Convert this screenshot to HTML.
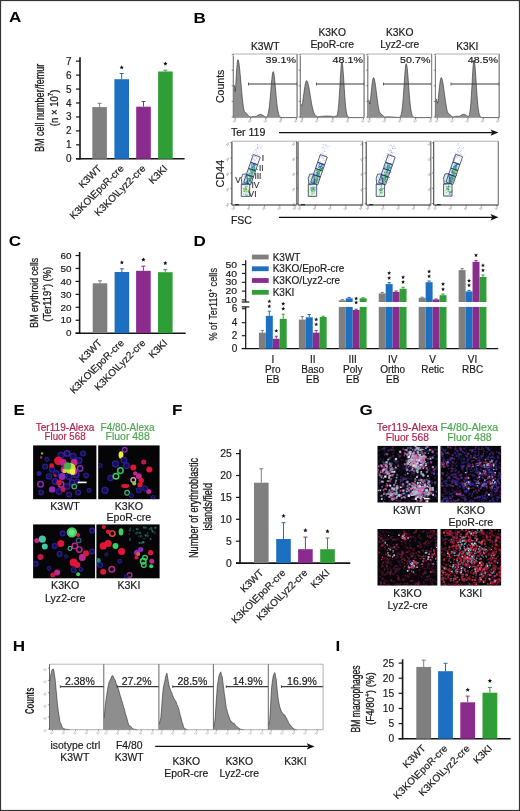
<!DOCTYPE html>
<html><head><meta charset="utf-8"><title>Figure</title>
<style>html,body{margin:0;padding:0;background:#fff;} body{width:520px;height:811px;overflow:hidden;font-family:"Liberation Sans", sans-serif;} svg{display:block;filter:blur(0.25px);}</style>
</head><body>
<svg width="520" height="811" viewBox="0 0 520 811" font-family='"Liberation Sans", sans-serif'><text transform="translate(8.90 22.30) scale(1.1 1)" font-size="15.5" font-weight="bold" fill="#000">A</text>
<text transform="translate(193.60 22.60) scale(1.1 1)" font-size="15.5" font-weight="bold" fill="#000">B</text>
<text transform="translate(8.70 245.80) scale(1.1 1)" font-size="15.5" font-weight="bold" fill="#000">C</text>
<text transform="translate(193.60 245.70) scale(1.1 1)" font-size="15.5" font-weight="bold" fill="#000">D</text>
<text transform="translate(13.60 414.90) scale(1.1 1)" font-size="15.5" font-weight="bold" fill="#000">E</text>
<text transform="translate(172.00 414.90) scale(1.1 1)" font-size="15.5" font-weight="bold" fill="#000">F</text>
<text transform="translate(359.60 414.90) scale(1.1 1)" font-size="15.5" font-weight="bold" fill="#000">G</text>
<text transform="translate(12.70 650.80) scale(1.1 1)" font-size="15.5" font-weight="bold" fill="#000">H</text>
<text transform="translate(335.60 650.80) scale(1.1 1)" font-size="15.5" font-weight="bold" fill="#000">I</text>
<line x1="80.00" y1="57.30" x2="80.00" y2="159.50" stroke="#151515" stroke-width="1.6"/>
<line x1="76.00" y1="158.80" x2="184.60" y2="158.80" stroke="#151515" stroke-width="1.6"/>
<line x1="76.00" y1="158.80" x2="80.00" y2="158.80" stroke="#151515" stroke-width="1.2"/>
<text x="71.60" y="162.30" font-size="10" fill="#1a1a1a" text-anchor="end" stroke="#1a1a1a" stroke-width="0.18">0</text>
<line x1="76.00" y1="144.85" x2="80.00" y2="144.85" stroke="#151515" stroke-width="1.2"/>
<text x="71.60" y="148.35" font-size="10" fill="#1a1a1a" text-anchor="end" stroke="#1a1a1a" stroke-width="0.18">1</text>
<line x1="76.00" y1="130.90" x2="80.00" y2="130.90" stroke="#151515" stroke-width="1.2"/>
<text x="71.60" y="134.40" font-size="10" fill="#1a1a1a" text-anchor="end" stroke="#1a1a1a" stroke-width="0.18">2</text>
<line x1="76.00" y1="116.95" x2="80.00" y2="116.95" stroke="#151515" stroke-width="1.2"/>
<text x="71.60" y="120.45" font-size="10" fill="#1a1a1a" text-anchor="end" stroke="#1a1a1a" stroke-width="0.18">3</text>
<line x1="76.00" y1="103.00" x2="80.00" y2="103.00" stroke="#151515" stroke-width="1.2"/>
<text x="71.60" y="106.50" font-size="10" fill="#1a1a1a" text-anchor="end" stroke="#1a1a1a" stroke-width="0.18">4</text>
<line x1="76.00" y1="89.05" x2="80.00" y2="89.05" stroke="#151515" stroke-width="1.2"/>
<text x="71.60" y="92.55" font-size="10" fill="#1a1a1a" text-anchor="end" stroke="#1a1a1a" stroke-width="0.18">5</text>
<line x1="76.00" y1="75.10" x2="80.00" y2="75.10" stroke="#151515" stroke-width="1.2"/>
<text x="71.60" y="78.60" font-size="10" fill="#1a1a1a" text-anchor="end" stroke="#1a1a1a" stroke-width="0.18">6</text>
<line x1="76.00" y1="61.15" x2="80.00" y2="61.15" stroke="#151515" stroke-width="1.2"/>
<text x="71.60" y="64.65" font-size="10" fill="#1a1a1a" text-anchor="end" stroke="#1a1a1a" stroke-width="0.18">7</text>
<rect x="92.30" y="107.10" width="14.60" height="51.70" fill="#7f7f7f"/>
<line x1="99.60" y1="107.10" x2="99.60" y2="103.30" stroke="#7f7f7f" stroke-width="1"/>
<line x1="97.60" y1="103.30" x2="101.60" y2="103.30" stroke="#7f7f7f" stroke-width="1"/>
<rect x="114.40" y="79.20" width="14.60" height="79.60" fill="#1d6fc1"/>
<line x1="121.70" y1="79.20" x2="121.70" y2="73.50" stroke="#1d6fc1" stroke-width="1"/>
<line x1="119.70" y1="73.50" x2="123.70" y2="73.50" stroke="#1d6fc1" stroke-width="1"/>
<rect x="136.20" y="106.70" width="14.60" height="52.10" fill="#8c2b8e"/>
<line x1="143.50" y1="106.70" x2="143.50" y2="101.50" stroke="#8c2b8e" stroke-width="1"/>
<line x1="141.50" y1="101.50" x2="145.50" y2="101.50" stroke="#8c2b8e" stroke-width="1"/>
<rect x="158.10" y="71.50" width="14.60" height="87.30" fill="#2f9e37"/>
<line x1="165.40" y1="71.50" x2="165.40" y2="70.20" stroke="#2f9e37" stroke-width="1"/>
<line x1="163.40" y1="70.20" x2="167.40" y2="70.20" stroke="#2f9e37" stroke-width="1"/>
<polygon points="121.70,65.20 122.31,66.66 123.89,66.79 122.68,67.82 123.05,69.36 121.70,68.53 120.35,69.36 120.72,67.82 119.51,66.79 121.09,66.66" fill="#111"/>
<polygon points="165.40,61.40 166.01,62.86 167.59,62.99 166.38,64.02 166.75,65.56 165.40,64.73 164.05,65.56 164.42,64.02 163.21,62.99 164.79,62.86" fill="#111"/>
<text x="102.30" y="169.10" font-size="10.0" fill="#1a1a1a" text-anchor="end" transform="rotate(-45 102.30 169.10)" stroke="#1a1a1a" stroke-width="0.18">K3WT</text>
<text x="124.40" y="169.10" font-size="10.0" fill="#1a1a1a" text-anchor="end" transform="rotate(-45 124.40 169.10)" stroke="#1a1a1a" stroke-width="0.18">K3KO\EpoR-cre</text>
<text x="146.20" y="169.10" font-size="10.0" fill="#1a1a1a" text-anchor="end" transform="rotate(-45 146.20 169.10)" stroke="#1a1a1a" stroke-width="0.18">K3KO\Lyz2-cre</text>
<text x="168.10" y="169.10" font-size="10.0" fill="#1a1a1a" text-anchor="end" transform="rotate(-45 168.10 169.10)" stroke="#1a1a1a" stroke-width="0.18">K3KI</text>
<text x="44.10" y="107.90" font-size="12.5" fill="#1a1a1a" text-anchor="middle" textLength="88.20" lengthAdjust="spacingAndGlyphs" transform="rotate(-90 44.10 107.90)" stroke="#1a1a1a" stroke-width="0.3">BM cell number/femur</text>
<text x="58.00" y="107.90" font-size="11.5" fill="#1a1a1a" text-anchor="middle" textLength="36.50" lengthAdjust="spacingAndGlyphs" transform="rotate(-90 58.00 107.90)" stroke="#1a1a1a" stroke-width="0.3">(n × 10<tspan font-size="7.5" dy="-4.5">7</tspan><tspan dy="4.5">)</tspan></text>
<line x1="79.60" y1="252.00" x2="79.60" y2="333.90" stroke="#151515" stroke-width="1.6"/>
<line x1="75.60" y1="333.20" x2="185.70" y2="333.20" stroke="#151515" stroke-width="1.6"/>
<line x1="75.60" y1="333.20" x2="79.60" y2="333.20" stroke="#151515" stroke-width="1.2"/>
<text x="71.40" y="336.40" font-size="9" fill="#1a1a1a" text-anchor="end" textLength="5.50" lengthAdjust="spacingAndGlyphs" stroke="#1a1a1a" stroke-width="0.18">0</text>
<line x1="75.60" y1="320.25" x2="79.60" y2="320.25" stroke="#151515" stroke-width="1.2"/>
<text x="71.40" y="323.45" font-size="9" fill="#1a1a1a" text-anchor="end" textLength="11.00" lengthAdjust="spacingAndGlyphs" stroke="#1a1a1a" stroke-width="0.18">10</text>
<line x1="75.60" y1="307.30" x2="79.60" y2="307.30" stroke="#151515" stroke-width="1.2"/>
<text x="71.40" y="310.50" font-size="9" fill="#1a1a1a" text-anchor="end" textLength="11.00" lengthAdjust="spacingAndGlyphs" stroke="#1a1a1a" stroke-width="0.18">20</text>
<line x1="75.60" y1="294.35" x2="79.60" y2="294.35" stroke="#151515" stroke-width="1.2"/>
<text x="71.40" y="297.55" font-size="9" fill="#1a1a1a" text-anchor="end" textLength="11.00" lengthAdjust="spacingAndGlyphs" stroke="#1a1a1a" stroke-width="0.18">30</text>
<line x1="75.60" y1="281.40" x2="79.60" y2="281.40" stroke="#151515" stroke-width="1.2"/>
<text x="71.40" y="284.60" font-size="9" fill="#1a1a1a" text-anchor="end" textLength="11.00" lengthAdjust="spacingAndGlyphs" stroke="#1a1a1a" stroke-width="0.18">40</text>
<line x1="75.60" y1="268.45" x2="79.60" y2="268.45" stroke="#151515" stroke-width="1.2"/>
<text x="71.40" y="271.65" font-size="9" fill="#1a1a1a" text-anchor="end" textLength="11.00" lengthAdjust="spacingAndGlyphs" stroke="#1a1a1a" stroke-width="0.18">50</text>
<line x1="75.60" y1="255.50" x2="79.60" y2="255.50" stroke="#151515" stroke-width="1.2"/>
<text x="71.40" y="258.70" font-size="9" fill="#1a1a1a" text-anchor="end" textLength="11.00" lengthAdjust="spacingAndGlyphs" stroke="#1a1a1a" stroke-width="0.18">60</text>
<rect x="92.70" y="283.30" width="14.60" height="49.90" fill="#7f7f7f"/>
<line x1="100.00" y1="283.30" x2="100.00" y2="280.80" stroke="#7f7f7f" stroke-width="1"/>
<line x1="98.00" y1="280.80" x2="102.00" y2="280.80" stroke="#7f7f7f" stroke-width="1"/>
<rect x="114.60" y="272.00" width="14.60" height="61.20" fill="#1d6fc1"/>
<line x1="121.90" y1="272.00" x2="121.90" y2="268.80" stroke="#1d6fc1" stroke-width="1"/>
<line x1="119.90" y1="268.80" x2="123.90" y2="268.80" stroke="#1d6fc1" stroke-width="1"/>
<rect x="136.10" y="270.80" width="14.60" height="62.40" fill="#8c2b8e"/>
<line x1="143.40" y1="270.80" x2="143.40" y2="266.20" stroke="#8c2b8e" stroke-width="1"/>
<line x1="141.40" y1="266.20" x2="145.40" y2="266.20" stroke="#8c2b8e" stroke-width="1"/>
<rect x="158.00" y="272.20" width="14.60" height="61.00" fill="#2f9e37"/>
<line x1="165.30" y1="272.20" x2="165.30" y2="269.70" stroke="#2f9e37" stroke-width="1"/>
<line x1="163.30" y1="269.70" x2="167.30" y2="269.70" stroke="#2f9e37" stroke-width="1"/>
<polygon points="121.90,260.20 122.51,261.66 124.09,261.79 122.88,262.82 123.25,264.36 121.90,263.54 120.55,264.36 120.92,262.82 119.71,261.79 121.29,261.66" fill="#111"/>
<polygon points="143.40,257.40 144.01,258.86 145.59,258.99 144.38,260.02 144.75,261.56 143.40,260.74 142.05,261.56 142.42,260.02 141.21,258.99 142.79,258.86" fill="#111"/>
<polygon points="165.30,260.90 165.91,262.36 167.49,262.49 166.28,263.52 166.65,265.06 165.30,264.24 163.95,265.06 164.32,263.52 163.11,262.49 164.69,262.36" fill="#111"/>
<text x="102.70" y="343.50" font-size="10.0" fill="#1a1a1a" text-anchor="end" transform="rotate(-45 102.70 343.50)" stroke="#1a1a1a" stroke-width="0.18">K3WT</text>
<text x="124.60" y="343.50" font-size="10.0" fill="#1a1a1a" text-anchor="end" transform="rotate(-45 124.60 343.50)" stroke="#1a1a1a" stroke-width="0.18">K3KO\EpoR-cre</text>
<text x="146.10" y="343.50" font-size="10.0" fill="#1a1a1a" text-anchor="end" transform="rotate(-45 146.10 343.50)" stroke="#1a1a1a" stroke-width="0.18">K3KO\Lyz2-cre</text>
<text x="168.00" y="343.50" font-size="10.0" fill="#1a1a1a" text-anchor="end" transform="rotate(-45 168.00 343.50)" stroke="#1a1a1a" stroke-width="0.18">K3KI</text>
<text x="37.50" y="292.75" font-size="11.8" fill="#1a1a1a" text-anchor="middle" textLength="69.90" lengthAdjust="spacingAndGlyphs" transform="rotate(-90 37.50 292.75)" stroke="#1a1a1a" stroke-width="0.3">BM erythroid cells</text>
<text x="51.40" y="294.30" font-size="10.8" fill="#1a1a1a" text-anchor="middle" textLength="54.70" lengthAdjust="spacingAndGlyphs" transform="rotate(-90 51.40 294.30)" stroke="#1a1a1a" stroke-width="0.3">(Ter119<tspan font-size="7.5" dy="-4">+</tspan><tspan dy="4">) (%)</tspan></text>
<line x1="240.00" y1="449.60" x2="240.00" y2="563.80" stroke="#151515" stroke-width="1.6"/>
<line x1="236.00" y1="563.10" x2="350.30" y2="563.10" stroke="#151515" stroke-width="1.6"/>
<line x1="236.00" y1="563.10" x2="240.00" y2="563.10" stroke="#151515" stroke-width="1.2"/>
<text x="231.70" y="566.60" font-size="10.4" fill="#1a1a1a" text-anchor="end" stroke="#1a1a1a" stroke-width="0.18">0</text>
<line x1="236.00" y1="541.20" x2="240.00" y2="541.20" stroke="#151515" stroke-width="1.2"/>
<text x="231.70" y="544.70" font-size="10.4" fill="#1a1a1a" text-anchor="end" stroke="#1a1a1a" stroke-width="0.18">5</text>
<line x1="236.00" y1="519.30" x2="240.00" y2="519.30" stroke="#151515" stroke-width="1.2"/>
<text x="231.70" y="522.80" font-size="10.4" fill="#1a1a1a" text-anchor="end" stroke="#1a1a1a" stroke-width="0.18">10</text>
<line x1="236.00" y1="497.40" x2="240.00" y2="497.40" stroke="#151515" stroke-width="1.2"/>
<text x="231.70" y="500.90" font-size="10.4" fill="#1a1a1a" text-anchor="end" stroke="#1a1a1a" stroke-width="0.18">15</text>
<line x1="236.00" y1="475.50" x2="240.00" y2="475.50" stroke="#151515" stroke-width="1.2"/>
<text x="231.70" y="479.00" font-size="10.4" fill="#1a1a1a" text-anchor="end" stroke="#1a1a1a" stroke-width="0.18">20</text>
<line x1="236.00" y1="453.60" x2="240.00" y2="453.60" stroke="#151515" stroke-width="1.2"/>
<text x="231.70" y="457.10" font-size="10.4" fill="#1a1a1a" text-anchor="end" stroke="#1a1a1a" stroke-width="0.18">25</text>
<rect x="254.00" y="482.70" width="14.60" height="80.40" fill="#7f7f7f"/>
<line x1="261.30" y1="482.70" x2="261.30" y2="468.80" stroke="#7f7f7f" stroke-width="1"/>
<line x1="259.30" y1="468.80" x2="263.30" y2="468.80" stroke="#7f7f7f" stroke-width="1"/>
<rect x="276.20" y="539.00" width="14.60" height="24.10" fill="#1d6fc1"/>
<line x1="283.50" y1="539.00" x2="283.50" y2="522.70" stroke="#1d6fc1" stroke-width="1"/>
<line x1="281.50" y1="522.70" x2="285.50" y2="522.70" stroke="#1d6fc1" stroke-width="1"/>
<rect x="298.10" y="549.20" width="14.60" height="13.90" fill="#8c2b8e"/>
<line x1="305.40" y1="549.20" x2="305.40" y2="537.10" stroke="#8c2b8e" stroke-width="1"/>
<line x1="303.40" y1="537.10" x2="307.40" y2="537.10" stroke="#8c2b8e" stroke-width="1"/>
<rect x="320.20" y="549.20" width="14.60" height="13.90" fill="#2f9e37"/>
<line x1="327.50" y1="549.20" x2="327.50" y2="538.00" stroke="#2f9e37" stroke-width="1"/>
<line x1="325.50" y1="538.00" x2="329.50" y2="538.00" stroke="#2f9e37" stroke-width="1"/>
<polygon points="283.50,513.70 284.11,515.16 285.69,515.29 284.48,516.32 284.85,517.86 283.50,517.03 282.15,517.86 282.52,516.32 281.31,515.29 282.89,515.16" fill="#111"/>
<polygon points="305.40,528.10 306.01,529.56 307.59,529.69 306.38,530.72 306.75,532.26 305.40,531.44 304.05,532.26 304.42,530.72 303.21,529.69 304.79,529.56" fill="#111"/>
<polygon points="327.50,529.10 328.11,530.56 329.69,530.69 328.48,531.72 328.85,533.26 327.50,532.44 326.15,533.26 326.52,531.72 325.31,530.69 326.89,530.56" fill="#111"/>
<text x="264.00" y="573.40" font-size="10.0" fill="#1a1a1a" text-anchor="end" transform="rotate(-45 264.00 573.40)" stroke="#1a1a1a" stroke-width="0.18">K3WT</text>
<text x="286.20" y="573.40" font-size="10.0" fill="#1a1a1a" text-anchor="end" transform="rotate(-45 286.20 573.40)" stroke="#1a1a1a" stroke-width="0.18">K3KO\EpoR-cre</text>
<text x="308.10" y="573.40" font-size="10.0" fill="#1a1a1a" text-anchor="end" transform="rotate(-45 308.10 573.40)" stroke="#1a1a1a" stroke-width="0.18">K3KO\Lyz2-cre</text>
<text x="330.20" y="573.40" font-size="10.0" fill="#1a1a1a" text-anchor="end" transform="rotate(-45 330.20 573.40)" stroke="#1a1a1a" stroke-width="0.18">K3KI</text>
<text x="198.10" y="508.00" font-size="12.5" fill="#1a1a1a" text-anchor="middle" textLength="100.20" lengthAdjust="spacingAndGlyphs" transform="rotate(-90 198.10 508.00)" stroke="#1a1a1a" stroke-width="0.3">Number of erythroblastic</text>
<text x="212.00" y="506.80" font-size="12.5" fill="#1a1a1a" text-anchor="middle" textLength="47.50" lengthAdjust="spacingAndGlyphs" transform="rotate(-90 212.00 506.80)" stroke="#1a1a1a" stroke-width="0.3">islands/field</text>
<line x1="402.60" y1="659.30" x2="402.60" y2="739.40" stroke="#151515" stroke-width="1.6"/>
<line x1="398.60" y1="738.70" x2="510.60" y2="738.70" stroke="#151515" stroke-width="1.6"/>
<line x1="398.60" y1="738.70" x2="402.60" y2="738.70" stroke="#151515" stroke-width="1.2"/>
<text x="394.10" y="742.10" font-size="10.2" fill="#1a1a1a" text-anchor="end" stroke="#1a1a1a" stroke-width="0.18">0</text>
<line x1="398.60" y1="723.58" x2="402.60" y2="723.58" stroke="#151515" stroke-width="1.2"/>
<text x="394.10" y="726.98" font-size="10.2" fill="#1a1a1a" text-anchor="end" stroke="#1a1a1a" stroke-width="0.18">5</text>
<line x1="398.60" y1="708.46" x2="402.60" y2="708.46" stroke="#151515" stroke-width="1.2"/>
<text x="394.10" y="711.86" font-size="10.2" fill="#1a1a1a" text-anchor="end" stroke="#1a1a1a" stroke-width="0.18">10</text>
<line x1="398.60" y1="693.34" x2="402.60" y2="693.34" stroke="#151515" stroke-width="1.2"/>
<text x="394.10" y="696.74" font-size="10.2" fill="#1a1a1a" text-anchor="end" stroke="#1a1a1a" stroke-width="0.18">15</text>
<line x1="398.60" y1="678.22" x2="402.60" y2="678.22" stroke="#151515" stroke-width="1.2"/>
<text x="394.10" y="681.62" font-size="10.2" fill="#1a1a1a" text-anchor="end" stroke="#1a1a1a" stroke-width="0.18">20</text>
<line x1="398.60" y1="663.10" x2="402.60" y2="663.10" stroke="#151515" stroke-width="1.2"/>
<text x="394.10" y="666.50" font-size="10.2" fill="#1a1a1a" text-anchor="end" stroke="#1a1a1a" stroke-width="0.18">25</text>
<rect x="416.30" y="666.90" width="14.80" height="71.80" fill="#7f7f7f"/>
<line x1="423.70" y1="666.90" x2="423.70" y2="660.20" stroke="#7f7f7f" stroke-width="1"/>
<line x1="421.70" y1="660.20" x2="425.70" y2="660.20" stroke="#7f7f7f" stroke-width="1"/>
<rect x="438.10" y="671.20" width="14.80" height="67.50" fill="#1d6fc1"/>
<line x1="445.50" y1="671.20" x2="445.50" y2="663.30" stroke="#1d6fc1" stroke-width="1"/>
<line x1="443.50" y1="663.30" x2="447.50" y2="663.30" stroke="#1d6fc1" stroke-width="1"/>
<rect x="460.30" y="702.30" width="14.80" height="36.40" fill="#8c2b8e"/>
<line x1="467.70" y1="702.30" x2="467.70" y2="696.10" stroke="#8c2b8e" stroke-width="1"/>
<line x1="465.70" y1="696.10" x2="469.70" y2="696.10" stroke="#8c2b8e" stroke-width="1"/>
<rect x="482.50" y="692.70" width="14.80" height="46.00" fill="#2f9e37"/>
<line x1="489.90" y1="692.70" x2="489.90" y2="687.40" stroke="#2f9e37" stroke-width="1"/>
<line x1="487.90" y1="687.40" x2="491.90" y2="687.40" stroke="#2f9e37" stroke-width="1"/>
<polygon points="467.70,687.50 468.31,688.96 469.89,689.09 468.68,690.12 469.05,691.66 467.70,690.84 466.35,691.66 466.72,690.12 465.51,689.09 467.09,688.96" fill="#111"/>
<polygon points="489.90,678.60 490.51,680.06 492.09,680.19 490.88,681.22 491.25,682.76 489.90,681.94 488.55,682.76 488.92,681.22 487.71,680.19 489.29,680.06" fill="#111"/>
<text x="426.40" y="749.00" font-size="10.0" fill="#1a1a1a" text-anchor="end" transform="rotate(-45 426.40 749.00)" stroke="#1a1a1a" stroke-width="0.18">K3WT</text>
<text x="448.20" y="749.00" font-size="10.0" fill="#1a1a1a" text-anchor="end" transform="rotate(-45 448.20 749.00)" stroke="#1a1a1a" stroke-width="0.18">K3KO\EpoR-cre</text>
<text x="470.40" y="749.00" font-size="10.0" fill="#1a1a1a" text-anchor="end" transform="rotate(-45 470.40 749.00)" stroke="#1a1a1a" stroke-width="0.18">K3KO\Lyz2-cre</text>
<text x="492.60" y="749.00" font-size="10.0" fill="#1a1a1a" text-anchor="end" transform="rotate(-45 492.60 749.00)" stroke="#1a1a1a" stroke-width="0.18">K3KI</text>
<text x="360.30" y="698.90" font-size="12.3" fill="#1a1a1a" text-anchor="middle" textLength="67.00" lengthAdjust="spacingAndGlyphs" transform="rotate(-90 360.30 698.90)" stroke="#1a1a1a" stroke-width="0.3">BM macrophages</text>
<text x="373.80" y="698.60" font-size="10.8" fill="#1a1a1a" text-anchor="middle" textLength="52.70" lengthAdjust="spacingAndGlyphs" transform="rotate(-90 373.80 698.60)" stroke="#1a1a1a" stroke-width="0.3">(F4/80<tspan font-size="7.5" dy="-4">+</tspan><tspan dy="4">) (%)</tspan></text>
<line x1="245.70" y1="260.30" x2="245.70" y2="302.00" stroke="#111" stroke-width="1.2"/>
<line x1="241.70" y1="302.00" x2="249.30" y2="302.00" stroke="#111" stroke-width="1.2"/>
<line x1="241.70" y1="306.90" x2="249.30" y2="306.90" stroke="#111" stroke-width="1.2"/>
<line x1="245.70" y1="306.90" x2="245.70" y2="348.70" stroke="#111" stroke-width="1.2"/>
<line x1="241.70" y1="348.70" x2="498.20" y2="348.70" stroke="#111" stroke-width="1.3"/>
<line x1="241.90" y1="264.60" x2="245.70" y2="264.60" stroke="#111" stroke-width="1.1"/>
<text x="237.00" y="267.70" font-size="9" fill="#1a1a1a" text-anchor="end" textLength="11.60" lengthAdjust="spacingAndGlyphs" stroke="#1a1a1a" stroke-width="0.18">50</text>
<line x1="241.90" y1="273.40" x2="245.70" y2="273.40" stroke="#111" stroke-width="1.1"/>
<text x="237.00" y="276.50" font-size="9" fill="#1a1a1a" text-anchor="end" textLength="11.60" lengthAdjust="spacingAndGlyphs" stroke="#1a1a1a" stroke-width="0.18">40</text>
<line x1="241.90" y1="282.30" x2="245.70" y2="282.30" stroke="#111" stroke-width="1.1"/>
<text x="237.00" y="285.40" font-size="9" fill="#1a1a1a" text-anchor="end" textLength="11.60" lengthAdjust="spacingAndGlyphs" stroke="#1a1a1a" stroke-width="0.18">30</text>
<line x1="241.90" y1="291.10" x2="245.70" y2="291.10" stroke="#111" stroke-width="1.1"/>
<text x="237.00" y="294.20" font-size="9" fill="#1a1a1a" text-anchor="end" textLength="11.60" lengthAdjust="spacingAndGlyphs" stroke="#1a1a1a" stroke-width="0.18">20</text>
<line x1="241.90" y1="299.90" x2="245.70" y2="299.90" stroke="#111" stroke-width="1.1"/>
<text x="237.00" y="303.00" font-size="9" fill="#1a1a1a" text-anchor="end" textLength="11.60" lengthAdjust="spacingAndGlyphs" stroke="#1a1a1a" stroke-width="0.18">10</text>
<line x1="241.90" y1="308.75" x2="245.70" y2="308.75" stroke="#111" stroke-width="1.1"/>
<text x="237.20" y="312.15" font-size="10" fill="#1a1a1a" text-anchor="end" stroke="#1a1a1a" stroke-width="0.18">6</text>
<line x1="241.90" y1="322.70" x2="245.70" y2="322.70" stroke="#111" stroke-width="1.1"/>
<text x="237.20" y="326.10" font-size="10" fill="#1a1a1a" text-anchor="end" stroke="#1a1a1a" stroke-width="0.18">4</text>
<line x1="241.90" y1="335.70" x2="245.70" y2="335.70" stroke="#111" stroke-width="1.1"/>
<text x="237.20" y="339.10" font-size="10" fill="#1a1a1a" text-anchor="end" stroke="#1a1a1a" stroke-width="0.18">2</text>
<text x="237.20" y="352.10" font-size="10" fill="#1a1a1a" text-anchor="end" stroke="#1a1a1a" stroke-width="0.18">0</text>
<rect x="251.90" y="254.60" width="16.80" height="4.80" fill="#7f7f7f"/>
<text x="272.70" y="260.60" font-size="10" fill="#1a1a1a" stroke="#1a1a1a" stroke-width="0.18">K3WT</text>
<rect x="251.90" y="266.35" width="16.80" height="4.80" fill="#1d6fc1"/>
<text x="272.70" y="272.35" font-size="10" fill="#1a1a1a" stroke="#1a1a1a" stroke-width="0.18">K3KO/EpoR-cre</text>
<rect x="251.90" y="278.10" width="16.80" height="4.80" fill="#8c2b8e"/>
<text x="272.70" y="284.10" font-size="10" fill="#1a1a1a" stroke="#1a1a1a" stroke-width="0.18">K3KO/Lyz2-cre</text>
<rect x="251.90" y="289.90" width="16.80" height="4.80" fill="#2f9e37"/>
<text x="272.70" y="295.90" font-size="10" fill="#1a1a1a" stroke="#1a1a1a" stroke-width="0.18">K3KI</text>
<rect x="258.90" y="332.70" width="6.95" height="16.00" fill="#7f7f7f"/>
<line x1="262.38" y1="332.70" x2="262.38" y2="330.40" stroke="#7f7f7f" stroke-width="1"/>
<line x1="260.77" y1="330.40" x2="263.98" y2="330.40" stroke="#7f7f7f" stroke-width="1"/>
<rect x="265.85" y="315.80" width="6.95" height="32.90" fill="#1d6fc1"/>
<line x1="269.32" y1="315.80" x2="269.32" y2="311.20" stroke="#1d6fc1" stroke-width="1"/>
<line x1="267.72" y1="311.20" x2="270.93" y2="311.20" stroke="#1d6fc1" stroke-width="1"/>
<polygon points="269.32,299.30 269.88,300.64 271.32,300.75 270.22,301.69 270.56,303.10 269.32,302.34 268.09,303.10 268.43,301.69 267.33,300.75 268.77,300.64" fill="#111"/>
<polygon points="269.32,304.20 269.88,305.54 271.32,305.65 270.22,306.59 270.56,308.00 269.32,307.25 268.09,308.00 268.43,306.59 267.33,305.65 268.77,305.54" fill="#111"/>
<rect x="272.80" y="338.80" width="6.95" height="9.90" fill="#8c2b8e"/>
<line x1="276.27" y1="338.80" x2="276.27" y2="336.20" stroke="#8c2b8e" stroke-width="1"/>
<line x1="274.67" y1="336.20" x2="277.88" y2="336.20" stroke="#8c2b8e" stroke-width="1"/>
<polygon points="276.27,328.80 276.83,330.14 278.27,330.25 277.17,331.19 277.51,332.60 276.27,331.84 275.04,332.60 275.38,331.19 274.28,330.25 275.72,330.14" fill="#111"/>
<rect x="279.75" y="318.80" width="6.95" height="29.90" fill="#2f9e37"/>
<line x1="283.23" y1="318.80" x2="283.23" y2="314.20" stroke="#2f9e37" stroke-width="1"/>
<line x1="281.62" y1="314.20" x2="284.83" y2="314.20" stroke="#2f9e37" stroke-width="1"/>
<polygon points="283.23,301.60 283.78,302.94 285.22,303.05 284.12,303.99 284.46,305.40 283.23,304.64 281.99,305.40 282.33,303.99 281.23,303.05 282.67,302.94" fill="#111"/>
<polygon points="283.23,306.60 283.78,307.94 285.22,308.05 284.12,308.99 284.46,310.40 283.23,309.64 281.99,310.40 282.33,308.99 281.23,308.05 282.67,307.94" fill="#111"/>
<rect x="298.85" y="319.60" width="6.95" height="29.10" fill="#7f7f7f"/>
<line x1="302.32" y1="319.60" x2="302.32" y2="316.50" stroke="#7f7f7f" stroke-width="1"/>
<line x1="300.72" y1="316.50" x2="303.93" y2="316.50" stroke="#7f7f7f" stroke-width="1"/>
<rect x="305.80" y="317.30" width="6.95" height="31.40" fill="#1d6fc1"/>
<line x1="309.27" y1="317.30" x2="309.27" y2="314.50" stroke="#1d6fc1" stroke-width="1"/>
<line x1="307.67" y1="314.50" x2="310.88" y2="314.50" stroke="#1d6fc1" stroke-width="1"/>
<rect x="312.75" y="332.70" width="6.95" height="16.00" fill="#8c2b8e"/>
<line x1="316.22" y1="332.70" x2="316.22" y2="330.40" stroke="#8c2b8e" stroke-width="1"/>
<line x1="314.62" y1="330.40" x2="317.82" y2="330.40" stroke="#8c2b8e" stroke-width="1"/>
<polygon points="316.22,317.40 316.78,318.74 318.22,318.85 317.12,319.79 317.46,321.20 316.22,320.44 314.99,321.20 315.33,319.79 314.23,318.85 315.67,318.74" fill="#111"/>
<polygon points="316.22,322.30 316.78,323.64 318.22,323.75 317.12,324.69 317.46,326.10 316.22,325.34 314.99,326.10 315.33,324.69 314.23,323.75 315.67,323.64" fill="#111"/>
<rect x="319.70" y="317.00" width="6.95" height="31.70" fill="#2f9e37"/>
<line x1="323.18" y1="317.00" x2="323.18" y2="316.20" stroke="#2f9e37" stroke-width="1"/>
<line x1="321.57" y1="316.20" x2="324.78" y2="316.20" stroke="#2f9e37" stroke-width="1"/>
<rect x="338.80" y="300.30" width="6.95" height="1.70" fill="#7f7f7f"/>
<rect x="338.80" y="306.90" width="6.95" height="41.80" fill="#7f7f7f"/>
<line x1="342.27" y1="300.30" x2="342.27" y2="299.60" stroke="#7f7f7f" stroke-width="1"/>
<line x1="340.67" y1="299.60" x2="343.88" y2="299.60" stroke="#7f7f7f" stroke-width="1"/>
<rect x="345.75" y="298.30" width="6.95" height="3.70" fill="#1d6fc1"/>
<rect x="345.75" y="306.90" width="6.95" height="41.80" fill="#1d6fc1"/>
<line x1="349.22" y1="298.30" x2="349.22" y2="297.40" stroke="#1d6fc1" stroke-width="1"/>
<line x1="347.62" y1="297.40" x2="350.82" y2="297.40" stroke="#1d6fc1" stroke-width="1"/>
<rect x="352.70" y="310.00" width="6.95" height="38.70" fill="#8c2b8e"/>
<line x1="356.17" y1="310.00" x2="356.17" y2="309.20" stroke="#8c2b8e" stroke-width="1"/>
<line x1="354.57" y1="309.20" x2="357.77" y2="309.20" stroke="#8c2b8e" stroke-width="1"/>
<polygon points="356.17,296.40 356.73,297.74 358.17,297.85 357.07,298.79 357.41,300.20 356.17,299.44 354.94,300.20 355.28,298.79 354.18,297.85 355.62,297.74" fill="#111"/>
<polygon points="356.17,300.40 356.73,301.74 358.17,301.85 357.07,302.79 357.41,304.20 356.17,303.44 354.94,304.20 355.28,302.79 354.18,301.85 355.62,301.74" fill="#111"/>
<rect x="359.65" y="298.30" width="6.95" height="3.70" fill="#2f9e37"/>
<rect x="359.65" y="306.90" width="6.95" height="41.80" fill="#2f9e37"/>
<line x1="363.12" y1="298.30" x2="363.12" y2="297.80" stroke="#2f9e37" stroke-width="1"/>
<line x1="361.52" y1="297.80" x2="364.73" y2="297.80" stroke="#2f9e37" stroke-width="1"/>
<rect x="378.75" y="293.40" width="6.95" height="8.60" fill="#7f7f7f"/>
<rect x="378.75" y="306.90" width="6.95" height="41.80" fill="#7f7f7f"/>
<line x1="382.23" y1="293.40" x2="382.23" y2="292.50" stroke="#7f7f7f" stroke-width="1"/>
<line x1="380.62" y1="292.50" x2="383.83" y2="292.50" stroke="#7f7f7f" stroke-width="1"/>
<rect x="385.70" y="284.10" width="6.95" height="17.90" fill="#1d6fc1"/>
<rect x="385.70" y="306.90" width="6.95" height="41.80" fill="#1d6fc1"/>
<line x1="389.18" y1="284.10" x2="389.18" y2="282.60" stroke="#1d6fc1" stroke-width="1"/>
<line x1="387.57" y1="282.60" x2="390.78" y2="282.60" stroke="#1d6fc1" stroke-width="1"/>
<polygon points="389.18,270.90 389.73,272.24 391.17,272.35 390.07,273.29 390.41,274.70 389.18,273.94 387.94,274.70 388.28,273.29 387.18,272.35 388.62,272.24" fill="#111"/>
<polygon points="389.18,275.90 389.73,277.24 391.17,277.35 390.07,278.29 390.41,279.70 389.18,278.94 387.94,279.70 388.28,278.29 387.18,277.35 388.62,277.24" fill="#111"/>
<rect x="392.65" y="291.90" width="6.95" height="10.10" fill="#8c2b8e"/>
<rect x="392.65" y="306.90" width="6.95" height="41.80" fill="#8c2b8e"/>
<line x1="396.12" y1="291.90" x2="396.12" y2="291.00" stroke="#8c2b8e" stroke-width="1"/>
<line x1="394.52" y1="291.00" x2="397.73" y2="291.00" stroke="#8c2b8e" stroke-width="1"/>
<rect x="399.60" y="288.70" width="6.95" height="13.30" fill="#2f9e37"/>
<rect x="399.60" y="306.90" width="6.95" height="41.80" fill="#2f9e37"/>
<line x1="403.08" y1="288.70" x2="403.08" y2="287.30" stroke="#2f9e37" stroke-width="1"/>
<line x1="401.48" y1="287.30" x2="404.68" y2="287.30" stroke="#2f9e37" stroke-width="1"/>
<polygon points="403.08,275.10 403.63,276.44 405.07,276.55 403.97,277.49 404.31,278.90 403.08,278.14 401.84,278.90 402.18,277.49 401.08,276.55 402.52,276.44" fill="#111"/>
<polygon points="403.08,279.90 403.63,281.24 405.07,281.35 403.97,282.29 404.31,283.70 403.08,282.94 401.84,283.70 402.18,282.29 401.08,281.35 402.52,281.24" fill="#111"/>
<rect x="418.70" y="297.80" width="6.95" height="4.20" fill="#7f7f7f"/>
<rect x="418.70" y="306.90" width="6.95" height="41.80" fill="#7f7f7f"/>
<line x1="422.18" y1="297.80" x2="422.18" y2="297.20" stroke="#7f7f7f" stroke-width="1"/>
<line x1="420.57" y1="297.20" x2="423.78" y2="297.20" stroke="#7f7f7f" stroke-width="1"/>
<rect x="425.65" y="282.20" width="6.95" height="19.80" fill="#1d6fc1"/>
<rect x="425.65" y="306.90" width="6.95" height="41.80" fill="#1d6fc1"/>
<line x1="429.12" y1="282.20" x2="429.12" y2="281.00" stroke="#1d6fc1" stroke-width="1"/>
<line x1="427.52" y1="281.00" x2="430.73" y2="281.00" stroke="#1d6fc1" stroke-width="1"/>
<polygon points="429.12,269.40 429.68,270.74 431.12,270.85 430.02,271.79 430.36,273.20 429.12,272.44 427.89,273.20 428.23,271.79 427.13,270.85 428.57,270.74" fill="#111"/>
<polygon points="429.12,274.20 429.68,275.54 431.12,275.65 430.02,276.59 430.36,278.00 429.12,277.25 427.89,278.00 428.23,276.59 427.13,275.65 428.57,275.54" fill="#111"/>
<rect x="432.60" y="299.50" width="6.95" height="2.50" fill="#8c2b8e"/>
<rect x="432.60" y="306.90" width="6.95" height="41.80" fill="#8c2b8e"/>
<line x1="436.07" y1="299.50" x2="436.07" y2="299.00" stroke="#8c2b8e" stroke-width="1"/>
<line x1="434.47" y1="299.00" x2="437.68" y2="299.00" stroke="#8c2b8e" stroke-width="1"/>
<rect x="439.55" y="295.20" width="6.95" height="6.80" fill="#2f9e37"/>
<rect x="439.55" y="306.90" width="6.95" height="41.80" fill="#2f9e37"/>
<line x1="443.03" y1="295.20" x2="443.03" y2="294.00" stroke="#2f9e37" stroke-width="1"/>
<line x1="441.43" y1="294.00" x2="444.63" y2="294.00" stroke="#2f9e37" stroke-width="1"/>
<polygon points="443.03,282.00 443.58,283.34 445.02,283.45 443.92,284.39 444.26,285.80 443.03,285.04 441.79,285.80 442.13,284.39 441.03,283.45 442.47,283.34" fill="#111"/>
<polygon points="443.03,287.20 443.58,288.54 445.02,288.65 443.92,289.59 444.26,291.00 443.03,290.25 441.79,291.00 442.13,289.59 441.03,288.65 442.47,288.54" fill="#111"/>
<rect x="458.65" y="270.10" width="6.95" height="31.90" fill="#7f7f7f"/>
<rect x="458.65" y="306.90" width="6.95" height="41.80" fill="#7f7f7f"/>
<line x1="462.12" y1="270.10" x2="462.12" y2="268.60" stroke="#7f7f7f" stroke-width="1"/>
<line x1="460.52" y1="268.60" x2="463.73" y2="268.60" stroke="#7f7f7f" stroke-width="1"/>
<rect x="465.60" y="291.40" width="6.95" height="10.60" fill="#1d6fc1"/>
<rect x="465.60" y="306.90" width="6.95" height="41.80" fill="#1d6fc1"/>
<line x1="469.07" y1="291.40" x2="469.07" y2="290.40" stroke="#1d6fc1" stroke-width="1"/>
<line x1="467.47" y1="290.40" x2="470.68" y2="290.40" stroke="#1d6fc1" stroke-width="1"/>
<polygon points="469.07,278.60 469.63,279.94 471.07,280.05 469.97,280.99 470.31,282.40 469.07,281.64 467.84,282.40 468.18,280.99 467.08,280.05 468.52,279.94" fill="#111"/>
<polygon points="469.07,283.20 469.63,284.54 471.07,284.65 469.97,285.59 470.31,287.00 469.07,286.25 467.84,287.00 468.18,285.59 467.08,284.65 468.52,284.54" fill="#111"/>
<rect x="472.55" y="261.80" width="6.95" height="40.20" fill="#8c2b8e"/>
<rect x="472.55" y="306.90" width="6.95" height="41.80" fill="#8c2b8e"/>
<line x1="476.02" y1="261.80" x2="476.02" y2="260.40" stroke="#8c2b8e" stroke-width="1"/>
<line x1="474.42" y1="260.40" x2="477.62" y2="260.40" stroke="#8c2b8e" stroke-width="1"/>
<polygon points="476.02,253.10 476.58,254.44 478.02,254.55 476.92,255.49 477.26,256.90 476.02,256.14 474.79,256.90 475.13,255.49 474.03,254.55 475.47,254.44" fill="#111"/>
<rect x="479.50" y="277.00" width="6.95" height="25.00" fill="#2f9e37"/>
<rect x="479.50" y="306.90" width="6.95" height="41.80" fill="#2f9e37"/>
<line x1="482.98" y1="277.00" x2="482.98" y2="275.00" stroke="#2f9e37" stroke-width="1"/>
<line x1="481.38" y1="275.00" x2="484.58" y2="275.00" stroke="#2f9e37" stroke-width="1"/>
<polygon points="482.98,263.30 483.53,264.64 484.97,264.75 483.87,265.69 484.21,267.10 482.98,266.34 481.74,267.10 482.08,265.69 480.98,264.75 482.42,264.64" fill="#111"/>
<polygon points="482.98,268.20 483.53,269.54 484.97,269.65 483.87,270.59 484.21,272.00 482.98,271.25 481.74,272.00 482.08,270.59 480.98,269.65 482.42,269.54" fill="#111"/>
<text x="272.80" y="363.00" font-size="10" fill="#1a1a1a" text-anchor="middle" stroke="#1a1a1a" stroke-width="0.18">I</text>
<text x="272.80" y="373.10" font-size="10" fill="#1a1a1a" text-anchor="middle" stroke="#1a1a1a" stroke-width="0.18">Pro</text>
<text x="272.80" y="383.20" font-size="10" fill="#1a1a1a" text-anchor="middle" stroke="#1a1a1a" stroke-width="0.18">EB</text>
<text x="312.75" y="363.00" font-size="10" fill="#1a1a1a" text-anchor="middle" stroke="#1a1a1a" stroke-width="0.18">II</text>
<text x="312.75" y="373.10" font-size="10" fill="#1a1a1a" text-anchor="middle" stroke="#1a1a1a" stroke-width="0.18">Baso</text>
<text x="312.75" y="383.20" font-size="10" fill="#1a1a1a" text-anchor="middle" stroke="#1a1a1a" stroke-width="0.18">EB</text>
<text x="352.70" y="363.00" font-size="10" fill="#1a1a1a" text-anchor="middle" stroke="#1a1a1a" stroke-width="0.18">III</text>
<text x="352.70" y="373.10" font-size="10" fill="#1a1a1a" text-anchor="middle" stroke="#1a1a1a" stroke-width="0.18">Poly</text>
<text x="352.70" y="383.20" font-size="10" fill="#1a1a1a" text-anchor="middle" stroke="#1a1a1a" stroke-width="0.18">EB</text>
<text x="392.65" y="363.00" font-size="10" fill="#1a1a1a" text-anchor="middle" stroke="#1a1a1a" stroke-width="0.18">IV</text>
<text x="392.65" y="373.10" font-size="10" fill="#1a1a1a" text-anchor="middle" stroke="#1a1a1a" stroke-width="0.18">Ortho</text>
<text x="392.65" y="383.20" font-size="10" fill="#1a1a1a" text-anchor="middle" stroke="#1a1a1a" stroke-width="0.18">EB</text>
<text x="432.60" y="363.00" font-size="10" fill="#1a1a1a" text-anchor="middle" stroke="#1a1a1a" stroke-width="0.18">V</text>
<text x="432.60" y="373.10" font-size="10" fill="#1a1a1a" text-anchor="middle" stroke="#1a1a1a" stroke-width="0.18">Retic</text>
<text x="472.55" y="363.00" font-size="10" fill="#1a1a1a" text-anchor="middle" stroke="#1a1a1a" stroke-width="0.18">VI</text>
<text x="472.55" y="373.10" font-size="10" fill="#1a1a1a" text-anchor="middle" stroke="#1a1a1a" stroke-width="0.18">RBC</text>
<text x="217.20" y="304.30" font-size="11" fill="#1a1a1a" text-anchor="middle" textLength="72.60" lengthAdjust="spacingAndGlyphs" transform="rotate(-90 217.20 304.30)" stroke="#1a1a1a" stroke-width="0.18">% of Ter119<tspan font-size="7" dy="-4">+</tspan><tspan dy="4"> cells</tspan></text>
<text x="265.20" y="50.20" font-size="10.3" fill="#1a1a1a" text-anchor="middle" stroke="#1a1a1a" stroke-width="0.18">K3WT</text>
<text x="332.20" y="35.60" font-size="10.3" fill="#1a1a1a" text-anchor="middle" stroke="#1a1a1a" stroke-width="0.18">K3KO</text>
<text x="332.20" y="47.50" font-size="10.3" fill="#1a1a1a" text-anchor="middle" stroke="#1a1a1a" stroke-width="0.18">EpoR-cre</text>
<text x="399.70" y="35.60" font-size="10.3" fill="#1a1a1a" text-anchor="middle" stroke="#1a1a1a" stroke-width="0.18">K3KO</text>
<text x="399.70" y="47.50" font-size="10.3" fill="#1a1a1a" text-anchor="middle" stroke="#1a1a1a" stroke-width="0.18">Lyz2-cre</text>
<text x="467.30" y="50.20" font-size="10.3" fill="#1a1a1a" text-anchor="middle" stroke="#1a1a1a" stroke-width="0.18">K3KI</text>
<rect x="233.30" y="54.00" width="63.80" height="63.60" fill="none" stroke="#a8a8a8" stroke-width="0.9"/>
<path d="M233.80,117.60 L233.80,84.60 L234.30,85.44 L234.80,87.84 L235.30,91.44 L235.80,84.18 L236.30,75.48 L236.80,67.74 L237.30,62.15 L237.80,59.67 L238.30,60.11 L238.80,62.15 L239.30,65.58 L239.80,70.14 L240.30,75.48 L240.80,81.25 L241.30,87.08 L241.80,92.69 L242.30,97.82 L242.80,102.32 L243.30,106.12 L243.80,109.21 L244.30,111.21 L244.80,111.65 L245.30,112.18 L245.80,112.75 L246.30,113.35 L246.80,113.96 L247.30,114.54 L247.80,115.08 L248.30,115.56 L248.80,115.99 L249.30,116.35 L249.80,116.65 L250.30,116.90 L250.80,116.87 L251.30,116.78 L251.80,116.69 L252.30,116.61 L252.80,116.54 L253.30,116.48 L253.80,116.44 L254.30,116.41 L254.80,116.40 L255.30,116.41 L255.80,116.44 L256.30,116.34 L256.80,116.04 L257.30,115.72 L257.80,115.40 L258.30,115.10 L258.80,114.82 L259.30,114.61 L259.80,114.46 L260.30,114.40 L260.80,114.43 L261.30,114.54 L261.80,114.73 L262.30,114.98 L262.80,115.28 L263.30,115.59 L263.80,115.92 L264.30,116.23 L264.80,116.51 L265.30,116.76 L265.80,116.97 L266.30,117.09 L266.80,116.64 L267.30,115.89 L267.80,114.68 L268.30,112.84 L268.80,110.22 L269.30,106.68 L269.80,102.17 L270.30,96.83 L270.80,90.91 L271.30,84.90 L271.80,79.38 L272.30,74.99 L272.80,72.29 L273.30,71.64 L273.80,73.02 L274.30,76.19 L274.80,80.77 L275.30,86.23 L275.80,92.02 L276.30,97.63 L276.80,102.67 L277.30,106.91 L277.80,110.27 L278.30,112.79 L278.80,114.58 L279.30,115.78 L279.80,116.55 L280.30,117.02 L280.80,117.29 L281.30,117.45 L281.80,117.53 L282.30,117.57 L282.80,117.58 L283.30,117.59 L283.80,117.60 L284.30,117.60 L284.80,117.60 L285.30,117.60 L285.80,117.60 L286.30,117.60 L286.80,117.60 L287.30,117.60 L287.80,117.60 L288.30,117.60 L288.80,117.60 L289.30,117.60 L289.80,117.60 L290.30,117.60 L290.80,117.60 L291.30,117.60 L291.80,117.60 L292.30,117.60 L292.80,117.60 L293.30,117.60 L293.80,117.60 L294.30,117.60 L294.80,117.60 L295.30,117.60 L295.80,117.60 L296.30,117.60 L296.30,117.60 Z" fill="#8e8e8e" stroke="none"/>
<path d="M233.80,84.60 L234.30,85.44 L234.80,87.84 L235.30,91.44 L235.80,84.18 L236.30,75.48 L236.80,67.74 L237.30,62.15 L237.80,59.67 L238.30,60.11 L238.80,62.15 L239.30,65.58 L239.80,70.14 L240.30,75.48 L240.80,81.25 L241.30,87.08 L241.80,92.69 L242.30,97.82 L242.80,102.32 L243.30,106.12 L243.80,109.21 L244.30,111.21 L244.80,111.65 L245.30,112.18 L245.80,112.75 L246.30,113.35 L246.80,113.96 L247.30,114.54 L247.80,115.08 L248.30,115.56 L248.80,115.99 L249.30,116.35 L249.80,116.65 L250.30,116.90 L250.80,116.87 L251.30,116.78 L251.80,116.69 L252.30,116.61 L252.80,116.54 L253.30,116.48 L253.80,116.44 L254.30,116.41 L254.80,116.40 L255.30,116.41 L255.80,116.44 L256.30,116.34 L256.80,116.04 L257.30,115.72 L257.80,115.40 L258.30,115.10 L258.80,114.82 L259.30,114.61 L259.80,114.46 L260.30,114.40 L260.80,114.43 L261.30,114.54 L261.80,114.73 L262.30,114.98 L262.80,115.28 L263.30,115.59 L263.80,115.92 L264.30,116.23 L264.80,116.51 L265.30,116.76 L265.80,116.97 L266.30,117.09 L266.80,116.64 L267.30,115.89 L267.80,114.68 L268.30,112.84 L268.80,110.22 L269.30,106.68 L269.80,102.17 L270.30,96.83 L270.80,90.91 L271.30,84.90 L271.80,79.38 L272.30,74.99 L272.80,72.29 L273.30,71.64 L273.80,73.02 L274.30,76.19 L274.80,80.77 L275.30,86.23 L275.80,92.02 L276.30,97.63 L276.80,102.67 L277.30,106.91 L277.80,110.27 L278.30,112.79 L278.80,114.58 L279.30,115.78 L279.80,116.55 L280.30,117.02 L280.80,117.29 L281.30,117.45 L281.80,117.53 L282.30,117.57 L282.80,117.58 L283.30,117.59 L283.80,117.60 L284.30,117.60 L284.80,117.60 L285.30,117.60 L285.80,117.60 L286.30,117.60 L286.80,117.60 L287.30,117.60 L287.80,117.60 L288.30,117.60 L288.80,117.60 L289.30,117.60 L289.80,117.60 L290.30,117.60 L290.80,117.60 L291.30,117.60 L291.80,117.60 L292.30,117.60 L292.80,117.60 L293.30,117.60 L293.80,117.60 L294.30,117.60 L294.80,117.60 L295.30,117.60 L295.80,117.60 L296.30,117.60" fill="none" stroke="#2a2a2a" stroke-width="0.6"/>
<line x1="233.30" y1="56.00" x2="233.30" y2="117.60" stroke="#666" stroke-width="0.8"/>
<line x1="231.70" y1="117.00" x2="233.30" y2="117.00" stroke="#555" stroke-width="0.7"/>
<line x1="231.70" y1="101.40" x2="233.30" y2="101.40" stroke="#555" stroke-width="0.7"/>
<line x1="231.70" y1="85.80" x2="233.30" y2="85.80" stroke="#555" stroke-width="0.7"/>
<line x1="231.70" y1="70.20" x2="233.30" y2="70.20" stroke="#555" stroke-width="0.7"/>
<line x1="231.70" y1="54.60" x2="233.30" y2="54.60" stroke="#555" stroke-width="0.7"/>
<line x1="235.30" y1="117.60" x2="235.30" y2="119.20" stroke="#555" stroke-width="0.7"/>
<text x="235.30" y="121.80" font-size="3.2" fill="#666" text-anchor="middle" transform="rotate(-45 235.30 121.80)">10</text>
<line x1="250.60" y1="117.60" x2="250.60" y2="119.20" stroke="#555" stroke-width="0.7"/>
<text x="250.60" y="121.80" font-size="3.2" fill="#666" text-anchor="middle" transform="rotate(-45 250.60 121.80)">10</text>
<line x1="265.90" y1="117.60" x2="265.90" y2="119.20" stroke="#555" stroke-width="0.7"/>
<text x="265.90" y="121.80" font-size="3.2" fill="#666" text-anchor="middle" transform="rotate(-45 265.90 121.80)">10</text>
<line x1="281.20" y1="117.60" x2="281.20" y2="119.20" stroke="#555" stroke-width="0.7"/>
<text x="281.20" y="121.80" font-size="3.2" fill="#666" text-anchor="middle" transform="rotate(-45 281.20 121.80)">10</text>
<line x1="296.50" y1="117.60" x2="296.50" y2="119.20" stroke="#555" stroke-width="0.7"/>
<text x="296.50" y="121.80" font-size="3.2" fill="#666" text-anchor="middle" transform="rotate(-45 296.50 121.80)">10</text>
<line x1="248.50" y1="84.00" x2="297.10" y2="84.00" stroke="#3c3c3c" stroke-width="1.1"/>
<line x1="248.50" y1="82.50" x2="248.50" y2="85.50" stroke="#3c3c3c" stroke-width="0.8"/>
<line x1="296.80" y1="82.50" x2="296.80" y2="85.50" stroke="#3c3c3c" stroke-width="0.8"/>
<text x="295.90" y="63.00" font-size="9.6" fill="#1a1a1a" text-anchor="end" textLength="30.30" lengthAdjust="spacingAndGlyphs" stroke="#1a1a1a" stroke-width="0.18">39.1%</text>
<line x1="297.10" y1="54.00" x2="297.10" y2="117.60" stroke="#8a8a8a" stroke-width="1.2"/>
<rect x="300.30" y="54.00" width="63.80" height="63.60" fill="none" stroke="#a8a8a8" stroke-width="0.9"/>
<path d="M300.80,117.60 L300.80,104.10 L301.30,104.52 L301.80,105.69 L302.30,104.35 L302.80,101.01 L303.30,97.40 L303.80,93.66 L304.30,90.02 L304.80,86.70 L305.30,83.92 L305.80,81.89 L306.30,80.78 L306.80,80.66 L307.30,81.29 L307.80,82.60 L308.30,84.50 L308.80,86.90 L309.30,89.67 L309.80,92.68 L310.30,95.78 L310.80,98.87 L311.30,101.82 L311.80,104.56 L312.30,107.04 L312.80,109.20 L313.30,111.05 L313.80,112.59 L314.30,113.84 L314.80,114.84 L315.30,115.48 L315.80,115.78 L316.30,116.08 L316.80,116.37 L317.30,116.63 L317.80,116.75 L318.30,116.69 L318.80,116.63 L319.30,116.57 L319.80,116.51 L320.30,116.45 L320.80,116.39 L321.30,116.34 L321.80,116.28 L322.30,116.23 L322.80,116.19 L323.30,116.15 L323.80,116.11 L324.30,116.08 L324.80,116.05 L325.30,116.03 L325.80,116.01 L326.30,116.00 L326.80,116.00 L327.30,116.00 L327.80,116.01 L328.30,116.03 L328.80,116.05 L329.30,116.08 L329.80,116.11 L330.30,116.15 L330.80,116.19 L331.30,116.23 L331.80,116.28 L332.30,116.34 L332.80,116.39 L333.30,116.45 L333.80,116.51 L334.30,116.47 L334.80,116.28 L335.30,116.15 L335.80,116.10 L336.30,116.15 L336.80,116.09 L337.30,114.64 L337.80,112.19 L338.30,108.38 L338.80,102.94 L339.30,95.84 L339.80,87.47 L340.30,78.67 L340.80,70.66 L341.30,64.80 L341.80,62.18 L342.30,63.10 L342.80,66.97 L343.30,73.16 L343.80,80.74 L344.30,88.72 L344.80,96.21 L345.30,102.63 L345.80,107.71 L346.30,111.42 L346.80,113.95 L347.30,115.57 L347.80,116.53 L348.30,117.07 L348.80,117.35 L349.30,117.49 L349.80,117.55 L350.30,117.58 L350.80,117.58 L351.30,117.59 L351.80,117.59 L352.30,117.59 L352.80,117.59 L353.30,117.59 L353.80,117.59 L354.30,117.60 L354.80,117.60 L355.30,117.60 L355.80,117.60 L356.30,117.60 L356.80,117.60 L357.30,117.60 L357.80,117.60 L358.30,117.60 L358.80,117.60 L359.30,117.60 L359.80,117.60 L360.30,117.60 L360.80,117.60 L361.30,117.60 L361.80,117.60 L362.30,117.60 L362.80,117.60 L363.30,117.60 L363.30,117.60 Z" fill="#8e8e8e" stroke="none"/>
<path d="M300.80,104.10 L301.30,104.52 L301.80,105.69 L302.30,104.35 L302.80,101.01 L303.30,97.40 L303.80,93.66 L304.30,90.02 L304.80,86.70 L305.30,83.92 L305.80,81.89 L306.30,80.78 L306.80,80.66 L307.30,81.29 L307.80,82.60 L308.30,84.50 L308.80,86.90 L309.30,89.67 L309.80,92.68 L310.30,95.78 L310.80,98.87 L311.30,101.82 L311.80,104.56 L312.30,107.04 L312.80,109.20 L313.30,111.05 L313.80,112.59 L314.30,113.84 L314.80,114.84 L315.30,115.48 L315.80,115.78 L316.30,116.08 L316.80,116.37 L317.30,116.63 L317.80,116.75 L318.30,116.69 L318.80,116.63 L319.30,116.57 L319.80,116.51 L320.30,116.45 L320.80,116.39 L321.30,116.34 L321.80,116.28 L322.30,116.23 L322.80,116.19 L323.30,116.15 L323.80,116.11 L324.30,116.08 L324.80,116.05 L325.30,116.03 L325.80,116.01 L326.30,116.00 L326.80,116.00 L327.30,116.00 L327.80,116.01 L328.30,116.03 L328.80,116.05 L329.30,116.08 L329.80,116.11 L330.30,116.15 L330.80,116.19 L331.30,116.23 L331.80,116.28 L332.30,116.34 L332.80,116.39 L333.30,116.45 L333.80,116.51 L334.30,116.47 L334.80,116.28 L335.30,116.15 L335.80,116.10 L336.30,116.15 L336.80,116.09 L337.30,114.64 L337.80,112.19 L338.30,108.38 L338.80,102.94 L339.30,95.84 L339.80,87.47 L340.30,78.67 L340.80,70.66 L341.30,64.80 L341.80,62.18 L342.30,63.10 L342.80,66.97 L343.30,73.16 L343.80,80.74 L344.30,88.72 L344.80,96.21 L345.30,102.63 L345.80,107.71 L346.30,111.42 L346.80,113.95 L347.30,115.57 L347.80,116.53 L348.30,117.07 L348.80,117.35 L349.30,117.49 L349.80,117.55 L350.30,117.58 L350.80,117.58 L351.30,117.59 L351.80,117.59 L352.30,117.59 L352.80,117.59 L353.30,117.59 L353.80,117.59 L354.30,117.60 L354.80,117.60 L355.30,117.60 L355.80,117.60 L356.30,117.60 L356.80,117.60 L357.30,117.60 L357.80,117.60 L358.30,117.60 L358.80,117.60 L359.30,117.60 L359.80,117.60 L360.30,117.60 L360.80,117.60 L361.30,117.60 L361.80,117.60 L362.30,117.60 L362.80,117.60 L363.30,117.60" fill="none" stroke="#2a2a2a" stroke-width="0.6"/>
<line x1="300.30" y1="56.00" x2="300.30" y2="117.60" stroke="#666" stroke-width="0.8"/>
<line x1="298.70" y1="117.00" x2="300.30" y2="117.00" stroke="#555" stroke-width="0.7"/>
<line x1="298.70" y1="101.40" x2="300.30" y2="101.40" stroke="#555" stroke-width="0.7"/>
<line x1="298.70" y1="85.80" x2="300.30" y2="85.80" stroke="#555" stroke-width="0.7"/>
<line x1="298.70" y1="70.20" x2="300.30" y2="70.20" stroke="#555" stroke-width="0.7"/>
<line x1="298.70" y1="54.60" x2="300.30" y2="54.60" stroke="#555" stroke-width="0.7"/>
<line x1="302.30" y1="117.60" x2="302.30" y2="119.20" stroke="#555" stroke-width="0.7"/>
<text x="302.30" y="121.80" font-size="3.2" fill="#666" text-anchor="middle" transform="rotate(-45 302.30 121.80)">10</text>
<line x1="317.60" y1="117.60" x2="317.60" y2="119.20" stroke="#555" stroke-width="0.7"/>
<text x="317.60" y="121.80" font-size="3.2" fill="#666" text-anchor="middle" transform="rotate(-45 317.60 121.80)">10</text>
<line x1="332.90" y1="117.60" x2="332.90" y2="119.20" stroke="#555" stroke-width="0.7"/>
<text x="332.90" y="121.80" font-size="3.2" fill="#666" text-anchor="middle" transform="rotate(-45 332.90 121.80)">10</text>
<line x1="348.20" y1="117.60" x2="348.20" y2="119.20" stroke="#555" stroke-width="0.7"/>
<text x="348.20" y="121.80" font-size="3.2" fill="#666" text-anchor="middle" transform="rotate(-45 348.20 121.80)">10</text>
<line x1="363.50" y1="117.60" x2="363.50" y2="119.20" stroke="#555" stroke-width="0.7"/>
<text x="363.50" y="121.80" font-size="3.2" fill="#666" text-anchor="middle" transform="rotate(-45 363.50 121.80)">10</text>
<line x1="316.50" y1="84.00" x2="364.10" y2="84.00" stroke="#3c3c3c" stroke-width="1.1"/>
<line x1="316.50" y1="82.50" x2="316.50" y2="85.50" stroke="#3c3c3c" stroke-width="0.8"/>
<line x1="363.80" y1="82.50" x2="363.80" y2="85.50" stroke="#3c3c3c" stroke-width="0.8"/>
<text x="362.90" y="63.00" font-size="9.6" fill="#1a1a1a" text-anchor="end" textLength="30.30" lengthAdjust="spacingAndGlyphs" stroke="#1a1a1a" stroke-width="0.18">48.1%</text>
<line x1="364.10" y1="54.00" x2="364.10" y2="117.60" stroke="#8a8a8a" stroke-width="1.2"/>
<rect x="367.80" y="54.00" width="63.80" height="63.60" fill="none" stroke="#a8a8a8" stroke-width="0.9"/>
<path d="M368.30,117.60 L368.30,99.60 L368.80,100.15 L369.30,101.72 L369.80,104.01 L370.30,101.16 L370.80,96.36 L371.30,91.32 L371.80,86.47 L372.30,82.30 L372.80,79.27 L373.30,77.74 L373.80,77.80 L374.30,79.00 L374.80,81.18 L375.30,84.19 L375.80,87.79 L376.30,91.72 L376.80,95.76 L377.30,99.67 L377.80,103.28 L378.30,106.48 L378.80,109.20 L379.30,111.43 L379.80,112.87 L380.30,113.19 L380.80,113.60 L381.30,114.07 L381.80,114.57 L382.30,115.07 L382.80,115.54 L383.30,115.98 L383.80,116.35 L384.30,116.67 L384.80,116.92 L385.30,116.89 L385.80,116.87 L386.30,116.84 L386.80,116.82 L387.30,116.81 L387.80,116.80 L388.30,116.80 L388.80,116.80 L389.30,116.81 L389.80,116.82 L390.30,116.84 L390.80,116.87 L391.30,116.89 L391.80,116.93 L392.30,116.96 L392.80,117.00 L393.30,117.03 L393.80,117.07 L394.30,117.11 L394.80,117.16 L395.30,117.19 L395.80,117.23 L396.30,117.27 L396.80,117.31 L397.30,117.34 L397.80,117.37 L398.30,117.40 L398.80,117.43 L399.30,117.36 L399.80,117.08 L400.30,116.56 L400.80,115.62 L401.30,114.05 L401.80,111.59 L402.30,107.97 L402.80,103.04 L403.30,96.79 L403.80,89.50 L404.30,81.74 L404.80,74.36 L405.30,68.34 L405.80,64.57 L406.30,63.65 L406.80,65.26 L407.30,68.98 L407.80,74.36 L408.30,80.78 L408.80,87.57 L409.30,94.15 L409.80,100.07 L410.30,105.05 L410.80,109.00 L411.30,111.95 L411.80,114.05 L412.30,115.46 L412.80,116.37 L413.30,116.92 L413.80,117.24 L414.30,117.42 L414.80,117.51 L415.30,117.56 L415.80,117.58 L416.30,117.59 L416.80,117.60 L417.30,117.60 L417.80,117.60 L418.30,117.60 L418.80,117.60 L419.30,117.60 L419.80,117.60 L420.30,117.60 L420.80,117.60 L421.30,117.60 L421.80,117.60 L422.30,117.60 L422.80,117.60 L423.30,117.60 L423.80,117.60 L424.30,117.60 L424.80,117.60 L425.30,117.60 L425.80,117.60 L426.30,117.60 L426.80,117.60 L427.30,117.60 L427.80,117.60 L428.30,117.60 L428.80,117.60 L429.30,117.60 L429.80,117.60 L430.30,117.60 L430.80,117.60 L430.80,117.60 Z" fill="#8e8e8e" stroke="none"/>
<path d="M368.30,99.60 L368.80,100.15 L369.30,101.72 L369.80,104.01 L370.30,101.16 L370.80,96.36 L371.30,91.32 L371.80,86.47 L372.30,82.30 L372.80,79.27 L373.30,77.74 L373.80,77.80 L374.30,79.00 L374.80,81.18 L375.30,84.19 L375.80,87.79 L376.30,91.72 L376.80,95.76 L377.30,99.67 L377.80,103.28 L378.30,106.48 L378.80,109.20 L379.30,111.43 L379.80,112.87 L380.30,113.19 L380.80,113.60 L381.30,114.07 L381.80,114.57 L382.30,115.07 L382.80,115.54 L383.30,115.98 L383.80,116.35 L384.30,116.67 L384.80,116.92 L385.30,116.89 L385.80,116.87 L386.30,116.84 L386.80,116.82 L387.30,116.81 L387.80,116.80 L388.30,116.80 L388.80,116.80 L389.30,116.81 L389.80,116.82 L390.30,116.84 L390.80,116.87 L391.30,116.89 L391.80,116.93 L392.30,116.96 L392.80,117.00 L393.30,117.03 L393.80,117.07 L394.30,117.11 L394.80,117.16 L395.30,117.19 L395.80,117.23 L396.30,117.27 L396.80,117.31 L397.30,117.34 L397.80,117.37 L398.30,117.40 L398.80,117.43 L399.30,117.36 L399.80,117.08 L400.30,116.56 L400.80,115.62 L401.30,114.05 L401.80,111.59 L402.30,107.97 L402.80,103.04 L403.30,96.79 L403.80,89.50 L404.30,81.74 L404.80,74.36 L405.30,68.34 L405.80,64.57 L406.30,63.65 L406.80,65.26 L407.30,68.98 L407.80,74.36 L408.30,80.78 L408.80,87.57 L409.30,94.15 L409.80,100.07 L410.30,105.05 L410.80,109.00 L411.30,111.95 L411.80,114.05 L412.30,115.46 L412.80,116.37 L413.30,116.92 L413.80,117.24 L414.30,117.42 L414.80,117.51 L415.30,117.56 L415.80,117.58 L416.30,117.59 L416.80,117.60 L417.30,117.60 L417.80,117.60 L418.30,117.60 L418.80,117.60 L419.30,117.60 L419.80,117.60 L420.30,117.60 L420.80,117.60 L421.30,117.60 L421.80,117.60 L422.30,117.60 L422.80,117.60 L423.30,117.60 L423.80,117.60 L424.30,117.60 L424.80,117.60 L425.30,117.60 L425.80,117.60 L426.30,117.60 L426.80,117.60 L427.30,117.60 L427.80,117.60 L428.30,117.60 L428.80,117.60 L429.30,117.60 L429.80,117.60 L430.30,117.60 L430.80,117.60" fill="none" stroke="#2a2a2a" stroke-width="0.6"/>
<line x1="367.80" y1="56.00" x2="367.80" y2="117.60" stroke="#666" stroke-width="0.8"/>
<line x1="366.20" y1="117.00" x2="367.80" y2="117.00" stroke="#555" stroke-width="0.7"/>
<line x1="366.20" y1="101.40" x2="367.80" y2="101.40" stroke="#555" stroke-width="0.7"/>
<line x1="366.20" y1="85.80" x2="367.80" y2="85.80" stroke="#555" stroke-width="0.7"/>
<line x1="366.20" y1="70.20" x2="367.80" y2="70.20" stroke="#555" stroke-width="0.7"/>
<line x1="366.20" y1="54.60" x2="367.80" y2="54.60" stroke="#555" stroke-width="0.7"/>
<line x1="369.80" y1="117.60" x2="369.80" y2="119.20" stroke="#555" stroke-width="0.7"/>
<text x="369.80" y="121.80" font-size="3.2" fill="#666" text-anchor="middle" transform="rotate(-45 369.80 121.80)">10</text>
<line x1="385.10" y1="117.60" x2="385.10" y2="119.20" stroke="#555" stroke-width="0.7"/>
<text x="385.10" y="121.80" font-size="3.2" fill="#666" text-anchor="middle" transform="rotate(-45 385.10 121.80)">10</text>
<line x1="400.40" y1="117.60" x2="400.40" y2="119.20" stroke="#555" stroke-width="0.7"/>
<text x="400.40" y="121.80" font-size="3.2" fill="#666" text-anchor="middle" transform="rotate(-45 400.40 121.80)">10</text>
<line x1="415.70" y1="117.60" x2="415.70" y2="119.20" stroke="#555" stroke-width="0.7"/>
<text x="415.70" y="121.80" font-size="3.2" fill="#666" text-anchor="middle" transform="rotate(-45 415.70 121.80)">10</text>
<line x1="431.00" y1="117.60" x2="431.00" y2="119.20" stroke="#555" stroke-width="0.7"/>
<text x="431.00" y="121.80" font-size="3.2" fill="#666" text-anchor="middle" transform="rotate(-45 431.00 121.80)">10</text>
<line x1="383.50" y1="84.00" x2="431.60" y2="84.00" stroke="#3c3c3c" stroke-width="1.1"/>
<line x1="383.50" y1="82.50" x2="383.50" y2="85.50" stroke="#3c3c3c" stroke-width="0.8"/>
<line x1="431.30" y1="82.50" x2="431.30" y2="85.50" stroke="#3c3c3c" stroke-width="0.8"/>
<text x="430.40" y="63.00" font-size="9.6" fill="#1a1a1a" text-anchor="end" textLength="30.30" lengthAdjust="spacingAndGlyphs" stroke="#1a1a1a" stroke-width="0.18">50.7%</text>
<line x1="431.60" y1="54.00" x2="431.60" y2="117.60" stroke="#8a8a8a" stroke-width="1.2"/>
<rect x="435.40" y="54.00" width="63.80" height="63.60" fill="none" stroke="#a8a8a8" stroke-width="0.9"/>
<path d="M435.90,117.60 L435.90,98.60 L436.40,99.18 L436.90,100.83 L437.40,103.26 L437.90,102.06 L438.40,97.35 L438.90,92.33 L439.40,87.41 L439.90,83.06 L440.40,79.76 L440.90,77.91 L441.40,77.68 L441.90,78.55 L442.40,80.32 L442.90,82.86 L443.40,86.02 L443.90,89.58 L444.40,93.34 L444.90,97.10 L445.40,100.70 L445.90,104.00 L446.40,106.92 L446.90,109.41 L447.40,111.48 L447.90,112.87 L448.40,113.19 L448.90,113.60 L449.40,114.07 L449.90,114.57 L450.40,115.07 L450.90,115.54 L451.40,115.98 L451.90,116.35 L452.40,116.67 L452.90,116.92 L453.40,116.86 L453.90,116.75 L454.40,116.65 L454.90,116.54 L455.40,116.45 L455.90,116.36 L456.40,116.30 L456.90,116.24 L457.40,116.21 L457.90,116.20 L458.40,116.21 L458.90,116.24 L459.40,116.30 L459.90,116.01 L460.40,115.68 L460.90,115.33 L461.40,115.00 L461.90,114.70 L462.40,114.46 L462.90,114.29 L463.40,114.21 L463.90,114.22 L464.40,114.32 L464.90,114.50 L465.40,114.76 L465.90,115.07 L466.40,115.40 L466.90,115.74 L467.40,116.08 L467.90,116.38 L468.40,116.65 L468.90,116.04 L469.40,114.54 L469.90,112.01 L470.40,108.06 L470.90,102.43 L471.40,95.09 L471.90,86.44 L472.40,77.34 L472.90,69.06 L473.40,62.99 L473.90,60.28 L474.40,61.14 L474.90,64.81 L475.40,70.72 L475.90,78.07 L476.40,85.94 L476.90,93.52 L477.40,100.21 L477.90,105.67 L478.40,109.83 L478.90,112.79 L479.40,114.78 L479.90,116.03 L480.40,116.77 L480.90,117.18 L481.40,117.40 L481.90,117.51 L482.40,117.56 L482.90,117.58 L483.40,117.59 L483.90,117.60 L484.40,117.60 L484.90,117.60 L485.40,117.60 L485.90,117.60 L486.40,117.60 L486.90,117.60 L487.40,117.60 L487.90,117.60 L488.40,117.60 L488.90,117.60 L489.40,117.60 L489.90,117.60 L490.40,117.60 L490.90,117.60 L491.40,117.60 L491.90,117.60 L492.40,117.60 L492.90,117.60 L493.40,117.60 L493.90,117.60 L494.40,117.60 L494.90,117.60 L495.40,117.60 L495.90,117.60 L496.40,117.60 L496.90,117.60 L497.40,117.60 L497.90,117.60 L498.40,117.60 L498.40,117.60 Z" fill="#8e8e8e" stroke="none"/>
<path d="M435.90,98.60 L436.40,99.18 L436.90,100.83 L437.40,103.26 L437.90,102.06 L438.40,97.35 L438.90,92.33 L439.40,87.41 L439.90,83.06 L440.40,79.76 L440.90,77.91 L441.40,77.68 L441.90,78.55 L442.40,80.32 L442.90,82.86 L443.40,86.02 L443.90,89.58 L444.40,93.34 L444.90,97.10 L445.40,100.70 L445.90,104.00 L446.40,106.92 L446.90,109.41 L447.40,111.48 L447.90,112.87 L448.40,113.19 L448.90,113.60 L449.40,114.07 L449.90,114.57 L450.40,115.07 L450.90,115.54 L451.40,115.98 L451.90,116.35 L452.40,116.67 L452.90,116.92 L453.40,116.86 L453.90,116.75 L454.40,116.65 L454.90,116.54 L455.40,116.45 L455.90,116.36 L456.40,116.30 L456.90,116.24 L457.40,116.21 L457.90,116.20 L458.40,116.21 L458.90,116.24 L459.40,116.30 L459.90,116.01 L460.40,115.68 L460.90,115.33 L461.40,115.00 L461.90,114.70 L462.40,114.46 L462.90,114.29 L463.40,114.21 L463.90,114.22 L464.40,114.32 L464.90,114.50 L465.40,114.76 L465.90,115.07 L466.40,115.40 L466.90,115.74 L467.40,116.08 L467.90,116.38 L468.40,116.65 L468.90,116.04 L469.40,114.54 L469.90,112.01 L470.40,108.06 L470.90,102.43 L471.40,95.09 L471.90,86.44 L472.40,77.34 L472.90,69.06 L473.40,62.99 L473.90,60.28 L474.40,61.14 L474.90,64.81 L475.40,70.72 L475.90,78.07 L476.40,85.94 L476.90,93.52 L477.40,100.21 L477.90,105.67 L478.40,109.83 L478.90,112.79 L479.40,114.78 L479.90,116.03 L480.40,116.77 L480.90,117.18 L481.40,117.40 L481.90,117.51 L482.40,117.56 L482.90,117.58 L483.40,117.59 L483.90,117.60 L484.40,117.60 L484.90,117.60 L485.40,117.60 L485.90,117.60 L486.40,117.60 L486.90,117.60 L487.40,117.60 L487.90,117.60 L488.40,117.60 L488.90,117.60 L489.40,117.60 L489.90,117.60 L490.40,117.60 L490.90,117.60 L491.40,117.60 L491.90,117.60 L492.40,117.60 L492.90,117.60 L493.40,117.60 L493.90,117.60 L494.40,117.60 L494.90,117.60 L495.40,117.60 L495.90,117.60 L496.40,117.60 L496.90,117.60 L497.40,117.60 L497.90,117.60 L498.40,117.60" fill="none" stroke="#2a2a2a" stroke-width="0.6"/>
<line x1="435.40" y1="56.00" x2="435.40" y2="117.60" stroke="#666" stroke-width="0.8"/>
<line x1="433.80" y1="117.00" x2="435.40" y2="117.00" stroke="#555" stroke-width="0.7"/>
<line x1="433.80" y1="101.40" x2="435.40" y2="101.40" stroke="#555" stroke-width="0.7"/>
<line x1="433.80" y1="85.80" x2="435.40" y2="85.80" stroke="#555" stroke-width="0.7"/>
<line x1="433.80" y1="70.20" x2="435.40" y2="70.20" stroke="#555" stroke-width="0.7"/>
<line x1="433.80" y1="54.60" x2="435.40" y2="54.60" stroke="#555" stroke-width="0.7"/>
<line x1="437.40" y1="117.60" x2="437.40" y2="119.20" stroke="#555" stroke-width="0.7"/>
<text x="437.40" y="121.80" font-size="3.2" fill="#666" text-anchor="middle" transform="rotate(-45 437.40 121.80)">10</text>
<line x1="452.70" y1="117.60" x2="452.70" y2="119.20" stroke="#555" stroke-width="0.7"/>
<text x="452.70" y="121.80" font-size="3.2" fill="#666" text-anchor="middle" transform="rotate(-45 452.70 121.80)">10</text>
<line x1="468.00" y1="117.60" x2="468.00" y2="119.20" stroke="#555" stroke-width="0.7"/>
<text x="468.00" y="121.80" font-size="3.2" fill="#666" text-anchor="middle" transform="rotate(-45 468.00 121.80)">10</text>
<line x1="483.30" y1="117.60" x2="483.30" y2="119.20" stroke="#555" stroke-width="0.7"/>
<text x="483.30" y="121.80" font-size="3.2" fill="#666" text-anchor="middle" transform="rotate(-45 483.30 121.80)">10</text>
<line x1="498.60" y1="117.60" x2="498.60" y2="119.20" stroke="#555" stroke-width="0.7"/>
<text x="498.60" y="121.80" font-size="3.2" fill="#666" text-anchor="middle" transform="rotate(-45 498.60 121.80)">10</text>
<line x1="451.00" y1="84.00" x2="499.20" y2="84.00" stroke="#3c3c3c" stroke-width="1.1"/>
<line x1="451.00" y1="82.50" x2="451.00" y2="85.50" stroke="#3c3c3c" stroke-width="0.8"/>
<line x1="498.90" y1="82.50" x2="498.90" y2="85.50" stroke="#3c3c3c" stroke-width="0.8"/>
<text x="498.00" y="63.00" font-size="9.6" fill="#1a1a1a" text-anchor="end" textLength="30.30" lengthAdjust="spacingAndGlyphs" stroke="#1a1a1a" stroke-width="0.18">48.5%</text>
<line x1="499.20" y1="54.00" x2="499.20" y2="117.60" stroke="#8a8a8a" stroke-width="1.2"/>
<text x="224.00" y="86.30" font-size="10.4" fill="#1a1a1a" text-anchor="middle" textLength="33.40" lengthAdjust="spacingAndGlyphs" transform="rotate(-90 224.00 86.30)" stroke="#1a1a1a" stroke-width="0.18">Counts</text>
<text x="230.90" y="136.40" font-size="10" fill="#1a1a1a" textLength="34.50" lengthAdjust="spacingAndGlyphs" stroke="#1a1a1a" stroke-width="0.18">Ter 119</text>
<line x1="279.00" y1="132.60" x2="492.00" y2="132.60" stroke="#111" stroke-width="1.2"/>
<path d="M498.4,132.6 L490.6,129.4 L492.2,132.6 L490.6,135.8 Z" fill="#111"/>
<rect x="231.90" y="141.20" width="64.60" height="63.80" fill="none" stroke="#a8a8a8" stroke-width="0.9"/>
<line x1="231.90" y1="142.20" x2="231.90" y2="205.00" stroke="#4a4a4a" stroke-width="1.0"/>
<line x1="231.90" y1="205.00" x2="296.50" y2="205.00" stroke="#4a4a4a" stroke-width="1.0"/>
<line x1="296.50" y1="141.20" x2="296.50" y2="205.00" stroke="#808080" stroke-width="1.1"/>
<line x1="230.30" y1="203.50" x2="231.90" y2="203.50" stroke="#555" stroke-width="0.7"/>
<text x="229.40" y="204.50" font-size="3.2" fill="#666" text-anchor="end" transform="rotate(-45 229.40 204.50)">10</text>
<line x1="230.30" y1="188.30" x2="231.90" y2="188.30" stroke="#555" stroke-width="0.7"/>
<text x="229.40" y="189.30" font-size="3.2" fill="#666" text-anchor="end" transform="rotate(-45 229.40 189.30)">10</text>
<line x1="230.30" y1="173.10" x2="231.90" y2="173.10" stroke="#555" stroke-width="0.7"/>
<text x="229.40" y="174.10" font-size="3.2" fill="#666" text-anchor="end" transform="rotate(-45 229.40 174.10)">10</text>
<line x1="230.30" y1="157.90" x2="231.90" y2="157.90" stroke="#555" stroke-width="0.7"/>
<text x="229.40" y="158.90" font-size="3.2" fill="#666" text-anchor="end" transform="rotate(-45 229.40 158.90)">10</text>
<line x1="230.30" y1="142.70" x2="231.90" y2="142.70" stroke="#555" stroke-width="0.7"/>
<text x="229.40" y="143.70" font-size="3.2" fill="#666" text-anchor="end" transform="rotate(-45 229.40 143.70)">10</text>
<line x1="233.90" y1="205.00" x2="233.90" y2="206.60" stroke="#555" stroke-width="0.7"/>
<text x="233.90" y="209.20" font-size="3.2" fill="#666" text-anchor="middle" transform="rotate(-45 233.90 209.20)">10</text>
<line x1="249.20" y1="205.00" x2="249.20" y2="206.60" stroke="#555" stroke-width="0.7"/>
<text x="249.20" y="209.20" font-size="3.2" fill="#666" text-anchor="middle" transform="rotate(-45 249.20 209.20)">10</text>
<line x1="264.50" y1="205.00" x2="264.50" y2="206.60" stroke="#555" stroke-width="0.7"/>
<text x="264.50" y="209.20" font-size="3.2" fill="#666" text-anchor="middle" transform="rotate(-45 264.50 209.20)">10</text>
<line x1="279.80" y1="205.00" x2="279.80" y2="206.60" stroke="#555" stroke-width="0.7"/>
<text x="279.80" y="209.20" font-size="3.2" fill="#666" text-anchor="middle" transform="rotate(-45 279.80 209.20)">10</text>
<line x1="295.10" y1="205.00" x2="295.10" y2="206.60" stroke="#555" stroke-width="0.7"/>
<text x="295.10" y="209.20" font-size="3.2" fill="#666" text-anchor="middle" transform="rotate(-45 295.10 209.20)">10</text>
<line x1="234.90" y1="204.70" x2="238.90" y2="204.70" stroke="#222" stroke-width="1.2"/>
<polygon points="243.70,182.29 250.62,162.34 257.61,164.77 250.70,184.71" fill="#bfe3ee" fill-opacity="0.55"/>
<rect x="241.30" y="184.20" width="8.40" height="12.20" fill="#c8e8f0" fill-opacity="0.5"/>
<polygon points="246.58,173.98 242.70,174.20 241.30,178.40 241.90,184.20 247.90,183.74" fill="#a8dce0" fill-opacity="0.3"/>
<path d="M244.2 176.1h0.8v0.8h-0.8zM256.1 154.8h0.8v0.8h-0.8zM252.9 163.4h0.8v0.8h-0.8zM252.9 168.0h0.8v0.8h-0.8zM257.8 147.5h0.8v0.8h-0.8zM261.8 145.2h0.8v0.8h-0.8zM257.1 153.9h0.8v0.8h-0.8zM245.0 171.8h0.8v0.8h-0.8zM252.7 158.6h0.8v0.8h-0.8zM251.1 179.5h0.8v0.8h-0.8zM247.7 182.1h0.8v0.8h-0.8zM256.1 157.0h0.8v0.8h-0.8zM247.8 176.1h0.8v0.8h-0.8zM250.2 181.4h0.8v0.8h-0.8zM255.7 149.0h0.8v0.8h-0.8zM255.5 151.5h0.8v0.8h-0.8zM256.9 147.4h0.8v0.8h-0.8zM256.7 158.7h0.8v0.8h-0.8zM259.8 151.3h0.8v0.8h-0.8zM249.0 174.3h0.8v0.8h-0.8zM254.0 153.8h0.8v0.8h-0.8zM250.5 171.4h0.8v0.8h-0.8zM249.4 163.8h0.8v0.8h-0.8zM248.0 174.9h0.8v0.8h-0.8zM262.1 149.5h0.8v0.8h-0.8zM246.3 180.9h0.8v0.8h-0.8zM245.9 179.0h0.8v0.8h-0.8zM259.2 154.0h0.8v0.8h-0.8zM252.8 160.4h0.8v0.8h-0.8zM257.5 147.2h0.8v0.8h-0.8zM246.0 182.3h0.8v0.8h-0.8zM256.1 150.8h0.8v0.8h-0.8zM245.3 178.9h0.8v0.8h-0.8z" fill="#a898d8" fill-opacity="0.5"/>
<path d="M249.5 172.8h0.8v0.8h-0.8zM248.6 169.4h0.8v0.8h-0.8zM261.2 146.6h0.8v0.8h-0.8zM246.3 175.0h0.8v0.8h-0.8zM255.6 162.3h0.8v0.8h-0.8zM246.9 175.5h0.8v0.8h-0.8zM252.0 154.0h0.8v0.8h-0.8zM255.5 155.1h0.8v0.8h-0.8zM245.8 181.1h0.8v0.8h-0.8zM250.5 164.1h0.8v0.8h-0.8zM253.6 157.3h0.8v0.8h-0.8zM250.0 170.4h0.8v0.8h-0.8zM244.3 181.5h0.8v0.8h-0.8zM256.0 158.2h0.8v0.8h-0.8zM253.3 161.5h0.8v0.8h-0.8zM248.9 174.2h0.8v0.8h-0.8zM254.1 160.0h0.8v0.8h-0.8zM246.3 174.3h0.8v0.8h-0.8zM251.7 181.4h0.8v0.8h-0.8zM250.0 176.0h0.8v0.8h-0.8zM250.3 173.3h0.8v0.8h-0.8zM251.2 168.8h0.8v0.8h-0.8zM248.7 168.2h0.8v0.8h-0.8zM251.9 158.3h0.8v0.8h-0.8zM255.5 153.2h0.8v0.8h-0.8zM247.1 170.0h0.8v0.8h-0.8z" fill="#8a96e0" fill-opacity="0.5"/>
<path d="M254.8 148.9h0.8v0.8h-0.8zM247.3 175.2h0.8v0.8h-0.8zM249.1 178.6h0.8v0.8h-0.8zM247.6 176.5h0.8v0.8h-0.8zM249.6 169.8h0.8v0.8h-0.8zM251.1 154.9h0.8v0.8h-0.8zM259.9 147.3h0.8v0.8h-0.8zM256.5 152.0h0.8v0.8h-0.8zM259.7 144.6h0.8v0.8h-0.8zM246.7 177.3h0.8v0.8h-0.8zM252.6 167.2h0.8v0.8h-0.8zM257.3 144.4h0.8v0.8h-0.8zM248.7 175.8h0.8v0.8h-0.8zM247.3 181.9h0.8v0.8h-0.8zM257.4 143.9h0.8v0.8h-0.8zM247.7 170.7h0.8v0.8h-0.8zM257.2 147.7h0.8v0.8h-0.8zM246.3 176.3h0.8v0.8h-0.8zM255.5 158.9h0.8v0.8h-0.8zM255.3 155.6h0.8v0.8h-0.8zM246.1 182.2h0.8v0.8h-0.8zM250.0 171.7h0.8v0.8h-0.8zM252.3 153.3h0.8v0.8h-0.8zM241.5 180.0h0.8v0.8h-0.8zM254.3 158.6h0.8v0.8h-0.8zM240.9 180.0h0.8v0.8h-0.8zM253.8 155.9h0.8v0.8h-0.8zM257.3 146.5h0.8v0.8h-0.8zM247.9 172.1h0.8v0.8h-0.8zM256.8 144.5h0.8v0.8h-0.8zM254.3 168.4h0.8v0.8h-0.8zM249.4 172.7h0.8v0.8h-0.8zM244.0 179.1h0.8v0.8h-0.8zM255.0 156.3h0.8v0.8h-0.8zM255.4 168.8h0.8v0.8h-0.8zM253.7 162.5h0.8v0.8h-0.8zM254.4 162.9h0.8v0.8h-0.8zM250.9 163.2h0.8v0.8h-0.8z" fill="#7080d8" fill-opacity="0.5"/>
<path d="M252.8 159.0h0.8v0.8h-0.8zM251.4 155.0h0.8v0.8h-0.8zM250.4 161.7h0.8v0.8h-0.8zM253.4 152.3h0.8v0.8h-0.8zM247.1 177.1h0.8v0.8h-0.8zM255.9 148.0h0.8v0.8h-0.8zM255.2 159.9h0.8v0.8h-0.8zM254.7 145.7h0.8v0.8h-0.8zM250.4 167.6h0.8v0.8h-0.8zM254.3 150.3h0.8v0.8h-0.8zM256.5 155.1h0.8v0.8h-0.8zM246.7 175.9h0.8v0.8h-0.8zM260.4 148.3h0.8v0.8h-0.8zM247.7 181.6h0.8v0.8h-0.8zM244.8 177.7h0.8v0.8h-0.8zM258.3 149.1h0.8v0.8h-0.8zM258.2 146.7h0.8v0.8h-0.8zM257.7 146.5h0.8v0.8h-0.8zM252.7 159.2h0.8v0.8h-0.8zM253.3 151.3h0.8v0.8h-0.8zM246.8 173.8h0.8v0.8h-0.8zM252.2 167.6h0.8v0.8h-0.8zM254.2 163.8h0.8v0.8h-0.8z" fill="#9aa4e8" fill-opacity="0.5"/>
<path d="M252.2 171.3h1.0v1.0h-1.0zM251.2 175.8h1.0v1.0h-1.0zM247.5 182.5h1.0v1.0h-1.0zM253.2 166.2h1.0v1.0h-1.0zM250.9 170.4h1.0v1.0h-1.0zM250.7 171.2h1.0v1.0h-1.0zM250.9 171.3h1.0v1.0h-1.0zM253.3 165.3h1.0v1.0h-1.0zM247.6 182.7h1.0v1.0h-1.0zM251.7 167.6h1.0v1.0h-1.0zM249.5 176.3h1.0v1.0h-1.0zM247.4 177.9h1.0v1.0h-1.0zM250.8 176.9h1.0v1.0h-1.0zM251.4 164.8h1.0v1.0h-1.0zM245.1 193.8h1.0v1.0h-1.0zM247.9 191.8h1.0v1.0h-1.0zM245.4 186.7h1.0v1.0h-1.0zM246.6 185.8h1.0v1.0h-1.0zM246.3 191.1h1.0v1.0h-1.0zM245.4 186.4h1.0v1.0h-1.0z" fill="#2a9ad0"/>
<path d="M249.1 176.2h1.0v1.0h-1.0zM252.0 167.0h1.0v1.0h-1.0zM252.8 168.6h1.0v1.0h-1.0zM249.4 173.0h1.0v1.0h-1.0zM252.8 168.1h1.0v1.0h-1.0zM252.3 176.2h1.0v1.0h-1.0zM247.9 182.4h1.0v1.0h-1.0zM248.1 178.3h1.0v1.0h-1.0zM249.4 173.3h1.0v1.0h-1.0zM246.0 181.7h1.0v1.0h-1.0zM253.6 165.9h1.0v1.0h-1.0zM253.4 167.5h1.0v1.0h-1.0zM251.0 171.4h1.0v1.0h-1.0zM252.4 166.2h1.0v1.0h-1.0zM251.2 175.4h1.0v1.0h-1.0zM252.3 172.0h1.0v1.0h-1.0zM250.9 168.7h1.0v1.0h-1.0zM250.7 172.2h1.0v1.0h-1.0zM253.5 169.2h1.0v1.0h-1.0zM254.1 168.8h1.0v1.0h-1.0zM249.8 182.6h1.0v1.0h-1.0zM248.7 173.5h1.0v1.0h-1.0zM253.4 167.2h1.0v1.0h-1.0z" fill="#28a0a0"/>
<path d="M248.1 179.8h1.0v1.0h-1.0zM246.2 180.8h1.0v1.0h-1.0zM251.9 166.7h1.0v1.0h-1.0zM252.8 164.0h1.0v1.0h-1.0zM254.0 168.7h1.0v1.0h-1.0zM251.3 164.5h1.0v1.0h-1.0zM248.6 178.0h1.0v1.0h-1.0zM251.2 177.4h1.0v1.0h-1.0zM253.6 164.8h1.0v1.0h-1.0zM253.9 163.6h1.0v1.0h-1.0zM254.0 168.8h1.0v1.0h-1.0zM247.1 182.3h1.0v1.0h-1.0zM254.2 166.7h1.0v1.0h-1.0zM251.1 172.2h1.0v1.0h-1.0zM252.4 172.3h1.0v1.0h-1.0zM245.7 195.5h1.0v1.0h-1.0zM244.9 188.4h1.0v1.0h-1.0zM245.7 188.8h1.0v1.0h-1.0zM245.0 188.5h1.0v1.0h-1.0zM244.1 190.5h1.0v1.0h-1.0zM246.0 188.4h1.0v1.0h-1.0z" fill="#1f5fc8"/>
<path d="M254.1 164.2h1.0v1.0h-1.0zM251.9 173.0h1.0v1.0h-1.0zM251.4 171.8h1.0v1.0h-1.0zM256.0 167.9h1.0v1.0h-1.0zM251.1 167.3h1.0v1.0h-1.0zM246.6 181.4h1.0v1.0h-1.0zM251.7 174.2h1.0v1.0h-1.0zM249.0 174.8h1.0v1.0h-1.0zM249.9 170.3h1.0v1.0h-1.0zM246.3 182.0h1.0v1.0h-1.0zM249.2 180.9h1.0v1.0h-1.0zM246.7 182.6h1.0v1.0h-1.0zM250.1 169.9h1.0v1.0h-1.0z" fill="#35b0c0"/>
<path d="M252.1 175.4h1.0v1.0h-1.0zM251.1 166.4h1.0v1.0h-1.0zM249.4 174.8h1.0v1.0h-1.0zM250.9 175.3h1.0v1.0h-1.0zM253.6 170.5h1.0v1.0h-1.0zM249.9 177.5h1.0v1.0h-1.0zM251.8 170.7h1.0v1.0h-1.0zM251.7 168.9h1.0v1.0h-1.0zM249.2 175.0h1.0v1.0h-1.0zM248.5 179.3h1.0v1.0h-1.0z" fill="#2080d0"/>
<path d="M249.2 180.0h1.0v1.0h-1.0zM247.8 183.1h1.0v1.0h-1.0zM250.3 178.4h1.0v1.0h-1.0zM250.3 180.5h1.0v1.0h-1.0zM254.5 164.7h1.0v1.0h-1.0zM251.7 177.9h1.0v1.0h-1.0zM256.7 169.0h1.0v1.0h-1.0zM247.9 174.7h1.0v1.0h-1.0zM249.5 179.9h1.0v1.0h-1.0zM253.8 170.4h1.0v1.0h-1.0zM247.3 180.9h1.0v1.0h-1.0zM251.7 172.7h1.0v1.0h-1.0zM249.8 179.0h1.0v1.0h-1.0zM252.6 166.7h1.0v1.0h-1.0zM250.7 182.0h1.0v1.0h-1.0z" fill="#1850b0"/>
<path d="M251.6 168.1h1.0v1.0h-1.0zM249.9 179.1h1.0v1.0h-1.0zM249.5 180.8h1.0v1.0h-1.0zM251.2 173.6h1.0v1.0h-1.0zM249.5 175.2h1.0v1.0h-1.0zM249.4 178.3h1.0v1.0h-1.0zM250.9 173.1h1.0v1.0h-1.0zM247.5 181.7h1.0v1.0h-1.0zM247.8 182.1h1.0v1.0h-1.0zM249.3 178.1h1.0v1.0h-1.0zM249.9 176.9h1.0v1.0h-1.0z" fill="#30a060"/>
<path d="M251.6 170.9h1.0v1.0h-1.0zM252.7 168.1h1.0v1.0h-1.0zM249.6 176.6h1.0v1.0h-1.0zM247.5 180.2h1.0v1.0h-1.0zM252.4 170.3h1.0v1.0h-1.0zM248.1 181.4h1.0v1.0h-1.0zM251.7 172.2h1.0v1.0h-1.0zM251.5 172.1h1.0v1.0h-1.0zM251.1 173.1h1.0v1.0h-1.0z" fill="#a0c830"/>
<path d="M251.1 173.8h1.0v1.0h-1.0zM251.7 173.9h1.0v1.0h-1.0zM254.3 167.9h1.0v1.0h-1.0zM251.8 174.3h1.0v1.0h-1.0zM248.5 181.2h1.0v1.0h-1.0zM253.0 169.6h1.0v1.0h-1.0zM251.4 169.5h1.0v1.0h-1.0zM250.1 175.5h1.0v1.0h-1.0zM252.9 167.0h1.0v1.0h-1.0zM247.7 182.0h1.0v1.0h-1.0zM245.8 187.9h1.0v1.0h-1.0zM247.0 194.5h1.0v1.0h-1.0zM247.9 190.0h1.0v1.0h-1.0zM243.9 190.9h1.0v1.0h-1.0zM245.7 191.7h1.0v1.0h-1.0zM243.2 190.7h1.0v1.0h-1.0zM244.2 188.8h1.0v1.0h-1.0z" fill="#7cc840"/>
<path d="M251.3 169.6h1.0v1.0h-1.0zM251.4 172.7h1.0v1.0h-1.0zM251.9 172.0h1.0v1.0h-1.0zM248.2 178.0h1.0v1.0h-1.0zM251.9 168.4h1.0v1.0h-1.0zM253.5 168.6h1.0v1.0h-1.0zM252.1 169.6h1.0v1.0h-1.0zM252.5 167.4h1.0v1.0h-1.0zM250.3 174.7h1.0v1.0h-1.0zM252.4 171.4h1.0v1.0h-1.0zM243.0 188.3h1.0v1.0h-1.0zM244.7 187.6h1.0v1.0h-1.0zM245.1 185.7h1.0v1.0h-1.0zM245.3 189.7h1.0v1.0h-1.0z" fill="#4cb84c"/>
<path d="M243.4 189.3h1.0v1.0h-1.0zM244.1 188.1h1.0v1.0h-1.0zM245.6 187.7h1.0v1.0h-1.0zM245.1 185.9h1.0v1.0h-1.0zM243.2 189.3h1.0v1.0h-1.0zM245.4 194.0h1.0v1.0h-1.0zM245.5 190.9h1.0v1.0h-1.0zM245.4 188.4h1.0v1.0h-1.0zM247.8 188.7h1.0v1.0h-1.0zM244.7 184.5h1.0v1.0h-1.0zM246.4 190.8h1.0v1.0h-1.0zM243.1 193.6h1.0v1.0h-1.0z" fill="#b0c830"/>
<polygon points="243.70,182.29 246.39,174.53 253.38,176.96 250.70,184.71" fill="none" stroke="#30365a" stroke-width="0.8"/>
<polygon points="246.39,174.53 248.50,168.44 255.50,170.86 253.38,176.96" fill="none" stroke="#30365a" stroke-width="0.8"/>
<polygon points="248.50,168.44 250.62,162.34 257.61,164.77 255.50,170.86" fill="none" stroke="#30365a" stroke-width="0.8"/>
<polygon points="250.62,162.34 253.30,154.59 260.30,157.01 257.61,164.77" fill="none" stroke="#30365a" stroke-width="0.8"/>
<polygon points="246.58,173.98 242.70,174.20 241.30,178.40 241.90,184.20 247.90,183.74" fill="none" stroke="#30365a" stroke-width="0.8"/>
<polygon points="241.30,184.20 249.70,184.20 249.70,196.40 241.30,196.40" fill="none" stroke="#30365a" stroke-width="0.8"/>
<text x="261.80" y="161.30" font-size="8.4" fill="#333" stroke="#333" stroke-width="0.18">I</text>
<text x="258.90" y="171.10" font-size="8.4" fill="#333" stroke="#333" stroke-width="0.18">II</text>
<text x="254.40" y="178.80" font-size="8.4" fill="#333" stroke="#333" stroke-width="0.18">III</text>
<text x="235.20" y="183.40" font-size="8.4" fill="#333" stroke="#333" stroke-width="0.18">V</text>
<text x="251.40" y="187.60" font-size="8.4" fill="#333" stroke="#333" stroke-width="0.18">IV</text>
<text x="248.60" y="197.20" font-size="8.4" fill="#333" stroke="#333" stroke-width="0.18">VI</text>
<rect x="298.00" y="141.20" width="64.60" height="63.80" fill="none" stroke="#a8a8a8" stroke-width="0.9"/>
<line x1="298.00" y1="142.20" x2="298.00" y2="205.00" stroke="#4a4a4a" stroke-width="1.0"/>
<line x1="298.00" y1="205.00" x2="362.60" y2="205.00" stroke="#4a4a4a" stroke-width="1.0"/>
<line x1="362.60" y1="141.20" x2="362.60" y2="205.00" stroke="#808080" stroke-width="1.1"/>
<line x1="296.40" y1="203.50" x2="298.00" y2="203.50" stroke="#555" stroke-width="0.7"/>
<text x="295.50" y="204.50" font-size="3.2" fill="#666" text-anchor="end" transform="rotate(-45 295.50 204.50)">10</text>
<line x1="296.40" y1="188.30" x2="298.00" y2="188.30" stroke="#555" stroke-width="0.7"/>
<text x="295.50" y="189.30" font-size="3.2" fill="#666" text-anchor="end" transform="rotate(-45 295.50 189.30)">10</text>
<line x1="296.40" y1="173.10" x2="298.00" y2="173.10" stroke="#555" stroke-width="0.7"/>
<text x="295.50" y="174.10" font-size="3.2" fill="#666" text-anchor="end" transform="rotate(-45 295.50 174.10)">10</text>
<line x1="296.40" y1="157.90" x2="298.00" y2="157.90" stroke="#555" stroke-width="0.7"/>
<text x="295.50" y="158.90" font-size="3.2" fill="#666" text-anchor="end" transform="rotate(-45 295.50 158.90)">10</text>
<line x1="296.40" y1="142.70" x2="298.00" y2="142.70" stroke="#555" stroke-width="0.7"/>
<text x="295.50" y="143.70" font-size="3.2" fill="#666" text-anchor="end" transform="rotate(-45 295.50 143.70)">10</text>
<line x1="300.00" y1="205.00" x2="300.00" y2="206.60" stroke="#555" stroke-width="0.7"/>
<text x="300.00" y="209.20" font-size="3.2" fill="#666" text-anchor="middle" transform="rotate(-45 300.00 209.20)">10</text>
<line x1="315.30" y1="205.00" x2="315.30" y2="206.60" stroke="#555" stroke-width="0.7"/>
<text x="315.30" y="209.20" font-size="3.2" fill="#666" text-anchor="middle" transform="rotate(-45 315.30 209.20)">10</text>
<line x1="330.60" y1="205.00" x2="330.60" y2="206.60" stroke="#555" stroke-width="0.7"/>
<text x="330.60" y="209.20" font-size="3.2" fill="#666" text-anchor="middle" transform="rotate(-45 330.60 209.20)">10</text>
<line x1="345.90" y1="205.00" x2="345.90" y2="206.60" stroke="#555" stroke-width="0.7"/>
<text x="345.90" y="209.20" font-size="3.2" fill="#666" text-anchor="middle" transform="rotate(-45 345.90 209.20)">10</text>
<line x1="361.20" y1="205.00" x2="361.20" y2="206.60" stroke="#555" stroke-width="0.7"/>
<text x="361.20" y="209.20" font-size="3.2" fill="#666" text-anchor="middle" transform="rotate(-45 361.20 209.20)">10</text>
<line x1="301.00" y1="204.70" x2="305.00" y2="204.70" stroke="#222" stroke-width="1.2"/>
<polygon points="310.70,182.29 317.62,162.34 324.61,164.77 317.70,184.71" fill="#bfe3ee" fill-opacity="0.55"/>
<rect x="308.30" y="184.20" width="8.40" height="12.20" fill="#c8e8f0" fill-opacity="0.5"/>
<polygon points="313.58,173.98 309.70,174.20 308.30,178.40 308.90,184.20 314.90,183.74" fill="#a8dce0" fill-opacity="0.5"/>
<path d="M321.8 160.9h0.8v0.8h-0.8zM313.5 180.2h0.8v0.8h-0.8zM315.6 175.7h0.8v0.8h-0.8zM316.2 165.5h0.8v0.8h-0.8zM313.6 174.1h0.8v0.8h-0.8zM319.1 156.3h0.8v0.8h-0.8zM310.1 181.8h0.8v0.8h-0.8zM323.5 152.2h0.8v0.8h-0.8zM315.7 176.2h0.8v0.8h-0.8zM314.5 180.7h0.8v0.8h-0.8zM319.5 165.2h0.8v0.8h-0.8zM315.9 173.2h0.8v0.8h-0.8zM316.5 173.7h0.8v0.8h-0.8zM322.8 158.0h0.8v0.8h-0.8zM315.8 171.5h0.8v0.8h-0.8zM315.6 177.5h0.8v0.8h-0.8zM312.4 177.3h0.8v0.8h-0.8zM316.4 175.4h0.8v0.8h-0.8zM322.5 153.7h0.8v0.8h-0.8zM324.7 144.3h0.8v0.8h-0.8zM317.4 178.0h0.8v0.8h-0.8zM323.5 146.5h0.8v0.8h-0.8zM314.1 173.7h0.8v0.8h-0.8zM313.5 181.8h0.8v0.8h-0.8zM317.9 165.1h0.8v0.8h-0.8zM324.8 156.2h0.8v0.8h-0.8zM318.6 165.2h0.8v0.8h-0.8zM313.5 182.7h0.8v0.8h-0.8zM323.9 151.2h0.8v0.8h-0.8zM320.0 160.8h0.8v0.8h-0.8zM313.0 181.4h0.8v0.8h-0.8zM317.0 170.5h0.8v0.8h-0.8zM315.2 170.0h0.8v0.8h-0.8z" fill="#9aa4e8" fill-opacity="0.5"/>
<path d="M323.2 166.3h0.8v0.8h-0.8zM322.3 160.2h0.8v0.8h-0.8zM324.2 156.4h0.8v0.8h-0.8zM315.8 176.8h0.8v0.8h-0.8zM321.3 151.6h0.8v0.8h-0.8zM324.8 144.8h0.8v0.8h-0.8zM316.2 180.3h0.8v0.8h-0.8zM319.1 164.7h0.8v0.8h-0.8zM318.1 160.8h0.8v0.8h-0.8zM323.8 148.0h0.8v0.8h-0.8zM319.6 162.9h0.8v0.8h-0.8zM313.8 182.3h0.8v0.8h-0.8zM320.7 156.4h0.8v0.8h-0.8zM320.5 166.6h0.8v0.8h-0.8zM328.8 145.9h0.8v0.8h-0.8zM323.0 158.3h0.8v0.8h-0.8zM329.1 145.9h0.8v0.8h-0.8zM321.8 155.9h0.8v0.8h-0.8zM320.5 165.3h0.8v0.8h-0.8zM313.0 181.2h0.8v0.8h-0.8zM315.3 172.2h0.8v0.8h-0.8zM321.1 156.2h0.8v0.8h-0.8zM323.7 159.7h0.8v0.8h-0.8zM325.4 155.2h0.8v0.8h-0.8zM320.2 162.6h0.8v0.8h-0.8zM319.6 161.4h0.8v0.8h-0.8zM312.2 180.6h0.8v0.8h-0.8zM326.1 145.5h0.8v0.8h-0.8zM314.9 173.1h0.8v0.8h-0.8z" fill="#8a96e0" fill-opacity="0.5"/>
<path d="M315.7 169.7h0.8v0.8h-0.8zM316.2 167.0h0.8v0.8h-0.8zM323.7 154.4h0.8v0.8h-0.8zM325.7 144.7h0.8v0.8h-0.8zM324.8 148.2h0.8v0.8h-0.8zM327.4 146.6h0.8v0.8h-0.8zM319.4 155.9h0.8v0.8h-0.8zM322.7 156.6h0.8v0.8h-0.8zM314.4 180.0h0.8v0.8h-0.8zM321.3 157.6h0.8v0.8h-0.8zM323.6 149.6h0.8v0.8h-0.8zM315.9 171.0h0.8v0.8h-0.8zM324.7 155.0h0.8v0.8h-0.8zM325.9 146.2h0.8v0.8h-0.8zM315.4 166.0h0.8v0.8h-0.8zM321.9 157.2h0.8v0.8h-0.8zM319.7 155.4h0.8v0.8h-0.8zM316.7 169.7h0.8v0.8h-0.8zM320.5 171.2h0.8v0.8h-0.8zM326.3 144.5h0.8v0.8h-0.8zM318.0 172.3h0.8v0.8h-0.8zM316.0 166.4h0.8v0.8h-0.8zM322.1 152.6h0.8v0.8h-0.8zM322.2 149.3h0.8v0.8h-0.8zM318.9 163.9h0.8v0.8h-0.8zM324.6 150.8h0.8v0.8h-0.8zM321.1 163.5h0.8v0.8h-0.8zM326.1 154.1h0.8v0.8h-0.8zM320.3 153.3h0.8v0.8h-0.8zM320.9 147.4h0.8v0.8h-0.8zM320.1 161.4h0.8v0.8h-0.8zM324.2 151.1h0.8v0.8h-0.8zM316.2 174.2h0.8v0.8h-0.8zM322.5 145.5h0.8v0.8h-0.8zM318.5 162.6h0.8v0.8h-0.8z" fill="#a898d8" fill-opacity="0.5"/>
<path d="M316.0 173.8h0.8v0.8h-0.8zM319.7 155.4h0.8v0.8h-0.8zM324.6 150.7h0.8v0.8h-0.8zM322.8 144.1h0.8v0.8h-0.8zM317.7 152.3h0.8v0.8h-0.8zM314.6 182.1h0.8v0.8h-0.8zM312.7 178.3h0.8v0.8h-0.8zM316.2 173.8h0.8v0.8h-0.8zM322.1 166.7h0.8v0.8h-0.8zM311.0 177.8h0.8v0.8h-0.8zM322.8 147.1h0.8v0.8h-0.8zM316.3 179.4h0.8v0.8h-0.8zM322.2 153.5h0.8v0.8h-0.8zM322.5 153.5h0.8v0.8h-0.8zM324.3 160.2h0.8v0.8h-0.8zM312.6 179.0h0.8v0.8h-0.8zM316.8 171.5h0.8v0.8h-0.8zM316.9 182.1h0.8v0.8h-0.8zM315.3 179.7h0.8v0.8h-0.8zM315.5 176.8h0.8v0.8h-0.8zM327.5 148.5h0.8v0.8h-0.8zM315.3 177.8h0.8v0.8h-0.8zM316.3 176.8h0.8v0.8h-0.8z" fill="#7080d8" fill-opacity="0.5"/>
<path d="M322.4 164.6h1.0v1.0h-1.0zM316.9 174.8h1.0v1.0h-1.0zM317.8 173.2h1.0v1.0h-1.0zM317.4 179.6h1.0v1.0h-1.0zM316.2 172.1h1.0v1.0h-1.0zM316.8 173.7h1.0v1.0h-1.0zM316.8 171.4h1.0v1.0h-1.0zM313.4 181.7h1.0v1.0h-1.0zM318.1 169.0h1.0v1.0h-1.0zM319.7 170.3h1.0v1.0h-1.0zM317.2 172.0h1.0v1.0h-1.0zM318.4 173.0h1.0v1.0h-1.0zM317.5 181.6h1.0v1.0h-1.0zM321.2 164.2h1.0v1.0h-1.0zM316.0 169.7h1.0v1.0h-1.0zM321.6 168.0h1.0v1.0h-1.0zM319.8 169.2h1.0v1.0h-1.0zM318.8 172.1h1.0v1.0h-1.0z" fill="#28a0a0"/>
<path d="M323.3 164.8h1.0v1.0h-1.0zM317.1 178.4h1.0v1.0h-1.0zM315.7 180.1h1.0v1.0h-1.0zM318.4 175.2h1.0v1.0h-1.0zM313.5 180.9h1.0v1.0h-1.0zM317.9 175.5h1.0v1.0h-1.0zM314.5 176.3h1.0v1.0h-1.0zM316.3 177.5h1.0v1.0h-1.0zM317.4 174.8h1.0v1.0h-1.0zM316.6 172.5h1.0v1.0h-1.0zM319.5 168.3h1.0v1.0h-1.0zM318.9 172.4h1.0v1.0h-1.0zM317.0 174.4h1.0v1.0h-1.0z" fill="#2080d0"/>
<path d="M312.8 180.0h1.0v1.0h-1.0zM316.9 180.0h1.0v1.0h-1.0zM317.3 175.8h1.0v1.0h-1.0zM322.2 167.3h1.0v1.0h-1.0zM313.5 182.0h1.0v1.0h-1.0zM314.7 179.9h1.0v1.0h-1.0zM313.0 181.9h1.0v1.0h-1.0zM321.2 168.8h1.0v1.0h-1.0zM317.1 172.2h1.0v1.0h-1.0zM316.2 178.7h1.0v1.0h-1.0zM312.6 180.7h1.0v1.0h-1.0zM318.4 165.6h1.0v1.0h-1.0zM317.9 182.3h1.0v1.0h-1.0zM321.0 166.1h1.0v1.0h-1.0zM313.3 179.7h1.0v1.0h-1.0zM316.3 180.9h1.0v1.0h-1.0zM320.4 166.7h1.0v1.0h-1.0zM318.8 177.3h1.0v1.0h-1.0z" fill="#35b0c0"/>
<path d="M317.1 173.2h1.0v1.0h-1.0zM318.4 169.8h1.0v1.0h-1.0zM316.7 173.2h1.0v1.0h-1.0zM314.0 174.8h1.0v1.0h-1.0zM316.0 174.1h1.0v1.0h-1.0zM316.6 176.2h1.0v1.0h-1.0zM317.5 170.3h1.0v1.0h-1.0zM318.9 176.1h1.0v1.0h-1.0zM316.1 179.2h1.0v1.0h-1.0zM316.1 182.3h1.0v1.0h-1.0zM317.6 169.5h1.0v1.0h-1.0zM320.0 166.2h1.0v1.0h-1.0zM319.9 169.6h1.0v1.0h-1.0zM315.8 179.0h1.0v1.0h-1.0zM312.7 180.7h1.0v1.0h-1.0zM317.3 178.5h1.0v1.0h-1.0zM313.3 188.7h1.0v1.0h-1.0zM312.5 187.9h1.0v1.0h-1.0zM313.6 190.8h1.0v1.0h-1.0zM313.3 187.2h1.0v1.0h-1.0zM312.2 189.1h1.0v1.0h-1.0zM313.3 189.6h1.0v1.0h-1.0zM310.7 187.3h1.0v1.0h-1.0zM311.0 189.7h1.0v1.0h-1.0zM312.1 188.4h1.0v1.0h-1.0z" fill="#2a9ad0"/>
<path d="M318.1 166.8h1.0v1.0h-1.0zM322.1 166.9h1.0v1.0h-1.0zM319.8 167.8h1.0v1.0h-1.0zM318.4 176.6h1.0v1.0h-1.0zM321.4 165.7h1.0v1.0h-1.0zM317.7 170.8h1.0v1.0h-1.0zM314.5 181.3h1.0v1.0h-1.0zM317.0 172.4h1.0v1.0h-1.0zM317.6 171.6h1.0v1.0h-1.0zM317.6 169.1h1.0v1.0h-1.0zM312.8 182.2h1.0v1.0h-1.0zM320.2 166.5h1.0v1.0h-1.0zM319.8 169.4h1.0v1.0h-1.0zM319.3 164.1h1.0v1.0h-1.0zM313.2 188.3h1.0v1.0h-1.0zM310.5 187.7h1.0v1.0h-1.0zM311.2 190.0h1.0v1.0h-1.0zM314.6 187.2h1.0v1.0h-1.0zM313.4 189.5h1.0v1.0h-1.0z" fill="#1f5fc8"/>
<path d="M318.1 170.9h1.0v1.0h-1.0zM315.9 181.7h1.0v1.0h-1.0zM321.5 163.7h1.0v1.0h-1.0zM320.8 168.1h1.0v1.0h-1.0zM314.8 180.9h1.0v1.0h-1.0zM321.0 165.4h1.0v1.0h-1.0zM319.0 166.2h1.0v1.0h-1.0zM319.7 166.3h1.0v1.0h-1.0zM319.1 170.9h1.0v1.0h-1.0zM314.7 179.2h1.0v1.0h-1.0zM321.5 168.4h1.0v1.0h-1.0z" fill="#1850b0"/>
<path d="M318.0 173.9h1.0v1.0h-1.0zM314.7 177.8h1.0v1.0h-1.0zM316.7 175.6h1.0v1.0h-1.0zM316.7 178.5h1.0v1.0h-1.0zM319.7 167.8h1.0v1.0h-1.0zM318.3 174.0h1.0v1.0h-1.0zM318.4 170.7h1.0v1.0h-1.0zM312.2 186.6h1.0v1.0h-1.0zM313.1 189.1h1.0v1.0h-1.0zM312.1 191.2h1.0v1.0h-1.0zM313.6 192.6h1.0v1.0h-1.0zM311.7 190.6h1.0v1.0h-1.0zM311.5 187.6h1.0v1.0h-1.0z" fill="#4cb84c"/>
<path d="M315.5 179.3h1.0v1.0h-1.0zM317.1 177.4h1.0v1.0h-1.0zM315.4 180.6h1.0v1.0h-1.0zM314.9 179.1h1.0v1.0h-1.0zM319.1 170.2h1.0v1.0h-1.0zM314.6 180.9h1.0v1.0h-1.0zM319.6 169.0h1.0v1.0h-1.0zM319.7 170.0h1.0v1.0h-1.0zM314.8 179.6h1.0v1.0h-1.0zM317.9 174.0h1.0v1.0h-1.0zM319.6 171.0h1.0v1.0h-1.0zM318.3 171.2h1.0v1.0h-1.0zM318.5 169.4h1.0v1.0h-1.0z" fill="#a0c830"/>
<path d="M319.7 167.3h1.0v1.0h-1.0zM318.4 173.2h1.0v1.0h-1.0zM314.7 179.1h1.0v1.0h-1.0zM317.3 171.7h1.0v1.0h-1.0zM316.0 181.2h1.0v1.0h-1.0zM315.8 180.0h1.0v1.0h-1.0zM318.8 174.2h1.0v1.0h-1.0zM316.8 175.8h1.0v1.0h-1.0zM316.9 177.5h1.0v1.0h-1.0zM318.2 171.2h1.0v1.0h-1.0zM316.7 178.4h1.0v1.0h-1.0z" fill="#30a060"/>
<path d="M315.8 177.8h1.0v1.0h-1.0zM320.3 168.2h1.0v1.0h-1.0zM315.4 182.0h1.0v1.0h-1.0zM318.6 171.0h1.0v1.0h-1.0zM318.5 171.7h1.0v1.0h-1.0zM318.0 171.4h1.0v1.0h-1.0zM318.6 170.1h1.0v1.0h-1.0zM314.6 181.1h1.0v1.0h-1.0zM318.5 171.8h1.0v1.0h-1.0zM311.2 189.5h1.0v1.0h-1.0zM310.2 184.7h1.0v1.0h-1.0zM315.0 189.4h1.0v1.0h-1.0zM311.5 187.5h1.0v1.0h-1.0zM313.5 186.5h1.0v1.0h-1.0zM310.8 195.4h1.0v1.0h-1.0zM310.2 189.3h1.0v1.0h-1.0z" fill="#7cc840"/>
<path d="M311.4 190.9h1.0v1.0h-1.0zM307.9 190.6h1.0v1.0h-1.0zM311.4 189.2h1.0v1.0h-1.0zM311.0 191.6h1.0v1.0h-1.0zM311.6 193.8h1.0v1.0h-1.0zM311.5 192.7h1.0v1.0h-1.0zM312.4 193.2h1.0v1.0h-1.0zM313.4 190.0h1.0v1.0h-1.0z" fill="#b0c830"/>
<polygon points="310.70,182.29 313.39,174.53 320.38,176.96 317.70,184.71" fill="none" stroke="#30365a" stroke-width="0.8"/>
<polygon points="313.39,174.53 315.50,168.44 322.50,170.86 320.38,176.96" fill="none" stroke="#30365a" stroke-width="0.8"/>
<polygon points="315.50,168.44 317.62,162.34 324.61,164.77 322.50,170.86" fill="none" stroke="#30365a" stroke-width="0.8"/>
<polygon points="317.62,162.34 320.30,154.59 327.30,157.01 324.61,164.77" fill="none" stroke="#30365a" stroke-width="0.8"/>
<polygon points="313.58,173.98 309.70,174.20 308.30,178.40 308.90,184.20 314.90,183.74" fill="none" stroke="#30365a" stroke-width="0.8"/>
<polygon points="308.30,184.20 316.70,184.20 316.70,196.40 308.30,196.40" fill="none" stroke="#30365a" stroke-width="0.8"/>
<rect x="366.20" y="141.20" width="64.60" height="63.80" fill="none" stroke="#a8a8a8" stroke-width="0.9"/>
<line x1="366.20" y1="142.20" x2="366.20" y2="205.00" stroke="#4a4a4a" stroke-width="1.0"/>
<line x1="366.20" y1="205.00" x2="430.80" y2="205.00" stroke="#4a4a4a" stroke-width="1.0"/>
<line x1="430.80" y1="141.20" x2="430.80" y2="205.00" stroke="#808080" stroke-width="1.1"/>
<line x1="364.60" y1="203.50" x2="366.20" y2="203.50" stroke="#555" stroke-width="0.7"/>
<text x="363.70" y="204.50" font-size="3.2" fill="#666" text-anchor="end" transform="rotate(-45 363.70 204.50)">10</text>
<line x1="364.60" y1="188.30" x2="366.20" y2="188.30" stroke="#555" stroke-width="0.7"/>
<text x="363.70" y="189.30" font-size="3.2" fill="#666" text-anchor="end" transform="rotate(-45 363.70 189.30)">10</text>
<line x1="364.60" y1="173.10" x2="366.20" y2="173.10" stroke="#555" stroke-width="0.7"/>
<text x="363.70" y="174.10" font-size="3.2" fill="#666" text-anchor="end" transform="rotate(-45 363.70 174.10)">10</text>
<line x1="364.60" y1="157.90" x2="366.20" y2="157.90" stroke="#555" stroke-width="0.7"/>
<text x="363.70" y="158.90" font-size="3.2" fill="#666" text-anchor="end" transform="rotate(-45 363.70 158.90)">10</text>
<line x1="364.60" y1="142.70" x2="366.20" y2="142.70" stroke="#555" stroke-width="0.7"/>
<text x="363.70" y="143.70" font-size="3.2" fill="#666" text-anchor="end" transform="rotate(-45 363.70 143.70)">10</text>
<line x1="368.20" y1="205.00" x2="368.20" y2="206.60" stroke="#555" stroke-width="0.7"/>
<text x="368.20" y="209.20" font-size="3.2" fill="#666" text-anchor="middle" transform="rotate(-45 368.20 209.20)">10</text>
<line x1="383.50" y1="205.00" x2="383.50" y2="206.60" stroke="#555" stroke-width="0.7"/>
<text x="383.50" y="209.20" font-size="3.2" fill="#666" text-anchor="middle" transform="rotate(-45 383.50 209.20)">10</text>
<line x1="398.80" y1="205.00" x2="398.80" y2="206.60" stroke="#555" stroke-width="0.7"/>
<text x="398.80" y="209.20" font-size="3.2" fill="#666" text-anchor="middle" transform="rotate(-45 398.80 209.20)">10</text>
<line x1="414.10" y1="205.00" x2="414.10" y2="206.60" stroke="#555" stroke-width="0.7"/>
<text x="414.10" y="209.20" font-size="3.2" fill="#666" text-anchor="middle" transform="rotate(-45 414.10 209.20)">10</text>
<line x1="429.40" y1="205.00" x2="429.40" y2="206.60" stroke="#555" stroke-width="0.7"/>
<text x="429.40" y="209.20" font-size="3.2" fill="#666" text-anchor="middle" transform="rotate(-45 429.40 209.20)">10</text>
<line x1="369.20" y1="204.70" x2="373.20" y2="204.70" stroke="#222" stroke-width="1.2"/>
<polygon points="378.60,182.29 385.52,162.34 392.51,164.77 385.60,184.71" fill="#bfe3ee" fill-opacity="0.55"/>
<rect x="376.20" y="184.20" width="8.40" height="12.20" fill="#c8e8f0" fill-opacity="0.5"/>
<polygon points="381.48,173.98 377.60,174.20 376.20,178.40 376.80,184.20 382.80,183.74" fill="#a8dce0" fill-opacity="0.3"/>
<path d="M381.3 176.8h0.8v0.8h-0.8zM390.1 161.7h0.8v0.8h-0.8zM393.8 148.5h0.8v0.8h-0.8zM391.3 150.2h0.8v0.8h-0.8zM393.0 147.9h0.8v0.8h-0.8zM385.1 156.8h0.8v0.8h-0.8zM384.6 167.4h0.8v0.8h-0.8zM386.6 153.5h0.8v0.8h-0.8zM384.0 175.9h0.8v0.8h-0.8zM387.6 153.1h0.8v0.8h-0.8zM381.7 182.4h0.8v0.8h-0.8zM392.1 151.9h0.8v0.8h-0.8zM387.0 157.3h0.8v0.8h-0.8zM382.0 177.4h0.8v0.8h-0.8zM390.9 158.3h0.8v0.8h-0.8zM381.0 178.2h0.8v0.8h-0.8zM386.6 154.8h0.8v0.8h-0.8zM384.2 160.6h0.8v0.8h-0.8zM387.7 174.1h0.8v0.8h-0.8zM393.7 144.7h0.8v0.8h-0.8zM381.2 172.0h0.8v0.8h-0.8zM380.5 178.6h0.8v0.8h-0.8zM390.5 152.1h0.8v0.8h-0.8zM388.5 159.8h0.8v0.8h-0.8zM381.7 180.7h0.8v0.8h-0.8zM383.7 164.6h0.8v0.8h-0.8zM386.0 173.8h0.8v0.8h-0.8zM390.9 151.6h0.8v0.8h-0.8zM388.1 148.9h0.8v0.8h-0.8zM386.0 172.3h0.8v0.8h-0.8zM384.1 175.2h0.8v0.8h-0.8zM390.0 155.0h0.8v0.8h-0.8zM385.8 166.4h0.8v0.8h-0.8zM385.1 162.4h0.8v0.8h-0.8zM380.7 174.1h0.8v0.8h-0.8zM391.2 145.2h0.8v0.8h-0.8zM392.3 148.1h0.8v0.8h-0.8zM392.4 153.3h0.8v0.8h-0.8zM384.2 176.3h0.8v0.8h-0.8zM386.7 177.3h0.8v0.8h-0.8zM389.4 167.9h0.8v0.8h-0.8zM381.3 178.5h0.8v0.8h-0.8zM388.4 160.5h0.8v0.8h-0.8zM380.9 174.1h0.8v0.8h-0.8zM388.7 150.2h0.8v0.8h-0.8zM391.0 156.3h0.8v0.8h-0.8zM388.9 165.0h0.8v0.8h-0.8zM390.7 150.5h0.8v0.8h-0.8z" fill="#8a96e0" fill-opacity="0.5"/>
<path d="M384.6 167.7h0.8v0.8h-0.8zM390.7 154.5h0.8v0.8h-0.8zM389.4 156.1h0.8v0.8h-0.8zM384.3 162.9h0.8v0.8h-0.8zM390.1 150.3h0.8v0.8h-0.8zM386.3 155.1h0.8v0.8h-0.8zM389.8 158.7h0.8v0.8h-0.8zM388.1 149.7h0.8v0.8h-0.8zM386.0 161.9h0.8v0.8h-0.8zM381.8 180.3h0.8v0.8h-0.8zM385.1 175.3h0.8v0.8h-0.8zM384.0 178.0h0.8v0.8h-0.8zM390.0 154.6h0.8v0.8h-0.8zM387.4 174.1h0.8v0.8h-0.8zM387.8 156.4h0.8v0.8h-0.8zM392.3 156.4h0.8v0.8h-0.8zM392.1 146.8h0.8v0.8h-0.8zM390.9 156.1h0.8v0.8h-0.8zM390.1 153.7h0.8v0.8h-0.8zM384.9 174.0h0.8v0.8h-0.8zM378.4 181.4h0.8v0.8h-0.8zM377.4 179.4h0.8v0.8h-0.8zM389.3 150.4h0.8v0.8h-0.8zM383.4 158.0h0.8v0.8h-0.8zM392.5 155.5h0.8v0.8h-0.8zM393.5 152.1h0.8v0.8h-0.8zM393.1 146.3h0.8v0.8h-0.8zM390.1 149.1h0.8v0.8h-0.8zM395.2 147.6h0.8v0.8h-0.8zM388.3 169.6h0.8v0.8h-0.8z" fill="#a898d8" fill-opacity="0.5"/>
<path d="M385.3 165.4h0.8v0.8h-0.8zM388.0 158.2h0.8v0.8h-0.8zM382.3 177.1h0.8v0.8h-0.8zM384.4 172.4h0.8v0.8h-0.8zM381.6 177.4h0.8v0.8h-0.8zM391.5 152.3h0.8v0.8h-0.8zM393.9 145.9h0.8v0.8h-0.8zM390.1 144.6h0.8v0.8h-0.8zM391.7 146.9h0.8v0.8h-0.8zM385.2 169.5h0.8v0.8h-0.8zM390.4 163.4h0.8v0.8h-0.8zM392.4 148.1h0.8v0.8h-0.8zM394.6 147.8h0.8v0.8h-0.8zM382.9 167.9h0.8v0.8h-0.8zM390.2 164.5h0.8v0.8h-0.8zM386.4 163.2h0.8v0.8h-0.8zM388.3 169.4h0.8v0.8h-0.8zM383.7 171.5h0.8v0.8h-0.8zM387.7 165.4h0.8v0.8h-0.8zM390.8 151.6h0.8v0.8h-0.8zM391.1 162.7h0.8v0.8h-0.8z" fill="#7080d8" fill-opacity="0.5"/>
<path d="M378.3 176.6h0.8v0.8h-0.8zM390.6 160.4h0.8v0.8h-0.8zM378.0 176.9h0.8v0.8h-0.8zM388.8 162.7h0.8v0.8h-0.8zM392.2 153.3h0.8v0.8h-0.8zM391.2 145.2h0.8v0.8h-0.8zM386.8 164.7h0.8v0.8h-0.8zM380.6 177.1h0.8v0.8h-0.8zM388.8 156.7h0.8v0.8h-0.8zM384.1 183.1h0.8v0.8h-0.8zM387.2 173.0h0.8v0.8h-0.8zM383.6 173.7h0.8v0.8h-0.8zM392.1 148.2h0.8v0.8h-0.8zM388.1 153.4h0.8v0.8h-0.8zM394.8 154.7h0.8v0.8h-0.8zM387.7 168.6h0.8v0.8h-0.8zM383.2 165.6h0.8v0.8h-0.8zM382.7 169.6h0.8v0.8h-0.8zM384.1 164.4h0.8v0.8h-0.8zM377.6 179.6h0.8v0.8h-0.8zM387.9 156.0h0.8v0.8h-0.8z" fill="#9aa4e8" fill-opacity="0.5"/>
<path d="M382.8 177.9h1.0v1.0h-1.0zM384.0 174.8h1.0v1.0h-1.0zM388.4 172.2h1.0v1.0h-1.0zM384.6 174.0h1.0v1.0h-1.0zM387.2 165.8h1.0v1.0h-1.0zM389.3 171.7h1.0v1.0h-1.0zM379.8 179.6h1.0v1.0h-1.0zM388.5 168.1h1.0v1.0h-1.0zM382.5 175.1h1.0v1.0h-1.0zM390.4 167.7h1.0v1.0h-1.0zM385.8 172.8h1.0v1.0h-1.0zM384.9 176.9h1.0v1.0h-1.0zM384.4 177.4h1.0v1.0h-1.0zM387.3 172.3h1.0v1.0h-1.0zM385.2 178.4h1.0v1.0h-1.0zM380.5 188.5h1.0v1.0h-1.0zM381.3 188.4h1.0v1.0h-1.0zM379.1 189.0h1.0v1.0h-1.0zM378.9 189.1h1.0v1.0h-1.0zM382.5 188.1h1.0v1.0h-1.0zM380.8 185.4h1.0v1.0h-1.0zM380.0 188.7h1.0v1.0h-1.0zM380.3 190.1h1.0v1.0h-1.0z" fill="#1f5fc8"/>
<path d="M382.5 178.0h1.0v1.0h-1.0zM389.3 167.1h1.0v1.0h-1.0zM388.9 165.2h1.0v1.0h-1.0zM383.1 179.4h1.0v1.0h-1.0zM389.8 169.3h1.0v1.0h-1.0zM382.4 180.8h1.0v1.0h-1.0zM384.6 177.3h1.0v1.0h-1.0zM385.9 171.1h1.0v1.0h-1.0zM386.9 169.1h1.0v1.0h-1.0zM387.6 168.2h1.0v1.0h-1.0zM388.7 166.3h1.0v1.0h-1.0zM390.4 171.7h1.0v1.0h-1.0zM386.5 169.2h1.0v1.0h-1.0zM386.1 171.9h1.0v1.0h-1.0zM387.7 172.6h1.0v1.0h-1.0zM387.1 164.8h1.0v1.0h-1.0zM384.7 176.1h1.0v1.0h-1.0zM385.2 176.0h1.0v1.0h-1.0zM384.8 181.8h1.0v1.0h-1.0z" fill="#2080d0"/>
<path d="M385.6 177.2h1.0v1.0h-1.0zM389.6 166.7h1.0v1.0h-1.0zM391.5 165.7h1.0v1.0h-1.0zM383.2 181.2h1.0v1.0h-1.0zM385.2 181.0h1.0v1.0h-1.0zM383.9 179.4h1.0v1.0h-1.0zM385.2 179.3h1.0v1.0h-1.0zM384.2 171.8h1.0v1.0h-1.0zM385.6 175.7h1.0v1.0h-1.0zM386.8 177.1h1.0v1.0h-1.0zM387.4 165.4h1.0v1.0h-1.0zM386.1 172.3h1.0v1.0h-1.0zM382.2 180.1h1.0v1.0h-1.0zM386.7 167.0h1.0v1.0h-1.0z" fill="#1850b0"/>
<path d="M383.9 177.4h1.0v1.0h-1.0zM383.2 180.8h1.0v1.0h-1.0zM383.7 182.5h1.0v1.0h-1.0zM388.0 168.7h1.0v1.0h-1.0zM385.3 165.6h1.0v1.0h-1.0zM382.1 179.0h1.0v1.0h-1.0zM386.8 166.2h1.0v1.0h-1.0zM386.8 170.2h1.0v1.0h-1.0zM388.1 163.6h1.0v1.0h-1.0zM387.9 168.8h1.0v1.0h-1.0zM386.2 168.5h1.0v1.0h-1.0zM386.7 175.4h1.0v1.0h-1.0zM382.4 178.4h1.0v1.0h-1.0zM385.8 175.9h1.0v1.0h-1.0zM388.7 166.2h1.0v1.0h-1.0zM389.3 167.1h1.0v1.0h-1.0zM389.3 165.3h1.0v1.0h-1.0z" fill="#35b0c0"/>
<path d="M387.0 164.6h1.0v1.0h-1.0zM384.4 167.0h1.0v1.0h-1.0zM381.3 178.5h1.0v1.0h-1.0zM388.3 167.0h1.0v1.0h-1.0zM384.3 174.9h1.0v1.0h-1.0zM382.4 181.1h1.0v1.0h-1.0zM384.2 178.3h1.0v1.0h-1.0zM380.9 177.7h1.0v1.0h-1.0zM388.1 165.4h1.0v1.0h-1.0zM382.1 178.1h1.0v1.0h-1.0zM388.9 163.7h1.0v1.0h-1.0zM387.1 172.2h1.0v1.0h-1.0zM383.2 178.4h1.0v1.0h-1.0zM387.0 171.1h1.0v1.0h-1.0z" fill="#28a0a0"/>
<path d="M387.3 175.2h1.0v1.0h-1.0zM386.6 163.1h1.0v1.0h-1.0zM386.6 167.2h1.0v1.0h-1.0zM385.6 179.5h1.0v1.0h-1.0zM383.3 178.3h1.0v1.0h-1.0zM382.8 176.4h1.0v1.0h-1.0zM386.8 171.5h1.0v1.0h-1.0zM382.3 182.8h1.0v1.0h-1.0zM389.1 177.0h1.0v1.0h-1.0zM384.4 172.6h1.0v1.0h-1.0zM381.6 180.8h1.0v1.0h-1.0zM380.8 189.3h1.0v1.0h-1.0zM379.8 191.5h1.0v1.0h-1.0zM380.9 189.3h1.0v1.0h-1.0zM380.1 188.5h1.0v1.0h-1.0zM379.4 189.6h1.0v1.0h-1.0zM380.4 189.4h1.0v1.0h-1.0zM380.1 189.3h1.0v1.0h-1.0z" fill="#2a9ad0"/>
<path d="M382.1 181.7h1.0v1.0h-1.0zM385.0 175.3h1.0v1.0h-1.0zM386.6 175.9h1.0v1.0h-1.0zM384.0 177.5h1.0v1.0h-1.0zM385.4 180.4h1.0v1.0h-1.0zM385.7 170.2h1.0v1.0h-1.0zM386.1 174.1h1.0v1.0h-1.0zM384.6 175.4h1.0v1.0h-1.0zM382.3 181.0h1.0v1.0h-1.0zM384.2 177.2h1.0v1.0h-1.0zM383.5 182.0h1.0v1.0h-1.0zM387.7 169.0h1.0v1.0h-1.0zM387.5 167.2h1.0v1.0h-1.0zM385.9 175.7h1.0v1.0h-1.0zM383.3 179.2h1.0v1.0h-1.0zM385.1 175.3h1.0v1.0h-1.0zM379.9 189.5h1.0v1.0h-1.0zM381.6 192.0h1.0v1.0h-1.0zM379.9 192.0h1.0v1.0h-1.0zM381.6 189.1h1.0v1.0h-1.0zM381.5 190.0h1.0v1.0h-1.0zM380.7 189.6h1.0v1.0h-1.0zM380.9 189.5h1.0v1.0h-1.0zM380.7 188.3h1.0v1.0h-1.0z" fill="#4cb84c"/>
<path d="M387.0 169.1h1.0v1.0h-1.0zM384.2 179.7h1.0v1.0h-1.0zM387.1 170.1h1.0v1.0h-1.0zM387.8 169.8h1.0v1.0h-1.0zM385.3 176.4h1.0v1.0h-1.0zM387.1 167.7h1.0v1.0h-1.0zM385.3 175.5h1.0v1.0h-1.0zM387.4 167.7h1.0v1.0h-1.0z" fill="#30a060"/>
<path d="M384.0 178.7h1.0v1.0h-1.0zM382.6 179.7h1.0v1.0h-1.0zM388.5 169.6h1.0v1.0h-1.0zM382.3 180.3h1.0v1.0h-1.0zM383.6 177.4h1.0v1.0h-1.0zM386.5 170.7h1.0v1.0h-1.0zM386.2 173.0h1.0v1.0h-1.0zM384.7 175.2h1.0v1.0h-1.0zM379.5 189.0h1.0v1.0h-1.0zM381.1 187.0h1.0v1.0h-1.0zM380.3 192.8h1.0v1.0h-1.0zM381.0 192.5h1.0v1.0h-1.0z" fill="#7cc840"/>
<path d="M386.5 171.7h1.0v1.0h-1.0zM385.9 169.3h1.0v1.0h-1.0zM386.5 173.9h1.0v1.0h-1.0zM386.7 174.5h1.0v1.0h-1.0zM384.0 181.9h1.0v1.0h-1.0zM387.4 171.9h1.0v1.0h-1.0zM386.0 168.4h1.0v1.0h-1.0zM385.1 175.4h1.0v1.0h-1.0z" fill="#a0c830"/>
<path d="M378.9 189.7h1.0v1.0h-1.0zM379.0 194.3h1.0v1.0h-1.0zM381.4 192.7h1.0v1.0h-1.0zM382.2 188.0h1.0v1.0h-1.0zM381.3 192.7h1.0v1.0h-1.0zM381.2 191.0h1.0v1.0h-1.0zM381.0 188.0h1.0v1.0h-1.0zM381.3 190.8h1.0v1.0h-1.0z" fill="#b0c830"/>
<polygon points="378.60,182.29 381.29,174.53 388.28,176.96 385.60,184.71" fill="none" stroke="#30365a" stroke-width="0.8"/>
<polygon points="381.29,174.53 383.40,168.44 390.40,170.86 388.28,176.96" fill="none" stroke="#30365a" stroke-width="0.8"/>
<polygon points="383.40,168.44 385.52,162.34 392.51,164.77 390.40,170.86" fill="none" stroke="#30365a" stroke-width="0.8"/>
<polygon points="385.52,162.34 388.20,154.59 395.20,157.01 392.51,164.77" fill="none" stroke="#30365a" stroke-width="0.8"/>
<polygon points="381.48,173.98 377.60,174.20 376.20,178.40 376.80,184.20 382.80,183.74" fill="none" stroke="#30365a" stroke-width="0.8"/>
<polygon points="376.20,184.20 384.60,184.20 384.60,196.40 376.20,196.40" fill="none" stroke="#30365a" stroke-width="0.8"/>
<rect x="433.70" y="141.20" width="64.60" height="63.80" fill="none" stroke="#a8a8a8" stroke-width="0.9"/>
<line x1="433.70" y1="142.20" x2="433.70" y2="205.00" stroke="#4a4a4a" stroke-width="1.0"/>
<line x1="433.70" y1="205.00" x2="498.30" y2="205.00" stroke="#4a4a4a" stroke-width="1.0"/>
<line x1="498.30" y1="141.20" x2="498.30" y2="205.00" stroke="#808080" stroke-width="1.1"/>
<line x1="432.10" y1="203.50" x2="433.70" y2="203.50" stroke="#555" stroke-width="0.7"/>
<text x="431.20" y="204.50" font-size="3.2" fill="#666" text-anchor="end" transform="rotate(-45 431.20 204.50)">10</text>
<line x1="432.10" y1="188.30" x2="433.70" y2="188.30" stroke="#555" stroke-width="0.7"/>
<text x="431.20" y="189.30" font-size="3.2" fill="#666" text-anchor="end" transform="rotate(-45 431.20 189.30)">10</text>
<line x1="432.10" y1="173.10" x2="433.70" y2="173.10" stroke="#555" stroke-width="0.7"/>
<text x="431.20" y="174.10" font-size="3.2" fill="#666" text-anchor="end" transform="rotate(-45 431.20 174.10)">10</text>
<line x1="432.10" y1="157.90" x2="433.70" y2="157.90" stroke="#555" stroke-width="0.7"/>
<text x="431.20" y="158.90" font-size="3.2" fill="#666" text-anchor="end" transform="rotate(-45 431.20 158.90)">10</text>
<line x1="432.10" y1="142.70" x2="433.70" y2="142.70" stroke="#555" stroke-width="0.7"/>
<text x="431.20" y="143.70" font-size="3.2" fill="#666" text-anchor="end" transform="rotate(-45 431.20 143.70)">10</text>
<line x1="435.70" y1="205.00" x2="435.70" y2="206.60" stroke="#555" stroke-width="0.7"/>
<text x="435.70" y="209.20" font-size="3.2" fill="#666" text-anchor="middle" transform="rotate(-45 435.70 209.20)">10</text>
<line x1="451.00" y1="205.00" x2="451.00" y2="206.60" stroke="#555" stroke-width="0.7"/>
<text x="451.00" y="209.20" font-size="3.2" fill="#666" text-anchor="middle" transform="rotate(-45 451.00 209.20)">10</text>
<line x1="466.30" y1="205.00" x2="466.30" y2="206.60" stroke="#555" stroke-width="0.7"/>
<text x="466.30" y="209.20" font-size="3.2" fill="#666" text-anchor="middle" transform="rotate(-45 466.30 209.20)">10</text>
<line x1="481.60" y1="205.00" x2="481.60" y2="206.60" stroke="#555" stroke-width="0.7"/>
<text x="481.60" y="209.20" font-size="3.2" fill="#666" text-anchor="middle" transform="rotate(-45 481.60 209.20)">10</text>
<line x1="496.90" y1="205.00" x2="496.90" y2="206.60" stroke="#555" stroke-width="0.7"/>
<text x="496.90" y="209.20" font-size="3.2" fill="#666" text-anchor="middle" transform="rotate(-45 496.90 209.20)">10</text>
<line x1="436.70" y1="204.70" x2="440.70" y2="204.70" stroke="#222" stroke-width="1.2"/>
<polygon points="446.00,181.99 452.92,162.04 459.91,164.47 453.00,184.41" fill="#bfe3ee" fill-opacity="0.55"/>
<rect x="443.60" y="183.90" width="8.40" height="12.20" fill="#c8e8f0" fill-opacity="0.5"/>
<polygon points="448.88,173.68 445.00,173.90 443.60,178.10 444.20,183.90 450.20,183.44" fill="#a8dce0" fill-opacity="0.5"/>
<path d="M457.9 143.6h0.8v0.8h-0.8zM454.6 163.7h0.8v0.8h-0.8zM450.8 174.0h0.8v0.8h-0.8zM460.2 145.1h0.8v0.8h-0.8zM453.7 174.8h0.8v0.8h-0.8zM457.7 148.1h0.8v0.8h-0.8zM450.3 179.6h0.8v0.8h-0.8zM455.3 155.9h0.8v0.8h-0.8zM452.4 157.0h0.8v0.8h-0.8zM453.8 158.0h0.8v0.8h-0.8zM457.6 154.4h0.8v0.8h-0.8zM453.5 163.5h0.8v0.8h-0.8zM453.6 150.3h0.8v0.8h-0.8zM459.9 153.6h0.8v0.8h-0.8zM458.0 154.6h0.8v0.8h-0.8zM453.8 166.9h0.8v0.8h-0.8zM451.4 173.6h0.8v0.8h-0.8zM455.4 152.6h0.8v0.8h-0.8zM450.3 152.6h0.8v0.8h-0.8zM449.2 182.6h0.8v0.8h-0.8zM447.3 173.8h0.8v0.8h-0.8zM456.8 154.8h0.8v0.8h-0.8zM458.9 159.0h0.8v0.8h-0.8zM462.0 148.4h0.8v0.8h-0.8zM453.3 161.0h0.8v0.8h-0.8z" fill="#8a96e0" fill-opacity="0.5"/>
<path d="M457.7 156.1h0.8v0.8h-0.8zM454.7 156.6h0.8v0.8h-0.8zM462.8 147.9h0.8v0.8h-0.8zM453.7 171.4h0.8v0.8h-0.8zM453.3 173.1h0.8v0.8h-0.8zM448.7 176.2h0.8v0.8h-0.8zM454.1 161.8h0.8v0.8h-0.8zM447.5 176.4h0.8v0.8h-0.8zM449.7 178.1h0.8v0.8h-0.8zM455.2 155.8h0.8v0.8h-0.8zM456.5 145.0h0.8v0.8h-0.8zM456.8 155.6h0.8v0.8h-0.8zM456.1 156.7h0.8v0.8h-0.8zM457.8 150.5h0.8v0.8h-0.8zM447.2 177.9h0.8v0.8h-0.8zM453.8 158.6h0.8v0.8h-0.8zM460.9 150.0h0.8v0.8h-0.8zM451.4 171.9h0.8v0.8h-0.8zM457.6 150.9h0.8v0.8h-0.8zM458.0 144.5h0.8v0.8h-0.8zM458.8 151.6h0.8v0.8h-0.8zM457.7 166.2h0.8v0.8h-0.8z" fill="#7080d8" fill-opacity="0.5"/>
<path d="M454.9 158.7h0.8v0.8h-0.8zM449.2 179.3h0.8v0.8h-0.8zM459.9 147.4h0.8v0.8h-0.8zM459.1 146.6h0.8v0.8h-0.8zM457.9 143.2h0.8v0.8h-0.8zM450.3 170.8h0.8v0.8h-0.8zM452.9 158.4h0.8v0.8h-0.8zM454.2 160.3h0.8v0.8h-0.8zM457.4 162.6h0.8v0.8h-0.8zM455.2 154.8h0.8v0.8h-0.8zM456.3 157.4h0.8v0.8h-0.8zM453.1 166.5h0.8v0.8h-0.8zM452.5 170.0h0.8v0.8h-0.8zM460.3 150.8h0.8v0.8h-0.8zM463.9 153.7h0.8v0.8h-0.8zM454.2 159.6h0.8v0.8h-0.8zM449.7 179.6h0.8v0.8h-0.8zM459.1 148.3h0.8v0.8h-0.8zM455.2 156.1h0.8v0.8h-0.8zM454.5 154.4h0.8v0.8h-0.8zM462.9 147.1h0.8v0.8h-0.8zM459.1 157.3h0.8v0.8h-0.8zM460.7 154.1h0.8v0.8h-0.8zM453.0 170.2h0.8v0.8h-0.8zM453.9 158.5h0.8v0.8h-0.8zM455.1 161.9h0.8v0.8h-0.8zM448.6 176.7h0.8v0.8h-0.8zM448.3 179.3h0.8v0.8h-0.8zM448.5 178.3h0.8v0.8h-0.8zM448.1 177.2h0.8v0.8h-0.8zM458.7 153.9h0.8v0.8h-0.8zM450.0 174.3h0.8v0.8h-0.8zM450.8 163.5h0.8v0.8h-0.8zM459.7 149.0h0.8v0.8h-0.8zM446.9 175.4h0.8v0.8h-0.8zM455.6 156.2h0.8v0.8h-0.8zM450.1 168.9h0.8v0.8h-0.8z" fill="#a898d8" fill-opacity="0.5"/>
<path d="M460.0 151.0h0.8v0.8h-0.8zM452.4 161.2h0.8v0.8h-0.8zM448.7 181.1h0.8v0.8h-0.8zM450.3 175.8h0.8v0.8h-0.8zM454.7 156.9h0.8v0.8h-0.8zM452.8 170.9h0.8v0.8h-0.8zM450.1 168.4h0.8v0.8h-0.8zM454.6 167.1h0.8v0.8h-0.8zM452.7 158.4h0.8v0.8h-0.8zM461.3 149.9h0.8v0.8h-0.8zM457.0 153.2h0.8v0.8h-0.8zM461.5 146.4h0.8v0.8h-0.8zM453.9 164.7h0.8v0.8h-0.8zM451.3 169.7h0.8v0.8h-0.8zM457.2 157.6h0.8v0.8h-0.8zM449.7 164.2h0.8v0.8h-0.8zM457.8 148.3h0.8v0.8h-0.8zM456.8 171.2h0.8v0.8h-0.8zM453.3 151.9h0.8v0.8h-0.8zM461.6 144.0h0.8v0.8h-0.8zM452.6 172.9h0.8v0.8h-0.8zM448.9 174.4h0.8v0.8h-0.8zM454.3 165.5h0.8v0.8h-0.8zM453.1 158.2h0.8v0.8h-0.8zM453.4 159.7h0.8v0.8h-0.8zM449.7 179.4h0.8v0.8h-0.8zM454.3 165.2h0.8v0.8h-0.8zM451.3 170.8h0.8v0.8h-0.8zM451.2 179.9h0.8v0.8h-0.8zM447.8 181.6h0.8v0.8h-0.8zM448.0 180.6h0.8v0.8h-0.8zM445.4 180.9h0.8v0.8h-0.8zM459.6 155.5h0.8v0.8h-0.8zM450.2 180.6h0.8v0.8h-0.8zM457.3 150.2h0.8v0.8h-0.8zM457.3 150.5h0.8v0.8h-0.8z" fill="#9aa4e8" fill-opacity="0.5"/>
<path d="M456.1 166.5h1.0v1.0h-1.0zM453.4 172.9h1.0v1.0h-1.0zM454.6 171.3h1.0v1.0h-1.0zM451.6 172.3h1.0v1.0h-1.0zM454.6 168.6h1.0v1.0h-1.0zM454.3 168.9h1.0v1.0h-1.0zM450.7 179.1h1.0v1.0h-1.0zM451.8 177.6h1.0v1.0h-1.0zM450.0 179.9h1.0v1.0h-1.0zM455.6 166.3h1.0v1.0h-1.0zM452.4 170.8h1.0v1.0h-1.0zM450.7 181.2h1.0v1.0h-1.0zM456.0 166.0h1.0v1.0h-1.0zM450.5 181.2h1.0v1.0h-1.0zM448.4 188.7h1.0v1.0h-1.0zM448.0 185.6h1.0v1.0h-1.0zM448.1 187.3h1.0v1.0h-1.0zM449.6 190.8h1.0v1.0h-1.0z" fill="#2a9ad0"/>
<path d="M451.1 177.6h1.0v1.0h-1.0zM452.7 179.9h1.0v1.0h-1.0zM453.5 166.6h1.0v1.0h-1.0zM452.6 172.4h1.0v1.0h-1.0zM455.8 165.6h1.0v1.0h-1.0zM449.5 178.5h1.0v1.0h-1.0zM454.7 167.2h1.0v1.0h-1.0z" fill="#2080d0"/>
<path d="M448.5 180.0h1.0v1.0h-1.0zM451.4 169.8h1.0v1.0h-1.0zM455.8 175.0h1.0v1.0h-1.0zM453.5 170.3h1.0v1.0h-1.0zM454.3 172.6h1.0v1.0h-1.0zM454.0 164.7h1.0v1.0h-1.0zM455.5 165.4h1.0v1.0h-1.0zM452.9 168.8h1.0v1.0h-1.0zM452.8 172.5h1.0v1.0h-1.0zM456.4 167.8h1.0v1.0h-1.0zM449.4 181.6h1.0v1.0h-1.0zM450.7 181.0h1.0v1.0h-1.0zM454.0 174.2h1.0v1.0h-1.0zM451.5 177.1h1.0v1.0h-1.0zM452.7 177.4h1.0v1.0h-1.0z" fill="#35b0c0"/>
<path d="M454.7 172.7h1.0v1.0h-1.0zM451.4 171.6h1.0v1.0h-1.0zM452.7 173.3h1.0v1.0h-1.0zM452.9 175.3h1.0v1.0h-1.0zM454.3 176.4h1.0v1.0h-1.0zM451.0 181.4h1.0v1.0h-1.0zM450.7 176.3h1.0v1.0h-1.0zM451.7 177.6h1.0v1.0h-1.0zM452.3 178.9h1.0v1.0h-1.0zM452.0 171.7h1.0v1.0h-1.0zM453.3 166.3h1.0v1.0h-1.0zM453.3 166.3h1.0v1.0h-1.0zM453.2 173.9h1.0v1.0h-1.0zM454.2 169.5h1.0v1.0h-1.0zM455.2 169.8h1.0v1.0h-1.0zM455.5 164.7h1.0v1.0h-1.0zM452.3 178.8h1.0v1.0h-1.0z" fill="#1850b0"/>
<path d="M451.6 181.2h1.0v1.0h-1.0zM456.4 164.6h1.0v1.0h-1.0zM456.9 164.3h1.0v1.0h-1.0zM450.2 176.9h1.0v1.0h-1.0zM454.3 167.1h1.0v1.0h-1.0zM456.2 164.0h1.0v1.0h-1.0zM451.9 170.5h1.0v1.0h-1.0zM453.0 172.3h1.0v1.0h-1.0zM451.1 179.4h1.0v1.0h-1.0zM451.8 174.5h1.0v1.0h-1.0zM451.4 178.8h1.0v1.0h-1.0zM452.0 178.4h1.0v1.0h-1.0zM451.0 180.9h1.0v1.0h-1.0zM450.4 174.7h1.0v1.0h-1.0zM450.6 181.0h1.0v1.0h-1.0zM449.4 181.5h1.0v1.0h-1.0zM454.8 173.2h1.0v1.0h-1.0zM455.2 164.7h1.0v1.0h-1.0zM454.4 166.3h1.0v1.0h-1.0zM450.3 178.0h1.0v1.0h-1.0zM453.3 178.1h1.0v1.0h-1.0zM457.6 163.9h1.0v1.0h-1.0zM456.1 169.4h1.0v1.0h-1.0zM451.0 191.5h1.0v1.0h-1.0zM448.0 189.2h1.0v1.0h-1.0zM446.3 188.6h1.0v1.0h-1.0zM449.9 191.8h1.0v1.0h-1.0zM447.3 188.3h1.0v1.0h-1.0zM447.8 186.0h1.0v1.0h-1.0zM449.4 193.7h1.0v1.0h-1.0z" fill="#1f5fc8"/>
<path d="M455.2 167.9h1.0v1.0h-1.0zM455.5 173.1h1.0v1.0h-1.0zM453.7 173.2h1.0v1.0h-1.0zM455.2 166.6h1.0v1.0h-1.0zM452.5 181.5h1.0v1.0h-1.0zM455.3 166.1h1.0v1.0h-1.0zM457.0 164.1h1.0v1.0h-1.0zM451.2 176.5h1.0v1.0h-1.0zM453.0 166.6h1.0v1.0h-1.0zM455.1 169.3h1.0v1.0h-1.0zM454.3 166.5h1.0v1.0h-1.0zM452.6 168.3h1.0v1.0h-1.0zM455.3 166.3h1.0v1.0h-1.0zM456.5 163.8h1.0v1.0h-1.0z" fill="#28a0a0"/>
<path d="M455.9 171.5h1.0v1.0h-1.0zM450.7 181.7h1.0v1.0h-1.0zM453.5 172.0h1.0v1.0h-1.0zM453.3 171.7h1.0v1.0h-1.0zM453.5 174.8h1.0v1.0h-1.0zM453.8 167.5h1.0v1.0h-1.0zM454.6 169.9h1.0v1.0h-1.0zM451.1 177.8h1.0v1.0h-1.0zM452.6 178.6h1.0v1.0h-1.0zM454.3 171.5h1.0v1.0h-1.0zM450.5 179.3h1.0v1.0h-1.0zM452.0 190.3h1.0v1.0h-1.0zM447.7 187.2h1.0v1.0h-1.0zM448.4 190.9h1.0v1.0h-1.0zM448.2 190.8h1.0v1.0h-1.0zM448.7 192.9h1.0v1.0h-1.0zM446.0 192.1h1.0v1.0h-1.0zM448.0 187.4h1.0v1.0h-1.0zM446.8 188.6h1.0v1.0h-1.0z" fill="#7cc840"/>
<path d="M450.7 179.2h1.0v1.0h-1.0zM450.2 179.8h1.0v1.0h-1.0zM454.9 170.1h1.0v1.0h-1.0zM453.5 176.3h1.0v1.0h-1.0zM451.7 181.8h1.0v1.0h-1.0zM451.9 176.3h1.0v1.0h-1.0zM455.5 168.2h1.0v1.0h-1.0zM453.2 174.5h1.0v1.0h-1.0zM451.3 179.0h1.0v1.0h-1.0zM454.6 167.2h1.0v1.0h-1.0zM451.5 177.5h1.0v1.0h-1.0zM448.9 192.1h1.0v1.0h-1.0zM446.4 187.7h1.0v1.0h-1.0zM447.5 190.8h1.0v1.0h-1.0zM445.8 186.0h1.0v1.0h-1.0zM447.1 187.3h1.0v1.0h-1.0zM447.1 188.7h1.0v1.0h-1.0zM449.5 186.0h1.0v1.0h-1.0zM446.4 187.8h1.0v1.0h-1.0z" fill="#4cb84c"/>
<path d="M453.5 171.7h1.0v1.0h-1.0zM452.8 172.1h1.0v1.0h-1.0zM449.7 179.4h1.0v1.0h-1.0zM454.7 168.0h1.0v1.0h-1.0zM451.8 176.3h1.0v1.0h-1.0zM451.5 180.5h1.0v1.0h-1.0zM455.2 169.8h1.0v1.0h-1.0zM453.2 175.2h1.0v1.0h-1.0zM455.3 166.7h1.0v1.0h-1.0zM455.7 168.5h1.0v1.0h-1.0z" fill="#30a060"/>
<path d="M454.8 169.7h1.0v1.0h-1.0zM452.7 173.5h1.0v1.0h-1.0zM451.9 180.4h1.0v1.0h-1.0zM454.2 174.1h1.0v1.0h-1.0zM454.0 171.0h1.0v1.0h-1.0zM451.6 175.6h1.0v1.0h-1.0zM453.3 169.6h1.0v1.0h-1.0zM456.2 168.0h1.0v1.0h-1.0z" fill="#a0c830"/>
<path d="M448.8 186.6h1.0v1.0h-1.0zM449.5 191.1h1.0v1.0h-1.0zM448.1 184.5h1.0v1.0h-1.0zM445.3 189.9h1.0v1.0h-1.0zM446.7 186.3h1.0v1.0h-1.0zM446.6 189.2h1.0v1.0h-1.0zM447.3 195.2h1.0v1.0h-1.0zM447.3 187.3h1.0v1.0h-1.0z" fill="#b0c830"/>
<polygon points="446.00,181.99 448.69,174.23 455.68,176.66 453.00,184.41" fill="none" stroke="#30365a" stroke-width="0.8"/>
<polygon points="448.69,174.23 450.80,168.14 457.80,170.56 455.68,176.66" fill="none" stroke="#30365a" stroke-width="0.8"/>
<polygon points="450.80,168.14 452.92,162.04 459.91,164.47 457.80,170.56" fill="none" stroke="#30365a" stroke-width="0.8"/>
<polygon points="452.92,162.04 455.60,154.29 462.60,156.71 459.91,164.47" fill="none" stroke="#30365a" stroke-width="0.8"/>
<polygon points="448.88,173.68 445.00,173.90 443.60,178.10 444.20,183.90 450.20,183.44" fill="none" stroke="#30365a" stroke-width="0.8"/>
<polygon points="443.60,183.90 452.00,183.90 452.00,196.10 443.60,196.10" fill="none" stroke="#30365a" stroke-width="0.8"/>
<text x="223.90" y="173.80" font-size="10.4" fill="#1a1a1a" text-anchor="middle" textLength="27.50" lengthAdjust="spacingAndGlyphs" transform="rotate(-90 223.90 173.80)" stroke="#1a1a1a" stroke-width="0.18">CD44</text>
<text x="230.90" y="224.20" font-size="10.4" fill="#1a1a1a" textLength="21.00" lengthAdjust="spacingAndGlyphs" stroke="#1a1a1a" stroke-width="0.18">FSC</text>
<line x1="279.00" y1="217.30" x2="492.00" y2="217.30" stroke="#111" stroke-width="1.2"/>
<path d="M498.4,217.3 L490.6,214.1 L492.2,217.3 L490.6,220.5 Z" fill="#111"/>
<defs><filter id="soft" x="-5%" y="-5%" width="110%" height="110%"><feGaussianBlur stdDeviation="0.75"/></filter></defs>
<clipPath id="ce1"><rect x="33.10" y="445.40" width="63.30" height="53.80"/></clipPath>
<rect x="33.10" y="445.40" width="63.30" height="53.80" fill="#050508"/>
<g clip-path="url(#ce1)" filter="url(#soft)">
<circle cx="61.1" cy="455.4" r="2.95" fill="#150f52" stroke="#2c2094" stroke-width="1.30"/>
<circle cx="67.1" cy="453.4" r="2.79" fill="#150f52" stroke="#4026a4" stroke-width="1.22"/>
<circle cx="73.1" cy="456.4" r="2.95" fill="#150f52" stroke="#2c2094" stroke-width="1.30"/>
<circle cx="79.1" cy="460.4" r="2.79" fill="#150f52" stroke="#2c2094" stroke-width="1.22"/>
<circle cx="80.1" cy="468.4" r="2.65" fill="none" stroke="#8a2ab8" stroke-width="1.43"/>
<circle cx="76.1" cy="474.4" r="2.95" fill="#150f52" stroke="#4026a4" stroke-width="1.30"/>
<circle cx="69.1" cy="476.4" r="2.95" fill="#150f52" stroke="#2c2094" stroke-width="1.30"/>
<circle cx="62.1" cy="476.4" r="3.5" fill="#8a2ab8"/>
<circle cx="56.1" cy="473.4" r="2.79" fill="#150f52" stroke="#2c2094" stroke-width="1.22"/>
<circle cx="52.1" cy="469.4" r="2.62" fill="#150f52" stroke="#2c2094" stroke-width="1.15"/>
<circle cx="55.1" cy="481.4" r="2.87" fill="#150f52" stroke="#2c2094" stroke-width="1.26"/>
<circle cx="61.1" cy="484.4" r="2.81" fill="none" stroke="#c02890" stroke-width="1.51"/>
<circle cx="67.1" cy="486.4" r="2.79" fill="#150f52" stroke="#2c2094" stroke-width="1.22"/>
<circle cx="72.1" cy="482.4" r="2.62" fill="#150f52" stroke="#4026a4" stroke-width="1.15"/>
<circle cx="49.1" cy="476.4" r="2.62" fill="#150f52" stroke="#2c2094" stroke-width="1.15"/>
<circle cx="45.1" cy="466.4" r="2.46" fill="#150f52" stroke="#2c2094" stroke-width="1.08"/>
<circle cx="59.1" cy="491.4" r="2.79" fill="#150f52" stroke="#2c2094" stroke-width="1.22"/>
<circle cx="52.1" cy="489.4" r="3.2" fill="#8a2ab8"/>
<circle cx="77.1" cy="481.4" r="2.46" fill="#150f52" stroke="#2c2094" stroke-width="1.08"/>
<circle cx="47.1" cy="459.4" r="2.13" fill="#150f52" stroke="#2c2094" stroke-width="0.94"/>
<circle cx="83.1" cy="453.4" r="2.46" fill="#150f52" stroke="#2c2094" stroke-width="1.08"/>
<circle cx="41.1" cy="492.4" r="2.30" fill="#150f52" stroke="#2c2094" stroke-width="1.01"/>
<circle cx="69.1" cy="494.4" r="2.46" fill="#150f52" stroke="#2c2094" stroke-width="1.08"/>
<circle cx="78.1" cy="492.4" r="2.46" fill="#150f52" stroke="#2c2094" stroke-width="1.08"/>
<circle cx="86.1" cy="475.4" r="2.30" fill="#150f52" stroke="#2c2094" stroke-width="1.01"/>
<circle cx="89.1" cy="490.4" r="2.13" fill="#150f52" stroke="#2c2094" stroke-width="0.94"/>
<circle cx="39.1" cy="473.4" r="2.5" fill="#2a2090"/>
<circle cx="58.3" cy="460.8" r="4.2" fill="#e01838"/>
<circle cx="51.6" cy="465.7" r="2.4" fill="#e01838"/>
<circle cx="64.1" cy="469.4" r="3.4" fill="#c02890"/>
<circle cx="73.6" cy="471.4" r="3.6" fill="#c02890"/>
<circle cx="63.1" cy="462.4" r="3.4" fill="#c02890"/>
<circle cx="74.1" cy="462.4" r="3.5" fill="#c02890"/>
<circle cx="70.3" cy="468.4" r="5.4" fill="#d0dc38"/>
<circle cx="67.6" cy="465.9" r="3.6" fill="#48b048"/>
<circle cx="72.6" cy="471.9" r="2.8" fill="#e8f050"/>
<circle cx="64.6" cy="470.9" r="2.2" fill="#c0d040"/>
<circle cx="59.1" cy="482.4" r="2.8" fill="#c81848"/>
<circle cx="63.1" cy="489.4" r="2.5" fill="#c81848"/>
<circle cx="40.5" cy="484.2" r="2.81" fill="none" stroke="#8a2ab8" stroke-width="1.51"/>
<circle cx="74.3" cy="486.6" r="2.34" fill="none" stroke="#40b060" stroke-width="1.26"/>
<circle cx="42.1" cy="453.4" r="1.2" fill="#60c060"/>
<circle cx="41.1" cy="457.4" r="1.2" fill="#c03050"/>
<circle cx="55.1" cy="475.4" r="1.2" fill="#e01838"/>
</g>
<rect x="77.70" y="481.60" width="8.90" height="1.60" fill="#ffffff"/>
<clipPath id="ce2"><rect x="98.20" y="445.40" width="61.40" height="53.80"/></clipPath>
<rect x="98.20" y="445.40" width="61.40" height="53.80" fill="#050508"/>
<g clip-path="url(#ce2)" filter="url(#soft)">
<circle cx="124.7" cy="449.7" r="2.34" fill="none" stroke="#8a2ab8" stroke-width="1.26"/>
<ellipse cx="121.0" cy="454.9" rx="2.4" ry="3.6" fill="#e8f040"/>
<circle cx="124.0" cy="460.2" r="2.79" fill="#150f52" stroke="#2c2094" stroke-width="1.22"/>
<circle cx="115.4" cy="463.9" r="2.95" fill="#150f52" stroke="#2c2094" stroke-width="1.30"/>
<circle cx="126.5" cy="465.7" r="2.79" fill="#150f52" stroke="#2c2094" stroke-width="1.22"/>
<circle cx="110.5" cy="478.0" r="2.62" fill="#150f52" stroke="#2c2094" stroke-width="1.15"/>
<circle cx="105.0" cy="490.3" r="2.95" fill="#150f52" stroke="#2c2094" stroke-width="1.30"/>
<circle cx="120.4" cy="470.6" r="2.81" fill="none" stroke="#30c070" stroke-width="1.51"/>
<circle cx="116.0" cy="476.2" r="2.81" fill="none" stroke="#40d050" stroke-width="1.51"/>
<circle cx="127.1" cy="492.8" r="2.34" fill="none" stroke="#30c070" stroke-width="1.26"/>
<circle cx="133.3" cy="467.6" r="3.0" fill="#e01838"/>
<circle cx="143.7" cy="462.0" r="2.5" fill="#c81848"/>
<circle cx="149.3" cy="469.4" r="3.0" fill="#e01838"/>
<ellipse cx="125.3" cy="486.0" rx="4.2" ry="2.0" fill="#e01838"/>
<circle cx="138.8" cy="476.2" r="3.0" fill="#c02890"/>
<circle cx="140.0" cy="484.8" r="2.6" fill="#e01838"/>
<circle cx="148.7" cy="491.6" r="2.5" fill="#c02890"/>
<circle cx="133.3" cy="479.9" r="2.34" fill="none" stroke="#f0a0c0" stroke-width="1.26"/>
<circle cx="138.8" cy="490.3" r="2.46" fill="#150f52" stroke="#2c2094" stroke-width="1.08"/>
<circle cx="145.0" cy="488.5" r="2.46" fill="#150f52" stroke="#2c2094" stroke-width="1.08"/>
<circle cx="141.2" cy="480.4" r="2.6" fill="#e01838"/>
<circle cx="135.2" cy="473.4" r="2.2" fill="#c02890"/>
<circle cx="134.2" cy="483.4" r="2.0" fill="#80d040"/>
<circle cx="100.2" cy="465.4" r="1.97" fill="#150f52" stroke="#2c2094" stroke-width="0.86"/>
<circle cx="153.2" cy="497.4" r="1.97" fill="#150f52" stroke="#2c2094" stroke-width="0.86"/>
<circle cx="131.2" cy="495.4" r="2.13" fill="#150f52" stroke="#2c2094" stroke-width="0.94"/>
</g>
<clipPath id="ce3"><rect x="33.10" y="524.40" width="62.00" height="53.90"/></clipPath>
<rect x="33.10" y="524.40" width="62.00" height="53.90" fill="#050508"/>
<g clip-path="url(#ce3)" filter="url(#soft)">
<circle cx="71.9" cy="532.4" r="5.2" fill="#38d060"/>
<circle cx="71.9" cy="532.4" r="3.0" fill="#70e080"/>
<circle cx="42.3" cy="539.2" r="3.6" fill="#40c8a0"/>
<circle cx="44.8" cy="546.6" r="3.0" fill="#40c8a0"/>
<circle cx="60.8" cy="543.5" r="3.5" fill="#e01838"/>
<circle cx="36.8" cy="540.4" r="2.5" fill="#c02890"/>
<circle cx="62.6" cy="533.6" r="2.46" fill="#150f52" stroke="#2c2094" stroke-width="1.08"/>
<circle cx="54.6" cy="545.9" r="2.46" fill="#150f52" stroke="#2c2094" stroke-width="1.08"/>
<circle cx="59.6" cy="553.9" r="2.46" fill="#150f52" stroke="#2c2094" stroke-width="1.08"/>
<circle cx="78.6" cy="540.4" r="2.34" fill="none" stroke="#306080" stroke-width="1.26"/>
<circle cx="92.1" cy="530.6" r="2.46" fill="#150f52" stroke="#2c2094" stroke-width="1.08"/>
<circle cx="92.1" cy="551.4" r="2.46" fill="#150f52" stroke="#2c2094" stroke-width="1.08"/>
<circle cx="35.6" cy="563.8" r="2.46" fill="#150f52" stroke="#2c2094" stroke-width="1.08"/>
<circle cx="73.7" cy="569.9" r="2.46" fill="#150f52" stroke="#2c2094" stroke-width="1.08"/>
<circle cx="74.9" cy="545.9" r="2.73" fill="none" stroke="#c02890" stroke-width="1.47"/>
<circle cx="79.3" cy="549.6" r="2.73" fill="none" stroke="#c02890" stroke-width="1.47"/>
<circle cx="82.3" cy="557.6" r="3.5" fill="#c02890"/>
<circle cx="86.0" cy="553.3" r="3.0" fill="#e01838"/>
<circle cx="73.7" cy="562.6" r="4.0" fill="#e01838"/>
<circle cx="77.4" cy="565.0" r="3.0" fill="#e01838"/>
<circle cx="40.5" cy="557.0" r="3.0" fill="#c81848"/>
<circle cx="57.1" cy="572.4" r="3.0" fill="#c02890"/>
<circle cx="52.8" cy="574.9" r="2.5" fill="#c81848"/>
<circle cx="78.1" cy="574.2" r="2.0" fill="#38d060"/>
<circle cx="70.0" cy="548.4" r="1.95" fill="none" stroke="#40c8a0" stroke-width="1.05"/>
<circle cx="78.1" cy="534.9" r="2.0" fill="#e01838"/>
<circle cx="81.1" cy="569.4" r="1.97" fill="#150f52" stroke="#2c2094" stroke-width="0.86"/>
<circle cx="49.1" cy="568.4" r="1.97" fill="#150f52" stroke="#2c2094" stroke-width="0.86"/>
<circle cx="66.1" cy="556.4" r="1.64" fill="#150f52" stroke="#2c2094" stroke-width="0.72"/>
</g>
<clipPath id="ce4"><rect x="96.40" y="524.40" width="63.20" height="53.90"/></clipPath>
<rect x="96.40" y="524.40" width="63.20" height="53.90" fill="#050508"/>
<g clip-path="url(#ce4)" filter="url(#soft)">
<circle cx="103.2" cy="545.9" r="3.6" fill="#e01838"/>
<circle cx="108.1" cy="543.5" r="3.6" fill="#e01838"/>
<circle cx="121.6" cy="551.5" r="3.6" fill="#e01838"/>
<circle cx="111.8" cy="569.3" r="2.81" fill="none" stroke="#c02890" stroke-width="1.51"/>
<circle cx="129.6" cy="574.9" r="2.34" fill="none" stroke="#c02890" stroke-width="1.26"/>
<circle cx="103.2" cy="571.8" r="3.0" fill="#e01838"/>
<circle cx="150.6" cy="552.7" r="2.6" fill="#e01838"/>
<circle cx="103.8" cy="526.9" r="2.0" fill="#e01838"/>
<circle cx="112.4" cy="533.6" r="2.73" fill="none" stroke="#e05030" stroke-width="1.47"/>
<circle cx="108.1" cy="531.8" r="2.2" fill="#e01838"/>
<ellipse cx="121.0" cy="531.8" rx="2.4" ry="3.6" fill="#38d060"/>
<circle cx="115.5" cy="545.9" r="3.0" fill="#38d060"/>
<circle cx="143.2" cy="561.3" r="2.73" fill="none" stroke="#38d060" stroke-width="1.47"/>
<circle cx="145.0" cy="557.6" r="2.34" fill="none" stroke="#38d060" stroke-width="1.26"/>
<circle cx="143.8" cy="565.0" r="2.34" fill="none" stroke="#38d060" stroke-width="1.26"/>
<circle cx="137.0" cy="552.7" r="3.0" fill="#8a2ab8"/>
<circle cx="140.7" cy="549.6" r="2.5" fill="#8a2ab8"/>
<circle cx="119.8" cy="561.3" r="2.05" fill="#150f52" stroke="#2c2094" stroke-width="0.90"/>
<circle cx="100.1" cy="565.0" r="2.46" fill="#150f52" stroke="#2c2094" stroke-width="1.08"/>
<circle cx="138.2" cy="553.9" r="2.0" fill="#e06030"/>
<circle cx="136.4" cy="557.6" r="2.0" fill="#e01838"/>
<circle cx="151.8" cy="561.3" r="2.5" fill="#c02890"/>
<circle cx="151.2" cy="566.2" r="2.0" fill="#38d060"/>
<circle cx="98.4" cy="560.4" r="2.4" fill="#208080"/>
<circle cx="126.4" cy="576.4" r="1.97" fill="#150f52" stroke="#2c2094" stroke-width="0.86"/>
<circle cx="106.4" cy="554.4" r="1.64" fill="#150f52" stroke="#2c2094" stroke-width="0.72"/>
<circle cx="137.5" cy="529.1" r="1.220747578431883" fill="#184a40"/>
<circle cx="151.4" cy="528.1" r="1.1662304047226841" fill="#1f5a4c"/>
<circle cx="129.4" cy="534.2" r="0.7558843388596951" fill="#184a40"/>
<circle cx="143.8" cy="527.5" r="1.1523629553544636" fill="#1f5a4c"/>
<circle cx="146.1" cy="536.9" r="0.7494896386689123" fill="#163c3c"/>
<circle cx="129.8" cy="530.4" r="1.1453319183496742" fill="#1f5a4c"/>
<circle cx="136.5" cy="529.0" r="0.7942337904626946" fill="#2a7060"/>
<circle cx="144.1" cy="538.7" r="0.782444569954873" fill="#1f5a4c"/>
<circle cx="138.8" cy="536.3" r="0.7502311799786585" fill="#184a40"/>
<circle cx="145.7" cy="535.3" r="1.1253761972641485" fill="#2a7060"/>
<circle cx="141.4" cy="543.0" r="0.989265884755653" fill="#1f5a4c"/>
<circle cx="150.6" cy="539.0" r="0.8952772085777223" fill="#2a7060"/>
<circle cx="143.1" cy="542.2" r="1.283556231551374" fill="#2a7060"/>
<circle cx="145.5" cy="527.7" r="1.1095462645180394" fill="#1f5a4c"/>
<circle cx="149.6" cy="529.1" r="1.0911704803806446" fill="#184a40"/>
<circle cx="155.3" cy="527.8" r="1.1464606021226997" fill="#2a7060"/>
<circle cx="137.9" cy="532.7" r="1.0973398362391902" fill="#163c3c"/>
<circle cx="130.3" cy="528.1" r="0.9159514217024941" fill="#184a40"/>
<circle cx="130.1" cy="539.0" r="1.217703083622135" fill="#163c3c"/>
<circle cx="136.4" cy="533.3" r="1.2349221727073505" fill="#184a40"/>
<circle cx="154.7" cy="532.8" r="1.1887356347864615" fill="#163c3c"/>
<circle cx="130.1" cy="540.2" r="0.8034721776149474" fill="#1f5a4c"/>
<circle cx="139.5" cy="542.9" r="1.0972053592239694" fill="#1f5a4c"/>
<circle cx="141.0" cy="536.3" r="1.40670706115321" fill="#163c3c"/>
<circle cx="152.6" cy="531.4" r="1.032237213769359" fill="#2a7060"/>
<circle cx="147.5" cy="533.2" r="0.8846012064869457" fill="#184a40"/>
<circle cx="133.3" cy="530.6" r="0.8866688669446888" fill="#163c3c"/>
<circle cx="151.7" cy="529.7" r="0.9255445778613901" fill="#1f5a4c"/>
<circle cx="140.1" cy="533.0" r="1.1530729789651135" fill="#1f5a4c"/>
<circle cx="147.7" cy="535.7" r="1.194074199527302" fill="#184a40"/>
</g>
<text x="65.05" y="430.50" font-size="10" fill="#b0224a" text-anchor="middle" textLength="58.70" lengthAdjust="spacingAndGlyphs" stroke="#b0224a" stroke-width="0.18">Ter119-Alexa</text>
<text x="65.05" y="440.20" font-size="10" fill="#b0224a" text-anchor="middle" textLength="41.00" lengthAdjust="spacingAndGlyphs" stroke="#b0224a" stroke-width="0.18">Fluor 568</text>
<text x="127.65" y="430.50" font-size="10" fill="#4ca64e" text-anchor="middle" textLength="54.10" lengthAdjust="spacingAndGlyphs" stroke="#4ca64e" stroke-width="0.18">F4/80-Alexa</text>
<text x="127.65" y="440.20" font-size="10" fill="#4ca64e" text-anchor="middle" textLength="44.20" lengthAdjust="spacingAndGlyphs" stroke="#4ca64e" stroke-width="0.18">Fluor 488</text>
<text x="64.90" y="509.60" font-size="10.6" fill="#1a1a1a" text-anchor="middle" stroke="#1a1a1a" stroke-width="0.18">K3WT</text>
<text x="128.90" y="509.60" font-size="10.6" fill="#1a1a1a" text-anchor="middle" stroke="#1a1a1a" stroke-width="0.18">K3KO</text>
<text x="128.90" y="521.00" font-size="10.6" fill="#1a1a1a" text-anchor="middle" stroke="#1a1a1a" stroke-width="0.18">EpoR-cre</text>
<text x="65.20" y="589.10" font-size="10.6" fill="#1a1a1a" text-anchor="middle" stroke="#1a1a1a" stroke-width="0.18">K3KO</text>
<text x="65.20" y="601.60" font-size="10.6" fill="#1a1a1a" text-anchor="middle" stroke="#1a1a1a" stroke-width="0.18">Lyz2-cre</text>
<text x="128.90" y="589.10" font-size="10.6" fill="#1a1a1a" text-anchor="middle" stroke="#1a1a1a" stroke-width="0.18">K3KI</text>
<defs><filter id="soft2" x="-5%" y="-5%" width="110%" height="110%"><feGaussianBlur stdDeviation="0.55"/></filter></defs>
<clipPath id="cg1"><rect x="377.50" y="445.90" width="60.40" height="56.60"/></clipPath>
<rect x="377.50" y="445.90" width="60.40" height="56.60" fill="#07070b"/>
<g clip-path="url(#cg1)" filter="url(#soft2)">
<path d="M404.8 477.6h2.1v2.1h-2.1zM429.1 456.6h2.0v2.0h-2.0zM399.8 481.1h1.2v1.2h-1.2zM430.6 487.1h1.5v1.5h-1.5zM412.7 463.8h1.2v1.2h-1.2zM408.9 483.9h1.9v1.9h-1.9zM406.1 453.1h1.5v1.5h-1.5zM434.2 467.7h2.2v2.2h-2.2zM387.2 459.2h2.2v2.2h-2.2zM403.6 478.0h2.0v2.0h-2.0zM426.8 469.8h1.9v1.9h-1.9zM389.4 466.2h1.7v1.7h-1.7zM419.0 451.9h1.5v1.5h-1.5zM420.3 456.1h1.5v1.5h-1.5zM392.1 495.3h2.2v2.2h-2.2zM424.1 452.2h1.5v1.5h-1.5zM414.2 480.3h2.0v2.0h-2.0zM423.1 479.9h1.2v1.2h-1.2zM401.7 479.5h1.9v1.9h-1.9zM426.9 496.0h1.4v1.4h-1.4zM384.0 498.7h1.3v1.3h-1.3zM434.2 494.8h2.2v2.2h-2.2zM409.3 491.8h2.0v2.0h-2.0zM422.1 488.0h1.5v1.5h-1.5zM381.4 469.6h1.3v1.3h-1.3zM413.7 458.4h1.1v1.1h-1.1zM382.5 484.7h1.2v1.2h-1.2z" fill="#7050b0" fill-opacity="0.5"/>
<path d="M425.4 451.2h1.4v1.4h-1.4zM391.4 462.3h1.1v1.1h-1.1zM436.5 453.1h1.6v1.6h-1.6zM382.8 447.2h2.1v2.1h-2.1zM409.2 478.3h1.2v1.2h-1.2zM392.0 487.0h1.3v1.3h-1.3zM383.2 490.7h1.4v1.4h-1.4zM423.5 501.4h1.0v1.0h-1.0zM408.2 500.6h1.7v1.7h-1.7zM389.8 448.8h1.6v1.6h-1.6zM390.2 465.4h1.9v1.9h-1.9zM399.8 451.4h2.1v2.1h-2.1zM424.3 450.2h1.3v1.3h-1.3zM397.6 453.6h1.6v1.6h-1.6zM406.8 468.7h2.1v2.1h-2.1zM402.0 477.4h2.2v2.2h-2.2zM382.9 458.7h1.2v1.2h-1.2zM399.4 455.3h1.7v1.7h-1.7zM402.4 447.8h1.6v1.6h-1.6zM395.3 461.4h2.0v2.0h-2.0zM423.9 465.8h1.9v1.9h-1.9zM399.4 478.5h2.1v2.1h-2.1zM410.5 494.0h1.9v1.9h-1.9zM389.2 466.1h1.6v1.6h-1.6zM428.2 482.6h2.1v2.1h-2.1zM404.1 488.7h2.1v2.1h-2.1zM429.1 489.5h1.7v1.7h-1.7zM398.4 485.7h1.3v1.3h-1.3zM398.1 492.3h2.0v2.0h-2.0zM402.4 477.7h2.2v2.2h-2.2zM411.6 455.7h1.7v1.7h-1.7zM423.6 449.1h1.2v1.2h-1.2zM380.9 489.1h1.1v1.1h-1.1zM435.3 466.0h2.0v2.0h-2.0zM398.7 469.2h1.1v1.1h-1.1zM392.9 459.7h1.3v1.3h-1.3z" fill="#5a3aa0" fill-opacity="0.5"/>
<path d="M431.3 481.8h1.7v1.7h-1.7zM418.9 496.9h2.0v2.0h-2.0zM428.5 477.6h1.4v1.4h-1.4zM426.0 463.1h1.4v1.4h-1.4zM420.4 491.3h1.5v1.5h-1.5zM390.8 448.7h2.1v2.1h-2.1zM424.9 486.7h1.9v1.9h-1.9zM409.3 459.4h1.4v1.4h-1.4zM403.3 468.1h1.1v1.1h-1.1zM418.5 448.2h1.7v1.7h-1.7zM393.9 460.2h1.8v1.8h-1.8zM409.2 446.5h1.9v1.9h-1.9z" fill="#304080" fill-opacity="0.75"/>
<path d="M417.0 480.7h1.2v1.2h-1.2zM381.3 447.9h2.1v2.1h-2.1zM428.1 450.6h1.9v1.9h-1.9zM414.6 498.0h1.3v1.3h-1.3zM420.9 446.8h1.6v1.6h-1.6zM426.4 450.2h1.7v1.7h-1.7zM394.6 486.5h1.4v1.4h-1.4zM426.2 493.1h2.1v2.1h-2.1zM401.0 475.8h1.3v1.3h-1.3zM423.0 446.9h1.6v1.6h-1.6zM425.5 489.7h1.9v1.9h-1.9zM403.6 497.1h1.4v1.4h-1.4zM411.1 472.6h2.1v2.1h-2.1zM400.7 458.9h1.7v1.7h-1.7zM379.4 481.4h1.5v1.5h-1.5zM408.4 502.1h1.1v1.1h-1.1zM379.3 479.3h1.8v1.8h-1.8zM391.4 488.3h1.6v1.6h-1.6z" fill="#3a2a90" fill-opacity="0.5"/>
<path d="M397.2 479.3h1.2v1.2h-1.2zM426.9 460.0h1.2v1.2h-1.2zM403.5 491.5h2.1v2.1h-2.1zM407.3 499.6h1.1v1.1h-1.1zM414.7 476.4h2.0v2.0h-2.0zM434.3 476.6h1.8v1.8h-1.8zM404.9 487.7h1.5v1.5h-1.5zM409.7 468.0h2.2v2.2h-2.2zM393.0 468.6h1.1v1.1h-1.1zM414.3 486.9h1.8v1.8h-1.8zM404.5 492.4h2.0v2.0h-2.0zM404.9 494.3h2.0v2.0h-2.0zM389.5 498.7h2.2v2.2h-2.2zM427.3 462.2h2.1v2.1h-2.1zM384.8 485.0h1.3v1.3h-1.3zM410.8 459.6h1.6v1.6h-1.6zM437.5 484.3h2.0v2.0h-2.0zM408.9 449.0h1.5v1.5h-1.5zM388.8 475.0h1.2v1.2h-1.2zM383.8 447.0h2.0v2.0h-2.0zM422.7 476.1h1.3v1.3h-1.3zM401.7 464.1h1.1v1.1h-1.1zM417.0 479.5h1.3v1.3h-1.3zM437.2 457.6h1.8v1.8h-1.8zM406.3 457.1h1.5v1.5h-1.5zM381.5 472.1h1.5v1.5h-1.5zM394.8 484.4h1.1v1.1h-1.1zM433.5 482.0h1.0v1.0h-1.0zM436.7 464.5h1.8v1.8h-1.8z" fill="#2a3aa0" fill-opacity="0.5"/>
<path d="M407.7 483.4h1.5v1.5h-1.5zM410.8 498.6h1.1v1.1h-1.1zM432.9 457.4h1.0v1.0h-1.0zM378.8 481.9h1.6v1.6h-1.6zM431.6 448.2h1.1v1.1h-1.1zM427.6 461.6h1.7v1.7h-1.7zM421.6 452.8h1.6v1.6h-1.6zM389.0 479.0h1.4v1.4h-1.4zM413.5 470.2h1.6v1.6h-1.6zM413.6 466.6h1.3v1.3h-1.3zM422.4 492.0h1.2v1.2h-1.2zM411.9 497.9h2.1v2.1h-2.1zM410.3 475.7h1.2v1.2h-1.2zM382.0 497.3h1.0v1.0h-1.0zM393.0 486.4h1.9v1.9h-1.9zM403.2 485.3h2.0v2.0h-2.0zM402.8 448.6h1.3v1.3h-1.3zM404.7 494.3h1.5v1.5h-1.5zM403.1 476.7h1.2v1.2h-1.2zM404.8 467.2h2.1v2.1h-2.1zM422.6 473.2h1.0v1.0h-1.0zM432.3 491.4h1.6v1.6h-1.6zM378.8 480.2h1.3v1.3h-1.3zM393.2 448.8h1.1v1.1h-1.1zM386.0 464.2h1.9v1.9h-1.9zM433.8 454.5h1.6v1.6h-1.6zM424.0 457.2h1.1v1.1h-1.1zM425.5 446.1h2.2v2.2h-2.2zM423.0 448.9h1.1v1.1h-1.1zM397.3 463.9h2.0v2.0h-2.0zM399.5 499.7h1.9v1.9h-1.9zM409.9 460.3h1.4v1.4h-1.4z" fill="#6040a0" fill-opacity="0.5"/>
<path d="M428.6 467.8h2.1v2.1h-2.1zM400.7 468.2h2.2v2.2h-2.2zM436.1 491.4h1.4v1.4h-1.4zM400.9 473.2h1.1v1.1h-1.1zM410.7 489.4h1.6v1.6h-1.6zM383.6 496.2h2.2v2.2h-2.2zM425.2 483.3h1.7v1.7h-1.7zM418.0 487.7h1.5v1.5h-1.5zM389.7 494.5h1.8v1.8h-1.8zM390.9 478.7h1.6v1.6h-1.6zM402.3 466.5h1.3v1.3h-1.3zM397.9 501.4h1.7v1.7h-1.7zM401.2 493.6h1.5v1.5h-1.5zM406.6 493.4h1.5v1.5h-1.5zM378.5 494.6h2.1v2.1h-2.1z" fill="#3a2a90" fill-opacity="0.25"/>
<path d="M433.5 448.9h1.5v1.5h-1.5zM379.3 474.2h1.0v1.0h-1.0zM384.3 472.6h2.1v2.1h-2.1zM404.9 481.3h2.1v2.1h-2.1zM414.1 447.5h2.2v2.2h-2.2zM419.9 495.6h1.0v1.0h-1.0zM420.1 494.6h1.8v1.8h-1.8zM397.4 476.4h1.4v1.4h-1.4zM434.6 483.6h1.4v1.4h-1.4zM426.8 480.1h1.1v1.1h-1.1zM385.9 469.5h1.7v1.7h-1.7zM424.9 452.8h1.5v1.5h-1.5zM411.1 450.8h1.2v1.2h-1.2zM413.7 472.5h1.5v1.5h-1.5zM406.8 502.2h2.0v2.0h-2.0zM403.0 491.5h1.3v1.3h-1.3zM432.4 497.5h1.3v1.3h-1.3zM419.1 491.5h1.4v1.4h-1.4zM423.4 493.6h2.0v2.0h-2.0zM421.1 469.0h1.2v1.2h-1.2zM402.2 447.7h1.4v1.4h-1.4zM400.1 479.5h2.0v2.0h-2.0zM436.1 472.7h2.1v2.1h-2.1zM410.3 489.1h1.9v1.9h-1.9zM382.2 460.7h1.1v1.1h-1.1zM381.2 475.8h1.7v1.7h-1.7zM420.0 473.9h1.5v1.5h-1.5zM398.4 455.2h1.4v1.4h-1.4z" fill="#304080" fill-opacity="0.5"/>
<path d="M411.7 457.1h1.8v1.8h-1.8zM431.9 501.4h2.2v2.2h-2.2zM396.5 468.4h1.7v1.7h-1.7zM391.9 452.3h2.1v2.1h-2.1zM421.6 475.1h1.1v1.1h-1.1zM412.3 485.4h1.4v1.4h-1.4zM388.0 475.3h1.3v1.3h-1.3zM399.3 454.6h2.1v2.1h-2.1zM404.6 453.6h1.6v1.6h-1.6zM411.4 492.9h2.2v2.2h-2.2zM405.6 496.1h1.1v1.1h-1.1zM383.5 496.6h1.1v1.1h-1.1zM406.6 477.0h2.0v2.0h-2.0zM424.9 458.3h1.2v1.2h-1.2zM427.7 501.5h1.1v1.1h-1.1z" fill="#a03070" fill-opacity="0.25"/>
<path d="M397.6 500.5h1.9v1.9h-1.9zM401.3 494.3h1.8v1.8h-1.8zM416.8 457.5h1.9v1.9h-1.9zM389.3 490.0h1.2v1.2h-1.2zM418.9 456.6h1.1v1.1h-1.1zM410.5 490.5h1.1v1.1h-1.1zM415.5 474.5h1.7v1.7h-1.7zM436.0 488.5h2.1v2.1h-2.1zM389.3 461.7h1.8v1.8h-1.8zM377.8 487.6h1.5v1.5h-1.5zM390.3 469.4h1.6v1.6h-1.6z" fill="#5a3aa0" fill-opacity="0.25"/>
<path d="M420.2 446.5h1.6v1.6h-1.6zM394.7 486.9h1.3v1.3h-1.3zM423.5 480.6h2.1v2.1h-2.1zM383.3 449.4h2.1v2.1h-2.1zM388.8 456.8h1.8v1.8h-1.8zM387.2 485.0h2.0v2.0h-2.0zM390.6 461.9h2.0v2.0h-2.0zM401.0 494.0h1.7v1.7h-1.7zM430.2 462.1h2.0v2.0h-2.0zM402.5 449.0h1.3v1.3h-1.3zM436.4 497.4h1.5v1.5h-1.5z" fill="#7050b0" fill-opacity="0.25"/>
<path d="M411.3 471.2h1.2v1.2h-1.2zM385.9 471.4h1.4v1.4h-1.4zM396.2 490.7h1.0v1.0h-1.0zM389.0 489.4h1.3v1.3h-1.3zM418.8 457.2h1.6v1.6h-1.6zM398.4 485.4h1.6v1.6h-1.6zM411.3 492.9h1.7v1.7h-1.7zM422.6 468.0h1.2v1.2h-1.2zM437.2 464.3h1.7v1.7h-1.7zM392.3 455.1h1.8v1.8h-1.8zM396.9 460.6h2.0v2.0h-2.0zM437.5 461.0h1.6v1.6h-1.6zM388.3 457.5h2.1v2.1h-2.1zM428.5 486.6h2.1v2.1h-2.1zM400.6 451.7h1.7v1.7h-1.7zM424.1 465.2h2.0v2.0h-2.0zM410.0 462.8h1.3v1.3h-1.3zM401.9 490.2h2.1v2.1h-2.1zM428.1 465.9h1.6v1.6h-1.6zM406.7 447.7h1.3v1.3h-1.3zM436.1 448.9h1.5v1.5h-1.5zM429.2 447.7h1.1v1.1h-1.1zM412.8 502.2h1.9v1.9h-1.9zM398.5 456.3h1.7v1.7h-1.7zM419.0 500.5h2.0v2.0h-2.0zM415.8 466.7h1.8v1.8h-1.8zM432.1 493.0h2.0v2.0h-2.0zM434.3 448.6h2.0v2.0h-2.0zM435.6 458.3h1.5v1.5h-1.5zM381.7 468.0h2.1v2.1h-2.1zM385.2 485.2h1.6v1.6h-1.6zM408.1 453.0h1.7v1.7h-1.7zM407.0 482.9h2.1v2.1h-2.1zM413.1 472.1h1.9v1.9h-1.9z" fill="#802a70" fill-opacity="0.5"/>
<path d="M386.3 470.9h1.0v1.0h-1.0zM422.0 485.7h2.0v2.0h-2.0zM386.2 480.5h1.6v1.6h-1.6zM416.9 474.4h2.0v2.0h-2.0zM429.9 470.2h1.0v1.0h-1.0zM436.0 452.4h1.6v1.6h-1.6zM383.3 468.0h1.5v1.5h-1.5zM402.0 486.8h1.1v1.1h-1.1zM378.2 460.5h1.3v1.3h-1.3zM417.2 464.4h2.1v2.1h-2.1zM418.4 479.0h2.0v2.0h-2.0zM409.0 489.2h1.5v1.5h-1.5zM391.9 446.5h1.6v1.6h-1.6zM400.2 476.5h1.4v1.4h-1.4zM397.4 499.4h1.7v1.7h-1.7zM384.6 452.4h2.1v2.1h-2.1zM414.7 470.4h1.5v1.5h-1.5zM394.0 469.7h2.1v2.1h-2.1zM431.4 449.3h1.1v1.1h-1.1zM381.5 494.2h1.7v1.7h-1.7zM385.7 474.6h1.4v1.4h-1.4zM388.0 449.7h1.7v1.7h-1.7zM386.9 450.0h1.2v1.2h-1.2zM418.3 486.3h1.0v1.0h-1.0zM426.3 499.3h1.8v1.8h-1.8zM419.7 478.1h1.7v1.7h-1.7zM423.7 478.9h2.1v2.1h-2.1z" fill="#a03070" fill-opacity="0.5"/>
<path d="M400.8 450.1h1.3v1.3h-1.3zM423.1 476.2h1.0v1.0h-1.0zM424.6 447.2h1.2v1.2h-1.2zM413.8 446.6h1.8v1.8h-1.8zM432.2 470.2h1.6v1.6h-1.6zM419.7 477.6h1.6v1.6h-1.6zM391.3 462.9h2.1v2.1h-2.1zM403.1 478.1h1.2v1.2h-1.2zM408.8 487.9h1.6v1.6h-1.6zM390.3 488.0h1.7v1.7h-1.7zM401.6 448.9h1.1v1.1h-1.1zM434.6 483.2h1.3v1.3h-1.3zM393.7 483.4h1.0v1.0h-1.0zM408.3 463.4h1.4v1.4h-1.4z" fill="#2a3aa0" fill-opacity="0.25"/>
<path d="M385.7 467.8h1.8v1.8h-1.8zM433.3 472.8h1.4v1.4h-1.4zM388.6 457.4h2.0v2.0h-2.0zM409.6 447.5h1.1v1.1h-1.1zM416.7 464.8h1.1v1.1h-1.1zM393.4 450.2h1.0v1.0h-1.0z" fill="#6040a0" fill-opacity="0.75"/>
<path d="M379.8 500.4h1.3v1.3h-1.3zM425.3 497.2h1.1v1.1h-1.1zM410.0 469.3h2.1v2.1h-2.1zM384.5 488.0h1.2v1.2h-1.2zM412.9 481.7h1.5v1.5h-1.5zM379.9 449.3h1.3v1.3h-1.3zM410.4 478.0h2.2v2.2h-2.2zM392.4 469.8h2.0v2.0h-2.0zM388.9 463.3h1.5v1.5h-1.5zM387.9 470.8h1.5v1.5h-1.5zM379.5 472.0h1.9v1.9h-1.9zM407.6 482.7h1.6v1.6h-1.6zM394.7 485.7h1.3v1.3h-1.3zM410.9 485.5h1.0v1.0h-1.0zM405.5 471.3h2.2v2.2h-2.2zM391.7 446.0h1.7v1.7h-1.7zM380.7 460.3h1.6v1.6h-1.6zM383.9 454.0h1.4v1.4h-1.4zM396.4 487.6h2.2v2.2h-2.2zM435.2 458.3h1.3v1.3h-1.3zM412.8 474.0h2.0v2.0h-2.0zM378.1 454.6h2.0v2.0h-2.0zM394.1 469.0h2.1v2.1h-2.1z" fill="#304080" fill-opacity="0.25"/>
<path d="M427.3 479.7h1.4v1.4h-1.4zM430.1 480.4h1.4v1.4h-1.4zM383.4 491.8h2.1v2.1h-2.1zM421.6 463.1h1.2v1.2h-1.2zM391.0 456.4h1.3v1.3h-1.3zM394.4 476.9h1.2v1.2h-1.2zM400.3 483.8h1.3v1.3h-1.3z" fill="#802a70" fill-opacity="0.75"/>
<path d="M392.5 448.5h1.3v1.3h-1.3zM437.3 452.8h1.1v1.1h-1.1zM407.4 489.2h1.4v1.4h-1.4zM410.1 493.2h1.7v1.7h-1.7zM383.9 463.7h1.0v1.0h-1.0zM397.6 462.5h1.1v1.1h-1.1zM379.1 483.2h1.9v1.9h-1.9zM422.5 496.7h1.4v1.4h-1.4zM410.3 490.7h1.3v1.3h-1.3zM437.0 446.1h1.5v1.5h-1.5zM385.1 487.8h1.3v1.3h-1.3zM406.0 485.2h1.9v1.9h-1.9zM386.7 496.0h1.3v1.3h-1.3zM383.8 453.7h2.1v2.1h-2.1zM388.7 481.0h1.8v1.8h-1.8z" fill="#802a70" fill-opacity="0.25"/>
<path d="M437.9 450.2h1.7v1.7h-1.7zM406.2 462.5h1.1v1.1h-1.1zM395.1 465.4h1.3v1.3h-1.3zM392.6 491.6h1.5v1.5h-1.5zM386.7 466.6h1.1v1.1h-1.1zM416.9 449.3h1.3v1.3h-1.3z" fill="#3a2a90" fill-opacity="0.75"/>
<path d="M378.3 450.0h1.1v1.1h-1.1zM379.8 458.5h1.3v1.3h-1.3zM382.5 461.2h1.9v1.9h-1.9zM395.9 479.5h1.1v1.1h-1.1zM432.1 451.5h2.0v2.0h-2.0zM420.2 497.8h1.9v1.9h-1.9zM437.2 448.7h1.9v1.9h-1.9zM426.0 492.7h1.9v1.9h-1.9zM427.0 469.0h1.5v1.5h-1.5zM401.4 492.8h1.8v1.8h-1.8zM425.9 471.1h2.1v2.1h-2.1zM401.5 485.0h1.8v1.8h-1.8z" fill="#5a3aa0" fill-opacity="0.75"/>
<path d="M404.2 496.4h1.4v1.4h-1.4zM384.1 469.6h1.0v1.0h-1.0zM419.4 450.6h1.9v1.9h-1.9zM410.3 477.6h1.7v1.7h-1.7zM412.3 471.6h1.4v1.4h-1.4zM420.8 501.1h1.7v1.7h-1.7zM435.2 495.1h1.3v1.3h-1.3zM412.9 472.4h1.4v1.4h-1.4zM379.6 464.2h1.4v1.4h-1.4zM415.0 469.2h1.5v1.5h-1.5zM396.2 491.2h2.0v2.0h-2.0zM390.5 480.8h2.0v2.0h-2.0zM418.3 461.2h1.0v1.0h-1.0zM399.5 482.0h1.4v1.4h-1.4zM393.1 465.4h1.7v1.7h-1.7zM407.8 497.1h1.5v1.5h-1.5zM399.6 479.8h1.4v1.4h-1.4zM404.5 500.8h1.4v1.4h-1.4z" fill="#6040a0" fill-opacity="0.25"/>
<path d="M436.9 452.4h1.1v1.1h-1.1zM415.4 465.6h1.2v1.2h-1.2zM418.9 446.9h1.2v1.2h-1.2zM432.8 469.1h2.0v2.0h-2.0zM423.8 492.4h1.5v1.5h-1.5zM415.1 487.0h1.7v1.7h-1.7zM430.6 502.5h1.9v1.9h-1.9zM430.7 448.7h1.1v1.1h-1.1zM392.0 493.4h1.1v1.1h-1.1zM417.9 456.4h1.6v1.6h-1.6zM437.6 467.3h2.0v2.0h-2.0zM437.6 485.0h1.9v1.9h-1.9zM413.3 451.8h1.8v1.8h-1.8z" fill="#a03070" fill-opacity="0.75"/>
<path d="M432.8 472.5h2.2v2.2h-2.2zM434.1 481.4h2.1v2.1h-2.1zM419.3 459.0h1.4v1.4h-1.4zM396.1 474.1h2.1v2.1h-2.1zM416.2 451.0h2.2v2.2h-2.2zM380.8 480.8h1.4v1.4h-1.4z" fill="#7050b0" fill-opacity="0.75"/>
<path d="M428.9 480.5h2.0v2.0h-2.0zM423.0 456.6h1.3v1.3h-1.3zM430.8 471.5h1.9v1.9h-1.9zM434.1 471.1h1.1v1.1h-1.1zM377.7 464.9h1.2v1.2h-1.2z" fill="#2a3aa0" fill-opacity="0.75"/>
<path d="M419.5 464.1h2.1v2.1h-2.1zM406.8 462.8h2.0v2.0h-2.0zM408.7 461.2h1.2v1.2h-1.2zM419.7 454.3h1.4v1.4h-1.4zM407.7 455.9h2.1v2.1h-2.1zM416.7 471.3h1.7v1.7h-1.7zM409.2 451.2h2.3v2.3h-2.3zM417.5 449.3h1.3v1.3h-1.3zM419.6 482.0h1.6v1.6h-1.6zM426.6 485.5h1.5v1.5h-1.5zM426.6 501.7h1.5v1.5h-1.5zM423.9 484.6h2.2v2.2h-2.2zM384.2 475.5h2.2v2.2h-2.2zM393.4 470.9h1.8v1.8h-1.8zM400.1 486.6h1.5v1.5h-1.5zM415.5 462.9h1.7v1.7h-1.7zM416.2 489.3h2.2v2.2h-2.2zM422.7 489.3h1.2v1.2h-1.2zM419.6 487.9h2.2v2.2h-2.2zM416.5 493.2h1.2v1.2h-1.2z" fill="#f8f0f8"/>
<path d="M409.5 453.6h2.0v2.0h-2.0zM399.1 450.8h1.9v1.9h-1.9zM421.4 459.6h1.2v1.2h-1.2zM407.0 472.7h1.5v1.5h-1.5zM412.0 454.3h1.1v1.1h-1.1zM424.8 464.4h1.9v1.9h-1.9zM411.4 456.4h1.9v1.9h-1.9zM414.9 462.9h2.1v2.1h-2.1zM416.1 476.1h1.8v1.8h-1.8zM429.6 457.9h1.8v1.8h-1.8zM416.1 464.4h1.3v1.3h-1.3zM409.3 452.1h1.7v1.7h-1.7zM412.0 455.8h1.2v1.2h-1.2zM422.4 449.1h1.1v1.1h-1.1zM411.3 491.6h1.8v1.8h-1.8zM420.3 496.1h1.9v1.9h-1.9zM410.6 494.4h1.5v1.5h-1.5zM431.6 487.1h2.2v2.2h-2.2zM424.5 484.8h1.8v1.8h-1.8zM419.2 492.2h1.6v1.6h-1.6zM415.2 490.4h1.7v1.7h-1.7zM420.4 471.1h1.7v1.7h-1.7zM421.2 485.9h2.1v2.1h-2.1zM414.0 487.0h1.7v1.7h-1.7zM415.4 496.4h2.0v2.0h-2.0zM412.1 491.1h1.1v1.1h-1.1zM429.7 488.8h2.0v2.0h-2.0zM418.5 485.9h1.6v1.6h-1.6zM368.5 472.2h1.8v1.8h-1.8zM388.1 476.7h2.0v2.0h-2.0zM394.9 466.8h1.7v1.7h-1.7zM386.7 472.6h2.0v2.0h-2.0zM377.5 489.8h1.5v1.5h-1.5zM403.1 492.7h1.5v1.5h-1.5zM380.9 498.1h1.8v1.8h-1.8zM402.3 489.5h2.1v2.1h-2.1zM395.8 486.6h2.0v2.0h-2.0zM415.5 458.3h1.8v1.8h-1.8zM417.7 461.2h1.3v1.3h-1.3zM418.7 455.0h1.6v1.6h-1.6zM420.7 488.4h1.4v1.4h-1.4zM419.1 486.4h1.2v1.2h-1.2zM418.7 491.0h1.8v1.8h-1.8zM411.9 494.3h1.8v1.8h-1.8z" fill="#f8f0f8" fill-opacity="0.75"/>
<path d="M413.3 450.5h1.9v1.9h-1.9zM410.4 450.8h1.6v1.6h-1.6zM423.2 464.7h1.4v1.4h-1.4zM403.7 463.0h2.3v2.3h-2.3zM406.9 458.5h1.8v1.8h-1.8zM408.6 460.5h1.9v1.9h-1.9zM409.1 495.3h1.1v1.1h-1.1zM424.4 486.2h1.9v1.9h-1.9zM417.0 484.6h1.6v1.6h-1.6zM424.9 481.0h1.3v1.3h-1.3zM424.1 495.4h2.1v2.1h-2.1zM419.2 493.7h1.7v1.7h-1.7zM405.5 497.4h1.1v1.1h-1.1zM417.6 486.2h1.7v1.7h-1.7zM420.6 496.4h2.1v2.1h-2.1zM415.3 489.4h1.8v1.8h-1.8zM378.2 471.2h1.3v1.3h-1.3zM385.8 485.2h2.2v2.2h-2.2zM386.9 480.7h1.3v1.3h-1.3zM395.9 495.4h1.5v1.5h-1.5zM413.1 461.7h1.6v1.6h-1.6z" fill="#c04888" fill-opacity="0.5"/>
<path d="M421.5 456.4h2.0v2.0h-2.0zM420.2 457.6h1.6v1.6h-1.6zM413.1 461.1h2.0v2.0h-2.0zM415.4 454.3h1.1v1.1h-1.1zM410.1 460.2h2.2v2.2h-2.2zM411.9 467.6h1.7v1.7h-1.7zM420.6 463.7h1.8v1.8h-1.8zM412.3 455.8h1.6v1.6h-1.6zM412.0 457.7h1.5v1.5h-1.5zM414.6 454.4h2.2v2.2h-2.2zM412.3 456.8h1.7v1.7h-1.7zM423.7 454.6h1.1v1.1h-1.1zM419.9 458.2h1.3v1.3h-1.3zM420.5 457.8h1.4v1.4h-1.4zM414.1 464.8h2.2v2.2h-2.2zM415.4 463.6h1.9v1.9h-1.9zM417.7 453.6h1.7v1.7h-1.7zM425.2 464.2h1.8v1.8h-1.8zM416.3 446.8h2.2v2.2h-2.2zM408.7 483.3h2.0v2.0h-2.0zM419.9 488.4h1.9v1.9h-1.9zM413.3 483.1h1.2v1.2h-1.2zM427.0 475.3h1.8v1.8h-1.8zM424.5 489.4h1.3v1.3h-1.3zM387.3 458.7h1.6v1.6h-1.6zM388.4 472.6h1.8v1.8h-1.8zM391.2 470.8h1.8v1.8h-1.8zM393.1 488.6h1.9v1.9h-1.9zM385.8 494.2h1.2v1.2h-1.2zM383.0 501.9h2.3v2.3h-2.3zM390.3 492.8h1.5v1.5h-1.5zM409.9 458.2h1.9v1.9h-1.9zM413.2 458.8h1.1v1.1h-1.1zM418.3 457.3h1.8v1.8h-1.8zM411.1 456.7h1.6v1.6h-1.6zM417.3 490.5h2.0v2.0h-2.0z" fill="#f0d8f0" fill-opacity="0.75"/>
<path d="M413.5 453.3h1.4v1.4h-1.4zM413.8 445.4h1.2v1.2h-1.2zM422.4 462.4h1.8v1.8h-1.8zM404.3 448.9h1.2v1.2h-1.2zM414.4 449.2h2.0v2.0h-2.0zM431.4 450.4h2.2v2.2h-2.2zM421.3 448.6h1.4v1.4h-1.4zM415.2 456.8h2.0v2.0h-2.0zM403.9 463.4h1.7v1.7h-1.7zM418.7 492.0h1.6v1.6h-1.6zM414.4 481.1h1.3v1.3h-1.3zM425.8 492.0h1.6v1.6h-1.6zM425.8 488.8h2.0v2.0h-2.0zM418.6 492.8h1.3v1.3h-1.3zM391.4 466.9h1.5v1.5h-1.5zM381.9 480.8h2.0v2.0h-2.0zM394.9 479.7h2.1v2.1h-2.1zM383.0 493.2h1.8v1.8h-1.8zM388.9 484.6h1.7v1.7h-1.7zM392.6 498.1h2.0v2.0h-2.0zM420.6 457.7h2.1v2.1h-2.1zM407.5 456.1h2.1v2.1h-2.1zM413.2 459.8h1.2v1.2h-1.2zM418.3 490.6h1.7v1.7h-1.7zM417.7 485.0h1.6v1.6h-1.6z" fill="#f8f0f8" fill-opacity="0.5"/>
<path d="M424.7 455.3h1.2v1.2h-1.2zM419.1 457.3h2.0v2.0h-2.0zM408.8 454.7h1.4v1.4h-1.4zM424.5 456.7h1.2v1.2h-1.2zM414.5 465.7h1.2v1.2h-1.2zM421.2 456.7h2.2v2.2h-2.2zM414.4 466.6h1.7v1.7h-1.7zM410.0 450.9h1.8v1.8h-1.8zM420.6 460.9h1.8v1.8h-1.8zM410.2 447.6h1.6v1.6h-1.6zM427.2 494.2h2.1v2.1h-2.1zM385.5 471.9h1.9v1.9h-1.9zM386.4 465.0h1.5v1.5h-1.5zM386.4 473.6h1.2v1.2h-1.2zM389.9 492.1h1.7v1.7h-1.7zM389.8 493.8h1.8v1.8h-1.8zM395.9 489.2h1.4v1.4h-1.4zM381.2 485.9h1.8v1.8h-1.8zM418.9 458.3h1.9v1.9h-1.9zM411.0 460.1h1.6v1.6h-1.6zM418.0 456.0h2.3v2.3h-2.3z" fill="#e0a0d0" fill-opacity="0.5"/>
<path d="M412.8 457.5h2.3v2.3h-2.3zM412.9 454.6h1.7v1.7h-1.7zM412.5 456.9h2.2v2.2h-2.2zM413.7 463.5h1.3v1.3h-1.3zM411.7 460.6h1.1v1.1h-1.1zM430.1 461.3h2.0v2.0h-2.0zM405.7 464.1h2.1v2.1h-2.1zM419.0 457.4h1.9v1.9h-1.9zM414.6 461.5h2.1v2.1h-2.1zM420.9 491.6h1.2v1.2h-1.2zM430.5 491.4h1.8v1.8h-1.8zM416.5 489.4h1.6v1.6h-1.6zM420.6 499.3h1.8v1.8h-1.8zM419.6 494.0h1.5v1.5h-1.5zM426.0 488.7h1.5v1.5h-1.5zM418.5 486.5h1.8v1.8h-1.8zM414.3 489.2h2.0v2.0h-2.0zM413.6 489.3h1.3v1.3h-1.3zM411.8 492.6h1.9v1.9h-1.9zM445.0 479.0h1.8v1.8h-1.8zM416.1 500.0h1.7v1.7h-1.7zM394.8 457.9h2.2v2.2h-2.2zM390.1 471.3h1.7v1.7h-1.7zM388.5 480.0h2.2v2.2h-2.2zM381.2 465.5h2.2v2.2h-2.2zM383.0 463.2h1.7v1.7h-1.7zM397.2 486.4h2.3v2.3h-2.3zM383.8 488.1h1.6v1.6h-1.6zM393.9 488.8h1.6v1.6h-1.6zM389.7 495.1h1.6v1.6h-1.6zM387.4 491.8h1.8v1.8h-1.8zM419.3 459.6h2.3v2.3h-2.3zM417.8 456.2h1.8v1.8h-1.8zM418.3 491.4h1.7v1.7h-1.7zM417.9 489.9h2.2v2.2h-2.2zM418.8 484.5h1.7v1.7h-1.7z" fill="#c04888" fill-opacity="0.75"/>
<path d="M425.8 471.1h1.9v1.9h-1.9zM417.1 472.2h1.3v1.3h-1.3zM411.4 460.2h2.2v2.2h-2.2zM414.1 460.4h2.2v2.2h-2.2zM418.8 449.0h2.1v2.1h-2.1zM412.9 470.2h1.6v1.6h-1.6zM420.8 450.8h2.3v2.3h-2.3zM419.8 458.9h1.3v1.3h-1.3zM424.1 451.9h1.2v1.2h-1.2zM412.0 453.9h1.5v1.5h-1.5zM418.0 489.3h2.0v2.0h-2.0zM411.1 484.2h2.0v2.0h-2.0zM421.0 483.4h1.7v1.7h-1.7zM417.1 482.0h2.1v2.1h-2.1zM423.5 479.2h1.4v1.4h-1.4zM412.2 492.0h1.6v1.6h-1.6zM414.8 486.3h1.1v1.1h-1.1zM413.0 483.3h2.2v2.2h-2.2zM418.6 500.2h1.2v1.2h-1.2zM413.3 492.0h2.2v2.2h-2.2zM383.2 472.4h1.6v1.6h-1.6zM380.1 470.0h1.2v1.2h-1.2zM415.2 487.7h1.6v1.6h-1.6zM417.7 494.9h2.3v2.3h-2.3zM417.7 489.2h2.2v2.2h-2.2z" fill="#b090d8" fill-opacity="0.5"/>
<path d="M406.8 462.6h1.2v1.2h-1.2zM409.0 454.7h1.5v1.5h-1.5zM419.9 465.2h1.4v1.4h-1.4zM418.5 466.9h1.4v1.4h-1.4zM416.8 450.8h2.3v2.3h-2.3zM409.1 464.3h2.0v2.0h-2.0zM414.3 464.4h1.8v1.8h-1.8zM415.0 466.8h1.5v1.5h-1.5zM419.7 466.9h1.5v1.5h-1.5zM428.8 484.6h2.1v2.1h-2.1zM412.3 492.3h1.6v1.6h-1.6zM420.9 495.7h1.7v1.7h-1.7zM408.7 486.7h1.4v1.4h-1.4zM422.0 474.2h2.1v2.1h-2.1zM426.2 492.8h1.2v1.2h-1.2zM414.4 478.0h1.5v1.5h-1.5zM418.5 487.6h2.1v2.1h-2.1zM415.2 479.2h1.3v1.3h-1.3zM392.1 468.7h1.6v1.6h-1.6zM390.1 468.0h2.2v2.2h-2.2zM389.6 469.2h1.6v1.6h-1.6zM388.7 462.7h2.2v2.2h-2.2zM388.4 475.6h1.5v1.5h-1.5zM397.0 494.3h1.4v1.4h-1.4zM393.5 489.3h1.3v1.3h-1.3zM391.5 488.8h1.3v1.3h-1.3zM393.4 488.5h1.5v1.5h-1.5zM388.7 489.3h1.7v1.7h-1.7zM380.5 494.9h1.8v1.8h-1.8zM387.0 492.9h2.0v2.0h-2.0zM391.6 493.1h1.7v1.7h-1.7zM394.3 488.1h1.2v1.2h-1.2zM395.8 493.5h1.8v1.8h-1.8zM414.4 456.9h1.7v1.7h-1.7zM416.0 457.3h1.6v1.6h-1.6zM421.7 490.0h1.2v1.2h-1.2z" fill="#80c8c0" fill-opacity="0.75"/>
<path d="M427.7 452.7h1.2v1.2h-1.2zM413.2 452.2h1.5v1.5h-1.5zM416.8 440.0h1.8v1.8h-1.8zM417.1 468.2h2.0v2.0h-2.0zM416.9 459.6h1.9v1.9h-1.9zM415.8 447.4h1.9v1.9h-1.9zM407.8 453.0h1.6v1.6h-1.6zM413.7 460.4h1.9v1.9h-1.9zM413.1 457.6h1.4v1.4h-1.4zM415.9 467.0h1.5v1.5h-1.5zM418.7 447.0h1.2v1.2h-1.2zM415.4 468.5h1.2v1.2h-1.2zM407.9 489.6h2.1v2.1h-2.1zM406.8 485.3h1.8v1.8h-1.8zM429.4 487.6h1.8v1.8h-1.8zM419.5 490.4h2.1v2.1h-2.1zM411.5 487.3h2.0v2.0h-2.0zM427.1 482.7h1.1v1.1h-1.1zM404.2 496.8h1.7v1.7h-1.7zM414.3 484.2h1.4v1.4h-1.4zM419.3 495.1h2.0v2.0h-2.0zM427.4 486.1h1.8v1.8h-1.8zM419.5 490.7h1.7v1.7h-1.7zM388.7 475.6h1.7v1.7h-1.7zM396.1 485.1h2.0v2.0h-2.0zM382.8 489.3h1.4v1.4h-1.4zM399.3 494.1h2.2v2.2h-2.2zM395.6 497.1h1.8v1.8h-1.8zM407.3 460.0h1.7v1.7h-1.7zM413.0 457.7h2.0v2.0h-2.0zM413.1 458.8h1.9v1.9h-1.9zM421.6 461.6h1.4v1.4h-1.4zM412.1 459.1h2.3v2.3h-2.3zM421.7 494.3h1.6v1.6h-1.6zM420.7 489.0h1.9v1.9h-1.9z" fill="#b090d8" fill-opacity="0.75"/>
<path d="M419.8 455.8h1.4v1.4h-1.4zM418.5 457.2h1.5v1.5h-1.5zM421.3 459.3h1.1v1.1h-1.1zM413.0 460.1h1.7v1.7h-1.7zM419.6 460.5h1.4v1.4h-1.4zM403.9 452.6h2.2v2.2h-2.2zM419.3 456.6h1.7v1.7h-1.7zM415.8 466.1h1.8v1.8h-1.8zM425.0 462.9h2.2v2.2h-2.2zM421.4 459.9h1.5v1.5h-1.5zM420.0 499.4h2.2v2.2h-2.2zM418.3 479.6h1.7v1.7h-1.7zM416.7 484.5h1.6v1.6h-1.6zM410.1 502.1h1.8v1.8h-1.8zM419.9 490.9h1.1v1.1h-1.1zM391.0 474.3h2.3v2.3h-2.3zM389.7 491.2h1.4v1.4h-1.4zM390.4 493.7h1.2v1.2h-1.2zM414.3 455.6h1.9v1.9h-1.9zM415.0 462.9h1.6v1.6h-1.6zM424.3 492.1h1.9v1.9h-1.9z" fill="#c04888"/>
<path d="M431.5 456.4h2.2v2.2h-2.2zM411.8 452.7h1.9v1.9h-1.9zM412.4 452.7h1.6v1.6h-1.6zM405.9 468.6h2.3v2.3h-2.3zM417.6 458.0h1.8v1.8h-1.8zM414.1 456.0h1.9v1.9h-1.9zM426.5 492.5h1.7v1.7h-1.7zM428.5 493.4h1.8v1.8h-1.8zM411.5 492.3h1.9v1.9h-1.9zM412.9 491.0h1.9v1.9h-1.9zM381.2 465.4h1.7v1.7h-1.7zM374.2 481.5h1.4v1.4h-1.4zM385.1 464.6h2.2v2.2h-2.2zM393.1 484.1h2.0v2.0h-2.0zM392.1 490.4h1.3v1.3h-1.3zM394.6 493.7h1.6v1.6h-1.6zM412.4 454.9h1.6v1.6h-1.6zM419.4 487.4h1.7v1.7h-1.7z" fill="#9870c0"/>
<path d="M423.3 459.8h1.8v1.8h-1.8zM417.4 459.0h2.1v2.1h-2.1zM421.5 464.3h1.7v1.7h-1.7zM409.6 463.2h2.1v2.1h-2.1zM414.3 465.1h1.4v1.4h-1.4zM422.6 455.3h2.2v2.2h-2.2zM422.7 474.5h2.0v2.0h-2.0zM418.1 459.7h1.4v1.4h-1.4zM416.6 460.0h2.0v2.0h-2.0zM413.5 443.0h1.4v1.4h-1.4zM420.4 458.4h1.4v1.4h-1.4zM415.5 459.5h1.6v1.6h-1.6zM413.8 458.4h1.1v1.1h-1.1zM408.2 458.8h2.0v2.0h-2.0zM415.0 445.8h1.5v1.5h-1.5zM423.2 461.9h1.3v1.3h-1.3zM419.5 448.7h2.2v2.2h-2.2zM407.6 460.6h1.4v1.4h-1.4zM419.5 456.3h1.5v1.5h-1.5zM414.6 455.2h1.7v1.7h-1.7zM413.2 492.9h1.6v1.6h-1.6zM432.0 488.8h2.1v2.1h-2.1zM413.9 491.5h2.2v2.2h-2.2zM411.9 485.0h1.3v1.3h-1.3zM410.0 492.9h2.1v2.1h-2.1zM428.0 492.1h2.0v2.0h-2.0zM423.4 491.5h1.7v1.7h-1.7zM413.0 486.0h1.9v1.9h-1.9zM420.3 472.6h1.8v1.8h-1.8zM411.9 491.0h1.5v1.5h-1.5zM395.9 477.1h1.4v1.4h-1.4zM382.8 477.5h1.2v1.2h-1.2zM395.4 489.8h1.9v1.9h-1.9zM398.6 495.3h1.7v1.7h-1.7zM391.8 493.3h1.2v1.2h-1.2zM396.0 487.2h2.3v2.3h-2.3zM418.9 454.0h1.4v1.4h-1.4zM411.7 459.1h1.3v1.3h-1.3zM419.8 488.7h1.4v1.4h-1.4zM420.2 487.8h2.2v2.2h-2.2z" fill="#a0d8d8" fill-opacity="0.75"/>
<path d="M406.2 453.5h2.1v2.1h-2.1zM412.7 451.7h1.6v1.6h-1.6zM431.8 466.1h2.2v2.2h-2.2zM421.5 473.3h2.3v2.3h-2.3zM422.7 455.1h1.6v1.6h-1.6zM424.4 456.1h2.3v2.3h-2.3zM423.8 458.7h1.3v1.3h-1.3zM411.1 468.9h1.9v1.9h-1.9zM414.9 464.9h1.7v1.7h-1.7zM417.2 461.7h1.2v1.2h-1.2zM415.1 466.3h1.9v1.9h-1.9zM419.4 459.8h1.9v1.9h-1.9zM413.9 465.0h1.9v1.9h-1.9zM415.5 447.8h2.0v2.0h-2.0zM408.0 466.3h1.2v1.2h-1.2zM413.0 458.9h2.0v2.0h-2.0zM410.3 456.7h1.1v1.1h-1.1zM419.1 467.9h1.5v1.5h-1.5zM407.4 461.8h1.2v1.2h-1.2zM428.8 449.0h2.0v2.0h-2.0zM425.3 491.1h1.1v1.1h-1.1zM421.1 490.1h1.4v1.4h-1.4zM421.0 496.8h1.4v1.4h-1.4zM425.6 489.3h1.5v1.5h-1.5zM417.4 493.0h1.7v1.7h-1.7zM418.4 487.2h2.3v2.3h-2.3zM428.2 490.6h1.9v1.9h-1.9zM425.7 493.0h2.2v2.2h-2.2zM429.0 488.0h1.4v1.4h-1.4zM374.9 470.0h1.5v1.5h-1.5zM375.7 470.8h2.2v2.2h-2.2zM388.3 495.9h2.2v2.2h-2.2zM396.0 491.8h1.6v1.6h-1.6zM400.8 496.8h1.9v1.9h-1.9zM385.1 488.4h1.7v1.7h-1.7zM394.7 482.2h1.6v1.6h-1.6zM402.2 483.2h2.0v2.0h-2.0zM391.6 487.4h1.9v1.9h-1.9zM421.6 460.3h1.1v1.1h-1.1zM412.3 459.8h1.7v1.7h-1.7zM414.0 463.4h1.8v1.8h-1.8zM413.4 455.5h2.3v2.3h-2.3zM418.2 460.1h1.9v1.9h-1.9zM416.7 489.0h1.8v1.8h-1.8zM416.8 484.0h1.2v1.2h-1.2z" fill="#e0a0d0" fill-opacity="0.75"/>
<path d="M412.7 464.0h1.1v1.1h-1.1zM417.5 454.0h1.2v1.2h-1.2zM415.1 465.8h1.8v1.8h-1.8zM417.1 467.3h1.9v1.9h-1.9zM405.2 449.0h1.9v1.9h-1.9zM420.1 461.3h2.0v2.0h-2.0zM412.5 459.4h1.5v1.5h-1.5zM416.7 459.5h2.0v2.0h-2.0zM407.8 493.9h1.9v1.9h-1.9zM427.9 483.6h1.4v1.4h-1.4zM428.3 504.5h2.2v2.2h-2.2zM432.5 494.0h1.4v1.4h-1.4zM415.6 502.3h1.5v1.5h-1.5zM391.5 471.0h2.1v2.1h-2.1zM392.8 492.7h1.9v1.9h-1.9zM391.7 499.0h1.7v1.7h-1.7zM415.8 458.1h1.3v1.3h-1.3zM416.4 492.4h1.1v1.1h-1.1zM420.3 493.0h1.7v1.7h-1.7z" fill="#f0d8f0" fill-opacity="0.5"/>
<path d="M422.0 458.4h1.5v1.5h-1.5zM413.7 444.2h1.3v1.3h-1.3zM411.2 463.9h2.2v2.2h-2.2zM420.8 491.3h2.3v2.3h-2.3zM422.6 489.0h1.4v1.4h-1.4zM418.4 487.8h1.3v1.3h-1.3zM430.4 493.0h1.5v1.5h-1.5zM422.7 487.6h1.8v1.8h-1.8zM414.8 489.6h1.2v1.2h-1.2zM414.2 483.7h2.0v2.0h-2.0zM409.8 487.8h2.2v2.2h-2.2zM389.7 464.6h2.2v2.2h-2.2zM393.6 497.3h2.0v2.0h-2.0zM399.6 494.0h2.0v2.0h-2.0zM420.2 491.4h2.0v2.0h-2.0z" fill="#d060a0"/>
<path d="M417.4 452.7h1.4v1.4h-1.4zM420.0 460.9h1.4v1.4h-1.4zM410.2 458.4h2.2v2.2h-2.2zM416.9 495.8h2.2v2.2h-2.2zM412.9 493.4h2.2v2.2h-2.2zM427.5 493.5h1.7v1.7h-1.7zM412.9 489.5h1.2v1.2h-1.2zM421.6 489.9h1.2v1.2h-1.2zM416.8 482.0h1.9v1.9h-1.9zM425.5 489.2h2.3v2.3h-2.3zM394.9 458.0h2.2v2.2h-2.2zM389.5 474.8h1.5v1.5h-1.5zM385.5 461.2h2.2v2.2h-2.2zM397.9 494.2h2.2v2.2h-2.2zM396.3 495.9h1.5v1.5h-1.5zM379.4 489.4h1.8v1.8h-1.8zM417.6 452.4h1.2v1.2h-1.2zM417.5 459.1h2.1v2.1h-2.1zM420.5 455.8h2.1v2.1h-2.1z" fill="#a0d8d8"/>
<path d="M422.2 466.2h2.2v2.2h-2.2zM422.9 457.6h1.8v1.8h-1.8zM405.9 449.3h1.9v1.9h-1.9zM421.3 457.1h2.2v2.2h-2.2zM422.7 461.0h1.8v1.8h-1.8zM408.9 470.2h1.4v1.4h-1.4zM419.4 466.7h2.0v2.0h-2.0zM411.3 462.2h2.0v2.0h-2.0zM427.3 458.1h1.4v1.4h-1.4zM417.1 448.3h1.5v1.5h-1.5zM421.2 490.2h1.3v1.3h-1.3zM426.9 482.6h1.7v1.7h-1.7zM419.6 488.8h1.4v1.4h-1.4zM420.1 482.4h1.2v1.2h-1.2zM422.0 480.8h2.3v2.3h-2.3zM423.9 486.0h1.9v1.9h-1.9zM377.8 465.4h1.8v1.8h-1.8zM387.5 471.1h1.4v1.4h-1.4zM379.1 474.7h1.8v1.8h-1.8zM381.9 471.6h1.1v1.1h-1.1zM396.1 491.8h1.7v1.7h-1.7zM388.5 490.5h1.3v1.3h-1.3zM414.3 455.3h2.2v2.2h-2.2zM412.9 457.2h1.2v1.2h-1.2zM416.0 454.5h1.2v1.2h-1.2zM417.2 494.1h1.8v1.8h-1.8zM414.0 489.6h1.2v1.2h-1.2z" fill="#d878b0" fill-opacity="0.75"/>
<path d="M414.3 449.2h1.2v1.2h-1.2zM406.6 455.0h1.4v1.4h-1.4zM421.1 458.3h1.3v1.3h-1.3zM409.2 444.8h1.1v1.1h-1.1zM413.8 466.9h1.5v1.5h-1.5zM420.7 456.3h1.1v1.1h-1.1zM412.0 453.7h1.6v1.6h-1.6zM425.0 462.4h1.8v1.8h-1.8zM414.9 503.0h1.7v1.7h-1.7zM417.0 489.5h1.7v1.7h-1.7zM413.5 492.6h2.2v2.2h-2.2zM423.7 480.2h1.4v1.4h-1.4zM423.8 493.9h2.3v2.3h-2.3zM414.1 493.7h1.5v1.5h-1.5zM423.3 497.2h1.4v1.4h-1.4zM418.2 487.9h1.2v1.2h-1.2zM406.9 487.8h1.5v1.5h-1.5zM385.3 468.6h2.2v2.2h-2.2zM389.5 493.8h2.0v2.0h-2.0zM382.8 500.9h1.1v1.1h-1.1zM391.4 487.2h1.3v1.3h-1.3zM412.5 459.1h1.4v1.4h-1.4zM414.1 491.2h1.2v1.2h-1.2z" fill="#80c8c0" fill-opacity="0.5"/>
<path d="M424.8 456.8h1.2v1.2h-1.2zM415.4 457.0h2.2v2.2h-2.2zM411.2 461.3h2.3v2.3h-2.3zM416.6 489.2h1.7v1.7h-1.7zM429.1 487.0h2.3v2.3h-2.3zM426.5 493.1h1.5v1.5h-1.5zM420.5 487.6h1.7v1.7h-1.7zM406.5 487.7h2.0v2.0h-2.0zM414.9 490.3h1.9v1.9h-1.9zM384.6 464.3h2.2v2.2h-2.2zM382.2 469.0h2.3v2.3h-2.3zM380.3 464.4h2.0v2.0h-2.0zM380.0 471.6h1.4v1.4h-1.4zM391.0 497.6h2.0v2.0h-2.0zM386.8 484.4h1.5v1.5h-1.5zM414.5 454.7h2.2v2.2h-2.2zM418.9 486.4h2.0v2.0h-2.0z" fill="#d878b0"/>
<path d="M421.1 465.5h1.8v1.8h-1.8zM406.1 462.3h1.4v1.4h-1.4zM412.0 448.8h1.6v1.6h-1.6zM412.2 453.4h1.9v1.9h-1.9zM419.9 459.7h1.7v1.7h-1.7zM417.7 462.2h1.7v1.7h-1.7zM417.9 460.8h1.3v1.3h-1.3zM407.4 451.5h1.8v1.8h-1.8zM411.2 455.5h1.1v1.1h-1.1zM418.2 464.1h1.9v1.9h-1.9zM422.9 482.3h1.2v1.2h-1.2zM411.8 487.5h1.3v1.3h-1.3zM410.0 492.7h1.9v1.9h-1.9zM417.1 488.1h2.2v2.2h-2.2zM417.2 487.1h2.0v2.0h-2.0zM424.6 492.5h1.2v1.2h-1.2zM429.6 498.5h1.1v1.1h-1.1zM417.4 501.9h1.6v1.6h-1.6zM413.7 494.7h1.2v1.2h-1.2zM435.6 490.9h1.4v1.4h-1.4zM417.1 490.2h1.8v1.8h-1.8zM417.8 489.6h1.8v1.8h-1.8zM385.8 470.3h2.3v2.3h-2.3zM387.5 472.3h1.2v1.2h-1.2zM393.5 468.0h1.1v1.1h-1.1zM389.8 469.6h1.8v1.8h-1.8zM385.5 492.9h1.9v1.9h-1.9zM392.1 494.4h2.1v2.1h-2.1zM390.9 490.5h1.8v1.8h-1.8zM420.0 457.9h1.5v1.5h-1.5zM410.9 451.4h1.5v1.5h-1.5zM417.3 458.4h1.7v1.7h-1.7zM420.8 486.5h2.0v2.0h-2.0zM416.5 492.9h1.4v1.4h-1.4z" fill="#9870c0" fill-opacity="0.75"/>
<path d="M415.5 458.4h1.7v1.7h-1.7zM422.9 461.5h1.9v1.9h-1.9zM411.5 456.0h1.2v1.2h-1.2zM421.0 460.1h1.5v1.5h-1.5zM425.7 467.3h2.1v2.1h-2.1zM424.5 452.6h1.5v1.5h-1.5zM418.8 465.2h1.6v1.6h-1.6zM417.7 453.3h1.3v1.3h-1.3zM410.8 466.5h1.3v1.3h-1.3zM426.5 446.1h2.0v2.0h-2.0zM411.6 492.3h1.1v1.1h-1.1zM425.7 492.7h1.5v1.5h-1.5zM416.5 506.6h1.6v1.6h-1.6zM422.5 487.6h2.1v2.1h-2.1zM424.5 482.9h1.5v1.5h-1.5zM415.9 492.7h1.1v1.1h-1.1zM414.9 490.9h2.0v2.0h-2.0zM418.7 483.5h1.8v1.8h-1.8zM420.4 486.5h1.7v1.7h-1.7zM424.6 502.0h1.3v1.3h-1.3zM411.5 482.1h2.1v2.1h-2.1zM429.5 491.7h1.6v1.6h-1.6zM384.0 467.5h1.3v1.3h-1.3zM388.1 473.6h1.9v1.9h-1.9zM399.5 489.8h2.0v2.0h-2.0zM390.6 494.5h1.9v1.9h-1.9zM393.4 492.1h1.2v1.2h-1.2zM417.0 461.2h1.7v1.7h-1.7zM415.3 454.7h1.7v1.7h-1.7zM417.1 455.9h1.9v1.9h-1.9zM416.2 458.2h1.5v1.5h-1.5zM419.9 490.1h1.4v1.4h-1.4zM418.2 490.2h2.0v2.0h-2.0zM415.4 489.0h1.2v1.2h-1.2z" fill="#d060a0" fill-opacity="0.75"/>
<path d="M422.2 462.9h1.7v1.7h-1.7zM417.4 459.4h2.1v2.1h-2.1zM413.6 455.9h2.0v2.0h-2.0zM418.2 467.8h1.2v1.2h-1.2zM406.3 480.8h2.2v2.2h-2.2zM421.9 488.7h1.8v1.8h-1.8zM420.3 479.1h2.3v2.3h-2.3zM426.4 488.9h1.2v1.2h-1.2zM425.3 500.4h1.9v1.9h-1.9zM418.6 492.6h2.0v2.0h-2.0zM427.7 480.5h2.3v2.3h-2.3zM381.7 470.5h1.8v1.8h-1.8zM385.2 471.3h2.0v2.0h-2.0zM380.6 476.8h1.5v1.5h-1.5zM389.5 492.4h1.4v1.4h-1.4zM418.9 457.9h1.9v1.9h-1.9zM416.3 488.1h1.1v1.1h-1.1z" fill="#b090d8"/>
<path d="M414.4 460.6h1.2v1.2h-1.2zM421.7 452.8h2.2v2.2h-2.2zM425.3 462.9h1.4v1.4h-1.4zM413.2 469.7h1.9v1.9h-1.9zM413.0 461.4h2.1v2.1h-2.1zM420.4 452.2h1.5v1.5h-1.5zM411.9 502.0h1.4v1.4h-1.4zM413.3 487.0h1.7v1.7h-1.7zM414.3 488.4h1.2v1.2h-1.2zM418.9 489.3h2.3v2.3h-2.3zM408.4 494.3h2.2v2.2h-2.2zM420.9 486.3h1.5v1.5h-1.5zM413.9 485.6h2.2v2.2h-2.2zM424.6 486.5h1.7v1.7h-1.7zM391.3 468.5h1.6v1.6h-1.6zM385.9 483.1h1.6v1.6h-1.6zM384.7 468.2h1.8v1.8h-1.8zM378.3 473.2h2.2v2.2h-2.2zM390.0 478.1h2.1v2.1h-2.1zM388.7 470.6h1.1v1.1h-1.1zM395.9 499.6h1.2v1.2h-1.2zM393.8 492.2h2.2v2.2h-2.2zM416.8 455.3h1.3v1.3h-1.3zM408.7 459.6h2.1v2.1h-2.1zM415.4 494.2h1.5v1.5h-1.5z" fill="#d878b0" fill-opacity="0.5"/>
<path d="M405.6 460.4h1.2v1.2h-1.2zM414.9 445.7h1.3v1.3h-1.3zM422.8 467.7h1.2v1.2h-1.2zM411.6 454.9h2.0v2.0h-2.0zM412.2 490.9h1.8v1.8h-1.8zM415.2 494.1h1.2v1.2h-1.2zM414.0 491.3h1.9v1.9h-1.9zM414.7 490.6h2.2v2.2h-2.2zM419.9 498.1h1.4v1.4h-1.4zM411.7 487.3h1.5v1.5h-1.5zM377.6 469.2h1.2v1.2h-1.2zM381.1 480.7h1.7v1.7h-1.7zM391.3 487.6h1.7v1.7h-1.7zM390.3 494.3h1.9v1.9h-1.9zM403.2 496.3h1.5v1.5h-1.5zM415.8 459.1h1.8v1.8h-1.8zM412.2 465.5h1.6v1.6h-1.6zM415.9 491.2h2.2v2.2h-2.2z" fill="#e0a0d0"/>
<path d="M414.3 456.9h1.9v1.9h-1.9zM411.8 461.4h1.7v1.7h-1.7zM421.6 461.7h1.7v1.7h-1.7zM421.6 457.1h2.0v2.0h-2.0zM404.2 450.2h1.1v1.1h-1.1zM403.6 455.0h1.5v1.5h-1.5zM410.5 447.2h1.2v1.2h-1.2zM422.7 492.7h1.6v1.6h-1.6zM426.7 495.5h1.3v1.3h-1.3zM413.9 479.6h1.1v1.1h-1.1zM412.9 492.3h1.2v1.2h-1.2zM397.4 465.2h1.7v1.7h-1.7zM384.6 462.1h1.6v1.6h-1.6zM380.8 475.0h2.1v2.1h-2.1zM385.1 469.8h1.7v1.7h-1.7zM388.6 467.6h1.4v1.4h-1.4zM391.4 499.0h1.4v1.4h-1.4zM389.2 493.1h2.2v2.2h-2.2zM390.5 486.6h1.6v1.6h-1.6zM388.0 491.5h1.2v1.2h-1.2zM412.6 459.3h2.0v2.0h-2.0zM415.2 495.2h1.7v1.7h-1.7zM419.4 486.9h2.0v2.0h-2.0zM418.3 486.0h1.2v1.2h-1.2z" fill="#d060a0" fill-opacity="0.5"/>
<path d="M411.3 456.9h1.8v1.8h-1.8zM414.0 452.0h1.5v1.5h-1.5zM406.1 466.6h1.5v1.5h-1.5zM407.0 447.1h2.0v2.0h-2.0zM404.5 473.8h1.8v1.8h-1.8zM411.9 456.7h2.2v2.2h-2.2zM422.2 444.6h1.3v1.3h-1.3zM418.8 491.9h1.2v1.2h-1.2zM416.0 485.0h1.7v1.7h-1.7zM418.7 486.9h1.9v1.9h-1.9zM418.8 490.8h1.1v1.1h-1.1zM421.7 484.0h1.8v1.8h-1.8zM425.7 478.6h2.2v2.2h-2.2zM428.5 490.3h1.2v1.2h-1.2zM414.4 485.6h1.4v1.4h-1.4zM424.2 484.3h2.1v2.1h-2.1zM391.0 463.6h1.5v1.5h-1.5zM383.0 466.5h1.9v1.9h-1.9zM418.2 457.8h2.1v2.1h-2.1zM420.3 488.8h1.4v1.4h-1.4zM418.1 494.4h2.1v2.1h-2.1zM417.9 496.1h1.8v1.8h-1.8z" fill="#9870c0" fill-opacity="0.5"/>
<path d="M416.1 469.5h2.3v2.3h-2.3zM417.3 465.7h1.8v1.8h-1.8zM408.7 450.8h2.2v2.2h-2.2zM424.5 461.0h1.3v1.3h-1.3zM419.0 457.5h1.6v1.6h-1.6zM425.1 447.6h1.5v1.5h-1.5zM417.8 447.4h1.7v1.7h-1.7zM423.3 486.2h1.1v1.1h-1.1zM405.9 490.4h1.8v1.8h-1.8zM411.9 490.7h2.1v2.1h-2.1zM376.1 469.6h1.5v1.5h-1.5zM412.5 453.0h1.2v1.2h-1.2zM418.2 491.9h1.4v1.4h-1.4z" fill="#80c8c0"/>
<path d="M408.8 461.9h1.2v1.2h-1.2zM412.5 464.5h2.2v2.2h-2.2zM408.4 455.5h1.7v1.7h-1.7zM418.4 459.3h1.6v1.6h-1.6zM414.7 497.8h2.2v2.2h-2.2zM407.6 494.8h2.3v2.3h-2.3zM418.8 485.2h2.1v2.1h-2.1zM426.2 490.0h1.6v1.6h-1.6zM426.7 500.3h1.6v1.6h-1.6zM423.2 496.8h1.2v1.2h-1.2zM432.3 494.0h1.7v1.7h-1.7zM383.2 468.8h1.5v1.5h-1.5zM389.4 484.7h1.8v1.8h-1.8zM416.5 462.5h1.8v1.8h-1.8z" fill="#f0d8f0"/>
<path d="M410.5 462.8h2.0v2.0h-2.0zM414.0 462.0h1.8v1.8h-1.8zM411.4 452.9h1.2v1.2h-1.2zM415.6 462.3h1.8v1.8h-1.8zM428.8 489.1h1.3v1.3h-1.3zM411.3 485.0h2.1v2.1h-2.1zM415.6 491.3h2.1v2.1h-2.1zM426.3 490.6h1.4v1.4h-1.4zM413.9 487.2h1.6v1.6h-1.6zM425.5 489.0h2.3v2.3h-2.3zM415.7 490.9h1.5v1.5h-1.5zM414.6 487.0h1.8v1.8h-1.8zM423.4 483.5h2.2v2.2h-2.2zM416.9 485.8h1.9v1.9h-1.9zM419.2 496.9h2.1v2.1h-2.1zM416.5 488.6h1.4v1.4h-1.4zM387.1 480.0h1.9v1.9h-1.9zM385.9 466.2h2.1v2.1h-2.1zM386.2 453.3h2.0v2.0h-2.0zM392.4 473.8h1.8v1.8h-1.8zM394.4 492.2h2.2v2.2h-2.2zM393.0 487.6h2.3v2.3h-2.3zM389.1 493.7h2.1v2.1h-2.1zM416.4 459.3h1.2v1.2h-1.2zM414.6 493.1h2.2v2.2h-2.2zM415.1 485.2h1.4v1.4h-1.4z" fill="#a0d8d8" fill-opacity="0.5"/>
</g>
<rect x="424.00" y="497.90" width="5.50" height="1.50" fill="#ffffff"/>
<clipPath id="cg2"><rect x="440.50" y="445.90" width="60.60" height="56.60"/></clipPath>
<rect x="440.50" y="445.90" width="60.60" height="56.60" fill="#07070b"/>
<g clip-path="url(#cg2)" filter="url(#soft2)">
<path d="M469.3 483.1h1.8v1.8h-1.8zM466.2 471.0h1.8v1.8h-1.8zM469.4 500.2h1.6v1.6h-1.6zM461.9 484.6h1.6v1.6h-1.6zM470.8 466.3h1.4v1.4h-1.4zM442.2 493.7h1.1v1.1h-1.1zM498.8 467.1h1.2v1.2h-1.2zM457.1 452.8h1.3v1.3h-1.3zM481.0 473.8h2.0v2.0h-2.0zM491.7 484.3h1.7v1.7h-1.7zM466.8 468.1h1.3v1.3h-1.3zM472.0 500.5h1.8v1.8h-1.8zM481.2 446.9h1.2v1.2h-1.2zM478.5 476.5h1.2v1.2h-1.2zM466.6 476.6h2.1v2.1h-2.1zM483.4 450.4h1.4v1.4h-1.4zM462.6 465.1h2.1v2.1h-2.1zM444.4 496.7h1.2v1.2h-1.2zM475.1 489.6h1.6v1.6h-1.6zM450.3 492.9h1.4v1.4h-1.4zM494.3 490.5h2.1v2.1h-2.1zM455.0 481.8h1.5v1.5h-1.5zM445.6 500.0h1.6v1.6h-1.6zM496.0 486.6h2.1v2.1h-2.1zM442.7 459.0h2.1v2.1h-2.1zM475.1 446.5h1.7v1.7h-1.7zM476.7 469.8h1.4v1.4h-1.4zM464.1 490.2h1.8v1.8h-1.8zM460.0 492.1h1.7v1.7h-1.7zM447.3 465.1h1.4v1.4h-1.4zM467.0 502.4h2.0v2.0h-2.0zM495.1 484.4h1.8v1.8h-1.8zM442.0 500.5h1.4v1.4h-1.4zM497.0 455.4h1.7v1.7h-1.7zM473.3 459.7h1.3v1.3h-1.3zM488.7 501.6h1.6v1.6h-1.6zM462.4 450.9h1.4v1.4h-1.4zM460.7 477.0h2.0v2.0h-2.0z" fill="#4a30b0" fill-opacity="0.75"/>
<path d="M500.9 473.2h1.8v1.8h-1.8zM471.2 450.6h1.8v1.8h-1.8zM481.0 461.7h1.2v1.2h-1.2zM477.9 448.5h1.5v1.5h-1.5zM451.9 461.2h2.0v2.0h-2.0zM480.4 465.1h1.9v1.9h-1.9zM440.9 453.1h1.5v1.5h-1.5zM476.1 491.4h1.8v1.8h-1.8zM461.1 467.5h2.0v2.0h-2.0zM463.9 480.6h1.2v1.2h-1.2zM441.7 454.1h1.6v1.6h-1.6zM456.0 449.9h1.6v1.6h-1.6zM480.7 448.4h1.6v1.6h-1.6zM449.0 497.6h2.0v2.0h-2.0zM464.8 454.9h1.6v1.6h-1.6zM454.8 446.0h1.3v1.3h-1.3zM481.9 465.4h2.2v2.2h-2.2zM449.5 446.5h2.2v2.2h-2.2zM446.3 474.7h1.4v1.4h-1.4zM468.9 483.8h1.1v1.1h-1.1zM462.4 485.1h1.2v1.2h-1.2zM449.5 483.9h1.2v1.2h-1.2zM451.5 457.3h1.9v1.9h-1.9zM461.1 466.4h1.8v1.8h-1.8zM490.4 477.6h1.6v1.6h-1.6zM457.9 471.3h1.7v1.7h-1.7zM440.7 484.8h1.3v1.3h-1.3zM501.1 474.4h2.0v2.0h-2.0zM468.7 488.2h1.2v1.2h-1.2zM455.7 475.2h1.3v1.3h-1.3zM454.8 500.1h2.0v2.0h-2.0zM451.5 473.8h1.9v1.9h-1.9zM485.2 473.1h1.9v1.9h-1.9zM441.3 465.3h1.9v1.9h-1.9zM451.9 485.0h2.0v2.0h-2.0zM465.8 467.0h1.8v1.8h-1.8zM450.2 481.2h1.1v1.1h-1.1z" fill="#802050" fill-opacity="0.75"/>
<path d="M476.9 477.5h1.8v1.8h-1.8zM459.5 486.3h1.3v1.3h-1.3zM462.9 494.4h1.5v1.5h-1.5zM452.8 499.7h1.6v1.6h-1.6zM464.3 498.4h2.2v2.2h-2.2zM471.4 483.7h1.6v1.6h-1.6zM457.0 500.1h1.1v1.1h-1.1zM455.0 483.1h1.9v1.9h-1.9zM450.8 457.0h1.9v1.9h-1.9zM470.4 471.0h1.1v1.1h-1.1zM445.5 482.7h1.2v1.2h-1.2zM441.2 472.2h1.5v1.5h-1.5z" fill="#4a30b0"/>
<path d="M462.8 465.1h1.3v1.3h-1.3zM443.1 457.5h1.8v1.8h-1.8zM448.5 496.1h1.6v1.6h-1.6zM467.1 461.9h2.0v2.0h-2.0zM464.1 461.4h2.1v2.1h-2.1zM457.5 479.6h2.0v2.0h-2.0zM473.8 480.4h1.6v1.6h-1.6zM495.2 462.6h1.4v1.4h-1.4zM497.0 498.0h1.4v1.4h-1.4zM457.6 478.2h1.3v1.3h-1.3zM486.0 451.2h1.8v1.8h-1.8zM485.7 463.6h1.8v1.8h-1.8zM458.8 474.3h1.7v1.7h-1.7zM488.1 474.1h1.9v1.9h-1.9zM464.7 478.5h1.3v1.3h-1.3zM463.4 489.0h1.3v1.3h-1.3zM472.6 491.1h2.0v2.0h-2.0zM483.7 478.3h1.1v1.1h-1.1zM495.6 467.5h1.4v1.4h-1.4zM493.8 493.1h1.7v1.7h-1.7zM483.3 467.0h1.6v1.6h-1.6zM456.2 493.6h1.5v1.5h-1.5zM494.7 468.4h1.2v1.2h-1.2zM449.2 461.9h2.1v2.1h-2.1zM485.5 491.1h1.7v1.7h-1.7zM495.2 493.2h2.0v2.0h-2.0z" fill="#401a60" fill-opacity="0.5"/>
<path d="M482.1 465.0h1.5v1.5h-1.5zM494.4 481.9h1.8v1.8h-1.8zM460.8 500.2h1.3v1.3h-1.3zM492.1 452.2h1.7v1.7h-1.7zM501.0 455.8h1.6v1.6h-1.6zM481.9 497.2h1.8v1.8h-1.8zM477.3 454.8h1.5v1.5h-1.5zM445.3 475.6h1.2v1.2h-1.2zM442.0 455.5h1.8v1.8h-1.8zM462.4 469.5h1.7v1.7h-1.7zM471.4 482.6h1.9v1.9h-1.9zM454.2 467.7h1.9v1.9h-1.9zM452.4 476.6h1.5v1.5h-1.5zM442.2 463.3h1.5v1.5h-1.5zM456.8 481.7h2.0v2.0h-2.0zM488.9 494.1h1.3v1.3h-1.3zM480.9 455.1h2.0v2.0h-2.0zM458.7 485.1h1.8v1.8h-1.8zM460.7 455.3h1.2v1.2h-1.2zM492.9 473.6h1.2v1.2h-1.2zM496.5 496.2h2.0v2.0h-2.0zM448.9 493.0h2.1v2.1h-2.1zM453.4 473.7h2.1v2.1h-2.1zM484.9 461.8h1.6v1.6h-1.6zM478.1 489.9h1.8v1.8h-1.8zM465.5 487.3h1.8v1.8h-1.8zM496.4 475.5h1.1v1.1h-1.1zM486.5 447.4h2.0v2.0h-2.0zM462.4 486.3h2.1v2.1h-2.1zM454.6 449.2h1.7v1.7h-1.7z" fill="#3a2aa0" fill-opacity="0.5"/>
<path d="M444.2 497.7h1.7v1.7h-1.7zM488.7 474.3h1.4v1.4h-1.4zM483.5 497.1h2.0v2.0h-2.0zM476.5 471.8h2.1v2.1h-2.1zM460.4 476.3h2.0v2.0h-2.0zM447.6 463.3h1.3v1.3h-1.3zM473.9 474.9h1.4v1.4h-1.4zM465.2 491.2h1.9v1.9h-1.9zM461.5 482.9h2.0v2.0h-2.0zM469.6 457.4h1.3v1.3h-1.3zM480.4 455.5h1.8v1.8h-1.8zM451.8 454.4h1.6v1.6h-1.6zM450.9 470.7h1.3v1.3h-1.3zM451.9 468.1h1.5v1.5h-1.5zM456.5 484.1h1.7v1.7h-1.7zM471.8 493.0h1.4v1.4h-1.4zM450.1 502.3h1.7v1.7h-1.7zM497.3 475.7h1.4v1.4h-1.4zM450.4 500.3h1.6v1.6h-1.6zM440.6 447.1h1.3v1.3h-1.3zM482.2 483.4h1.6v1.6h-1.6zM476.1 469.1h1.3v1.3h-1.3zM464.0 452.2h1.6v1.6h-1.6zM484.5 485.2h1.5v1.5h-1.5zM442.2 448.6h1.1v1.1h-1.1zM491.1 471.7h1.8v1.8h-1.8zM479.0 478.7h1.3v1.3h-1.3zM481.4 457.2h1.3v1.3h-1.3zM451.7 495.8h1.5v1.5h-1.5z" fill="#3a2aa0"/>
<path d="M494.0 477.5h2.2v2.2h-2.2zM453.5 462.0h1.4v1.4h-1.4zM474.1 484.4h1.5v1.5h-1.5zM500.0 489.7h1.7v1.7h-1.7zM442.4 484.8h1.7v1.7h-1.7zM477.9 456.4h2.0v2.0h-2.0zM491.8 467.0h2.1v2.1h-2.1zM500.3 465.2h1.4v1.4h-1.4zM473.5 478.4h1.1v1.1h-1.1zM496.7 486.6h2.2v2.2h-2.2zM491.6 470.4h1.6v1.6h-1.6zM454.5 480.2h1.5v1.5h-1.5zM485.7 465.6h2.1v2.1h-2.1zM486.7 496.2h1.8v1.8h-1.8zM466.5 489.9h1.8v1.8h-1.8zM466.1 467.9h1.7v1.7h-1.7zM496.8 502.4h1.5v1.5h-1.5zM478.2 481.9h1.7v1.7h-1.7zM492.6 489.5h1.2v1.2h-1.2zM455.6 465.0h2.0v2.0h-2.0zM478.8 458.2h1.7v1.7h-1.7zM460.0 464.7h2.0v2.0h-2.0zM457.4 458.6h1.2v1.2h-1.2zM449.3 502.4h1.9v1.9h-1.9zM491.9 498.1h1.8v1.8h-1.8zM456.6 472.7h1.7v1.7h-1.7zM481.1 465.8h1.3v1.3h-1.3zM501.0 482.1h1.4v1.4h-1.4zM490.9 489.6h1.9v1.9h-1.9zM466.3 482.7h1.7v1.7h-1.7zM459.3 483.2h1.2v1.2h-1.2zM461.5 461.3h2.0v2.0h-2.0zM495.9 450.8h1.6v1.6h-1.6zM490.4 466.1h1.5v1.5h-1.5z" fill="#2a2280" fill-opacity="0.75"/>
<path d="M463.8 447.6h1.9v1.9h-1.9zM473.8 456.2h1.9v1.9h-1.9zM464.7 491.6h1.3v1.3h-1.3zM490.6 494.6h2.2v2.2h-2.2zM455.0 476.8h2.0v2.0h-2.0zM487.3 464.6h1.9v1.9h-1.9zM493.1 478.2h1.5v1.5h-1.5zM497.6 452.1h1.3v1.3h-1.3zM496.1 487.3h2.0v2.0h-2.0zM484.5 480.7h1.9v1.9h-1.9zM497.3 457.1h2.0v2.0h-2.0zM483.1 481.1h2.1v2.1h-2.1zM444.2 488.1h1.5v1.5h-1.5zM490.4 489.0h1.2v1.2h-1.2zM466.5 455.9h1.6v1.6h-1.6zM461.7 496.8h1.6v1.6h-1.6zM500.8 488.3h1.3v1.3h-1.3zM478.2 448.7h1.6v1.6h-1.6zM469.8 499.5h1.8v1.8h-1.8zM473.1 483.1h1.2v1.2h-1.2zM491.9 472.9h1.1v1.1h-1.1zM451.9 480.3h1.2v1.2h-1.2z" fill="#401a60"/>
<path d="M480.7 466.1h1.5v1.5h-1.5zM448.1 476.1h1.9v1.9h-1.9zM446.0 463.6h1.9v1.9h-1.9zM488.1 448.7h1.9v1.9h-1.9zM491.6 480.3h2.0v2.0h-2.0zM492.3 485.0h2.2v2.2h-2.2zM454.3 473.2h1.9v1.9h-1.9zM473.7 479.6h1.7v1.7h-1.7zM498.6 471.8h2.1v2.1h-2.1zM499.1 497.0h1.3v1.3h-1.3zM473.6 497.4h1.6v1.6h-1.6zM492.8 497.8h1.5v1.5h-1.5zM483.2 499.8h1.3v1.3h-1.3zM475.6 482.6h1.6v1.6h-1.6zM455.5 480.3h2.2v2.2h-2.2zM486.3 467.2h1.2v1.2h-1.2zM490.1 492.1h1.6v1.6h-1.6zM440.9 500.0h2.0v2.0h-2.0zM470.7 487.7h1.3v1.3h-1.3zM484.7 472.2h1.9v1.9h-1.9zM489.2 499.9h2.0v2.0h-2.0zM464.1 496.6h1.3v1.3h-1.3zM474.1 457.4h1.4v1.4h-1.4zM465.1 489.7h2.1v2.1h-2.1zM492.4 476.7h1.5v1.5h-1.5zM471.1 495.2h1.7v1.7h-1.7zM460.4 453.6h1.1v1.1h-1.1zM453.3 457.9h1.6v1.6h-1.6zM500.5 465.4h1.6v1.6h-1.6zM443.4 480.5h1.6v1.6h-1.6zM463.7 501.5h2.0v2.0h-2.0zM479.5 501.7h1.4v1.4h-1.4zM466.1 455.2h1.6v1.6h-1.6zM475.4 466.2h1.6v1.6h-1.6zM450.6 484.9h1.4v1.4h-1.4zM467.0 458.6h2.1v2.1h-2.1zM443.3 489.8h1.3v1.3h-1.3zM463.1 458.3h1.9v1.9h-1.9zM442.3 499.2h1.9v1.9h-1.9z" fill="#3a30a0" fill-opacity="0.75"/>
<path d="M447.4 459.2h1.5v1.5h-1.5zM461.6 466.8h1.9v1.9h-1.9zM442.3 473.5h1.6v1.6h-1.6zM451.4 469.8h2.0v2.0h-2.0zM449.0 480.0h1.2v1.2h-1.2zM454.2 452.1h2.2v2.2h-2.2zM500.3 485.3h1.8v1.8h-1.8zM452.9 484.9h1.6v1.6h-1.6zM487.5 468.6h2.0v2.0h-2.0zM443.6 449.9h2.0v2.0h-2.0zM494.0 501.2h1.2v1.2h-1.2zM475.2 471.6h1.5v1.5h-1.5zM452.0 479.0h2.1v2.1h-2.1zM469.7 456.0h1.7v1.7h-1.7zM471.8 474.6h2.1v2.1h-2.1zM469.4 493.1h1.2v1.2h-1.2zM461.1 462.3h1.2v1.2h-1.2zM442.6 461.7h2.0v2.0h-2.0zM448.4 490.7h1.5v1.5h-1.5zM489.0 501.8h1.3v1.3h-1.3zM477.7 482.2h1.8v1.8h-1.8z" fill="#4a30b0" fill-opacity="0.5"/>
<path d="M490.3 470.2h1.7v1.7h-1.7zM465.8 479.2h2.1v2.1h-2.1zM441.0 466.3h1.4v1.4h-1.4zM468.7 480.2h2.0v2.0h-2.0zM466.2 476.6h1.4v1.4h-1.4zM472.5 466.7h1.3v1.3h-1.3zM499.3 496.5h1.7v1.7h-1.7zM442.2 449.1h1.7v1.7h-1.7zM453.1 473.6h1.6v1.6h-1.6zM468.3 473.9h1.4v1.4h-1.4zM440.7 477.1h1.8v1.8h-1.8zM449.3 456.9h2.1v2.1h-2.1zM451.4 480.2h1.1v1.1h-1.1zM462.6 462.9h1.3v1.3h-1.3zM466.1 475.6h1.3v1.3h-1.3zM490.5 451.3h2.1v2.1h-2.1zM469.4 473.2h1.6v1.6h-1.6zM456.3 449.9h1.4v1.4h-1.4zM492.0 497.2h1.8v1.8h-1.8zM477.1 470.5h1.4v1.4h-1.4zM456.9 487.2h1.7v1.7h-1.7zM450.5 471.4h1.2v1.2h-1.2zM489.9 458.9h1.2v1.2h-1.2zM473.2 484.5h1.2v1.2h-1.2zM443.9 481.5h1.7v1.7h-1.7zM470.3 456.6h2.2v2.2h-2.2zM500.6 485.4h1.3v1.3h-1.3zM495.1 461.3h1.7v1.7h-1.7zM447.0 500.0h2.1v2.1h-2.1zM449.1 496.5h1.7v1.7h-1.7zM478.7 499.0h1.7v1.7h-1.7zM454.8 462.9h1.6v1.6h-1.6zM478.5 453.6h1.3v1.3h-1.3z" fill="#401a60" fill-opacity="0.75"/>
<path d="M482.7 448.0h1.4v1.4h-1.4zM478.4 496.2h2.1v2.1h-2.1zM472.4 487.0h1.7v1.7h-1.7zM481.5 495.1h1.8v1.8h-1.8zM486.8 457.6h2.1v2.1h-2.1zM495.7 463.8h1.2v1.2h-1.2zM449.2 476.5h1.3v1.3h-1.3zM451.7 481.4h1.9v1.9h-1.9zM451.1 482.5h1.6v1.6h-1.6zM471.7 450.0h1.8v1.8h-1.8zM494.2 462.4h1.8v1.8h-1.8zM453.5 475.9h2.1v2.1h-2.1zM491.2 475.1h2.0v2.0h-2.0zM491.3 455.8h2.2v2.2h-2.2zM497.7 496.7h1.9v1.9h-1.9zM460.8 454.0h1.3v1.3h-1.3zM487.6 455.6h2.0v2.0h-2.0zM456.0 461.4h1.1v1.1h-1.1zM450.0 474.7h1.2v1.2h-1.2zM492.8 459.4h1.3v1.3h-1.3zM451.3 494.9h1.4v1.4h-1.4zM461.9 466.1h1.9v1.9h-1.9zM453.5 491.6h1.3v1.3h-1.3zM463.3 479.6h2.2v2.2h-2.2zM444.6 449.2h1.2v1.2h-1.2zM446.3 484.3h2.1v2.1h-2.1zM445.7 485.5h1.2v1.2h-1.2zM459.1 474.5h1.1v1.1h-1.1zM451.4 492.4h1.4v1.4h-1.4zM495.1 461.2h1.6v1.6h-1.6zM499.2 452.7h1.8v1.8h-1.8zM454.5 476.3h1.5v1.5h-1.5zM445.3 479.7h2.0v2.0h-2.0zM488.9 476.7h1.7v1.7h-1.7z" fill="#2a3a90" fill-opacity="0.75"/>
<path d="M484.5 475.0h1.5v1.5h-1.5zM440.9 461.1h1.9v1.9h-1.9zM444.8 466.0h1.2v1.2h-1.2zM458.4 475.1h1.3v1.3h-1.3zM480.3 465.0h1.2v1.2h-1.2zM446.2 473.6h1.6v1.6h-1.6zM486.5 466.9h1.4v1.4h-1.4zM468.5 466.0h1.4v1.4h-1.4zM491.7 498.8h1.1v1.1h-1.1zM489.6 471.2h1.8v1.8h-1.8zM497.0 478.0h2.0v2.0h-2.0zM462.4 456.5h1.1v1.1h-1.1zM465.9 468.6h1.8v1.8h-1.8zM492.2 472.9h2.1v2.1h-2.1zM454.3 490.7h1.4v1.4h-1.4zM473.8 453.7h1.8v1.8h-1.8zM457.5 456.2h1.3v1.3h-1.3zM482.2 460.4h1.2v1.2h-1.2zM441.7 500.0h1.6v1.6h-1.6zM476.1 458.3h1.5v1.5h-1.5zM442.0 455.8h1.3v1.3h-1.3zM456.7 498.7h1.5v1.5h-1.5zM488.9 486.3h1.3v1.3h-1.3zM491.2 501.7h1.5v1.5h-1.5zM462.4 482.5h1.5v1.5h-1.5zM456.7 449.8h2.0v2.0h-2.0zM474.4 471.4h1.6v1.6h-1.6zM491.3 493.3h1.4v1.4h-1.4zM450.1 457.4h1.9v1.9h-1.9zM478.8 483.7h1.4v1.4h-1.4zM472.2 470.3h1.5v1.5h-1.5zM464.2 472.5h1.3v1.3h-1.3zM464.6 481.6h1.1v1.1h-1.1z" fill="#2a3a90" fill-opacity="0.5"/>
<path d="M501.0 474.4h1.1v1.1h-1.1zM447.1 461.1h2.1v2.1h-2.1zM481.3 472.4h2.0v2.0h-2.0zM501.0 451.9h1.4v1.4h-1.4zM478.2 451.0h1.2v1.2h-1.2zM469.6 484.2h1.8v1.8h-1.8zM484.7 469.5h1.7v1.7h-1.7zM499.9 475.6h2.0v2.0h-2.0zM443.0 497.7h1.5v1.5h-1.5zM465.1 496.2h1.1v1.1h-1.1zM446.3 497.5h2.0v2.0h-2.0zM480.0 487.4h1.7v1.7h-1.7zM440.8 451.3h1.7v1.7h-1.7z" fill="#2a3a90"/>
<path d="M469.1 449.2h1.7v1.7h-1.7zM488.3 480.3h1.3v1.3h-1.3zM459.1 447.3h2.1v2.1h-2.1zM486.0 492.5h1.9v1.9h-1.9zM498.0 451.8h1.8v1.8h-1.8zM475.4 464.3h1.6v1.6h-1.6zM466.7 453.8h1.4v1.4h-1.4zM469.8 480.7h1.3v1.3h-1.3zM441.7 471.9h2.1v2.1h-2.1zM446.5 492.5h1.4v1.4h-1.4zM499.3 477.3h1.9v1.9h-1.9zM453.6 481.5h1.8v1.8h-1.8zM468.6 465.2h1.9v1.9h-1.9zM478.5 470.9h1.8v1.8h-1.8zM446.9 477.2h2.0v2.0h-2.0zM448.0 468.1h1.2v1.2h-1.2zM444.0 466.2h1.1v1.1h-1.1zM474.1 497.8h1.4v1.4h-1.4zM478.8 496.1h1.6v1.6h-1.6zM455.5 447.9h1.2v1.2h-1.2zM456.3 477.5h2.0v2.0h-2.0zM467.7 487.4h1.5v1.5h-1.5zM493.6 474.1h2.0v2.0h-2.0zM445.5 490.5h1.2v1.2h-1.2zM465.9 474.5h1.2v1.2h-1.2zM451.5 464.6h1.8v1.8h-1.8zM462.1 451.0h1.4v1.4h-1.4zM485.6 491.9h2.0v2.0h-2.0zM453.9 458.2h1.3v1.3h-1.3zM446.9 446.2h2.0v2.0h-2.0zM485.3 446.5h1.5v1.5h-1.5z" fill="#702070" fill-opacity="0.75"/>
<path d="M472.9 490.6h1.5v1.5h-1.5zM474.3 450.9h1.8v1.8h-1.8zM467.9 481.4h1.6v1.6h-1.6zM440.8 482.1h1.9v1.9h-1.9zM478.5 495.7h2.2v2.2h-2.2zM486.0 474.5h1.8v1.8h-1.8zM449.2 484.1h1.9v1.9h-1.9zM495.1 466.0h1.9v1.9h-1.9zM459.8 482.4h1.2v1.2h-1.2zM498.9 462.5h1.6v1.6h-1.6zM470.6 468.0h1.3v1.3h-1.3zM486.1 486.8h1.9v1.9h-1.9zM481.7 454.6h2.2v2.2h-2.2zM460.6 458.4h1.2v1.2h-1.2zM480.4 486.2h1.8v1.8h-1.8zM462.9 487.2h1.9v1.9h-1.9zM491.6 499.6h1.6v1.6h-1.6zM463.5 461.7h1.3v1.3h-1.3zM440.6 454.7h1.9v1.9h-1.9zM496.3 479.7h1.9v1.9h-1.9zM475.7 497.0h1.9v1.9h-1.9zM496.2 499.0h1.8v1.8h-1.8zM454.7 481.7h1.4v1.4h-1.4zM447.0 500.2h2.1v2.1h-2.1zM474.5 448.3h1.6v1.6h-1.6zM469.2 463.7h2.1v2.1h-2.1zM477.8 488.8h1.1v1.1h-1.1zM469.4 481.6h1.9v1.9h-1.9zM498.8 473.9h2.1v2.1h-2.1zM487.6 471.2h2.2v2.2h-2.2zM470.9 449.0h2.2v2.2h-2.2zM486.0 458.5h1.4v1.4h-1.4zM448.9 453.5h1.3v1.3h-1.3zM495.1 488.7h1.4v1.4h-1.4z" fill="#3a2aa0" fill-opacity="0.75"/>
<path d="M486.6 468.3h1.8v1.8h-1.8zM454.5 469.8h2.0v2.0h-2.0zM493.3 463.7h2.1v2.1h-2.1zM473.7 468.8h1.8v1.8h-1.8zM489.9 467.1h1.7v1.7h-1.7zM486.2 485.2h1.5v1.5h-1.5zM487.0 447.2h2.2v2.2h-2.2zM472.1 483.4h2.0v2.0h-2.0zM455.7 454.9h1.9v1.9h-1.9zM444.9 452.1h2.0v2.0h-2.0zM485.6 498.5h1.6v1.6h-1.6zM474.6 455.1h1.6v1.6h-1.6zM444.4 449.5h1.6v1.6h-1.6zM479.9 468.4h2.0v2.0h-2.0zM484.1 494.4h1.9v1.9h-1.9zM497.3 465.5h1.3v1.3h-1.3z" fill="#2a2280"/>
<path d="M489.0 453.5h1.6v1.6h-1.6zM457.8 498.9h1.8v1.8h-1.8zM468.8 481.8h1.5v1.5h-1.5zM445.8 500.2h1.8v1.8h-1.8zM481.4 501.6h1.2v1.2h-1.2zM451.6 481.0h1.3v1.3h-1.3zM458.5 453.6h2.0v2.0h-2.0zM449.2 477.8h1.4v1.4h-1.4zM455.0 502.2h2.0v2.0h-2.0zM447.4 446.2h1.4v1.4h-1.4zM477.4 465.0h1.4v1.4h-1.4zM452.4 454.2h1.2v1.2h-1.2zM496.4 496.5h1.1v1.1h-1.1zM493.6 471.8h1.2v1.2h-1.2zM466.9 464.6h2.0v2.0h-2.0zM460.1 449.0h1.9v1.9h-1.9zM501.0 459.3h1.6v1.6h-1.6zM477.3 462.5h2.0v2.0h-2.0zM482.8 452.8h1.2v1.2h-1.2z" fill="#3a30a0"/>
<path d="M496.0 489.5h2.0v2.0h-2.0zM489.6 457.0h1.3v1.3h-1.3zM449.4 458.8h2.0v2.0h-2.0zM478.7 460.1h1.5v1.5h-1.5zM466.9 501.6h1.5v1.5h-1.5zM500.5 493.8h1.6v1.6h-1.6zM477.0 496.5h1.4v1.4h-1.4zM500.2 447.1h1.6v1.6h-1.6zM460.1 473.7h2.0v2.0h-2.0zM468.7 463.3h1.2v1.2h-1.2zM460.6 494.3h2.0v2.0h-2.0zM441.3 462.1h2.2v2.2h-2.2zM452.1 489.5h1.3v1.3h-1.3zM470.1 454.9h1.5v1.5h-1.5zM489.7 486.9h1.9v1.9h-1.9zM441.1 463.5h1.8v1.8h-1.8zM486.7 481.3h2.0v2.0h-2.0zM467.1 452.7h2.1v2.1h-2.1z" fill="#702070"/>
<path d="M453.3 495.7h1.1v1.1h-1.1zM447.9 473.4h1.3v1.3h-1.3zM450.4 473.4h1.2v1.2h-1.2zM444.9 484.3h1.4v1.4h-1.4zM499.3 494.3h1.7v1.7h-1.7zM441.2 477.5h1.2v1.2h-1.2zM493.6 494.5h1.3v1.3h-1.3zM467.4 488.7h1.8v1.8h-1.8zM489.9 502.5h1.2v1.2h-1.2zM469.0 468.7h1.6v1.6h-1.6zM442.5 479.2h1.4v1.4h-1.4zM446.6 459.1h1.5v1.5h-1.5zM453.7 480.1h1.8v1.8h-1.8zM460.1 447.7h1.4v1.4h-1.4zM456.0 491.5h2.1v2.1h-2.1zM444.4 493.3h1.4v1.4h-1.4zM476.9 454.9h1.1v1.1h-1.1zM461.2 483.0h1.6v1.6h-1.6zM454.2 447.8h2.0v2.0h-2.0zM495.4 468.6h1.8v1.8h-1.8zM477.9 447.3h1.6v1.6h-1.6zM441.0 478.9h1.1v1.1h-1.1zM499.4 485.8h1.6v1.6h-1.6zM482.7 472.6h1.5v1.5h-1.5zM460.1 494.6h1.4v1.4h-1.4zM500.1 467.6h1.3v1.3h-1.3zM495.8 460.1h1.3v1.3h-1.3z" fill="#702070" fill-opacity="0.5"/>
<path d="M446.7 484.7h1.7v1.7h-1.7zM455.8 469.6h1.2v1.2h-1.2zM463.2 497.2h2.1v2.1h-2.1zM473.9 490.7h1.4v1.4h-1.4zM446.1 496.2h1.3v1.3h-1.3zM476.3 481.1h2.0v2.0h-2.0zM492.7 452.4h1.6v1.6h-1.6zM454.8 492.9h2.2v2.2h-2.2zM475.8 476.8h1.8v1.8h-1.8zM460.9 481.5h2.1v2.1h-2.1zM476.8 459.4h2.0v2.0h-2.0zM499.3 491.3h1.7v1.7h-1.7zM472.6 449.0h1.6v1.6h-1.6zM485.9 501.5h2.1v2.1h-2.1zM480.8 464.1h1.3v1.3h-1.3zM484.8 462.3h2.1v2.1h-2.1zM485.2 457.8h1.5v1.5h-1.5zM444.2 490.9h1.7v1.7h-1.7zM496.8 487.0h2.1v2.1h-2.1zM458.4 490.1h2.2v2.2h-2.2zM468.7 492.7h1.9v1.9h-1.9zM442.8 460.9h1.9v1.9h-1.9zM458.1 478.0h2.0v2.0h-2.0zM450.2 485.1h2.1v2.1h-2.1z" fill="#802050" fill-opacity="0.5"/>
<path d="M492.5 453.9h1.5v1.5h-1.5zM441.8 473.9h1.5v1.5h-1.5zM484.0 501.7h1.2v1.2h-1.2zM488.6 449.8h1.3v1.3h-1.3zM465.6 450.4h1.5v1.5h-1.5zM460.9 459.3h1.3v1.3h-1.3zM446.8 471.6h1.4v1.4h-1.4zM454.3 490.7h1.9v1.9h-1.9zM492.8 471.1h1.4v1.4h-1.4zM495.9 459.9h2.1v2.1h-2.1zM458.7 456.8h1.7v1.7h-1.7zM471.5 473.4h1.7v1.7h-1.7zM477.6 486.3h1.6v1.6h-1.6zM495.6 483.8h1.6v1.6h-1.6zM466.2 460.8h1.6v1.6h-1.6zM441.5 494.3h1.8v1.8h-1.8zM467.4 489.5h1.9v1.9h-1.9zM482.4 477.2h1.4v1.4h-1.4zM461.6 465.1h2.2v2.2h-2.2zM471.4 501.6h1.8v1.8h-1.8zM489.0 461.8h1.9v1.9h-1.9z" fill="#3a30a0" fill-opacity="0.5"/>
<path d="M458.8 495.3h1.8v1.8h-1.8zM456.1 489.4h1.6v1.6h-1.6zM473.3 454.1h1.3v1.3h-1.3zM477.5 448.4h1.5v1.5h-1.5zM468.0 494.2h1.6v1.6h-1.6zM489.4 459.6h1.2v1.2h-1.2zM456.1 455.0h2.2v2.2h-2.2zM480.1 463.2h1.6v1.6h-1.6zM493.0 500.0h2.0v2.0h-2.0zM481.0 498.2h2.2v2.2h-2.2zM441.2 457.4h1.5v1.5h-1.5zM451.2 460.9h1.3v1.3h-1.3zM484.2 496.3h2.2v2.2h-2.2zM493.0 457.0h2.1v2.1h-2.1zM497.9 481.0h2.1v2.1h-2.1zM465.9 446.5h1.6v1.6h-1.6z" fill="#2a2280" fill-opacity="0.5"/>
<path d="M482.5 477.4h1.3v1.3h-1.3zM492.8 464.5h1.2v1.2h-1.2zM490.8 464.2h1.2v1.2h-1.2zM450.7 497.6h1.5v1.5h-1.5zM490.8 475.6h1.9v1.9h-1.9zM464.5 477.0h2.2v2.2h-2.2zM498.4 482.4h1.8v1.8h-1.8zM446.9 452.1h1.9v1.9h-1.9zM441.7 452.8h2.1v2.1h-2.1zM478.1 452.6h1.1v1.1h-1.1zM450.8 467.5h1.7v1.7h-1.7zM442.2 495.8h1.3v1.3h-1.3zM441.6 484.7h1.9v1.9h-1.9z" fill="#802050"/>
<path d="M447.1 461.3h1.5v1.5h-1.5zM443.1 464.4h1.1v1.1h-1.1zM464.8 484.7h1.5v1.5h-1.5zM468.4 482.2h1.0v1.0h-1.0zM486.0 465.0h1.2v1.2h-1.2zM490.8 460.9h1.7v1.7h-1.7zM478.0 482.5h1.5v1.5h-1.5zM484.0 479.3h1.6v1.6h-1.6zM477.7 482.5h1.6v1.6h-1.6z" fill="#8090ff"/>
<path d="M447.3 465.7h1.1v1.1h-1.1zM463.4 485.7h1.4v1.4h-1.4zM467.2 481.0h1.2v1.2h-1.2zM468.0 482.7h1.7v1.7h-1.7zM456.1 493.3h1.7v1.7h-1.7zM484.2 466.0h0.9v0.9h-0.9zM489.4 471.4h1.3v1.3h-1.3zM489.0 481.7h0.9v0.9h-0.9zM490.9 485.9h1.2v1.2h-1.2zM492.6 478.7h0.9v0.9h-0.9zM494.1 488.1h1.1v1.1h-1.1zM492.0 481.5h0.9v0.9h-0.9zM481.6 476.7h1.1v1.1h-1.1z" fill="#6070e0" fill-opacity="0.75"/>
<path d="M445.2 461.1h1.1v1.1h-1.1zM446.2 461.7h1.5v1.5h-1.5zM477.2 463.2h1.2v1.2h-1.2zM495.5 482.3h1.7v1.7h-1.7z" fill="#8090ff" fill-opacity="0.5"/>
<path d="M444.9 466.1h1.0v1.0h-1.0zM458.9 493.2h1.6v1.6h-1.6zM486.4 478.9h1.1v1.1h-1.1zM484.9 483.3h1.6v1.6h-1.6zM491.6 476.1h1.0v1.0h-1.0zM487.2 477.3h1.8v1.8h-1.8zM483.3 461.7h1.5v1.5h-1.5z" fill="#b02040"/>
<path d="M442.2 463.9h1.1v1.1h-1.1zM445.9 462.4h1.4v1.4h-1.4zM463.5 482.9h1.2v1.2h-1.2zM458.9 493.3h1.6v1.6h-1.6zM458.8 493.7h1.6v1.6h-1.6zM484.8 461.2h0.9v0.9h-0.9zM481.7 483.7h1.7v1.7h-1.7zM493.2 483.0h1.6v1.6h-1.6zM491.3 482.3h1.3v1.3h-1.3zM492.5 479.6h1.4v1.4h-1.4zM477.4 480.4h1.5v1.5h-1.5zM481.5 485.1h1.6v1.6h-1.6zM475.7 482.4h1.7v1.7h-1.7z" fill="#8090ff" fill-opacity="0.75"/>
<path d="M442.8 466.0h1.8v1.8h-1.8zM478.6 464.0h1.6v1.6h-1.6zM492.0 460.2h1.1v1.1h-1.1zM488.8 464.8h1.5v1.5h-1.5zM485.7 464.2h1.4v1.4h-1.4zM488.4 469.2h1.6v1.6h-1.6zM491.4 482.1h0.9v0.9h-0.9zM497.4 480.5h1.4v1.4h-1.4zM482.6 474.6h1.0v1.0h-1.0zM484.1 473.1h1.5v1.5h-1.5zM479.6 475.2h1.1v1.1h-1.1z" fill="#9040a0" fill-opacity="0.75"/>
<path d="M443.3 465.0h1.4v1.4h-1.4zM465.2 483.6h1.2v1.2h-1.2zM466.1 482.9h1.0v1.0h-1.0zM457.5 494.1h1.3v1.3h-1.3zM488.9 462.7h1.1v1.1h-1.1zM484.4 473.9h1.7v1.7h-1.7zM490.4 481.8h1.6v1.6h-1.6zM480.3 464.9h1.1v1.1h-1.1zM480.5 482.0h1.3v1.3h-1.3zM478.0 489.5h1.5v1.5h-1.5zM474.7 485.3h1.3v1.3h-1.3z" fill="#b02040" fill-opacity="0.75"/>
<path d="M446.1 464.2h1.0v1.0h-1.0zM443.5 463.1h1.5v1.5h-1.5zM465.7 486.2h1.5v1.5h-1.5zM464.4 482.3h1.7v1.7h-1.7zM476.8 464.9h1.2v1.2h-1.2zM489.3 463.2h1.5v1.5h-1.5zM486.9 466.5h1.4v1.4h-1.4zM485.7 461.4h1.8v1.8h-1.8zM490.6 465.3h1.1v1.1h-1.1zM491.3 487.3h1.7v1.7h-1.7zM494.9 477.9h1.2v1.2h-1.2zM467.9 465.7h1.6v1.6h-1.6zM477.9 473.9h1.7v1.7h-1.7zM477.6 480.7h1.4v1.4h-1.4zM471.8 463.6h1.5v1.5h-1.5zM495.8 468.5h1.4v1.4h-1.4z" fill="#c03050" fill-opacity="0.75"/>
<path d="M466.1 481.8h1.2v1.2h-1.2zM456.6 493.8h1.3v1.3h-1.3zM472.3 465.5h1.4v1.4h-1.4zM477.5 465.1h1.0v1.0h-1.0zM482.9 470.1h1.5v1.5h-1.5zM492.6 463.6h1.8v1.8h-1.8zM483.3 464.2h1.8v1.8h-1.8zM486.7 464.2h1.7v1.7h-1.7zM486.4 463.7h1.6v1.6h-1.6zM478.5 476.2h1.7v1.7h-1.7zM476.6 484.9h1.7v1.7h-1.7z" fill="#c0c8ff" fill-opacity="0.75"/>
<path d="M467.7 487.5h1.8v1.8h-1.8zM484.8 459.2h1.1v1.1h-1.1zM489.7 482.7h1.7v1.7h-1.7zM494.1 481.3h1.6v1.6h-1.6zM492.6 479.5h1.5v1.5h-1.5zM479.3 472.6h1.6v1.6h-1.6zM467.7 477.2h1.6v1.6h-1.6z" fill="#ffffff" fill-opacity="0.75"/>
<path d="M466.7 483.9h0.9v0.9h-0.9zM464.2 483.6h1.4v1.4h-1.4zM479.4 462.1h1.7v1.7h-1.7zM489.4 461.1h1.5v1.5h-1.5zM488.1 464.2h1.3v1.3h-1.3zM489.0 476.1h1.3v1.3h-1.3z" fill="#ffffff" fill-opacity="0.5"/>
<path d="M467.1 485.5h1.5v1.5h-1.5zM476.0 462.2h1.7v1.7h-1.7zM492.0 462.1h1.2v1.2h-1.2zM491.3 464.5h1.8v1.8h-1.8zM489.2 460.4h1.4v1.4h-1.4zM479.5 483.4h1.6v1.6h-1.6zM489.8 483.8h1.7v1.7h-1.7zM493.9 478.2h1.4v1.4h-1.4zM485.1 471.0h1.3v1.3h-1.3zM479.4 487.9h1.6v1.6h-1.6z" fill="#b02040" fill-opacity="0.5"/>
<path d="M468.0 481.3h1.4v1.4h-1.4zM487.5 463.0h1.4v1.4h-1.4zM491.9 476.4h1.2v1.2h-1.2zM492.0 482.5h1.0v1.0h-1.0zM491.8 486.6h0.9v0.9h-0.9zM494.5 472.0h1.4v1.4h-1.4z" fill="#c0c8ff"/>
<path d="M456.2 493.9h1.6v1.6h-1.6zM479.8 461.5h1.8v1.8h-1.8zM485.6 465.6h0.9v0.9h-0.9zM488.9 480.6h1.5v1.5h-1.5z" fill="#c03050" fill-opacity="0.5"/>
<path d="M456.8 493.2h1.3v1.3h-1.3zM456.7 493.0h1.7v1.7h-1.7zM475.6 462.9h1.3v1.3h-1.3zM479.1 462.3h1.7v1.7h-1.7zM491.4 460.5h1.6v1.6h-1.6zM485.5 483.1h1.5v1.5h-1.5zM488.2 466.4h1.5v1.5h-1.5z" fill="#9040a0"/>
<path d="M458.3 493.6h1.3v1.3h-1.3zM489.8 481.2h1.5v1.5h-1.5zM485.8 485.8h1.5v1.5h-1.5zM473.1 456.7h1.5v1.5h-1.5zM483.5 472.3h1.8v1.8h-1.8z" fill="#c03050"/>
<path d="M471.4 460.6h1.2v1.2h-1.2zM483.5 483.1h1.7v1.7h-1.7zM483.1 485.1h1.4v1.4h-1.4z" fill="#6070e0"/>
<path d="M488.1 463.6h1.3v1.3h-1.3zM490.8 473.5h1.7v1.7h-1.7zM494.2 474.9h1.1v1.1h-1.1zM497.7 486.6h1.5v1.5h-1.5zM485.7 467.2h1.3v1.3h-1.3z" fill="#9040a0" fill-opacity="0.5"/>
<path d="M493.1 465.3h1.2v1.2h-1.2zM491.3 459.8h1.0v1.0h-1.0zM488.2 493.8h1.6v1.6h-1.6zM493.4 468.9h1.0v1.0h-1.0zM465.2 472.0h1.2v1.2h-1.2z" fill="#ffffff"/>
<path d="M484.5 470.8h1.7v1.7h-1.7zM484.0 466.5h1.6v1.6h-1.6zM488.3 476.1h1.0v1.0h-1.0zM476.2 467.9h1.0v1.0h-1.0zM475.5 480.3h1.0v1.0h-1.0zM475.5 457.9h1.2v1.2h-1.2z" fill="#c0c8ff" fill-opacity="0.5"/>
<path d="M488.7 469.2h1.3v1.3h-1.3zM487.5 476.3h1.6v1.6h-1.6zM484.1 486.6h1.0v1.0h-1.0zM483.2 489.2h0.9v0.9h-0.9z" fill="#6070e0" fill-opacity="0.5"/>
</g>
<clipPath id="cg3"><rect x="377.50" y="529.00" width="59.80" height="56.50"/></clipPath>
<rect x="377.50" y="529.00" width="59.80" height="56.50" fill="#07070b"/>
<g clip-path="url(#cg3)" filter="url(#soft2)">
<path d="M393.0 567.7h1.8v1.8h-1.8zM428.5 550.2h1.8v1.8h-1.8zM426.9 565.4h1.6v1.6h-1.6zM389.9 574.1h1.4v1.4h-1.4zM408.0 529.7h1.4v1.4h-1.4zM412.8 543.5h1.1v1.1h-1.1zM435.8 534.0h1.1v1.1h-1.1zM388.6 532.1h1.5v1.5h-1.5zM399.3 564.0h1.7v1.7h-1.7zM420.8 555.9h1.2v1.2h-1.2zM395.6 548.2h2.0v2.0h-2.0zM409.5 533.4h1.1v1.1h-1.1zM414.7 539.0h1.1v1.1h-1.1zM430.1 583.0h1.4v1.4h-1.4zM378.9 539.4h1.4v1.4h-1.4zM412.6 563.3h1.2v1.2h-1.2zM399.1 579.4h1.5v1.5h-1.5zM406.5 575.0h1.7v1.7h-1.7zM416.9 554.7h1.4v1.4h-1.4zM383.4 557.6h1.9v1.9h-1.9zM398.9 568.0h1.9v1.9h-1.9zM377.7 585.5h1.5v1.5h-1.5zM382.8 543.6h1.9v1.9h-1.9zM410.8 560.6h1.5v1.5h-1.5zM380.6 571.9h1.1v1.1h-1.1zM394.0 545.8h2.0v2.0h-2.0zM435.6 532.4h1.8v1.8h-1.8zM397.7 576.4h1.7v1.7h-1.7zM397.0 574.5h1.7v1.7h-1.7zM404.8 547.7h1.0v1.0h-1.0zM409.0 560.1h1.6v1.6h-1.6z" fill="#501020" fill-opacity="0.75"/>
<path d="M417.3 578.1h1.7v1.7h-1.7zM418.4 585.4h2.1v2.1h-2.1zM411.3 579.1h1.8v1.8h-1.8zM419.9 568.6h1.9v1.9h-1.9zM398.4 531.9h1.9v1.9h-1.9zM408.4 553.1h1.9v1.9h-1.9zM430.5 548.8h1.7v1.7h-1.7zM377.7 531.9h1.8v1.8h-1.8zM404.4 560.3h2.0v2.0h-2.0zM405.8 579.2h1.3v1.3h-1.3zM420.7 584.3h1.7v1.7h-1.7zM435.0 568.7h1.5v1.5h-1.5zM436.3 570.3h1.9v1.9h-1.9zM399.2 540.3h1.2v1.2h-1.2zM424.0 580.9h1.2v1.2h-1.2z" fill="#501020" fill-opacity="0.25"/>
<path d="M409.3 541.1h1.3v1.3h-1.3zM383.5 556.7h1.6v1.6h-1.6zM435.6 531.5h1.3v1.3h-1.3zM387.4 547.6h1.9v1.9h-1.9zM381.4 552.9h1.7v1.7h-1.7zM435.5 534.5h1.6v1.6h-1.6zM421.4 576.6h1.9v1.9h-1.9zM398.8 532.4h2.0v2.0h-2.0zM428.5 550.5h1.5v1.5h-1.5zM436.5 583.5h1.0v1.0h-1.0zM431.0 558.4h1.1v1.1h-1.1zM403.8 540.2h2.0v2.0h-2.0z" fill="#502060" fill-opacity="0.25"/>
<path d="M425.0 579.2h1.3v1.3h-1.3zM380.1 537.0h1.9v1.9h-1.9zM392.1 559.0h1.0v1.0h-1.0zM429.9 550.5h1.9v1.9h-1.9zM403.8 559.3h1.8v1.8h-1.8zM407.0 563.1h1.3v1.3h-1.3zM395.1 565.2h1.2v1.2h-1.2zM395.3 570.4h1.6v1.6h-1.6zM429.4 536.5h1.6v1.6h-1.6zM386.0 565.4h1.9v1.9h-1.9zM380.1 583.2h1.5v1.5h-1.5zM418.2 555.0h1.7v1.7h-1.7zM400.7 536.8h1.7v1.7h-1.7zM433.0 530.7h1.7v1.7h-1.7zM397.9 546.9h1.4v1.4h-1.4zM403.8 531.8h1.8v1.8h-1.8zM417.2 583.1h1.9v1.9h-1.9zM426.6 535.3h1.6v1.6h-1.6zM382.1 539.8h1.9v1.9h-1.9zM389.3 571.5h1.9v1.9h-1.9zM378.3 551.6h1.8v1.8h-1.8zM384.8 553.5h1.8v1.8h-1.8zM401.0 553.7h1.9v1.9h-1.9zM434.0 552.9h1.5v1.5h-1.5zM413.1 532.0h1.6v1.6h-1.6zM390.4 579.4h1.9v1.9h-1.9zM433.8 552.1h1.3v1.3h-1.3zM387.3 571.2h1.4v1.4h-1.4zM383.9 585.2h1.4v1.4h-1.4zM427.3 559.0h1.3v1.3h-1.3zM387.1 554.7h1.7v1.7h-1.7zM393.4 546.6h1.6v1.6h-1.6zM409.8 547.1h1.7v1.7h-1.7z" fill="#a02030" fill-opacity="0.75"/>
<path d="M434.3 573.8h1.3v1.3h-1.3zM389.0 573.5h1.6v1.6h-1.6zM425.4 541.1h1.8v1.8h-1.8zM411.9 552.7h1.8v1.8h-1.8zM413.4 572.4h2.0v2.0h-2.0zM422.4 572.5h1.7v1.7h-1.7zM393.0 581.0h1.6v1.6h-1.6zM418.0 583.8h1.4v1.4h-1.4zM415.3 552.2h1.7v1.7h-1.7zM428.2 529.5h1.1v1.1h-1.1zM419.1 541.9h1.3v1.3h-1.3zM409.9 535.9h1.9v1.9h-1.9zM395.3 583.2h2.1v2.1h-2.1zM397.2 556.2h2.0v2.0h-2.0zM407.7 575.4h1.8v1.8h-1.8zM382.3 565.4h1.8v1.8h-1.8zM432.1 579.5h1.6v1.6h-1.6zM428.0 578.6h1.0v1.0h-1.0zM413.2 582.8h1.2v1.2h-1.2zM410.1 579.9h1.7v1.7h-1.7zM384.7 573.2h1.7v1.7h-1.7zM390.1 536.9h1.4v1.4h-1.4zM382.5 537.4h1.2v1.2h-1.2zM399.4 584.2h1.2v1.2h-1.2zM418.4 536.9h1.2v1.2h-1.2zM402.8 578.5h1.9v1.9h-1.9zM420.1 537.6h1.7v1.7h-1.7zM419.5 567.0h1.1v1.1h-1.1zM381.0 567.1h1.0v1.0h-1.0zM390.6 563.6h1.8v1.8h-1.8z" fill="#702040" fill-opacity="0.5"/>
<path d="M422.6 560.9h1.5v1.5h-1.5zM434.4 537.4h1.1v1.1h-1.1zM420.7 556.1h1.0v1.0h-1.0zM382.8 561.4h1.5v1.5h-1.5zM433.2 530.4h1.6v1.6h-1.6zM420.3 544.4h1.1v1.1h-1.1zM415.0 531.3h1.6v1.6h-1.6zM423.9 542.6h1.9v1.9h-1.9zM436.3 550.7h1.1v1.1h-1.1zM383.7 568.6h1.7v1.7h-1.7zM414.7 583.9h1.1v1.1h-1.1zM410.1 580.2h1.4v1.4h-1.4zM419.9 544.2h1.5v1.5h-1.5zM435.6 571.9h1.2v1.2h-1.2zM430.5 555.9h1.0v1.0h-1.0zM413.6 548.2h1.1v1.1h-1.1zM402.7 553.1h1.0v1.0h-1.0zM434.8 540.5h1.6v1.6h-1.6zM415.0 555.5h1.0v1.0h-1.0z" fill="#902030" fill-opacity="0.75"/>
<path d="M415.7 566.0h1.4v1.4h-1.4zM433.2 538.4h1.0v1.0h-1.0zM437.3 574.7h1.5v1.5h-1.5zM390.4 537.2h1.4v1.4h-1.4zM412.1 560.3h2.0v2.0h-2.0zM420.5 555.2h1.2v1.2h-1.2zM394.7 548.0h2.0v2.0h-2.0zM395.1 543.9h2.0v2.0h-2.0zM403.2 578.1h1.1v1.1h-1.1zM412.5 535.9h1.7v1.7h-1.7zM423.2 557.9h1.7v1.7h-1.7zM431.3 581.7h1.9v1.9h-1.9zM401.1 552.2h1.1v1.1h-1.1zM406.3 550.8h2.1v2.1h-2.1zM436.3 537.6h2.0v2.0h-2.0zM386.6 553.3h1.9v1.9h-1.9zM395.6 539.9h1.1v1.1h-1.1zM421.1 566.0h1.6v1.6h-1.6zM403.2 578.2h1.3v1.3h-1.3zM389.7 536.6h1.5v1.5h-1.5zM428.2 575.3h1.6v1.6h-1.6zM423.0 543.0h1.2v1.2h-1.2zM378.0 533.1h1.3v1.3h-1.3zM413.4 566.5h1.3v1.3h-1.3zM397.3 568.6h1.8v1.8h-1.8zM414.1 537.0h1.4v1.4h-1.4zM379.8 580.6h1.4v1.4h-1.4zM391.3 584.8h1.8v1.8h-1.8zM431.4 539.7h1.4v1.4h-1.4z" fill="#402050" fill-opacity="0.75"/>
<path d="M410.6 571.3h1.1v1.1h-1.1zM413.7 551.4h1.1v1.1h-1.1zM407.2 583.8h1.6v1.6h-1.6zM434.5 550.2h1.2v1.2h-1.2zM386.8 561.7h2.1v2.1h-2.1zM427.1 540.4h1.8v1.8h-1.8zM401.7 541.3h1.2v1.2h-1.2zM418.6 585.5h1.8v1.8h-1.8zM384.5 538.8h1.9v1.9h-1.9zM383.1 543.3h1.4v1.4h-1.4zM398.4 552.4h1.1v1.1h-1.1zM392.9 543.7h1.2v1.2h-1.2zM400.4 583.0h1.1v1.1h-1.1zM412.5 552.8h2.0v2.0h-2.0zM418.8 575.2h1.0v1.0h-1.0zM405.0 575.1h1.6v1.6h-1.6zM395.6 568.1h1.9v1.9h-1.9zM436.7 578.3h1.8v1.8h-1.8zM420.7 575.8h1.2v1.2h-1.2zM391.8 539.0h2.0v2.0h-2.0zM385.5 530.9h1.3v1.3h-1.3zM379.8 539.5h1.2v1.2h-1.2zM434.2 533.6h1.3v1.3h-1.3zM378.0 535.9h1.7v1.7h-1.7zM424.4 570.7h1.4v1.4h-1.4zM421.0 557.5h1.5v1.5h-1.5zM419.7 585.2h1.4v1.4h-1.4zM397.7 576.8h1.8v1.8h-1.8zM404.4 583.0h1.8v1.8h-1.8zM418.6 584.9h1.5v1.5h-1.5zM433.3 549.3h1.2v1.2h-1.2zM408.4 568.9h1.3v1.3h-1.3zM385.3 560.9h1.9v1.9h-1.9z" fill="#a02030" fill-opacity="0.5"/>
<path d="M395.0 539.1h1.4v1.4h-1.4zM387.1 552.4h2.0v2.0h-2.0zM412.9 549.3h1.8v1.8h-1.8zM408.7 577.1h1.0v1.0h-1.0zM409.5 536.3h1.9v1.9h-1.9zM431.2 535.5h1.2v1.2h-1.2zM386.5 580.2h1.0v1.0h-1.0zM402.8 567.6h1.5v1.5h-1.5zM402.4 551.2h1.9v1.9h-1.9zM430.9 535.0h1.2v1.2h-1.2zM431.9 534.6h1.7v1.7h-1.7zM384.1 534.6h1.1v1.1h-1.1zM417.8 581.4h1.7v1.7h-1.7zM424.8 584.0h1.9v1.9h-1.9zM430.4 585.3h1.5v1.5h-1.5zM401.2 561.2h1.7v1.7h-1.7zM428.2 550.8h1.5v1.5h-1.5zM408.3 557.3h1.5v1.5h-1.5zM406.1 555.4h1.3v1.3h-1.3zM403.2 530.2h1.9v1.9h-1.9zM381.7 572.5h1.4v1.4h-1.4zM386.3 572.6h1.6v1.6h-1.6zM413.6 531.8h1.3v1.3h-1.3zM390.1 569.0h1.8v1.8h-1.8zM424.8 540.8h1.1v1.1h-1.1zM437.1 535.3h1.3v1.3h-1.3zM406.3 546.8h2.0v2.0h-2.0zM434.9 581.2h1.6v1.6h-1.6zM385.9 557.8h2.0v2.0h-2.0zM422.3 531.0h1.7v1.7h-1.7zM416.4 529.0h1.1v1.1h-1.1zM390.6 547.5h2.0v2.0h-2.0zM426.7 532.3h2.0v2.0h-2.0zM397.6 577.9h1.4v1.4h-1.4zM406.3 533.7h1.6v1.6h-1.6zM382.2 571.5h1.6v1.6h-1.6z" fill="#902030" fill-opacity="0.5"/>
<path d="M416.4 582.9h1.4v1.4h-1.4zM415.2 582.3h1.9v1.9h-1.9zM406.9 560.2h1.9v1.9h-1.9zM395.0 557.0h1.8v1.8h-1.8zM380.8 541.4h1.4v1.4h-1.4zM398.8 561.8h1.5v1.5h-1.5zM383.9 541.1h2.0v2.0h-2.0zM424.8 558.7h1.1v1.1h-1.1zM427.6 563.0h2.0v2.0h-2.0zM409.1 540.5h1.5v1.5h-1.5zM387.8 583.7h1.5v1.5h-1.5zM394.7 571.5h1.4v1.4h-1.4zM426.6 567.5h1.2v1.2h-1.2zM396.3 545.5h1.7v1.7h-1.7zM387.1 568.0h1.4v1.4h-1.4zM430.6 562.6h1.3v1.3h-1.3zM408.7 560.3h2.1v2.1h-2.1zM400.4 560.1h1.2v1.2h-1.2zM431.4 529.8h1.7v1.7h-1.7zM408.7 584.5h1.2v1.2h-1.2zM410.7 554.5h1.4v1.4h-1.4zM391.4 535.9h1.3v1.3h-1.3zM406.8 582.7h1.2v1.2h-1.2zM386.8 584.4h1.3v1.3h-1.3zM390.6 571.3h1.3v1.3h-1.3zM437.1 556.5h1.2v1.2h-1.2zM423.0 530.4h1.5v1.5h-1.5zM423.0 559.9h1.3v1.3h-1.3z" fill="#502060" fill-opacity="0.75"/>
<path d="M419.6 542.4h1.5v1.5h-1.5zM390.6 546.1h1.4v1.4h-1.4zM393.5 573.3h1.5v1.5h-1.5zM400.0 555.9h1.2v1.2h-1.2zM430.4 557.1h1.6v1.6h-1.6zM409.2 553.4h1.6v1.6h-1.6zM410.7 564.5h1.3v1.3h-1.3zM386.4 537.8h1.9v1.9h-1.9zM406.6 561.3h1.6v1.6h-1.6zM395.8 584.1h1.5v1.5h-1.5zM381.8 544.3h1.8v1.8h-1.8zM400.9 543.2h1.9v1.9h-1.9zM408.8 573.0h2.0v2.0h-2.0zM417.8 535.5h2.0v2.0h-2.0zM427.2 565.6h2.0v2.0h-2.0zM432.0 583.4h1.5v1.5h-1.5zM435.4 544.6h1.6v1.6h-1.6zM386.6 538.6h1.8v1.8h-1.8zM432.0 557.8h1.6v1.6h-1.6zM385.3 532.8h1.1v1.1h-1.1zM415.5 570.3h1.2v1.2h-1.2zM387.9 582.0h1.2v1.2h-1.2zM397.0 538.0h2.1v2.1h-2.1zM380.8 531.9h1.0v1.0h-1.0zM424.1 567.7h1.7v1.7h-1.7zM428.7 567.7h1.3v1.3h-1.3zM415.5 584.0h1.6v1.6h-1.6zM401.9 577.6h1.2v1.2h-1.2zM432.7 571.6h1.1v1.1h-1.1zM395.6 557.5h1.2v1.2h-1.2zM426.4 579.3h1.8v1.8h-1.8zM404.2 554.2h1.8v1.8h-1.8zM416.0 557.9h1.0v1.0h-1.0zM403.3 582.5h1.7v1.7h-1.7zM432.7 559.7h1.2v1.2h-1.2zM386.0 554.0h1.2v1.2h-1.2zM392.1 585.2h1.7v1.7h-1.7zM387.3 545.9h1.6v1.6h-1.6zM418.5 570.1h1.8v1.8h-1.8zM387.2 536.2h1.2v1.2h-1.2zM407.4 543.0h1.1v1.1h-1.1z" fill="#601020" fill-opacity="0.5"/>
<path d="M403.2 562.6h1.9v1.9h-1.9zM432.5 553.9h1.6v1.6h-1.6zM422.1 565.7h1.5v1.5h-1.5zM418.2 545.8h1.7v1.7h-1.7zM403.1 571.4h1.2v1.2h-1.2zM380.9 565.3h1.7v1.7h-1.7zM423.3 581.6h1.3v1.3h-1.3zM390.2 576.4h1.1v1.1h-1.1zM383.5 556.9h1.7v1.7h-1.7zM410.7 551.7h1.9v1.9h-1.9zM431.9 532.7h1.7v1.7h-1.7zM414.3 540.5h1.6v1.6h-1.6zM401.8 579.2h1.6v1.6h-1.6zM404.1 545.7h1.3v1.3h-1.3zM388.1 559.1h1.5v1.5h-1.5zM426.7 555.8h1.4v1.4h-1.4zM428.2 542.6h1.9v1.9h-1.9zM422.4 573.6h1.9v1.9h-1.9zM383.1 581.1h1.5v1.5h-1.5zM424.9 551.7h1.7v1.7h-1.7zM434.9 554.1h1.6v1.6h-1.6zM418.8 541.7h1.5v1.5h-1.5zM411.5 556.0h1.7v1.7h-1.7zM415.6 574.0h1.2v1.2h-1.2zM396.3 551.8h1.4v1.4h-1.4zM407.2 567.4h2.1v2.1h-2.1zM435.9 534.4h1.6v1.6h-1.6zM428.6 563.3h1.7v1.7h-1.7zM403.3 568.2h1.2v1.2h-1.2zM429.9 578.1h1.6v1.6h-1.6zM410.8 561.4h1.7v1.7h-1.7zM420.4 530.7h1.4v1.4h-1.4zM379.3 575.9h1.4v1.4h-1.4zM422.7 560.7h1.9v1.9h-1.9zM397.2 543.4h1.2v1.2h-1.2zM411.4 580.0h1.9v1.9h-1.9z" fill="#601020" fill-opacity="0.75"/>
<path d="M384.8 546.0h1.3v1.3h-1.3zM396.0 554.5h1.8v1.8h-1.8zM401.8 552.1h2.0v2.0h-2.0zM381.8 563.6h1.2v1.2h-1.2zM429.0 534.9h1.8v1.8h-1.8zM397.3 578.3h2.0v2.0h-2.0zM405.6 543.4h1.1v1.1h-1.1zM429.6 531.6h1.7v1.7h-1.7zM398.9 553.2h1.9v1.9h-1.9zM381.7 557.0h1.4v1.4h-1.4zM378.5 541.1h1.9v1.9h-1.9zM405.8 551.9h1.2v1.2h-1.2zM402.4 557.7h2.0v2.0h-2.0zM430.1 556.2h1.5v1.5h-1.5zM417.0 545.0h2.0v2.0h-2.0zM436.0 557.1h1.1v1.1h-1.1z" fill="#801828" fill-opacity="0.75"/>
<path d="M392.9 567.6h1.9v1.9h-1.9zM380.2 581.1h1.7v1.7h-1.7zM406.2 560.3h1.4v1.4h-1.4zM408.2 532.8h1.9v1.9h-1.9zM423.9 546.2h1.3v1.3h-1.3zM380.7 581.8h1.1v1.1h-1.1zM390.0 553.0h1.9v1.9h-1.9zM412.4 558.2h1.2v1.2h-1.2zM380.6 570.1h1.5v1.5h-1.5zM410.7 583.8h1.2v1.2h-1.2zM397.5 553.1h1.9v1.9h-1.9zM433.8 561.3h1.5v1.5h-1.5zM423.4 567.9h1.4v1.4h-1.4zM384.7 557.9h1.6v1.6h-1.6zM435.5 539.4h1.0v1.0h-1.0zM436.7 536.2h1.8v1.8h-1.8zM385.6 584.1h1.1v1.1h-1.1zM420.8 562.2h1.8v1.8h-1.8zM399.9 556.9h1.1v1.1h-1.1zM424.1 572.5h1.3v1.3h-1.3zM387.1 560.1h1.8v1.8h-1.8zM416.8 541.6h1.2v1.2h-1.2zM408.2 566.6h2.1v2.1h-2.1zM436.1 558.9h1.2v1.2h-1.2z" fill="#402050" fill-opacity="0.5"/>
<path d="M391.6 572.7h1.7v1.7h-1.7zM379.9 534.3h1.4v1.4h-1.4zM431.7 565.9h1.7v1.7h-1.7zM417.7 580.6h1.8v1.8h-1.8zM401.3 551.2h2.0v2.0h-2.0zM389.8 571.6h1.4v1.4h-1.4zM425.5 570.5h1.6v1.6h-1.6zM379.7 529.9h1.6v1.6h-1.6zM403.2 574.9h1.4v1.4h-1.4zM408.3 536.0h1.7v1.7h-1.7zM402.7 551.5h1.4v1.4h-1.4zM434.2 544.7h1.7v1.7h-1.7zM394.9 545.4h1.3v1.3h-1.3zM408.2 549.6h1.2v1.2h-1.2zM401.0 550.1h1.8v1.8h-1.8zM426.0 544.3h1.6v1.6h-1.6zM417.9 582.4h1.8v1.8h-1.8zM427.9 562.4h1.3v1.3h-1.3zM426.1 531.5h1.2v1.2h-1.2zM425.8 572.6h1.4v1.4h-1.4zM398.5 577.3h1.3v1.3h-1.3zM404.4 541.4h2.1v2.1h-2.1zM422.7 581.9h1.5v1.5h-1.5zM395.5 564.7h2.1v2.1h-2.1zM385.2 563.8h1.6v1.6h-1.6zM384.8 559.7h1.3v1.3h-1.3zM431.8 563.6h1.1v1.1h-1.1zM433.5 579.9h1.1v1.1h-1.1zM396.1 574.7h1.0v1.0h-1.0zM434.5 566.8h1.0v1.0h-1.0zM394.1 539.2h1.1v1.1h-1.1z" fill="#502060" fill-opacity="0.5"/>
<path d="M398.5 531.2h1.4v1.4h-1.4zM425.2 565.1h1.3v1.3h-1.3zM379.6 547.5h1.0v1.0h-1.0zM389.3 567.3h1.8v1.8h-1.8zM399.4 563.8h1.8v1.8h-1.8zM378.5 569.5h2.0v2.0h-2.0zM381.9 573.4h2.0v2.0h-2.0zM405.2 578.0h1.2v1.2h-1.2z" fill="#801828" fill-opacity="0.25"/>
<path d="M430.6 570.8h2.0v2.0h-2.0zM409.3 544.6h1.2v1.2h-1.2zM426.4 576.0h1.7v1.7h-1.7zM435.2 543.4h1.9v1.9h-1.9zM381.5 538.5h1.5v1.5h-1.5zM432.2 570.4h1.4v1.4h-1.4zM415.2 529.7h1.8v1.8h-1.8zM380.1 581.9h1.8v1.8h-1.8zM383.4 582.5h2.1v2.1h-2.1zM402.1 553.2h1.3v1.3h-1.3zM427.8 585.2h2.0v2.0h-2.0zM430.0 541.2h1.2v1.2h-1.2zM390.6 562.2h1.0v1.0h-1.0zM381.8 577.8h1.9v1.9h-1.9zM412.0 554.9h1.9v1.9h-1.9zM390.1 557.6h1.2v1.2h-1.2zM391.9 547.5h1.3v1.3h-1.3zM422.1 549.5h1.9v1.9h-1.9zM430.1 559.3h2.0v2.0h-2.0zM423.9 571.8h2.0v2.0h-2.0zM406.9 556.8h1.4v1.4h-1.4zM437.1 570.9h1.7v1.7h-1.7zM401.0 558.4h1.5v1.5h-1.5zM413.8 557.2h1.9v1.9h-1.9zM400.3 555.7h2.0v2.0h-2.0z" fill="#702040" fill-opacity="0.75"/>
<path d="M418.3 534.1h2.0v2.0h-2.0zM395.4 583.3h1.3v1.3h-1.3zM429.8 536.5h2.1v2.1h-2.1zM433.6 568.7h1.9v1.9h-1.9zM434.3 537.8h1.6v1.6h-1.6zM393.1 573.2h1.4v1.4h-1.4zM390.0 560.7h1.4v1.4h-1.4zM436.6 558.6h1.8v1.8h-1.8zM417.2 565.2h1.6v1.6h-1.6zM413.6 559.8h1.2v1.2h-1.2zM420.2 546.1h1.9v1.9h-1.9zM393.1 537.9h2.1v2.1h-2.1zM421.4 555.9h1.9v1.9h-1.9zM408.5 550.1h1.8v1.8h-1.8zM397.6 583.3h1.8v1.8h-1.8zM410.1 554.2h1.1v1.1h-1.1zM381.3 574.3h1.1v1.1h-1.1zM430.0 530.2h1.9v1.9h-1.9zM393.9 566.2h1.0v1.0h-1.0zM401.8 534.2h1.7v1.7h-1.7zM381.9 530.8h1.8v1.8h-1.8zM435.2 556.4h2.0v2.0h-2.0zM433.3 571.3h1.5v1.5h-1.5zM411.4 548.1h2.0v2.0h-2.0zM408.0 558.0h1.9v1.9h-1.9zM407.3 547.4h1.3v1.3h-1.3zM435.2 546.4h1.5v1.5h-1.5zM381.1 534.7h1.3v1.3h-1.3zM397.4 560.3h1.7v1.7h-1.7z" fill="#801828" fill-opacity="0.5"/>
<path d="M407.4 536.1h1.0v1.0h-1.0zM432.5 568.9h1.7v1.7h-1.7zM398.4 539.9h1.2v1.2h-1.2zM398.4 570.8h1.5v1.5h-1.5zM381.4 562.6h1.4v1.4h-1.4zM430.6 567.3h2.1v2.1h-2.1zM404.9 569.3h1.9v1.9h-1.9zM432.0 568.8h2.0v2.0h-2.0zM388.9 545.1h1.9v1.9h-1.9zM383.9 579.9h2.0v2.0h-2.0zM406.5 573.2h2.0v2.0h-2.0zM416.2 554.5h1.3v1.3h-1.3zM388.1 561.6h1.8v1.8h-1.8zM411.9 576.9h1.4v1.4h-1.4zM394.3 570.4h1.3v1.3h-1.3zM418.3 553.3h1.4v1.4h-1.4zM390.0 566.4h1.1v1.1h-1.1zM383.7 537.2h1.0v1.0h-1.0zM426.6 578.5h1.9v1.9h-1.9zM392.4 532.7h1.3v1.3h-1.3zM385.7 580.7h1.8v1.8h-1.8zM435.4 548.4h1.7v1.7h-1.7zM431.2 564.3h1.3v1.3h-1.3zM421.8 566.9h1.4v1.4h-1.4zM426.7 541.0h1.2v1.2h-1.2zM397.5 566.3h1.8v1.8h-1.8zM380.9 577.0h1.3v1.3h-1.3zM424.3 563.3h2.0v2.0h-2.0zM385.8 563.5h1.3v1.3h-1.3zM402.5 544.4h1.1v1.1h-1.1zM424.6 558.9h1.1v1.1h-1.1zM436.3 562.3h1.0v1.0h-1.0zM379.9 551.6h1.9v1.9h-1.9zM406.0 535.0h1.7v1.7h-1.7zM415.6 560.7h1.2v1.2h-1.2zM384.6 579.1h1.0v1.0h-1.0z" fill="#501020" fill-opacity="0.5"/>
<path d="M404.3 552.2h1.6v1.6h-1.6zM406.8 564.5h1.1v1.1h-1.1zM428.7 550.2h1.4v1.4h-1.4zM383.7 566.9h1.4v1.4h-1.4zM420.0 547.3h1.2v1.2h-1.2zM413.0 579.4h2.0v2.0h-2.0zM422.0 567.3h1.2v1.2h-1.2zM414.9 538.2h1.9v1.9h-1.9zM431.2 546.7h1.3v1.3h-1.3zM411.3 566.4h1.1v1.1h-1.1zM402.0 539.5h1.8v1.8h-1.8zM384.2 535.6h2.0v2.0h-2.0zM402.4 555.9h1.9v1.9h-1.9z" fill="#601020" fill-opacity="0.25"/>
<path d="M427.8 536.1h1.8v1.8h-1.8zM383.5 574.1h1.9v1.9h-1.9zM419.5 560.6h1.2v1.2h-1.2zM418.7 547.3h1.3v1.3h-1.3zM431.6 556.1h1.7v1.7h-1.7zM434.4 582.5h1.1v1.1h-1.1zM387.5 530.7h1.6v1.6h-1.6zM429.8 536.9h1.4v1.4h-1.4z" fill="#a02030" fill-opacity="0.25"/>
<path d="M430.8 560.5h1.6v1.6h-1.6zM382.3 532.0h1.8v1.8h-1.8zM403.8 536.2h1.5v1.5h-1.5zM385.5 541.8h1.3v1.3h-1.3zM433.2 529.5h1.8v1.8h-1.8zM384.1 547.5h1.8v1.8h-1.8zM407.2 576.4h1.9v1.9h-1.9zM418.7 563.5h1.6v1.6h-1.6zM396.3 536.9h1.2v1.2h-1.2z" fill="#702040" fill-opacity="0.25"/>
<path d="M391.9 553.9h1.8v1.8h-1.8zM407.2 534.8h1.6v1.6h-1.6zM433.3 578.6h1.9v1.9h-1.9zM423.8 575.8h1.2v1.2h-1.2zM429.3 532.0h1.5v1.5h-1.5zM394.6 584.6h1.5v1.5h-1.5zM429.6 555.1h1.5v1.5h-1.5zM405.0 533.8h1.5v1.5h-1.5z" fill="#402050" fill-opacity="0.25"/>
<path d="M420.3 583.1h1.4v1.4h-1.4zM429.3 579.7h2.0v2.0h-2.0zM389.7 571.9h2.1v2.1h-2.1zM377.5 559.7h1.8v1.8h-1.8zM421.8 563.6h1.4v1.4h-1.4zM405.8 545.9h1.1v1.1h-1.1zM426.7 542.9h1.6v1.6h-1.6zM402.1 530.1h1.4v1.4h-1.4zM428.0 577.3h1.5v1.5h-1.5zM419.1 564.0h1.7v1.7h-1.7z" fill="#902030" fill-opacity="0.25"/>
<path d="M400.7 540.7h1.1v1.1h-1.1zM402.8 537.7h1.4v1.4h-1.4zM405.6 536.5h1.0v1.0h-1.0zM402.3 534.9h1.5v1.5h-1.5zM403.9 537.4h1.2v1.2h-1.2zM401.4 537.7h1.4v1.4h-1.4zM412.8 571.0h1.3v1.3h-1.3zM403.9 565.8h1.4v1.4h-1.4zM411.2 564.6h1.6v1.6h-1.6zM426.4 549.7h1.0v1.0h-1.0zM433.0 549.5h1.2v1.2h-1.2zM417.8 550.9h0.9v0.9h-0.9zM422.7 555.6h1.2v1.2h-1.2zM389.6 555.2h1.5v1.5h-1.5zM381.1 559.0h1.3v1.3h-1.3z" fill="#e05080" fill-opacity="0.75"/>
<path d="M403.3 536.9h1.3v1.3h-1.3zM417.0 562.0h1.7v1.7h-1.7zM413.6 566.1h1.1v1.1h-1.1zM427.5 556.1h0.9v0.9h-0.9zM428.0 556.8h1.1v1.1h-1.1zM433.7 552.9h1.4v1.4h-1.4z" fill="#a0e0e0" fill-opacity="0.5"/>
<path d="M405.0 536.2h1.4v1.4h-1.4zM405.7 538.8h1.2v1.2h-1.2zM404.9 536.3h1.6v1.6h-1.6zM419.4 568.9h1.0v1.0h-1.0zM413.5 561.7h1.5v1.5h-1.5zM413.8 564.1h1.0v1.0h-1.0zM380.2 548.7h1.1v1.1h-1.1z" fill="#c02040" fill-opacity="0.5"/>
<path d="M401.7 535.6h1.6v1.6h-1.6zM403.9 534.5h1.3v1.3h-1.3zM411.1 566.3h1.5v1.5h-1.5zM411.1 570.5h0.9v0.9h-0.9zM386.6 544.3h1.3v1.3h-1.3zM387.4 552.1h1.0v1.0h-1.0z" fill="#f0c0e0" fill-opacity="0.75"/>
<path d="M403.4 533.3h1.2v1.2h-1.2zM407.2 537.1h1.8v1.8h-1.8zM414.6 567.3h0.9v0.9h-0.9zM421.4 563.5h1.5v1.5h-1.5zM429.7 558.9h1.5v1.5h-1.5zM380.8 545.6h0.9v0.9h-0.9z" fill="#e05080"/>
<path d="M402.3 537.8h1.3v1.3h-1.3zM402.7 535.8h1.6v1.6h-1.6zM407.8 565.2h1.2v1.2h-1.2zM407.7 566.2h1.7v1.7h-1.7zM432.4 563.1h1.8v1.8h-1.8zM431.7 556.6h1.3v1.3h-1.3zM430.9 548.2h1.0v1.0h-1.0z" fill="#f0c0e0" fill-opacity="0.5"/>
<path d="M403.6 537.3h1.0v1.0h-1.0zM406.9 570.1h1.6v1.6h-1.6zM408.9 567.0h1.3v1.3h-1.3zM412.0 562.5h1.5v1.5h-1.5zM423.3 558.2h1.1v1.1h-1.1zM384.7 542.2h1.3v1.3h-1.3zM393.3 554.5h1.7v1.7h-1.7zM389.6 549.1h1.1v1.1h-1.1z" fill="#a0e0e0"/>
<path d="M404.3 538.0h1.5v1.5h-1.5zM408.4 567.2h1.3v1.3h-1.3zM412.9 560.1h1.6v1.6h-1.6zM412.0 564.8h1.1v1.1h-1.1zM411.2 564.1h1.0v1.0h-1.0zM416.6 566.4h1.5v1.5h-1.5zM436.5 561.0h1.2v1.2h-1.2zM426.0 551.7h1.5v1.5h-1.5zM392.6 551.7h1.0v1.0h-1.0zM389.1 555.3h1.1v1.1h-1.1zM388.2 555.0h1.0v1.0h-1.0zM388.0 534.9h1.2v1.2h-1.2zM392.4 550.1h1.5v1.5h-1.5z" fill="#80c0d0" fill-opacity="0.75"/>
<path d="M405.7 533.1h1.0v1.0h-1.0zM415.6 563.8h1.4v1.4h-1.4zM408.6 569.5h1.2v1.2h-1.2zM415.0 561.2h1.1v1.1h-1.1zM413.6 561.1h1.7v1.7h-1.7zM412.5 561.1h1.5v1.5h-1.5zM433.0 550.5h1.6v1.6h-1.6zM424.4 560.5h0.9v0.9h-0.9zM433.9 550.1h1.2v1.2h-1.2zM433.6 553.6h1.1v1.1h-1.1zM382.1 555.9h0.9v0.9h-0.9zM386.8 549.5h1.5v1.5h-1.5zM387.1 551.8h1.5v1.5h-1.5z" fill="#c02040" fill-opacity="0.75"/>
<path d="M403.9 533.5h1.0v1.0h-1.0zM405.8 533.0h1.1v1.1h-1.1zM431.2 555.0h1.7v1.7h-1.7zM383.8 547.1h0.9v0.9h-0.9z" fill="#d03060" fill-opacity="0.5"/>
<path d="M403.5 538.7h1.8v1.8h-1.8zM403.4 537.3h1.4v1.4h-1.4zM415.7 562.9h1.3v1.3h-1.3zM411.1 567.8h1.3v1.3h-1.3zM414.9 561.2h1.7v1.7h-1.7zM410.2 564.5h1.1v1.1h-1.1zM412.4 564.4h1.0v1.0h-1.0zM412.9 563.4h1.8v1.8h-1.8zM410.6 556.0h1.2v1.2h-1.2zM425.1 550.2h1.1v1.1h-1.1zM431.5 553.5h1.7v1.7h-1.7zM424.4 555.8h1.4v1.4h-1.4zM437.3 550.0h1.7v1.7h-1.7zM425.5 560.2h1.4v1.4h-1.4zM419.7 558.1h1.2v1.2h-1.2z" fill="#d03060" fill-opacity="0.75"/>
<path d="M398.3 534.6h1.4v1.4h-1.4zM412.7 567.2h1.1v1.1h-1.1zM416.4 566.8h1.0v1.0h-1.0zM436.1 546.8h1.2v1.2h-1.2zM427.7 556.2h1.8v1.8h-1.8zM388.2 554.3h0.9v0.9h-0.9zM392.1 556.2h1.2v1.2h-1.2z" fill="#f0c0e0"/>
<path d="M411.5 564.7h1.8v1.8h-1.8zM409.2 561.5h1.1v1.1h-1.1zM409.8 566.6h1.3v1.3h-1.3zM414.0 561.5h1.7v1.7h-1.7zM429.8 571.2h1.6v1.6h-1.6zM433.0 554.3h1.1v1.1h-1.1z" fill="#d03060"/>
<path d="M412.6 571.5h1.3v1.3h-1.3zM410.9 563.3h1.8v1.8h-1.8zM428.3 553.4h1.6v1.6h-1.6zM435.0 558.2h1.3v1.3h-1.3zM427.2 558.2h1.7v1.7h-1.7zM424.8 551.9h1.8v1.8h-1.8zM393.4 546.4h1.1v1.1h-1.1zM388.3 547.9h1.0v1.0h-1.0zM387.1 552.4h1.2v1.2h-1.2z" fill="#a0e0e0" fill-opacity="0.75"/>
<path d="M412.5 567.1h1.6v1.6h-1.6zM416.7 564.2h1.0v1.0h-1.0zM422.1 556.3h1.0v1.0h-1.0zM428.5 552.5h1.2v1.2h-1.2zM381.5 544.6h1.7v1.7h-1.7zM396.1 543.8h1.5v1.5h-1.5z" fill="#c02040"/>
<path d="M411.4 561.9h1.3v1.3h-1.3zM413.2 565.1h1.7v1.7h-1.7zM409.7 563.1h1.1v1.1h-1.1z" fill="#80c0d0"/>
<path d="M413.3 563.5h1.0v1.0h-1.0zM428.4 555.7h1.0v1.0h-1.0zM418.6 551.2h1.4v1.4h-1.4zM436.2 564.0h1.0v1.0h-1.0zM418.6 551.5h1.5v1.5h-1.5zM427.0 558.2h1.2v1.2h-1.2zM378.5 547.6h0.9v0.9h-0.9zM381.7 556.8h1.3v1.3h-1.3zM389.5 547.6h1.4v1.4h-1.4z" fill="#e05080" fill-opacity="0.5"/>
<path d="M422.1 560.3h1.7v1.7h-1.7zM415.6 562.4h1.1v1.1h-1.1zM389.7 549.6h1.2v1.2h-1.2zM388.4 538.7h0.9v0.9h-0.9z" fill="#80c0d0" fill-opacity="0.5"/>
</g>
<clipPath id="cg4"><rect x="440.50" y="529.00" width="60.60" height="56.50"/></clipPath>
<rect x="440.50" y="529.00" width="60.60" height="56.50" fill="#07070b"/>
<g clip-path="url(#cg4)" filter="url(#soft2)">
<path d="M447.0 568.7h1.9v1.9h-1.9zM448.4 532.1h2.2v2.2h-2.2zM462.8 553.0h1.3v1.3h-1.3zM494.9 538.7h1.3v1.3h-1.3zM462.1 584.8h1.7v1.7h-1.7zM447.5 534.5h1.4v1.4h-1.4zM479.7 576.8h2.0v2.0h-2.0zM494.9 566.8h1.5v1.5h-1.5zM444.0 542.6h1.2v1.2h-1.2zM474.9 560.5h2.3v2.3h-2.3zM441.6 551.2h1.2v1.2h-1.2zM447.2 576.6h1.8v1.8h-1.8zM480.9 530.6h2.0v2.0h-2.0zM493.2 534.9h1.7v1.7h-1.7zM475.5 585.5h1.3v1.3h-1.3zM486.6 569.5h1.2v1.2h-1.2zM458.3 541.5h1.6v1.6h-1.6zM472.5 568.9h1.2v1.2h-1.2zM459.0 571.0h2.2v2.2h-2.2zM460.0 573.0h2.0v2.0h-2.0zM485.3 537.6h1.2v1.2h-1.2zM468.7 543.4h1.8v1.8h-1.8zM476.9 545.5h1.6v1.6h-1.6zM472.7 550.0h1.4v1.4h-1.4zM455.7 547.6h2.1v2.1h-2.1zM442.2 577.5h2.0v2.0h-2.0zM464.2 577.6h2.0v2.0h-2.0zM455.4 576.5h1.3v1.3h-1.3zM471.3 529.7h2.1v2.1h-2.1zM450.2 533.4h2.2v2.2h-2.2zM493.6 552.6h1.2v1.2h-1.2z" fill="#d82838" fill-opacity="0.5"/>
<path d="M456.0 570.5h1.9v1.9h-1.9zM452.2 554.6h1.4v1.4h-1.4zM499.5 538.5h1.6v1.6h-1.6zM461.1 550.7h1.8v1.8h-1.8zM477.4 555.0h2.2v2.2h-2.2zM497.7 559.6h1.9v1.9h-1.9zM463.7 561.1h1.9v1.9h-1.9zM467.7 583.3h1.4v1.4h-1.4zM486.2 538.2h2.2v2.2h-2.2zM496.1 573.1h1.6v1.6h-1.6zM473.7 584.6h1.8v1.8h-1.8zM484.8 550.9h2.0v2.0h-2.0zM444.6 547.1h1.9v1.9h-1.9zM486.4 559.3h1.4v1.4h-1.4zM471.0 544.2h1.8v1.8h-1.8zM452.2 545.7h1.2v1.2h-1.2zM462.5 555.7h1.3v1.3h-1.3zM483.8 574.6h1.8v1.8h-1.8zM467.0 571.5h1.9v1.9h-1.9zM463.7 556.9h2.0v2.0h-2.0zM453.0 540.1h2.0v2.0h-2.0zM467.4 555.4h2.3v2.3h-2.3zM457.3 561.8h1.9v1.9h-1.9zM447.8 563.8h1.6v1.6h-1.6zM456.2 531.4h1.8v1.8h-1.8zM495.3 565.7h1.5v1.5h-1.5zM453.3 564.4h1.7v1.7h-1.7zM499.3 532.9h1.5v1.5h-1.5zM443.9 534.7h1.5v1.5h-1.5zM486.9 565.3h1.3v1.3h-1.3zM475.5 568.5h1.9v1.9h-1.9zM472.5 565.8h1.2v1.2h-1.2zM477.0 530.7h2.0v2.0h-2.0zM474.8 571.6h1.9v1.9h-1.9zM442.6 539.2h2.0v2.0h-2.0zM474.0 549.9h2.2v2.2h-2.2z" fill="#602040" fill-opacity="0.75"/>
<path d="M493.4 551.3h2.2v2.2h-2.2zM446.7 575.2h1.2v1.2h-1.2zM496.9 532.8h2.1v2.1h-2.1zM486.2 548.7h1.7v1.7h-1.7zM454.7 529.6h2.0v2.0h-2.0zM462.6 530.0h2.0v2.0h-2.0zM494.1 561.4h1.9v1.9h-1.9zM453.2 551.9h1.7v1.7h-1.7zM458.7 535.8h1.2v1.2h-1.2zM443.9 577.2h1.5v1.5h-1.5zM488.0 560.7h2.0v2.0h-2.0zM470.4 583.9h1.4v1.4h-1.4zM453.9 575.1h2.2v2.2h-2.2zM475.4 569.8h1.2v1.2h-1.2zM455.7 562.4h2.0v2.0h-2.0zM441.2 577.2h2.2v2.2h-2.2zM441.2 566.0h1.4v1.4h-1.4zM460.4 555.4h1.3v1.3h-1.3zM457.9 547.5h2.1v2.1h-2.1zM442.6 562.5h2.0v2.0h-2.0zM489.5 569.8h1.2v1.2h-1.2zM466.8 579.0h1.6v1.6h-1.6zM447.9 558.3h1.6v1.6h-1.6zM459.1 552.5h1.3v1.3h-1.3zM452.3 542.7h1.9v1.9h-1.9zM467.2 556.6h1.2v1.2h-1.2zM462.7 584.7h1.5v1.5h-1.5zM468.1 559.2h1.3v1.3h-1.3zM477.9 579.8h1.5v1.5h-1.5zM481.6 532.4h1.2v1.2h-1.2zM473.9 568.1h2.1v2.1h-2.1zM491.6 553.8h1.8v1.8h-1.8zM469.1 578.7h2.0v2.0h-2.0zM481.4 562.0h1.6v1.6h-1.6zM478.5 578.3h1.4v1.4h-1.4zM485.1 539.8h1.5v1.5h-1.5zM485.3 575.8h2.1v2.1h-2.1zM465.1 552.8h1.9v1.9h-1.9zM445.6 538.0h2.2v2.2h-2.2zM480.2 548.9h1.7v1.7h-1.7z" fill="#602040" fill-opacity="0.5"/>
<path d="M495.1 549.2h1.4v1.4h-1.4zM470.0 564.9h1.5v1.5h-1.5zM457.2 542.6h1.5v1.5h-1.5zM496.3 544.8h1.5v1.5h-1.5zM449.5 569.0h2.1v2.1h-2.1zM475.9 565.7h1.4v1.4h-1.4zM449.0 546.7h1.3v1.3h-1.3zM462.8 539.6h1.5v1.5h-1.5zM479.2 533.4h2.1v2.1h-2.1zM462.5 566.8h1.3v1.3h-1.3zM469.7 542.4h1.3v1.3h-1.3zM491.2 532.2h2.1v2.1h-2.1zM495.0 542.7h1.3v1.3h-1.3zM451.7 557.1h1.7v1.7h-1.7zM489.0 547.6h1.2v1.2h-1.2zM457.6 579.2h2.0v2.0h-2.0zM498.1 536.5h2.2v2.2h-2.2zM457.6 537.9h1.8v1.8h-1.8zM468.4 575.8h2.0v2.0h-2.0zM471.1 583.0h2.0v2.0h-2.0zM490.7 571.1h1.3v1.3h-1.3zM452.1 572.4h1.6v1.6h-1.6zM442.1 554.1h1.7v1.7h-1.7z" fill="#801820" fill-opacity="0.5"/>
<path d="M480.8 544.6h1.1v1.1h-1.1zM467.6 559.8h1.6v1.6h-1.6zM490.7 540.0h2.1v2.1h-2.1zM500.0 562.2h1.3v1.3h-1.3zM489.3 541.2h1.9v1.9h-1.9zM455.9 558.3h1.9v1.9h-1.9zM494.6 552.4h1.8v1.8h-1.8zM482.6 533.7h1.9v1.9h-1.9zM469.4 536.4h1.4v1.4h-1.4zM442.7 570.6h1.2v1.2h-1.2zM445.8 573.2h2.1v2.1h-2.1zM450.8 543.4h1.2v1.2h-1.2zM464.0 539.6h1.8v1.8h-1.8zM467.7 561.3h1.3v1.3h-1.3zM450.6 546.0h2.3v2.3h-2.3zM453.7 584.0h1.4v1.4h-1.4zM480.4 566.9h1.4v1.4h-1.4zM444.6 543.5h1.6v1.6h-1.6zM482.0 568.3h2.1v2.1h-2.1zM455.2 550.4h2.1v2.1h-2.1zM481.7 572.2h2.2v2.2h-2.2zM498.6 574.6h1.6v1.6h-1.6zM492.1 557.1h2.2v2.2h-2.2zM453.2 581.4h1.4v1.4h-1.4zM482.5 580.7h1.7v1.7h-1.7z" fill="#c02030" fill-opacity="0.5"/>
<path d="M460.9 533.7h1.3v1.3h-1.3zM491.5 549.7h1.6v1.6h-1.6zM489.7 563.1h1.4v1.4h-1.4zM446.9 555.7h1.7v1.7h-1.7zM466.3 539.1h2.3v2.3h-2.3zM489.6 575.1h1.1v1.1h-1.1zM454.6 581.5h1.2v1.2h-1.2zM443.6 547.9h1.8v1.8h-1.8zM452.1 536.4h2.3v2.3h-2.3zM486.7 563.4h1.5v1.5h-1.5zM448.1 530.6h2.1v2.1h-2.1zM470.2 541.2h1.2v1.2h-1.2zM494.0 540.9h2.1v2.1h-2.1zM443.0 548.1h2.2v2.2h-2.2zM455.7 540.1h1.3v1.3h-1.3zM486.0 569.0h1.2v1.2h-1.2zM468.2 559.2h2.0v2.0h-2.0zM447.2 584.5h2.2v2.2h-2.2zM494.8 581.4h1.8v1.8h-1.8zM496.0 561.5h1.4v1.4h-1.4zM457.3 565.1h1.8v1.8h-1.8zM465.1 557.7h1.8v1.8h-1.8zM483.4 566.9h1.9v1.9h-1.9zM454.8 535.0h1.4v1.4h-1.4zM470.4 561.1h1.2v1.2h-1.2zM486.2 550.8h1.6v1.6h-1.6zM449.5 578.9h2.1v2.1h-2.1zM492.3 556.9h1.9v1.9h-1.9zM452.7 582.9h1.5v1.5h-1.5zM480.4 546.9h1.3v1.3h-1.3zM492.5 583.6h1.7v1.7h-1.7zM499.4 568.1h2.0v2.0h-2.0zM479.8 545.7h1.2v1.2h-1.2zM464.0 557.4h1.3v1.3h-1.3zM453.5 550.3h2.2v2.2h-2.2zM475.2 546.9h1.2v1.2h-1.2zM487.4 584.0h1.7v1.7h-1.7zM460.1 582.2h1.2v1.2h-1.2zM495.8 557.0h1.5v1.5h-1.5zM470.9 578.7h1.6v1.6h-1.6zM494.8 536.6h2.0v2.0h-2.0z" fill="#4a2060" fill-opacity="0.75"/>
<path d="M500.5 553.8h1.8v1.8h-1.8zM450.3 552.3h1.9v1.9h-1.9zM483.9 542.8h2.1v2.1h-2.1zM487.5 553.8h2.0v2.0h-2.0zM492.8 564.4h2.1v2.1h-2.1zM461.0 544.4h1.6v1.6h-1.6zM475.1 577.1h1.2v1.2h-1.2zM471.3 540.6h2.1v2.1h-2.1zM441.8 569.7h1.8v1.8h-1.8zM456.3 537.5h1.4v1.4h-1.4zM451.6 532.2h1.9v1.9h-1.9zM496.3 535.7h1.7v1.7h-1.7zM475.4 582.1h2.0v2.0h-2.0zM492.2 567.1h2.3v2.3h-2.3zM499.4 571.9h1.5v1.5h-1.5zM457.0 565.1h1.2v1.2h-1.2zM499.4 571.1h1.7v1.7h-1.7zM470.4 554.8h1.8v1.8h-1.8zM452.4 542.2h2.0v2.0h-2.0zM454.6 532.7h1.6v1.6h-1.6zM443.2 559.0h1.9v1.9h-1.9zM466.8 562.5h1.9v1.9h-1.9zM488.9 561.9h1.8v1.8h-1.8zM450.0 572.6h1.3v1.3h-1.3zM461.2 539.2h1.4v1.4h-1.4zM496.0 536.8h1.5v1.5h-1.5zM441.9 576.4h1.8v1.8h-1.8zM449.0 557.3h1.6v1.6h-1.6zM480.4 561.1h2.1v2.1h-2.1zM459.3 546.0h1.7v1.7h-1.7zM474.6 582.9h1.8v1.8h-1.8zM469.4 560.7h1.7v1.7h-1.7zM442.8 580.8h2.2v2.2h-2.2zM465.3 533.8h2.3v2.3h-2.3zM500.5 565.1h1.4v1.4h-1.4zM459.6 572.0h1.8v1.8h-1.8zM484.9 555.1h2.0v2.0h-2.0zM441.6 571.1h2.1v2.1h-2.1zM470.1 541.6h1.3v1.3h-1.3z" fill="#c02030" fill-opacity="0.75"/>
<path d="M479.1 549.6h2.1v2.1h-2.1zM467.0 562.6h1.2v1.2h-1.2zM500.1 579.1h1.3v1.3h-1.3zM489.2 579.2h1.6v1.6h-1.6zM489.9 581.4h1.9v1.9h-1.9zM457.7 544.4h2.2v2.2h-2.2zM465.5 575.4h1.2v1.2h-1.2zM499.8 575.1h1.8v1.8h-1.8zM500.2 566.5h2.2v2.2h-2.2zM484.6 566.7h2.2v2.2h-2.2zM445.4 563.9h1.7v1.7h-1.7zM461.0 529.3h1.5v1.5h-1.5zM480.0 566.3h1.1v1.1h-1.1zM481.2 564.3h1.3v1.3h-1.3zM471.3 569.7h1.4v1.4h-1.4zM462.8 550.5h1.1v1.1h-1.1zM491.5 545.6h1.6v1.6h-1.6zM441.2 552.0h1.2v1.2h-1.2zM490.9 562.3h1.6v1.6h-1.6zM448.4 569.7h1.2v1.2h-1.2zM474.8 537.2h1.6v1.6h-1.6zM478.6 549.8h1.3v1.3h-1.3zM454.9 564.0h1.2v1.2h-1.2zM454.5 585.3h2.1v2.1h-2.1zM460.1 558.6h2.0v2.0h-2.0zM479.8 561.4h2.2v2.2h-2.2zM493.5 579.0h1.4v1.4h-1.4zM480.7 542.6h2.1v2.1h-2.1zM500.9 562.2h1.5v1.5h-1.5zM449.1 565.2h1.8v1.8h-1.8zM481.6 539.7h2.0v2.0h-2.0zM476.8 569.7h2.2v2.2h-2.2zM448.1 574.1h1.7v1.7h-1.7zM474.3 572.2h1.4v1.4h-1.4zM495.9 573.5h2.2v2.2h-2.2zM479.5 561.2h1.2v1.2h-1.2zM446.6 550.2h1.6v1.6h-1.6zM492.8 581.0h2.0v2.0h-2.0zM495.4 544.1h2.0v2.0h-2.0zM475.4 540.2h1.9v1.9h-1.9zM498.4 548.4h2.2v2.2h-2.2zM476.5 567.2h1.8v1.8h-1.8z" fill="#e03040" fill-opacity="0.75"/>
<path d="M467.7 563.8h1.7v1.7h-1.7zM486.7 549.8h1.8v1.8h-1.8zM495.0 532.9h1.2v1.2h-1.2zM486.5 538.9h1.3v1.3h-1.3zM441.5 532.5h1.2v1.2h-1.2zM477.2 550.5h1.6v1.6h-1.6zM458.2 545.6h1.8v1.8h-1.8zM465.8 559.0h1.9v1.9h-1.9zM454.7 545.7h2.2v2.2h-2.2zM490.5 552.3h1.2v1.2h-1.2zM466.7 566.2h1.8v1.8h-1.8zM493.0 584.8h1.7v1.7h-1.7zM480.7 530.6h1.3v1.3h-1.3zM454.4 573.2h1.1v1.1h-1.1zM478.9 562.2h1.7v1.7h-1.7zM484.2 543.2h1.1v1.1h-1.1zM454.8 537.8h1.4v1.4h-1.4zM489.4 583.5h1.4v1.4h-1.4zM483.6 553.5h1.6v1.6h-1.6zM493.1 560.0h1.8v1.8h-1.8zM464.0 563.2h1.9v1.9h-1.9zM479.9 572.0h2.2v2.2h-2.2zM493.7 576.1h1.5v1.5h-1.5zM495.6 583.3h2.1v2.1h-2.1zM499.9 551.1h1.9v1.9h-1.9zM451.0 534.6h2.0v2.0h-2.0zM444.9 549.6h1.1v1.1h-1.1zM490.9 530.8h1.5v1.5h-1.5zM469.5 577.9h1.4v1.4h-1.4zM446.8 552.7h1.5v1.5h-1.5zM492.1 564.7h1.5v1.5h-1.5zM444.8 535.1h1.3v1.3h-1.3zM491.3 581.2h2.3v2.3h-2.3zM449.3 556.0h2.2v2.2h-2.2zM441.3 582.0h1.6v1.6h-1.6zM466.8 532.0h1.4v1.4h-1.4zM448.1 548.6h2.0v2.0h-2.0z" fill="#801820" fill-opacity="0.75"/>
<path d="M456.7 553.9h2.1v2.1h-2.1zM484.6 540.9h1.6v1.6h-1.6zM464.9 562.5h1.5v1.5h-1.5zM456.1 533.0h1.7v1.7h-1.7zM456.5 541.2h1.5v1.5h-1.5zM451.8 566.6h1.8v1.8h-1.8zM453.6 536.5h2.2v2.2h-2.2zM453.3 566.3h1.4v1.4h-1.4zM494.3 540.6h1.7v1.7h-1.7zM453.7 550.0h2.3v2.3h-2.3zM462.4 543.5h1.5v1.5h-1.5zM441.2 559.4h1.2v1.2h-1.2zM470.2 549.3h1.5v1.5h-1.5zM457.4 571.5h1.3v1.3h-1.3zM500.7 560.4h2.0v2.0h-2.0zM456.1 534.1h1.9v1.9h-1.9zM480.5 530.9h1.2v1.2h-1.2z" fill="#4a2060"/>
<path d="M466.1 548.6h1.8v1.8h-1.8zM492.0 541.8h1.6v1.6h-1.6zM455.3 581.3h2.2v2.2h-2.2zM498.6 581.2h1.5v1.5h-1.5zM454.6 584.2h2.2v2.2h-2.2zM443.2 532.3h1.1v1.1h-1.1zM474.9 548.2h1.8v1.8h-1.8zM485.5 568.3h1.8v1.8h-1.8zM451.9 571.6h1.3v1.3h-1.3zM469.9 571.5h2.0v2.0h-2.0zM478.4 578.8h1.6v1.6h-1.6zM487.1 571.3h1.5v1.5h-1.5zM489.2 535.6h1.9v1.9h-1.9zM498.5 545.3h1.5v1.5h-1.5zM481.0 532.3h2.0v2.0h-2.0zM457.3 561.3h1.7v1.7h-1.7zM469.5 554.2h1.7v1.7h-1.7zM490.0 571.5h1.4v1.4h-1.4zM458.4 556.9h2.0v2.0h-2.0zM456.1 537.3h1.5v1.5h-1.5zM453.3 545.1h1.7v1.7h-1.7zM467.5 577.8h1.5v1.5h-1.5zM466.5 533.1h1.9v1.9h-1.9zM501.0 538.9h2.0v2.0h-2.0zM477.0 567.9h1.1v1.1h-1.1z" fill="#e03040" fill-opacity="0.5"/>
<path d="M458.8 539.7h1.9v1.9h-1.9zM454.3 577.8h2.1v2.1h-2.1zM475.1 572.3h2.0v2.0h-2.0zM475.4 568.0h1.4v1.4h-1.4zM458.4 541.2h1.5v1.5h-1.5zM442.9 531.5h2.1v2.1h-2.1zM495.2 539.6h2.2v2.2h-2.2zM467.8 535.8h1.6v1.6h-1.6zM446.8 532.4h1.3v1.3h-1.3zM456.1 554.7h1.3v1.3h-1.3zM487.1 583.1h1.3v1.3h-1.3zM440.6 570.3h1.3v1.3h-1.3zM465.2 529.6h1.7v1.7h-1.7zM463.6 584.9h1.7v1.7h-1.7zM444.2 567.2h2.2v2.2h-2.2zM476.3 585.1h2.1v2.1h-2.1zM500.2 566.0h1.8v1.8h-1.8zM483.2 532.5h1.4v1.4h-1.4zM478.8 567.9h2.1v2.1h-2.1zM448.2 553.7h1.9v1.9h-1.9zM479.0 574.3h1.3v1.3h-1.3zM492.3 553.5h1.4v1.4h-1.4z" fill="#e03040"/>
<path d="M446.3 534.5h1.3v1.3h-1.3zM444.7 576.4h1.2v1.2h-1.2zM490.9 529.9h1.7v1.7h-1.7zM474.2 554.3h1.3v1.3h-1.3zM457.9 583.8h1.7v1.7h-1.7zM463.4 539.2h2.0v2.0h-2.0zM496.1 537.6h2.0v2.0h-2.0zM478.6 561.5h2.0v2.0h-2.0zM482.7 549.0h1.9v1.9h-1.9zM489.2 557.4h1.8v1.8h-1.8zM482.9 539.1h2.2v2.2h-2.2zM481.1 561.9h1.4v1.4h-1.4zM491.3 582.4h1.9v1.9h-1.9zM453.4 584.4h2.0v2.0h-2.0zM473.0 531.9h1.7v1.7h-1.7zM492.9 585.3h1.8v1.8h-1.8zM481.6 568.3h2.0v2.0h-2.0zM452.9 566.1h1.2v1.2h-1.2zM490.6 554.3h2.1v2.1h-2.1zM458.7 557.5h1.9v1.9h-1.9zM482.8 533.0h1.4v1.4h-1.4zM460.8 553.0h2.2v2.2h-2.2zM466.6 547.0h2.0v2.0h-2.0zM499.8 534.4h1.4v1.4h-1.4zM459.2 530.2h1.3v1.3h-1.3zM454.6 532.3h1.2v1.2h-1.2z" fill="#a01828"/>
<path d="M476.0 545.0h2.2v2.2h-2.2zM488.8 570.0h1.1v1.1h-1.1zM470.4 551.9h1.7v1.7h-1.7zM480.7 547.0h1.3v1.3h-1.3zM450.6 540.2h2.2v2.2h-2.2zM450.1 570.8h1.2v1.2h-1.2zM467.7 530.5h1.4v1.4h-1.4zM485.1 577.7h1.3v1.3h-1.3zM461.9 578.6h1.8v1.8h-1.8zM447.2 555.5h1.2v1.2h-1.2zM495.7 551.1h1.4v1.4h-1.4zM456.5 564.9h1.6v1.6h-1.6zM444.6 568.0h1.1v1.1h-1.1zM480.1 564.2h2.2v2.2h-2.2zM478.7 558.4h1.7v1.7h-1.7z" fill="#b02040"/>
<path d="M447.4 583.0h2.0v2.0h-2.0zM487.4 546.8h2.2v2.2h-2.2zM446.0 578.0h1.8v1.8h-1.8zM472.1 584.3h1.2v1.2h-1.2zM470.7 544.4h1.7v1.7h-1.7zM460.0 568.8h2.2v2.2h-2.2zM492.3 551.3h2.0v2.0h-2.0zM447.0 529.5h2.1v2.1h-2.1zM488.8 548.4h1.6v1.6h-1.6zM489.2 529.3h2.0v2.0h-2.0zM473.1 548.9h2.2v2.2h-2.2zM455.5 581.8h1.8v1.8h-1.8zM482.3 535.8h1.9v1.9h-1.9zM453.9 563.4h1.6v1.6h-1.6zM449.6 579.6h1.8v1.8h-1.8zM449.9 584.8h1.6v1.6h-1.6zM485.5 549.3h1.2v1.2h-1.2zM460.7 583.6h2.2v2.2h-2.2zM460.5 558.6h1.4v1.4h-1.4zM455.9 564.3h2.1v2.1h-2.1zM459.0 568.8h2.0v2.0h-2.0zM468.5 537.5h1.8v1.8h-1.8zM484.7 551.3h2.1v2.1h-2.1zM472.3 562.1h1.3v1.3h-1.3zM484.4 570.8h1.8v1.8h-1.8z" fill="#a01828" fill-opacity="0.5"/>
<path d="M493.4 543.9h1.4v1.4h-1.4zM441.3 565.2h1.2v1.2h-1.2zM473.5 539.9h1.7v1.7h-1.7zM496.4 582.0h1.6v1.6h-1.6zM494.3 550.4h1.5v1.5h-1.5zM490.6 570.3h1.3v1.3h-1.3zM469.6 575.3h1.2v1.2h-1.2zM490.0 548.1h1.5v1.5h-1.5zM458.5 539.7h1.4v1.4h-1.4zM461.8 575.0h2.3v2.3h-2.3zM481.2 529.7h1.5v1.5h-1.5zM474.7 583.3h1.1v1.1h-1.1zM470.9 565.8h2.2v2.2h-2.2zM491.3 581.3h1.9v1.9h-1.9zM487.1 536.2h1.7v1.7h-1.7zM458.4 554.7h1.5v1.5h-1.5zM448.1 577.3h1.5v1.5h-1.5zM498.8 567.8h2.3v2.3h-2.3zM492.5 557.1h1.3v1.3h-1.3zM494.5 567.7h2.0v2.0h-2.0zM450.1 550.3h1.4v1.4h-1.4zM483.3 575.0h1.5v1.5h-1.5zM447.3 532.6h2.2v2.2h-2.2z" fill="#b02040" fill-opacity="0.5"/>
<path d="M497.1 555.5h1.5v1.5h-1.5zM460.7 543.3h1.4v1.4h-1.4zM449.7 540.9h2.0v2.0h-2.0zM497.2 581.9h1.7v1.7h-1.7zM476.5 564.8h2.2v2.2h-2.2zM474.9 574.5h2.1v2.1h-2.1zM467.3 553.7h1.7v1.7h-1.7zM486.6 565.3h2.0v2.0h-2.0zM463.6 579.5h1.3v1.3h-1.3zM481.4 570.9h1.9v1.9h-1.9zM480.9 562.2h1.9v1.9h-1.9zM486.7 574.2h1.6v1.6h-1.6zM492.6 562.8h1.1v1.1h-1.1zM453.4 574.5h1.6v1.6h-1.6zM488.3 552.7h2.0v2.0h-2.0zM452.2 539.1h1.3v1.3h-1.3zM463.0 536.6h1.2v1.2h-1.2zM461.6 555.9h1.4v1.4h-1.4z" fill="#602040"/>
<path d="M489.5 538.7h1.1v1.1h-1.1zM498.2 578.3h1.8v1.8h-1.8zM479.6 541.8h2.1v2.1h-2.1zM448.4 546.3h1.8v1.8h-1.8zM443.1 567.1h1.5v1.5h-1.5zM499.8 572.1h1.6v1.6h-1.6zM452.5 545.1h1.8v1.8h-1.8zM470.1 548.1h1.8v1.8h-1.8zM484.7 571.3h1.8v1.8h-1.8zM495.2 543.6h1.6v1.6h-1.6zM451.8 541.7h1.4v1.4h-1.4zM495.2 557.7h1.4v1.4h-1.4zM465.3 573.7h1.8v1.8h-1.8zM453.0 577.7h1.6v1.6h-1.6zM467.7 539.5h2.2v2.2h-2.2zM455.5 544.5h2.2v2.2h-2.2z" fill="#d82838"/>
<path d="M492.6 575.3h2.3v2.3h-2.3zM455.5 567.5h1.9v1.9h-1.9zM499.1 552.7h1.3v1.3h-1.3zM459.0 531.7h1.2v1.2h-1.2zM442.9 554.5h1.1v1.1h-1.1zM457.1 556.6h2.0v2.0h-2.0zM467.1 577.0h1.4v1.4h-1.4zM442.3 573.6h1.5v1.5h-1.5zM456.8 542.1h1.9v1.9h-1.9zM489.7 558.7h2.2v2.2h-2.2zM490.8 570.4h1.1v1.1h-1.1zM471.4 533.4h1.2v1.2h-1.2zM455.9 539.5h1.9v1.9h-1.9zM485.4 534.2h2.0v2.0h-2.0zM477.6 551.6h1.5v1.5h-1.5zM497.1 567.3h2.0v2.0h-2.0zM444.1 552.2h1.3v1.3h-1.3zM459.7 533.0h2.2v2.2h-2.2zM448.2 584.8h1.2v1.2h-1.2zM480.1 560.8h1.4v1.4h-1.4zM449.8 577.9h1.5v1.5h-1.5zM446.2 573.1h1.8v1.8h-1.8zM475.6 539.3h2.2v2.2h-2.2zM460.2 566.7h1.8v1.8h-1.8zM472.8 563.8h1.5v1.5h-1.5zM487.9 575.4h1.2v1.2h-1.2zM499.2 573.3h1.8v1.8h-1.8zM495.4 575.3h1.2v1.2h-1.2zM491.3 533.9h1.9v1.9h-1.9zM468.0 556.6h1.5v1.5h-1.5zM440.9 578.5h1.6v1.6h-1.6zM456.6 532.8h1.7v1.7h-1.7zM464.3 564.5h2.2v2.2h-2.2zM452.4 548.3h1.9v1.9h-1.9zM442.6 570.8h2.1v2.1h-2.1z" fill="#a01828" fill-opacity="0.75"/>
<path d="M468.9 583.2h1.5v1.5h-1.5zM444.3 567.4h2.2v2.2h-2.2zM492.9 569.6h1.1v1.1h-1.1zM472.2 576.2h1.6v1.6h-1.6zM479.5 579.2h2.2v2.2h-2.2zM459.8 559.6h2.1v2.1h-2.1zM496.1 579.2h2.0v2.0h-2.0zM489.0 574.1h1.4v1.4h-1.4zM440.6 546.2h1.2v1.2h-1.2zM498.3 530.3h1.2v1.2h-1.2zM466.2 556.8h2.3v2.3h-2.3zM473.8 578.8h2.2v2.2h-2.2zM494.5 580.3h1.5v1.5h-1.5zM482.0 564.1h1.6v1.6h-1.6zM480.8 585.4h1.3v1.3h-1.3zM472.5 572.5h1.9v1.9h-1.9zM456.9 581.1h1.5v1.5h-1.5zM476.1 537.7h1.5v1.5h-1.5zM464.1 554.6h2.0v2.0h-2.0zM501.1 530.8h1.9v1.9h-1.9zM444.9 573.8h1.8v1.8h-1.8zM468.3 578.2h1.6v1.6h-1.6zM498.8 571.0h2.0v2.0h-2.0zM453.9 551.7h1.7v1.7h-1.7zM466.0 547.7h1.4v1.4h-1.4z" fill="#c02030"/>
<path d="M492.3 551.5h1.6v1.6h-1.6zM468.4 540.4h1.2v1.2h-1.2zM489.7 539.0h1.4v1.4h-1.4zM453.2 536.2h2.1v2.1h-2.1zM452.4 536.0h2.2v2.2h-2.2zM460.0 543.9h1.6v1.6h-1.6zM447.5 551.0h1.2v1.2h-1.2zM483.1 580.5h2.2v2.2h-2.2zM465.7 556.1h2.2v2.2h-2.2zM441.2 584.4h1.6v1.6h-1.6zM499.6 549.7h1.9v1.9h-1.9zM490.0 536.6h1.3v1.3h-1.3zM443.6 566.3h1.9v1.9h-1.9zM444.7 541.6h1.5v1.5h-1.5zM454.1 577.8h1.3v1.3h-1.3zM463.0 580.2h1.8v1.8h-1.8zM497.5 536.2h1.7v1.7h-1.7zM469.1 577.1h1.2v1.2h-1.2zM488.8 532.3h2.0v2.0h-2.0zM461.2 550.5h1.7v1.7h-1.7zM492.1 585.0h1.7v1.7h-1.7zM487.6 558.5h1.5v1.5h-1.5zM463.3 558.1h2.1v2.1h-2.1zM495.3 557.9h1.7v1.7h-1.7zM500.9 567.8h1.7v1.7h-1.7zM443.8 566.8h1.7v1.7h-1.7zM457.5 563.6h1.2v1.2h-1.2zM446.1 531.9h1.3v1.3h-1.3zM478.4 564.5h1.6v1.6h-1.6zM488.6 573.6h1.6v1.6h-1.6zM478.4 555.0h1.6v1.6h-1.6zM499.9 568.6h2.2v2.2h-2.2zM485.3 565.1h2.1v2.1h-2.1zM496.9 536.9h1.2v1.2h-1.2zM444.0 554.5h1.3v1.3h-1.3z" fill="#b02040" fill-opacity="0.75"/>
<path d="M501.0 540.8h2.0v2.0h-2.0zM452.8 559.5h1.5v1.5h-1.5zM493.8 567.3h2.0v2.0h-2.0zM456.8 563.9h1.7v1.7h-1.7zM464.0 560.2h1.2v1.2h-1.2zM487.9 538.9h2.1v2.1h-2.1zM485.0 568.6h1.3v1.3h-1.3zM499.2 541.3h1.7v1.7h-1.7zM445.1 529.6h2.2v2.2h-2.2zM500.0 557.7h1.5v1.5h-1.5zM492.9 557.2h2.1v2.1h-2.1zM478.7 531.1h1.6v1.6h-1.6zM497.2 578.9h2.0v2.0h-2.0zM498.8 537.2h1.5v1.5h-1.5zM494.0 547.0h2.3v2.3h-2.3zM498.8 579.8h2.1v2.1h-2.1zM453.1 539.3h1.8v1.8h-1.8zM470.2 542.0h1.4v1.4h-1.4zM488.2 567.1h1.4v1.4h-1.4zM482.1 562.6h1.9v1.9h-1.9zM464.8 563.4h1.8v1.8h-1.8zM459.5 551.0h1.2v1.2h-1.2zM494.0 585.4h1.2v1.2h-1.2zM464.1 536.9h1.5v1.5h-1.5zM461.2 576.9h1.5v1.5h-1.5zM492.8 554.5h1.8v1.8h-1.8zM478.6 581.1h1.8v1.8h-1.8zM447.8 559.6h2.2v2.2h-2.2zM491.6 553.4h1.7v1.7h-1.7z" fill="#801820"/>
<path d="M473.5 581.8h1.2v1.2h-1.2zM441.4 548.4h1.4v1.4h-1.4zM443.7 583.4h2.0v2.0h-2.0zM448.7 533.3h2.2v2.2h-2.2zM470.1 546.9h2.2v2.2h-2.2zM472.7 559.7h1.2v1.2h-1.2zM495.4 548.5h1.5v1.5h-1.5zM469.1 560.7h1.1v1.1h-1.1zM481.2 541.8h1.3v1.3h-1.3zM483.0 552.0h1.4v1.4h-1.4zM500.5 563.3h1.3v1.3h-1.3zM446.1 557.7h1.1v1.1h-1.1zM443.5 558.2h1.5v1.5h-1.5zM464.8 559.0h1.5v1.5h-1.5zM464.4 539.4h1.2v1.2h-1.2zM459.3 551.8h1.8v1.8h-1.8zM475.0 535.1h2.0v2.0h-2.0zM494.2 560.2h2.2v2.2h-2.2zM456.1 536.2h1.7v1.7h-1.7zM460.8 575.6h2.1v2.1h-2.1zM499.8 575.6h1.9v1.9h-1.9zM489.3 549.5h1.3v1.3h-1.3zM494.7 529.3h1.2v1.2h-1.2zM465.8 532.7h2.2v2.2h-2.2zM449.5 530.2h2.2v2.2h-2.2zM449.9 580.1h1.5v1.5h-1.5zM441.2 574.6h1.5v1.5h-1.5zM457.1 530.8h2.2v2.2h-2.2zM444.7 538.3h1.5v1.5h-1.5zM488.1 561.7h1.6v1.6h-1.6zM473.3 572.2h1.3v1.3h-1.3zM463.9 569.8h1.7v1.7h-1.7zM493.3 553.5h2.2v2.2h-2.2zM461.5 578.5h1.9v1.9h-1.9zM444.9 578.1h1.3v1.3h-1.3zM500.7 568.2h2.0v2.0h-2.0zM465.4 579.0h2.1v2.1h-2.1zM493.7 581.3h1.9v1.9h-1.9zM478.1 568.8h2.3v2.3h-2.3zM481.2 529.4h2.3v2.3h-2.3zM444.5 571.7h1.6v1.6h-1.6zM477.2 564.6h2.0v2.0h-2.0zM452.2 551.6h2.1v2.1h-2.1zM491.7 552.4h1.6v1.6h-1.6zM448.4 539.8h1.3v1.3h-1.3zM459.5 535.5h1.6v1.6h-1.6z" fill="#d82838" fill-opacity="0.75"/>
<path d="M469.7 539.7h2.2v2.2h-2.2zM471.5 532.4h1.3v1.3h-1.3zM467.4 582.0h1.6v1.6h-1.6zM474.3 572.6h2.0v2.0h-2.0zM464.1 557.0h1.3v1.3h-1.3zM486.1 563.1h2.2v2.2h-2.2zM464.7 583.2h1.7v1.7h-1.7zM490.5 578.8h1.9v1.9h-1.9zM462.5 539.7h1.1v1.1h-1.1zM453.7 553.3h1.5v1.5h-1.5zM495.3 566.7h1.4v1.4h-1.4zM470.4 565.5h1.4v1.4h-1.4zM450.0 583.7h2.1v2.1h-2.1zM449.9 574.5h2.2v2.2h-2.2zM479.7 569.6h1.5v1.5h-1.5zM462.5 545.4h2.1v2.1h-2.1zM476.1 579.5h1.3v1.3h-1.3zM441.9 537.4h1.7v1.7h-1.7zM497.5 581.0h2.2v2.2h-2.2zM443.7 577.8h1.9v1.9h-1.9zM456.1 548.5h1.7v1.7h-1.7zM464.0 567.9h1.4v1.4h-1.4zM493.5 578.3h1.9v1.9h-1.9zM493.1 550.3h1.4v1.4h-1.4zM462.9 559.6h2.0v2.0h-2.0zM440.7 579.7h1.3v1.3h-1.3zM481.5 563.0h1.6v1.6h-1.6zM486.0 531.6h2.2v2.2h-2.2zM474.1 535.3h2.2v2.2h-2.2z" fill="#4a2060" fill-opacity="0.5"/>
<path d="M464.9 536.3h1.2v1.2h-1.2zM474.0 558.8h1.3v1.3h-1.3zM464.4 549.5h1.6v1.6h-1.6zM457.9 554.7h1.2v1.2h-1.2zM463.6 547.6h1.7v1.7h-1.7zM480.9 564.5h1.4v1.4h-1.4zM467.9 551.0h1.8v1.8h-1.8zM466.5 564.7h1.0v1.0h-1.0zM481.2 541.1h1.3v1.3h-1.3zM465.5 543.3h0.9v0.9h-0.9z" fill="#f0f0f0" fill-opacity="0.5"/>
<path d="M462.9 551.7h1.4v1.4h-1.4zM475.3 543.4h1.5v1.5h-1.5zM457.9 563.3h1.4v1.4h-1.4zM453.6 552.3h1.7v1.7h-1.7zM465.2 535.7h1.4v1.4h-1.4zM481.2 554.6h1.6v1.6h-1.6zM459.0 554.2h1.1v1.1h-1.1zM459.0 579.3h1.2v1.2h-1.2zM445.4 588.0h1.4v1.4h-1.4zM460.3 566.0h1.2v1.2h-1.2zM463.8 568.7h1.5v1.5h-1.5zM448.6 568.4h1.2v1.2h-1.2zM482.3 585.6h1.2v1.2h-1.2zM483.3 568.5h1.5v1.5h-1.5zM494.5 568.7h1.1v1.1h-1.1zM489.2 564.5h1.7v1.7h-1.7zM469.0 531.2h1.1v1.1h-1.1zM461.8 528.5h1.4v1.4h-1.4z" fill="#50c0c0" fill-opacity="0.75"/>
<path d="M460.9 543.5h1.7v1.7h-1.7zM468.8 554.7h1.2v1.2h-1.2zM451.3 551.0h1.4v1.4h-1.4zM485.7 548.8h1.1v1.1h-1.1zM472.3 557.7h1.4v1.4h-1.4zM475.3 559.7h1.4v1.4h-1.4zM468.7 548.5h1.8v1.8h-1.8zM472.3 540.1h1.0v1.0h-1.0zM469.8 566.1h1.0v1.0h-1.0zM457.5 541.9h1.1v1.1h-1.1zM462.0 567.1h1.2v1.2h-1.2zM484.4 548.7h1.8v1.8h-1.8zM471.3 563.1h1.2v1.2h-1.2zM469.3 547.9h1.3v1.3h-1.3zM454.8 566.4h1.3v1.3h-1.3zM458.1 544.3h1.3v1.3h-1.3zM451.8 566.0h1.5v1.5h-1.5zM443.6 567.8h1.4v1.4h-1.4zM449.1 555.8h1.0v1.0h-1.0zM460.9 569.9h1.5v1.5h-1.5zM480.2 578.5h1.6v1.6h-1.6zM482.9 581.6h1.3v1.3h-1.3zM480.2 529.2h1.6v1.6h-1.6zM461.4 537.2h1.6v1.6h-1.6zM468.9 531.1h1.5v1.5h-1.5zM463.2 536.8h1.5v1.5h-1.5z" fill="#80e0e0" fill-opacity="0.75"/>
<path d="M458.6 552.8h1.0v1.0h-1.0zM478.9 546.1h1.4v1.4h-1.4zM463.8 546.2h1.1v1.1h-1.1zM467.6 547.8h1.5v1.5h-1.5zM474.7 570.4h1.7v1.7h-1.7zM474.9 550.3h1.2v1.2h-1.2zM461.9 539.9h1.6v1.6h-1.6zM483.0 551.6h1.1v1.1h-1.1zM491.6 557.3h1.0v1.0h-1.0zM461.5 555.7h1.7v1.7h-1.7zM474.0 562.1h1.3v1.3h-1.3zM472.7 549.2h1.2v1.2h-1.2zM490.9 549.0h1.0v1.0h-1.0zM447.0 552.4h1.6v1.6h-1.6zM457.8 566.4h1.3v1.3h-1.3zM450.9 570.9h1.4v1.4h-1.4zM442.6 572.3h1.0v1.0h-1.0zM460.3 571.6h1.7v1.7h-1.7zM468.1 552.7h1.3v1.3h-1.3zM445.6 585.3h1.2v1.2h-1.2zM452.6 564.2h1.6v1.6h-1.6zM466.9 574.4h1.1v1.1h-1.1zM488.4 577.9h1.4v1.4h-1.4zM479.3 567.3h1.1v1.1h-1.1zM469.2 528.1h1.0v1.0h-1.0zM463.0 540.0h1.6v1.6h-1.6z" fill="#f0f0f0" fill-opacity="0.75"/>
<path d="M466.6 556.5h1.0v1.0h-1.0zM467.8 549.8h1.1v1.1h-1.1zM472.3 544.2h1.6v1.6h-1.6zM471.3 556.0h1.6v1.6h-1.6zM474.9 530.9h0.9v0.9h-0.9zM479.1 562.3h1.5v1.5h-1.5zM474.0 542.6h1.6v1.6h-1.6zM468.9 566.8h1.2v1.2h-1.2zM461.1 568.1h1.1v1.1h-1.1zM486.8 565.3h1.4v1.4h-1.4zM479.5 576.9h0.9v0.9h-0.9zM470.4 532.8h1.6v1.6h-1.6zM475.6 533.2h0.9v0.9h-0.9z" fill="#f0f0f0"/>
<path d="M454.2 554.9h1.3v1.3h-1.3zM469.0 551.8h1.1v1.1h-1.1zM459.6 547.9h1.6v1.6h-1.6zM480.1 557.9h1.5v1.5h-1.5zM469.0 557.7h1.4v1.4h-1.4zM464.0 543.2h1.5v1.5h-1.5zM481.8 547.9h1.5v1.5h-1.5zM462.4 573.8h1.2v1.2h-1.2zM488.8 578.8h1.3v1.3h-1.3zM480.6 573.5h1.8v1.8h-1.8zM494.4 575.2h1.2v1.2h-1.2zM491.6 572.3h1.6v1.6h-1.6z" fill="#50c0c0"/>
<path d="M474.0 544.5h1.5v1.5h-1.5zM459.4 563.6h1.7v1.7h-1.7zM459.7 556.7h0.9v0.9h-0.9zM480.9 547.8h1.4v1.4h-1.4zM483.5 547.5h1.4v1.4h-1.4zM458.1 556.2h1.1v1.1h-1.1zM486.0 536.5h1.6v1.6h-1.6zM481.8 570.2h1.5v1.5h-1.5zM469.1 552.4h1.4v1.4h-1.4zM470.9 551.7h1.7v1.7h-1.7zM468.7 552.9h1.5v1.5h-1.5zM480.0 557.8h1.0v1.0h-1.0zM473.5 565.7h1.4v1.4h-1.4zM468.2 558.1h1.5v1.5h-1.5zM469.4 545.2h0.9v0.9h-0.9zM469.4 537.0h1.4v1.4h-1.4zM467.4 551.8h1.6v1.6h-1.6zM463.4 551.0h1.4v1.4h-1.4zM455.7 570.8h1.5v1.5h-1.5zM442.3 579.0h1.7v1.7h-1.7zM483.9 571.5h1.3v1.3h-1.3zM490.1 574.2h1.7v1.7h-1.7zM481.9 576.4h1.5v1.5h-1.5zM472.5 534.2h1.7v1.7h-1.7zM476.6 537.9h1.8v1.8h-1.8z" fill="#e03050" fill-opacity="0.75"/>
<path d="M469.5 558.3h1.5v1.5h-1.5zM476.8 555.0h1.3v1.3h-1.3zM466.2 563.6h1.4v1.4h-1.4zM462.5 567.8h1.2v1.2h-1.2zM462.2 556.9h1.2v1.2h-1.2zM472.0 554.3h1.8v1.8h-1.8zM470.1 538.9h1.2v1.2h-1.2zM455.6 547.8h1.5v1.5h-1.5zM473.4 548.7h1.0v1.0h-1.0zM465.2 539.7h1.6v1.6h-1.6zM471.4 551.8h0.9v0.9h-0.9zM462.6 553.0h1.5v1.5h-1.5zM461.9 551.8h1.0v1.0h-1.0zM456.0 572.8h1.3v1.3h-1.3zM454.1 575.0h1.5v1.5h-1.5zM456.3 558.3h1.7v1.7h-1.7zM442.2 577.2h1.3v1.3h-1.3zM467.0 570.0h1.4v1.4h-1.4zM462.9 557.6h1.2v1.2h-1.2zM453.0 561.7h1.4v1.4h-1.4zM485.1 565.7h1.6v1.6h-1.6zM487.9 577.8h1.2v1.2h-1.2zM461.6 536.2h1.7v1.7h-1.7zM475.9 531.8h1.3v1.3h-1.3zM469.3 541.0h1.2v1.2h-1.2z" fill="#c03070" fill-opacity="0.75"/>
<path d="M486.1 563.3h1.4v1.4h-1.4zM463.8 560.4h1.0v1.0h-1.0zM462.3 563.8h1.5v1.5h-1.5zM475.5 567.1h0.9v0.9h-0.9zM460.0 541.7h0.9v0.9h-0.9zM478.7 551.1h1.5v1.5h-1.5zM465.0 571.0h1.3v1.3h-1.3zM454.7 570.2h1.5v1.5h-1.5zM456.6 576.5h1.5v1.5h-1.5zM453.0 565.9h1.3v1.3h-1.3z" fill="#80e0e0" fill-opacity="0.5"/>
<path d="M466.5 565.6h1.0v1.0h-1.0zM467.0 548.0h1.5v1.5h-1.5zM481.0 567.1h0.9v0.9h-0.9zM473.1 555.9h1.8v1.8h-1.8zM464.3 543.1h1.1v1.1h-1.1zM485.3 545.7h1.4v1.4h-1.4zM460.2 535.7h1.4v1.4h-1.4zM461.6 553.0h1.1v1.1h-1.1zM463.6 578.4h1.3v1.3h-1.3zM455.3 569.8h1.0v1.0h-1.0zM461.1 566.5h1.3v1.3h-1.3zM475.7 566.6h1.0v1.0h-1.0z" fill="#60d0d0" fill-opacity="0.5"/>
<path d="M466.9 551.8h0.9v0.9h-0.9zM456.2 559.5h1.8v1.8h-1.8zM458.8 549.7h1.4v1.4h-1.4zM464.2 549.0h1.3v1.3h-1.3zM470.9 548.8h1.7v1.7h-1.7zM476.6 551.3h1.4v1.4h-1.4zM473.3 565.9h1.1v1.1h-1.1zM471.2 546.3h1.8v1.8h-1.8zM479.5 553.2h1.7v1.7h-1.7zM462.8 559.5h1.8v1.8h-1.8zM453.5 567.9h1.4v1.4h-1.4zM463.6 557.1h1.8v1.8h-1.8zM468.8 552.5h1.0v1.0h-1.0zM469.5 557.1h1.1v1.1h-1.1zM480.3 552.0h1.4v1.4h-1.4zM468.3 564.8h1.8v1.8h-1.8zM482.3 554.3h1.0v1.0h-1.0zM475.3 552.3h1.6v1.6h-1.6zM448.6 570.7h1.6v1.6h-1.6zM437.5 579.8h1.4v1.4h-1.4zM462.5 562.1h1.5v1.5h-1.5zM457.3 566.5h1.2v1.2h-1.2zM459.8 568.1h1.2v1.2h-1.2zM480.0 568.6h1.2v1.2h-1.2zM477.1 568.5h1.6v1.6h-1.6zM484.0 570.3h1.1v1.1h-1.1zM485.9 535.6h1.6v1.6h-1.6zM464.6 536.5h1.3v1.3h-1.3zM460.1 538.4h1.2v1.2h-1.2zM465.5 548.8h1.6v1.6h-1.6zM467.8 531.5h1.3v1.3h-1.3zM479.6 531.1h1.1v1.1h-1.1z" fill="#d02860" fill-opacity="0.75"/>
<path d="M475.9 557.6h1.3v1.3h-1.3zM466.2 552.1h1.4v1.4h-1.4zM459.2 546.2h1.5v1.5h-1.5zM482.6 556.2h1.2v1.2h-1.2zM468.9 551.8h1.0v1.0h-1.0zM473.8 552.4h1.7v1.7h-1.7zM464.8 549.1h1.5v1.5h-1.5zM461.3 562.1h1.3v1.3h-1.3zM467.0 559.7h0.9v0.9h-0.9zM469.5 549.5h1.7v1.7h-1.7zM456.5 559.9h1.4v1.4h-1.4zM470.9 560.0h1.5v1.5h-1.5zM450.6 538.8h1.3v1.3h-1.3zM470.5 561.4h1.7v1.7h-1.7zM462.7 536.8h1.2v1.2h-1.2zM467.3 560.4h1.7v1.7h-1.7zM450.5 578.0h1.3v1.3h-1.3zM456.6 570.7h1.6v1.6h-1.6zM442.2 566.4h0.9v0.9h-0.9zM451.7 570.4h1.2v1.2h-1.2zM450.1 561.5h1.2v1.2h-1.2zM493.4 555.0h1.3v1.3h-1.3zM490.7 568.8h1.1v1.1h-1.1zM492.7 571.1h1.6v1.6h-1.6zM484.3 572.4h1.8v1.8h-1.8zM466.8 545.3h1.1v1.1h-1.1zM476.6 529.3h1.5v1.5h-1.5z" fill="#60d0d0" fill-opacity="0.75"/>
<path d="M470.2 558.1h1.7v1.7h-1.7zM469.1 553.9h1.7v1.7h-1.7zM471.4 559.0h1.8v1.8h-1.8zM459.3 554.4h1.1v1.1h-1.1zM455.4 569.0h1.5v1.5h-1.5zM490.5 554.8h1.6v1.6h-1.6zM463.2 561.3h1.0v1.0h-1.0zM479.5 518.8h1.6v1.6h-1.6zM486.4 586.9h1.0v1.0h-1.0zM490.1 578.4h1.0v1.0h-1.0zM489.0 574.5h1.5v1.5h-1.5zM466.9 532.5h1.0v1.0h-1.0zM463.7 527.0h1.5v1.5h-1.5zM475.9 531.6h1.6v1.6h-1.6z" fill="#50c0c0" fill-opacity="0.5"/>
<path d="M471.7 579.1h1.6v1.6h-1.6zM460.7 545.3h1.3v1.3h-1.3zM473.3 560.8h1.8v1.8h-1.8zM469.6 545.1h1.4v1.4h-1.4zM472.2 565.4h0.9v0.9h-0.9zM453.6 558.7h1.3v1.3h-1.3zM464.6 567.9h1.1v1.1h-1.1zM455.8 564.5h1.1v1.1h-1.1zM494.3 570.3h1.3v1.3h-1.3zM497.7 589.6h1.5v1.5h-1.5zM491.4 572.1h1.3v1.3h-1.3z" fill="#d02860"/>
<path d="M461.9 561.8h1.7v1.7h-1.7zM460.4 542.0h1.3v1.3h-1.3zM457.0 555.6h1.0v1.0h-1.0zM463.0 544.8h1.1v1.1h-1.1zM465.7 557.2h1.3v1.3h-1.3zM474.1 548.7h0.9v0.9h-0.9zM467.9 559.0h1.3v1.3h-1.3zM494.7 565.3h1.6v1.6h-1.6zM447.7 574.9h1.8v1.8h-1.8zM486.5 575.5h1.1v1.1h-1.1zM494.0 572.9h1.0v1.0h-1.0zM487.7 573.5h1.4v1.4h-1.4zM497.3 585.8h1.7v1.7h-1.7zM491.4 576.9h1.7v1.7h-1.7zM469.9 534.7h1.2v1.2h-1.2zM481.2 530.5h1.0v1.0h-1.0z" fill="#c03070" fill-opacity="0.5"/>
<path d="M473.5 558.7h1.2v1.2h-1.2zM483.3 552.4h1.6v1.6h-1.6zM470.0 557.7h1.8v1.8h-1.8zM471.1 532.2h1.2v1.2h-1.2zM465.5 557.0h1.8v1.8h-1.8zM479.7 569.5h1.0v1.0h-1.0zM489.9 582.8h1.1v1.1h-1.1zM475.9 584.1h1.1v1.1h-1.1zM472.2 534.6h0.9v0.9h-0.9zM472.7 532.6h1.5v1.5h-1.5zM470.7 539.7h1.3v1.3h-1.3z" fill="#f04060"/>
<path d="M462.4 551.0h1.7v1.7h-1.7zM480.2 548.4h1.6v1.6h-1.6zM468.8 560.5h1.8v1.8h-1.8zM465.0 558.1h1.6v1.6h-1.6zM479.0 548.2h1.3v1.3h-1.3zM473.1 556.6h1.0v1.0h-1.0zM473.9 563.0h1.4v1.4h-1.4zM451.0 568.6h1.0v1.0h-1.0zM456.2 572.6h1.0v1.0h-1.0zM498.0 572.0h1.2v1.2h-1.2zM494.5 559.8h1.6v1.6h-1.6zM494.0 581.1h1.7v1.7h-1.7zM480.9 576.3h1.2v1.2h-1.2zM474.9 532.7h1.7v1.7h-1.7z" fill="#d02860" fill-opacity="0.5"/>
<path d="M467.1 557.2h1.3v1.3h-1.3zM476.1 539.3h1.1v1.1h-1.1zM460.1 541.6h1.2v1.2h-1.2zM478.4 541.6h1.2v1.2h-1.2zM485.9 556.5h1.0v1.0h-1.0zM497.1 562.2h1.2v1.2h-1.2zM474.3 568.5h1.4v1.4h-1.4zM471.0 543.0h1.6v1.6h-1.6zM472.1 543.3h1.3v1.3h-1.3zM474.4 537.7h0.9v0.9h-0.9z" fill="#80e0e0"/>
<path d="M475.5 547.8h1.6v1.6h-1.6zM464.9 551.2h1.1v1.1h-1.1zM467.1 553.7h1.4v1.4h-1.4zM465.3 558.0h1.1v1.1h-1.1zM468.1 543.9h1.0v1.0h-1.0zM483.4 568.8h1.0v1.0h-1.0zM465.2 563.7h1.8v1.8h-1.8zM473.0 554.7h1.4v1.4h-1.4zM473.8 548.1h1.1v1.1h-1.1zM452.2 572.0h1.0v1.0h-1.0zM479.7 578.1h1.5v1.5h-1.5zM482.2 575.0h1.8v1.8h-1.8zM494.0 580.8h1.3v1.3h-1.3zM474.0 565.7h1.5v1.5h-1.5zM473.7 545.0h1.3v1.3h-1.3zM459.7 538.4h1.4v1.4h-1.4zM474.3 531.6h1.4v1.4h-1.4z" fill="#f04060" fill-opacity="0.75"/>
<path d="M472.2 545.7h1.2v1.2h-1.2zM466.7 560.9h1.6v1.6h-1.6zM456.7 568.6h1.7v1.7h-1.7zM459.2 561.2h1.3v1.3h-1.3zM482.4 580.2h1.2v1.2h-1.2zM476.4 560.9h1.2v1.2h-1.2zM468.5 538.5h1.2v1.2h-1.2zM465.0 541.3h1.7v1.7h-1.7zM469.1 532.2h1.3v1.3h-1.3zM463.2 540.7h0.9v0.9h-0.9z" fill="#e03050"/>
<path d="M450.8 555.4h1.0v1.0h-1.0zM465.0 556.1h1.4v1.4h-1.4zM473.8 555.5h1.0v1.0h-1.0zM486.6 549.8h1.1v1.1h-1.1zM473.6 554.6h1.2v1.2h-1.2zM484.8 579.5h1.3v1.3h-1.3zM482.9 572.9h0.9v0.9h-0.9zM491.5 558.8h1.1v1.1h-1.1zM466.7 532.3h1.3v1.3h-1.3z" fill="#e03050" fill-opacity="0.5"/>
<path d="M469.5 547.3h1.5v1.5h-1.5zM457.9 565.4h1.3v1.3h-1.3zM477.8 551.6h1.4v1.4h-1.4zM471.5 561.7h1.2v1.2h-1.2zM473.5 560.9h1.5v1.5h-1.5zM456.2 572.0h1.5v1.5h-1.5zM455.1 571.9h0.9v0.9h-0.9zM464.2 569.3h1.2v1.2h-1.2zM452.7 579.6h1.6v1.6h-1.6zM468.0 527.9h1.6v1.6h-1.6z" fill="#c03070"/>
<path d="M476.1 547.9h1.0v1.0h-1.0zM466.3 558.5h1.1v1.1h-1.1zM476.5 557.9h1.1v1.1h-1.1zM458.6 563.8h1.2v1.2h-1.2zM486.8 567.2h1.8v1.8h-1.8zM483.9 569.0h1.4v1.4h-1.4zM462.6 539.4h1.8v1.8h-1.8zM470.0 536.5h1.0v1.0h-1.0z" fill="#f04060" fill-opacity="0.5"/>
<path d="M466.6 553.2h1.5v1.5h-1.5zM494.5 579.8h1.6v1.6h-1.6zM477.9 548.2h1.5v1.5h-1.5zM461.7 540.6h1.3v1.3h-1.3z" fill="#60d0d0"/>
</g>
<text x="407.30" y="431.00" font-size="10" fill="#b0224a" text-anchor="middle" textLength="61.00" lengthAdjust="spacingAndGlyphs" stroke="#b0224a" stroke-width="0.18">Ter119-Alexa</text>
<text x="407.30" y="440.80" font-size="10" fill="#b0224a" text-anchor="middle" textLength="43.00" lengthAdjust="spacingAndGlyphs" stroke="#b0224a" stroke-width="0.18">Fluor 568</text>
<text x="469.40" y="431.00" font-size="10" fill="#4ca64e" text-anchor="middle" textLength="57.70" lengthAdjust="spacingAndGlyphs" stroke="#4ca64e" stroke-width="0.18">F4/80-Alexa</text>
<text x="469.40" y="440.80" font-size="10" fill="#4ca64e" text-anchor="middle" textLength="44.50" lengthAdjust="spacingAndGlyphs" stroke="#4ca64e" stroke-width="0.18">Fluor 488</text>
<text x="407.70" y="513.90" font-size="10.6" fill="#1a1a1a" text-anchor="middle" stroke="#1a1a1a" stroke-width="0.18">K3WT</text>
<text x="470.80" y="513.90" font-size="10.6" fill="#1a1a1a" text-anchor="middle" stroke="#1a1a1a" stroke-width="0.18">K3KO</text>
<text x="470.80" y="526.00" font-size="10.6" fill="#1a1a1a" text-anchor="middle" stroke="#1a1a1a" stroke-width="0.18">EpoR-cre</text>
<text x="407.50" y="597.00" font-size="10.6" fill="#1a1a1a" text-anchor="middle" stroke="#1a1a1a" stroke-width="0.18">K3KO</text>
<text x="407.50" y="609.00" font-size="10.6" fill="#1a1a1a" text-anchor="middle" stroke="#1a1a1a" stroke-width="0.18">Lyz2-cre</text>
<text x="470.80" y="597.00" font-size="10.6" fill="#1a1a1a" text-anchor="middle" stroke="#1a1a1a" stroke-width="0.18">K3KI</text>
<line x1="49.50" y1="664.20" x2="323.10" y2="664.20" stroke="#b0b0b0" stroke-width="0.9"/>
<path d="M49.90,729.70 L49.90,681.29 L50.40,676.39 L50.90,674.47 L51.40,672.35 L51.90,670.10 L52.40,669.81 L52.90,668.94 L53.40,669.10 L53.90,670.89 L54.40,674.38 L54.90,677.60 L55.40,681.69 L55.90,687.73 L56.40,692.93 L56.90,698.46 L57.40,703.67 L57.90,707.65 L58.40,711.64 L58.90,714.91 L59.40,717.85 L59.90,721.62 L60.40,722.61 L60.90,723.51 L61.40,724.88 L61.90,726.24 L62.40,727.79 L62.90,728.24 L63.40,728.41 L63.90,728.59 L64.40,728.77 L64.90,728.95 L65.40,729.12 L65.90,729.30 L66.40,729.35 L66.90,729.40 L67.40,729.45 L67.90,729.50 L68.40,729.55 L68.90,729.60 L69.40,729.65 L69.90,729.70 L69.90,729.70 Z" fill="#8e8e8e" stroke="none"/>
<path d="M49.90,681.29 L50.40,676.39 L50.90,674.47 L51.40,672.35 L51.90,670.10 L52.40,669.81 L52.90,668.94 L53.40,669.10 L53.90,670.89 L54.40,674.38 L54.90,677.60 L55.40,681.69 L55.90,687.73 L56.40,692.93 L56.90,698.46 L57.40,703.67 L57.90,707.65 L58.40,711.64 L58.90,714.91 L59.40,717.85 L59.90,721.62 L60.40,722.61 L60.90,723.51 L61.40,724.88 L61.90,726.24 L62.40,727.79 L62.90,728.24 L63.40,728.41 L63.90,728.59 L64.40,728.77 L64.90,728.95 L65.40,729.12 L65.90,729.30 L66.40,729.35 L66.90,729.40 L67.40,729.45 L67.90,729.50 L68.40,729.55 L68.90,729.60 L69.40,729.65 L69.90,729.70" fill="none" stroke="#2a2a2a" stroke-width="0.6"/>
<line x1="49.50" y1="664.20" x2="49.50" y2="729.70" stroke="#555" stroke-width="0.9"/>
<line x1="49.50" y1="729.70" x2="103.80" y2="729.70" stroke="#888" stroke-width="0.7"/>
<line x1="52.50" y1="729.70" x2="52.50" y2="731.10" stroke="#666" stroke-width="0.6"/>
<text x="52.50" y="733.70" font-size="3.0" fill="#777" text-anchor="middle" transform="rotate(-45 52.50 733.70)">10</text>
<line x1="64.00" y1="729.70" x2="64.00" y2="731.10" stroke="#666" stroke-width="0.6"/>
<text x="64.00" y="733.70" font-size="3.0" fill="#777" text-anchor="middle" transform="rotate(-45 64.00 733.70)">10</text>
<line x1="75.50" y1="729.70" x2="75.50" y2="731.10" stroke="#666" stroke-width="0.6"/>
<text x="75.50" y="733.70" font-size="3.0" fill="#777" text-anchor="middle" transform="rotate(-45 75.50 733.70)">10</text>
<line x1="87.00" y1="729.70" x2="87.00" y2="731.10" stroke="#666" stroke-width="0.6"/>
<text x="87.00" y="733.70" font-size="3.0" fill="#777" text-anchor="middle" transform="rotate(-45 87.00 733.70)">10</text>
<line x1="98.50" y1="729.70" x2="98.50" y2="731.10" stroke="#666" stroke-width="0.6"/>
<text x="98.50" y="733.70" font-size="3.0" fill="#777" text-anchor="middle" transform="rotate(-45 98.50 733.70)">10</text>
<line x1="60.30" y1="686.60" x2="103.80" y2="686.60" stroke="#3c3c3c" stroke-width="1.1"/>
<line x1="60.30" y1="685.20" x2="60.30" y2="688.00" stroke="#3c3c3c" stroke-width="0.8"/>
<text x="94.80" y="685.00" font-size="10.3" fill="#1a1a1a" text-anchor="end" textLength="29.80" lengthAdjust="spacingAndGlyphs" stroke="#1a1a1a" stroke-width="0.18">2.38%</text>
<path d="M104.20,729.70 L104.20,718.14 L104.70,711.70 L105.20,706.68 L105.70,702.29 L106.20,698.74 L106.70,695.52 L107.20,692.01 L107.70,688.58 L108.20,686.15 L108.70,683.81 L109.20,681.70 L109.70,681.05 L110.20,679.51 L110.70,679.29 L111.20,677.62 L111.70,676.15 L112.20,675.93 L112.70,675.57 L113.20,676.12 L113.70,677.66 L114.20,678.50 L114.70,679.20 L115.20,680.05 L115.70,682.04 L116.20,683.56 L116.70,684.63 L117.20,686.43 L117.70,687.52 L118.20,688.58 L118.70,689.99 L119.20,692.02 L119.70,693.74 L120.20,695.47 L120.70,696.90 L121.20,698.82 L121.70,700.86 L122.20,701.59 L122.70,703.70 L123.20,705.36 L123.70,707.67 L124.20,708.46 L124.70,710.39 L125.20,713.04 L125.70,714.55 L126.20,715.89 L126.70,717.73 L127.20,719.28 L127.70,721.71 L128.20,723.05 L128.70,724.78 L129.20,725.67 L129.70,725.78 L130.20,725.87 L130.70,726.36 L131.20,727.21 L131.70,727.56 L132.20,728.11 L132.70,728.55 L133.20,729.00 L133.70,729.09 L134.20,729.18 L134.70,729.26 L135.20,729.35 L135.70,729.44 L136.20,729.53 L136.70,729.61 L137.20,729.70 L137.20,729.70 Z" fill="#8e8e8e" stroke="none"/>
<path d="M104.20,718.14 L104.70,711.70 L105.20,706.68 L105.70,702.29 L106.20,698.74 L106.70,695.52 L107.20,692.01 L107.70,688.58 L108.20,686.15 L108.70,683.81 L109.20,681.70 L109.70,681.05 L110.20,679.51 L110.70,679.29 L111.20,677.62 L111.70,676.15 L112.20,675.93 L112.70,675.57 L113.20,676.12 L113.70,677.66 L114.20,678.50 L114.70,679.20 L115.20,680.05 L115.70,682.04 L116.20,683.56 L116.70,684.63 L117.20,686.43 L117.70,687.52 L118.20,688.58 L118.70,689.99 L119.20,692.02 L119.70,693.74 L120.20,695.47 L120.70,696.90 L121.20,698.82 L121.70,700.86 L122.20,701.59 L122.70,703.70 L123.20,705.36 L123.70,707.67 L124.20,708.46 L124.70,710.39 L125.20,713.04 L125.70,714.55 L126.20,715.89 L126.70,717.73 L127.20,719.28 L127.70,721.71 L128.20,723.05 L128.70,724.78 L129.20,725.67 L129.70,725.78 L130.20,725.87 L130.70,726.36 L131.20,727.21 L131.70,727.56 L132.20,728.11 L132.70,728.55 L133.20,729.00 L133.70,729.09 L134.20,729.18 L134.70,729.26 L135.20,729.35 L135.70,729.44 L136.20,729.53 L136.70,729.61 L137.20,729.70" fill="none" stroke="#2a2a2a" stroke-width="0.6"/>
<line x1="103.80" y1="664.20" x2="103.80" y2="729.70" stroke="#555" stroke-width="0.9"/>
<line x1="103.80" y1="729.70" x2="158.90" y2="729.70" stroke="#888" stroke-width="0.7"/>
<line x1="106.80" y1="729.70" x2="106.80" y2="731.10" stroke="#666" stroke-width="0.6"/>
<text x="106.80" y="733.70" font-size="3.0" fill="#777" text-anchor="middle" transform="rotate(-45 106.80 733.70)">10</text>
<line x1="118.30" y1="729.70" x2="118.30" y2="731.10" stroke="#666" stroke-width="0.6"/>
<text x="118.30" y="733.70" font-size="3.0" fill="#777" text-anchor="middle" transform="rotate(-45 118.30 733.70)">10</text>
<line x1="129.80" y1="729.70" x2="129.80" y2="731.10" stroke="#666" stroke-width="0.6"/>
<text x="129.80" y="733.70" font-size="3.0" fill="#777" text-anchor="middle" transform="rotate(-45 129.80 733.70)">10</text>
<line x1="141.30" y1="729.70" x2="141.30" y2="731.10" stroke="#666" stroke-width="0.6"/>
<text x="141.30" y="733.70" font-size="3.0" fill="#777" text-anchor="middle" transform="rotate(-45 141.30 733.70)">10</text>
<line x1="152.80" y1="729.70" x2="152.80" y2="731.10" stroke="#666" stroke-width="0.6"/>
<text x="152.80" y="733.70" font-size="3.0" fill="#777" text-anchor="middle" transform="rotate(-45 152.80 733.70)">10</text>
<line x1="117.20" y1="686.60" x2="158.90" y2="686.60" stroke="#3c3c3c" stroke-width="1.1"/>
<line x1="117.20" y1="685.20" x2="117.20" y2="688.00" stroke="#3c3c3c" stroke-width="0.8"/>
<text x="151.50" y="685.00" font-size="10.3" fill="#1a1a1a" text-anchor="end" textLength="29.80" lengthAdjust="spacingAndGlyphs" stroke="#1a1a1a" stroke-width="0.18">27.2%</text>
<path d="M159.30,729.70 L159.30,724.15 L159.80,721.75 L160.30,720.41 L160.80,717.96 L161.30,712.08 L161.80,705.50 L162.30,698.88 L162.80,692.61 L163.30,688.07 L163.80,685.57 L164.30,683.10 L164.80,681.11 L165.30,678.28 L165.80,676.10 L166.30,674.58 L166.80,673.13 L167.30,675.18 L167.80,678.44 L168.30,681.33 L168.80,684.31 L169.30,686.82 L169.80,688.24 L170.30,689.12 L170.80,690.71 L171.30,692.04 L171.80,692.84 L172.30,694.69 L172.80,695.72 L173.30,697.09 L173.80,698.33 L174.30,698.95 L174.80,700.17 L175.30,700.70 L175.80,701.10 L176.30,702.75 L176.80,704.60 L177.30,705.01 L177.80,706.38 L178.30,707.72 L178.80,709.20 L179.30,711.35 L179.80,713.30 L180.30,715.81 L180.80,717.04 L181.30,718.97 L181.80,721.56 L182.30,722.48 L182.80,724.16 L183.30,726.09 L183.80,727.64 L184.30,728.20 L184.80,728.45 L185.30,728.70 L185.80,728.95 L186.30,729.20 L186.80,729.45 L187.30,729.70 L187.30,729.70 Z" fill="#8e8e8e" stroke="none"/>
<path d="M159.30,724.15 L159.80,721.75 L160.30,720.41 L160.80,717.96 L161.30,712.08 L161.80,705.50 L162.30,698.88 L162.80,692.61 L163.30,688.07 L163.80,685.57 L164.30,683.10 L164.80,681.11 L165.30,678.28 L165.80,676.10 L166.30,674.58 L166.80,673.13 L167.30,675.18 L167.80,678.44 L168.30,681.33 L168.80,684.31 L169.30,686.82 L169.80,688.24 L170.30,689.12 L170.80,690.71 L171.30,692.04 L171.80,692.84 L172.30,694.69 L172.80,695.72 L173.30,697.09 L173.80,698.33 L174.30,698.95 L174.80,700.17 L175.30,700.70 L175.80,701.10 L176.30,702.75 L176.80,704.60 L177.30,705.01 L177.80,706.38 L178.30,707.72 L178.80,709.20 L179.30,711.35 L179.80,713.30 L180.30,715.81 L180.80,717.04 L181.30,718.97 L181.80,721.56 L182.30,722.48 L182.80,724.16 L183.30,726.09 L183.80,727.64 L184.30,728.20 L184.80,728.45 L185.30,728.70 L185.80,728.95 L186.30,729.20 L186.80,729.45 L187.30,729.70" fill="none" stroke="#2a2a2a" stroke-width="0.6"/>
<line x1="158.90" y1="664.20" x2="158.90" y2="729.70" stroke="#555" stroke-width="0.9"/>
<line x1="158.90" y1="729.70" x2="213.40" y2="729.70" stroke="#888" stroke-width="0.7"/>
<line x1="161.90" y1="729.70" x2="161.90" y2="731.10" stroke="#666" stroke-width="0.6"/>
<text x="161.90" y="733.70" font-size="3.0" fill="#777" text-anchor="middle" transform="rotate(-45 161.90 733.70)">10</text>
<line x1="173.40" y1="729.70" x2="173.40" y2="731.10" stroke="#666" stroke-width="0.6"/>
<text x="173.40" y="733.70" font-size="3.0" fill="#777" text-anchor="middle" transform="rotate(-45 173.40 733.70)">10</text>
<line x1="184.90" y1="729.70" x2="184.90" y2="731.10" stroke="#666" stroke-width="0.6"/>
<text x="184.90" y="733.70" font-size="3.0" fill="#777" text-anchor="middle" transform="rotate(-45 184.90 733.70)">10</text>
<line x1="196.40" y1="729.70" x2="196.40" y2="731.10" stroke="#666" stroke-width="0.6"/>
<text x="196.40" y="733.70" font-size="3.0" fill="#777" text-anchor="middle" transform="rotate(-45 196.40 733.70)">10</text>
<line x1="207.90" y1="729.70" x2="207.90" y2="731.10" stroke="#666" stroke-width="0.6"/>
<text x="207.90" y="733.70" font-size="3.0" fill="#777" text-anchor="middle" transform="rotate(-45 207.90 733.70)">10</text>
<line x1="172.70" y1="686.60" x2="213.40" y2="686.60" stroke="#3c3c3c" stroke-width="1.1"/>
<line x1="172.70" y1="685.20" x2="172.70" y2="688.00" stroke="#3c3c3c" stroke-width="0.8"/>
<text x="207.30" y="685.00" font-size="10.3" fill="#1a1a1a" text-anchor="end" textLength="29.80" lengthAdjust="spacingAndGlyphs" stroke="#1a1a1a" stroke-width="0.18">28.5%</text>
<path d="M213.80,729.70 L213.80,727.01 L214.30,723.95 L214.80,721.47 L215.30,716.24 L215.80,707.88 L216.30,700.22 L216.80,693.74 L217.30,686.21 L217.80,682.74 L218.30,680.19 L218.80,676.69 L219.30,674.74 L219.80,673.40 L220.30,672.93 L220.80,671.83 L221.30,674.32 L221.80,675.64 L222.30,677.26 L222.80,681.67 L223.30,685.41 L223.80,689.17 L224.30,693.58 L224.80,696.42 L225.30,700.28 L225.80,704.28 L226.30,708.26 L226.80,709.16 L227.30,711.53 L227.80,713.14 L228.30,714.85 L228.80,716.32 L229.30,717.35 L229.80,719.27 L230.30,720.06 L230.80,721.77 L231.30,721.46 L231.80,721.82 L232.30,723.04 L232.80,723.28 L233.30,723.47 L233.80,722.86 L234.30,723.78 L234.80,724.15 L235.30,725.14 L235.80,725.49 L236.30,726.24 L236.80,726.88 L237.30,726.95 L237.80,727.29 L238.30,727.74 L238.80,728.09 L239.30,728.44 L239.80,728.78 L240.30,729.13 L240.80,729.26 L241.30,729.33 L241.80,729.41 L242.30,729.48 L242.80,729.55 L243.30,729.63 L243.80,729.70 L243.80,729.70 Z" fill="#8e8e8e" stroke="none"/>
<path d="M213.80,727.01 L214.30,723.95 L214.80,721.47 L215.30,716.24 L215.80,707.88 L216.30,700.22 L216.80,693.74 L217.30,686.21 L217.80,682.74 L218.30,680.19 L218.80,676.69 L219.30,674.74 L219.80,673.40 L220.30,672.93 L220.80,671.83 L221.30,674.32 L221.80,675.64 L222.30,677.26 L222.80,681.67 L223.30,685.41 L223.80,689.17 L224.30,693.58 L224.80,696.42 L225.30,700.28 L225.80,704.28 L226.30,708.26 L226.80,709.16 L227.30,711.53 L227.80,713.14 L228.30,714.85 L228.80,716.32 L229.30,717.35 L229.80,719.27 L230.30,720.06 L230.80,721.77 L231.30,721.46 L231.80,721.82 L232.30,723.04 L232.80,723.28 L233.30,723.47 L233.80,722.86 L234.30,723.78 L234.80,724.15 L235.30,725.14 L235.80,725.49 L236.30,726.24 L236.80,726.88 L237.30,726.95 L237.80,727.29 L238.30,727.74 L238.80,728.09 L239.30,728.44 L239.80,728.78 L240.30,729.13 L240.80,729.26 L241.30,729.33 L241.80,729.41 L242.30,729.48 L242.80,729.55 L243.30,729.63 L243.80,729.70" fill="none" stroke="#2a2a2a" stroke-width="0.6"/>
<line x1="213.40" y1="664.20" x2="213.40" y2="729.70" stroke="#555" stroke-width="0.9"/>
<line x1="213.40" y1="729.70" x2="268.30" y2="729.70" stroke="#888" stroke-width="0.7"/>
<line x1="216.40" y1="729.70" x2="216.40" y2="731.10" stroke="#666" stroke-width="0.6"/>
<text x="216.40" y="733.70" font-size="3.0" fill="#777" text-anchor="middle" transform="rotate(-45 216.40 733.70)">10</text>
<line x1="227.90" y1="729.70" x2="227.90" y2="731.10" stroke="#666" stroke-width="0.6"/>
<text x="227.90" y="733.70" font-size="3.0" fill="#777" text-anchor="middle" transform="rotate(-45 227.90 733.70)">10</text>
<line x1="239.40" y1="729.70" x2="239.40" y2="731.10" stroke="#666" stroke-width="0.6"/>
<text x="239.40" y="733.70" font-size="3.0" fill="#777" text-anchor="middle" transform="rotate(-45 239.40 733.70)">10</text>
<line x1="250.90" y1="729.70" x2="250.90" y2="731.10" stroke="#666" stroke-width="0.6"/>
<text x="250.90" y="733.70" font-size="3.0" fill="#777" text-anchor="middle" transform="rotate(-45 250.90 733.70)">10</text>
<line x1="262.40" y1="729.70" x2="262.40" y2="731.10" stroke="#666" stroke-width="0.6"/>
<text x="262.40" y="733.70" font-size="3.0" fill="#777" text-anchor="middle" transform="rotate(-45 262.40 733.70)">10</text>
<line x1="226.30" y1="686.60" x2="268.30" y2="686.60" stroke="#3c3c3c" stroke-width="1.1"/>
<line x1="226.30" y1="685.20" x2="226.30" y2="688.00" stroke="#3c3c3c" stroke-width="0.8"/>
<text x="262.50" y="685.00" font-size="10.3" fill="#1a1a1a" text-anchor="end" textLength="29.80" lengthAdjust="spacingAndGlyphs" stroke="#1a1a1a" stroke-width="0.18">14.9%</text>
<path d="M268.70,729.70 L268.70,725.02 L269.20,722.90 L269.70,720.28 L270.20,712.82 L270.70,703.81 L271.20,694.29 L271.70,686.67 L272.20,682.99 L272.70,679.21 L273.20,676.03 L273.70,674.48 L274.20,673.62 L274.70,672.56 L275.20,674.02 L275.70,676.97 L276.20,679.19 L276.70,684.69 L277.20,690.10 L277.70,694.67 L278.20,698.73 L278.70,701.93 L279.20,704.17 L279.70,706.67 L280.20,708.19 L280.70,709.18 L281.20,711.15 L281.70,711.55 L282.20,712.49 L282.70,713.21 L283.20,714.13 L283.70,714.29 L284.20,715.27 L284.70,714.78 L285.20,715.71 L285.70,716.94 L286.20,718.09 L286.70,718.21 L287.20,719.73 L287.70,720.48 L288.20,721.64 L288.70,722.91 L289.20,723.72 L289.70,724.19 L290.20,725.09 L290.70,726.11 L291.20,726.41 L291.70,726.27 L292.20,727.67 L292.70,728.14 L293.20,728.06 L293.70,728.54 L294.20,729.01 L294.70,729.27 L295.20,729.37 L295.70,729.48 L296.20,729.59 L296.70,729.70 L296.70,729.70 Z" fill="#8e8e8e" stroke="none"/>
<path d="M268.70,725.02 L269.20,722.90 L269.70,720.28 L270.20,712.82 L270.70,703.81 L271.20,694.29 L271.70,686.67 L272.20,682.99 L272.70,679.21 L273.20,676.03 L273.70,674.48 L274.20,673.62 L274.70,672.56 L275.20,674.02 L275.70,676.97 L276.20,679.19 L276.70,684.69 L277.20,690.10 L277.70,694.67 L278.20,698.73 L278.70,701.93 L279.20,704.17 L279.70,706.67 L280.20,708.19 L280.70,709.18 L281.20,711.15 L281.70,711.55 L282.20,712.49 L282.70,713.21 L283.20,714.13 L283.70,714.29 L284.20,715.27 L284.70,714.78 L285.20,715.71 L285.70,716.94 L286.20,718.09 L286.70,718.21 L287.20,719.73 L287.70,720.48 L288.20,721.64 L288.70,722.91 L289.20,723.72 L289.70,724.19 L290.20,725.09 L290.70,726.11 L291.20,726.41 L291.70,726.27 L292.20,727.67 L292.70,728.14 L293.20,728.06 L293.70,728.54 L294.20,729.01 L294.70,729.27 L295.20,729.37 L295.70,729.48 L296.20,729.59 L296.70,729.70" fill="none" stroke="#2a2a2a" stroke-width="0.6"/>
<line x1="268.30" y1="664.20" x2="268.30" y2="729.70" stroke="#555" stroke-width="0.9"/>
<line x1="268.30" y1="729.70" x2="323.10" y2="729.70" stroke="#888" stroke-width="0.7"/>
<line x1="271.30" y1="729.70" x2="271.30" y2="731.10" stroke="#666" stroke-width="0.6"/>
<text x="271.30" y="733.70" font-size="3.0" fill="#777" text-anchor="middle" transform="rotate(-45 271.30 733.70)">10</text>
<line x1="282.80" y1="729.70" x2="282.80" y2="731.10" stroke="#666" stroke-width="0.6"/>
<text x="282.80" y="733.70" font-size="3.0" fill="#777" text-anchor="middle" transform="rotate(-45 282.80 733.70)">10</text>
<line x1="294.30" y1="729.70" x2="294.30" y2="731.10" stroke="#666" stroke-width="0.6"/>
<text x="294.30" y="733.70" font-size="3.0" fill="#777" text-anchor="middle" transform="rotate(-45 294.30 733.70)">10</text>
<line x1="305.80" y1="729.70" x2="305.80" y2="731.10" stroke="#666" stroke-width="0.6"/>
<text x="305.80" y="733.70" font-size="3.0" fill="#777" text-anchor="middle" transform="rotate(-45 305.80 733.70)">10</text>
<line x1="317.30" y1="729.70" x2="317.30" y2="731.10" stroke="#666" stroke-width="0.6"/>
<text x="317.30" y="733.70" font-size="3.0" fill="#777" text-anchor="middle" transform="rotate(-45 317.30 733.70)">10</text>
<line x1="281.50" y1="686.60" x2="323.10" y2="686.60" stroke="#3c3c3c" stroke-width="1.1"/>
<line x1="281.50" y1="685.20" x2="281.50" y2="688.00" stroke="#3c3c3c" stroke-width="0.8"/>
<text x="316.90" y="685.00" font-size="10.3" fill="#1a1a1a" text-anchor="end" textLength="29.80" lengthAdjust="spacingAndGlyphs" stroke="#1a1a1a" stroke-width="0.18">16.9%</text>
<line x1="323.10" y1="664.20" x2="323.10" y2="729.70" stroke="#999" stroke-width="0.8"/>
<line x1="47.90" y1="729.20" x2="49.50" y2="729.20" stroke="#555" stroke-width="0.6"/>
<text x="46.80" y="730.20" font-size="3.0" fill="#777" text-anchor="end" transform="rotate(-45 46.80 730.20)">10</text>
<line x1="47.90" y1="717.00" x2="49.50" y2="717.00" stroke="#555" stroke-width="0.6"/>
<text x="46.80" y="718.00" font-size="3.0" fill="#777" text-anchor="end" transform="rotate(-45 46.80 718.00)">10</text>
<line x1="47.90" y1="704.80" x2="49.50" y2="704.80" stroke="#555" stroke-width="0.6"/>
<text x="46.80" y="705.80" font-size="3.0" fill="#777" text-anchor="end" transform="rotate(-45 46.80 705.80)">10</text>
<line x1="47.90" y1="692.60" x2="49.50" y2="692.60" stroke="#555" stroke-width="0.6"/>
<text x="46.80" y="693.60" font-size="3.0" fill="#777" text-anchor="end" transform="rotate(-45 46.80 693.60)">10</text>
<line x1="47.90" y1="680.40" x2="49.50" y2="680.40" stroke="#555" stroke-width="0.6"/>
<text x="46.80" y="681.40" font-size="3.0" fill="#777" text-anchor="end" transform="rotate(-45 46.80 681.40)">10</text>
<line x1="47.90" y1="668.20" x2="49.50" y2="668.20" stroke="#555" stroke-width="0.6"/>
<text x="46.80" y="669.20" font-size="3.0" fill="#777" text-anchor="end" transform="rotate(-45 46.80 669.20)">10</text>
<text x="34.00" y="700.80" font-size="12.2" fill="#1a1a1a" text-anchor="middle" font-weight="bold" textLength="26.40" lengthAdjust="spacingAndGlyphs" transform="rotate(-90 34.00 700.80)">Counts</text>
<text x="75.40" y="749.30" font-size="10.4" fill="#1a1a1a" text-anchor="middle" stroke="#1a1a1a" stroke-width="0.18">isotype ctrl</text>
<text x="74.80" y="761.30" font-size="10.4" fill="#1a1a1a" text-anchor="middle" stroke="#1a1a1a" stroke-width="0.18">K3WT</text>
<text x="129.20" y="749.30" font-size="10.4" fill="#1a1a1a" text-anchor="middle" stroke="#1a1a1a" stroke-width="0.18">F4/80</text>
<text x="129.20" y="761.30" font-size="10.4" fill="#1a1a1a" text-anchor="middle" stroke="#1a1a1a" stroke-width="0.18">K3WT</text>
<text x="186.30" y="764.60" font-size="10.4" fill="#1a1a1a" text-anchor="middle" stroke="#1a1a1a" stroke-width="0.18">K3KO</text>
<text x="186.30" y="777.00" font-size="10.4" fill="#1a1a1a" text-anchor="middle" stroke="#1a1a1a" stroke-width="0.18">EpoR-cre</text>
<text x="239.30" y="764.60" font-size="10.4" fill="#1a1a1a" text-anchor="middle" stroke="#1a1a1a" stroke-width="0.18">K3KO</text>
<text x="239.30" y="777.00" font-size="10.4" fill="#1a1a1a" text-anchor="middle" stroke="#1a1a1a" stroke-width="0.18">Lyz2-cre</text>
<text x="295.40" y="764.60" font-size="10.4" fill="#1a1a1a" text-anchor="middle" stroke="#1a1a1a" stroke-width="0.18">K3KI</text>
<line x1="155.20" y1="746.40" x2="308.00" y2="746.40" stroke="#111" stroke-width="1.2"/>
<path d="M314.6,746.4 L306.8,743.2 L308.4,746.4 L306.8,749.6 Z" fill="#111"/>
<rect x="0.5" y="0.5" width="519" height="810" fill="none" stroke="#333" stroke-width="1.2"/></svg>
</body></html>
